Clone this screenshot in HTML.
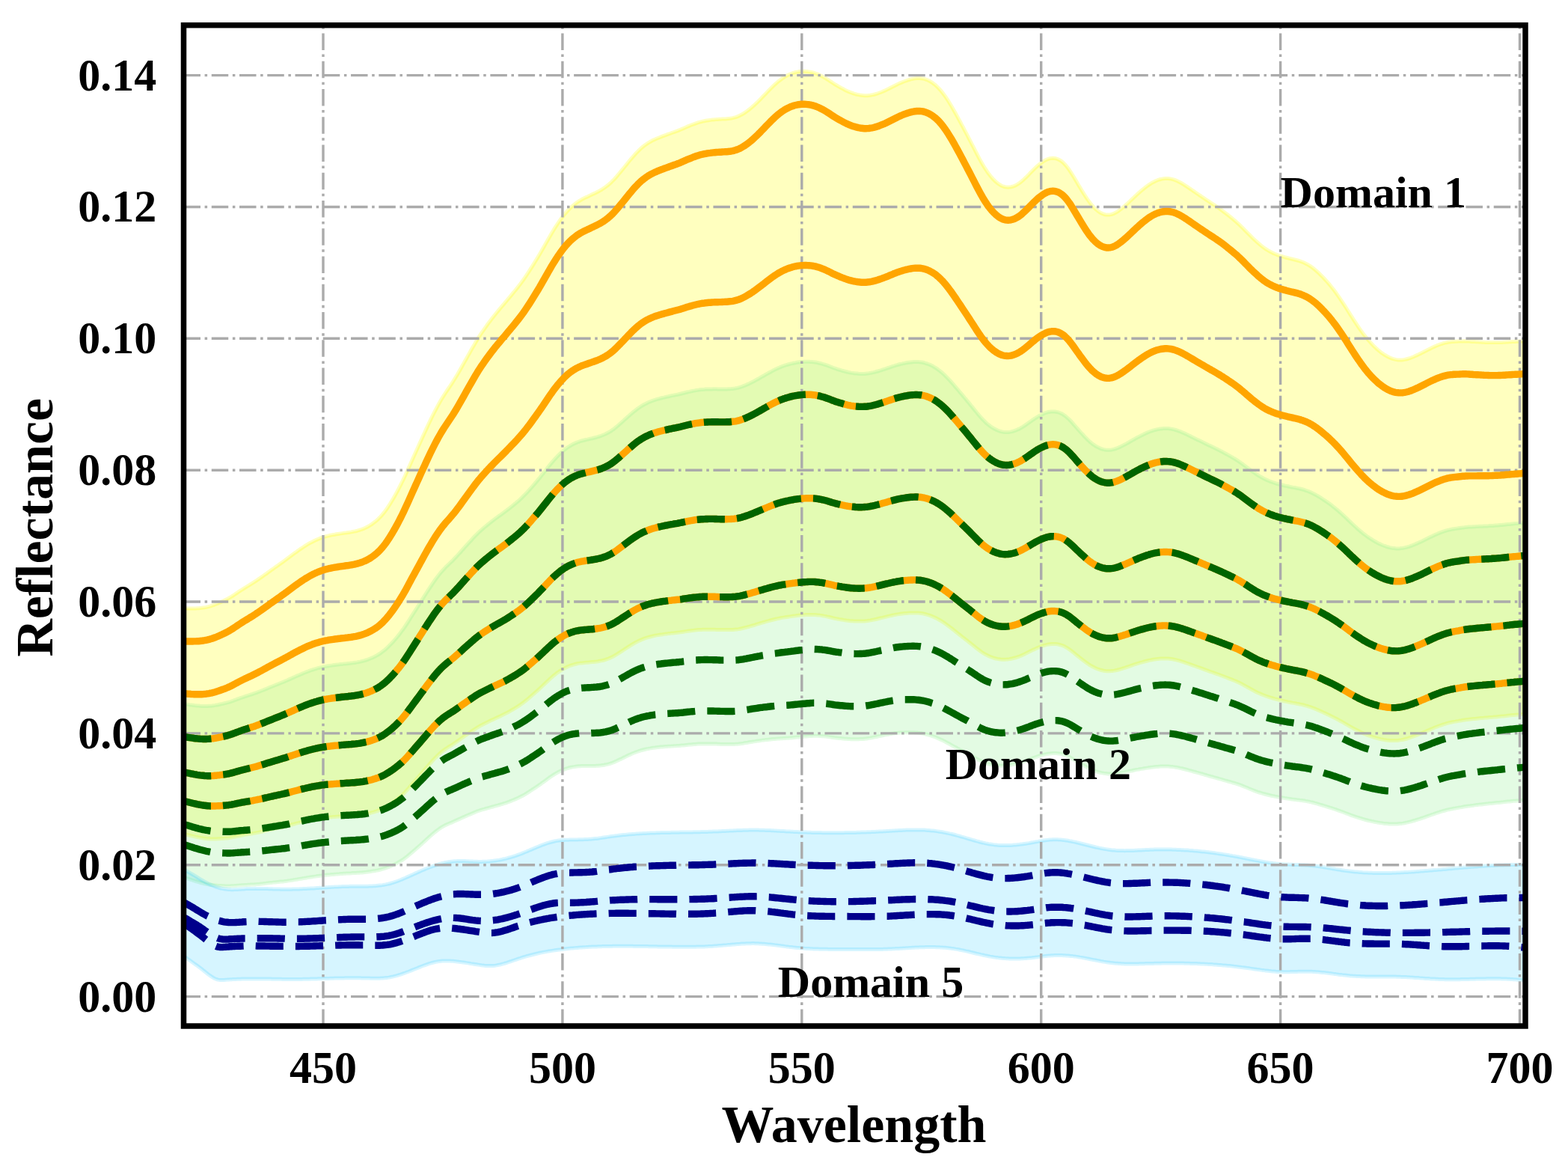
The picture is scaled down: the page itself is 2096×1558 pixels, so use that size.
<!DOCTYPE html>
<html><head><meta charset="utf-8"><title>Reflectance vs Wavelength</title>
<style>
html,body{margin:0;padding:0;background:#fff;}
body{width:2096px;height:1558px;overflow:hidden;}
svg{display:block;}
text{font-family:"Liberation Serif","Times New Roman",serif;font-weight:bold;fill:#000;}
.t{font-size:60px;}
.l{font-size:70px;}
</style></head><body>
<svg width="2096" height="1558" viewBox="0 0 2096 1558">
<rect width="2096" height="1558" fill="#fff"/>
<defs><clipPath id="ax"><rect x="245.5" y="33.7" width="1793.5" height="1337.3"/></clipPath></defs>
<g clip-path="url(#ax)">
<path d="M245.5,813.1 L247.5,813.0 L249.5,813.0 L251.5,813.0 L253.5,813.0 L255.5,813.0 L257.5,813.0 L259.5,813.0 L261.5,812.9 L263.5,812.8 L265.5,812.7 L267.5,812.5 L269.5,812.3 L271.5,812.0 L273.5,811.7 L275.5,811.4 L277.5,810.9 L279.5,810.4 L281.5,809.9 L283.5,809.2 L285.5,808.6 L287.5,807.8 L289.5,807.0 L291.5,806.2 L293.5,805.3 L295.5,804.4 L297.5,803.5 L299.5,802.5 L301.5,801.5 L303.5,800.5 L305.5,799.4 L307.5,798.3 L309.5,797.1 L311.5,795.8 L313.5,794.5 L315.5,793.1 L317.5,791.8 L319.5,790.4 L321.5,789.1 L323.5,787.9 L325.5,786.6 L327.5,785.3 L329.5,784.1 L331.5,782.9 L333.5,781.7 L335.5,780.4 L337.5,779.2 L339.5,777.9 L341.5,776.6 L343.5,775.3 L345.5,773.9 L347.5,772.5 L349.5,771.1 L351.5,769.7 L353.5,768.3 L355.5,766.9 L357.5,765.4 L359.5,764.0 L361.5,762.6 L363.5,761.1 L365.5,759.7 L367.5,758.3 L369.5,756.9 L371.5,755.5 L373.5,754.0 L375.5,752.6 L377.5,751.2 L379.5,749.7 L381.5,748.3 L383.5,746.8 L385.5,745.3 L387.5,743.8 L389.5,742.3 L391.5,740.8 L393.5,739.3 L395.5,737.9 L397.5,736.4 L399.5,735.0 L401.5,733.6 L403.5,732.3 L405.5,731.0 L407.5,729.7 L409.5,728.4 L411.5,727.2 L413.5,726.0 L415.5,724.9 L417.5,723.9 L419.5,722.9 L421.5,722.0 L423.5,721.1 L425.5,720.2 L427.5,719.4 L429.5,718.7 L431.5,718.0 L433.5,717.3 L435.5,716.8 L437.5,716.2 L439.5,715.8 L441.5,715.3 L443.5,714.9 L445.5,714.5 L447.5,714.2 L449.5,713.8 L451.5,713.5 L453.5,713.2 L455.5,712.9 L457.5,712.6 L459.5,712.3 L461.5,712.1 L463.5,711.8 L465.5,711.5 L467.5,711.2 L469.5,710.9 L471.5,710.5 L473.5,710.1 L475.5,709.7 L477.5,709.2 L479.5,708.6 L481.5,708.0 L483.5,707.3 L485.5,706.6 L487.5,705.7 L489.5,704.8 L491.5,703.7 L493.5,702.6 L495.5,701.4 L497.5,700.1 L499.5,698.6 L501.5,697.1 L503.5,695.4 L505.5,693.6 L507.5,691.6 L509.5,689.5 L511.5,687.1 L513.5,684.7 L515.5,682.0 L517.5,679.2 L519.5,676.2 L521.5,673.1 L523.5,669.8 L525.5,666.5 L527.5,663.0 L529.5,659.4 L531.5,655.7 L533.5,651.9 L535.5,648.0 L537.5,644.0 L539.5,639.9 L541.5,635.7 L543.5,631.3 L545.5,626.9 L547.5,622.4 L549.5,617.9 L551.5,613.4 L553.5,609.0 L555.5,604.6 L557.5,600.2 L559.5,595.8 L561.5,591.4 L563.5,587.0 L565.5,582.6 L567.5,578.2 L569.5,573.9 L571.5,569.6 L573.5,565.3 L575.5,561.1 L577.5,557.0 L579.5,553.0 L581.5,549.1 L583.5,545.3 L585.5,541.6 L587.5,538.0 L589.5,534.6 L591.5,531.3 L593.5,528.1 L595.5,525.0 L597.5,522.0 L599.5,519.0 L601.5,516.1 L603.5,513.1 L605.5,510.0 L607.5,506.8 L609.5,503.5 L611.5,500.2 L613.5,496.7 L615.5,493.2 L617.5,489.7 L619.5,486.1 L621.5,482.5 L623.5,479.0 L625.5,475.4 L627.5,471.9 L629.5,468.3 L631.5,464.8 L633.5,461.4 L635.5,457.9 L637.5,454.6 L639.5,451.3 L641.5,448.2 L643.5,445.2 L645.5,442.3 L647.5,439.4 L649.5,436.6 L651.5,433.8 L653.5,431.1 L655.5,428.4 L657.5,425.8 L659.5,423.2 L661.5,420.7 L663.5,418.2 L665.5,415.8 L667.5,413.4 L669.5,411.0 L671.5,408.7 L673.5,406.3 L675.5,403.9 L677.5,401.6 L679.5,399.2 L681.5,396.8 L683.5,394.4 L685.5,391.9 L687.5,389.5 L689.5,387.1 L691.5,384.6 L693.5,382.0 L695.5,379.4 L697.5,376.7 L699.5,374.0 L701.5,371.1 L703.5,368.2 L705.5,365.2 L707.5,362.1 L709.5,358.9 L711.5,355.8 L713.5,352.6 L715.5,349.3 L717.5,346.1 L719.5,342.8 L721.5,339.4 L723.5,336.0 L725.5,332.5 L727.5,329.0 L729.5,325.4 L731.5,321.9 L733.5,318.4 L735.5,314.9 L737.5,311.5 L739.5,308.2 L741.5,304.9 L743.5,301.8 L745.5,298.8 L747.5,295.9 L749.5,293.0 L751.5,290.3 L753.5,287.7 L755.5,285.3 L757.5,283.0 L759.5,280.8 L761.5,278.8 L763.5,276.9 L765.5,275.1 L767.5,273.4 L769.5,271.8 L771.5,270.3 L773.5,269.0 L775.5,267.8 L777.5,266.6 L779.5,265.6 L781.5,264.6 L783.5,263.6 L785.5,262.7 L787.5,261.7 L789.5,260.8 L791.5,259.8 L793.5,258.9 L795.5,258.0 L797.5,257.0 L799.5,256.0 L801.5,254.9 L803.5,253.8 L805.5,252.5 L807.5,251.2 L809.5,249.8 L811.5,248.3 L813.5,246.7 L815.5,245.0 L817.5,243.1 L819.5,241.1 L821.5,239.0 L823.5,236.8 L825.5,234.4 L827.5,232.0 L829.5,229.6 L831.5,227.2 L833.5,224.7 L835.5,222.2 L837.5,219.8 L839.5,217.3 L841.5,214.8 L843.5,212.4 L845.5,210.1 L847.5,207.8 L849.5,205.5 L851.5,203.4 L853.5,201.4 L855.5,199.5 L857.5,197.7 L859.5,196.0 L861.5,194.4 L863.5,193.0 L865.5,191.6 L867.5,190.4 L869.5,189.2 L871.5,188.1 L873.5,187.1 L875.5,186.2 L877.5,185.3 L879.5,184.5 L881.5,183.7 L883.5,182.9 L885.5,182.1 L887.5,181.4 L889.5,180.7 L891.5,179.9 L893.5,179.2 L895.5,178.5 L897.5,177.7 L899.5,177.0 L901.5,176.3 L903.5,175.6 L905.5,174.9 L907.5,174.1 L909.5,173.3 L911.5,172.4 L913.5,171.6 L915.5,170.7 L917.5,169.8 L919.5,168.9 L921.5,168.1 L923.5,167.3 L925.5,166.5 L927.5,165.8 L929.5,165.1 L931.5,164.4 L933.5,163.7 L935.5,163.1 L937.5,162.6 L939.5,162.1 L941.5,161.7 L943.5,161.3 L945.5,161.0 L947.5,160.7 L949.5,160.4 L951.5,160.1 L953.5,159.9 L955.5,159.7 L957.5,159.6 L959.5,159.4 L961.5,159.3 L963.5,159.2 L965.5,159.1 L967.5,159.0 L969.5,158.9 L971.5,158.7 L973.5,158.5 L975.5,158.3 L977.5,158.0 L979.5,157.6 L981.5,157.1 L983.5,156.6 L985.5,155.9 L987.5,155.0 L989.5,154.1 L991.5,153.1 L993.5,151.9 L995.5,150.6 L997.5,149.2 L999.5,147.8 L1001.5,146.2 L1003.5,144.6 L1005.5,142.9 L1007.5,141.1 L1009.5,139.3 L1011.5,137.4 L1013.5,135.4 L1015.5,133.4 L1017.5,131.4 L1019.5,129.3 L1021.5,127.2 L1023.5,125.2 L1025.5,123.1 L1027.5,121.0 L1029.5,119.0 L1031.5,117.0 L1033.5,115.0 L1035.5,113.1 L1037.5,111.3 L1039.5,109.6 L1041.5,107.9 L1043.5,106.4 L1045.5,104.9 L1047.5,103.6 L1049.5,102.4 L1051.5,101.3 L1053.5,100.2 L1055.5,99.3 L1057.5,98.5 L1059.5,97.7 L1061.5,97.1 L1063.5,96.5 L1065.5,96.1 L1067.5,95.8 L1069.5,95.5 L1071.5,95.4 L1073.5,95.3 L1075.5,95.3 L1077.5,95.4 L1079.5,95.6 L1081.5,95.9 L1083.5,96.2 L1085.5,96.6 L1087.5,97.2 L1089.5,97.8 L1091.5,98.5 L1093.5,99.4 L1095.5,100.3 L1097.5,101.2 L1099.5,102.3 L1101.5,103.4 L1103.5,104.5 L1105.5,105.8 L1107.5,107.0 L1109.5,108.4 L1111.5,109.7 L1113.5,111.0 L1115.5,112.3 L1117.5,113.5 L1119.5,114.7 L1121.5,115.9 L1123.5,117.0 L1125.5,118.1 L1127.5,119.1 L1129.5,120.2 L1131.5,121.2 L1133.5,122.1 L1135.5,122.9 L1137.5,123.7 L1139.5,124.4 L1141.5,125.1 L1143.5,125.7 L1145.5,126.2 L1147.5,126.6 L1149.5,127.0 L1151.5,127.3 L1153.5,127.6 L1155.5,127.7 L1157.5,127.7 L1159.5,127.7 L1161.5,127.5 L1163.5,127.3 L1165.5,126.9 L1167.5,126.5 L1169.5,126.0 L1171.5,125.4 L1173.5,124.8 L1175.5,124.0 L1177.5,123.3 L1179.5,122.5 L1181.5,121.6 L1183.5,120.7 L1185.5,119.7 L1187.5,118.8 L1189.5,117.8 L1191.5,116.7 L1193.5,115.7 L1195.5,114.7 L1197.5,113.7 L1199.5,112.7 L1201.5,111.8 L1203.5,110.9 L1205.5,110.1 L1207.5,109.3 L1209.5,108.5 L1211.5,107.8 L1213.5,107.1 L1215.5,106.5 L1217.5,105.9 L1219.5,105.5 L1221.5,105.1 L1223.5,104.8 L1225.5,104.6 L1227.5,104.5 L1229.5,104.5 L1231.5,104.7 L1233.5,105.0 L1235.5,105.4 L1237.5,106.1 L1239.5,106.8 L1241.5,107.7 L1243.5,108.8 L1245.5,110.0 L1247.5,111.4 L1249.5,112.9 L1251.5,114.7 L1253.5,116.6 L1255.5,118.7 L1257.5,120.9 L1259.5,123.4 L1261.5,126.0 L1263.5,128.7 L1265.5,131.7 L1267.5,134.7 L1269.5,138.0 L1271.5,141.3 L1273.5,144.7 L1275.5,148.2 L1277.5,151.8 L1279.5,155.4 L1281.5,159.1 L1283.5,162.8 L1285.5,166.6 L1287.5,170.3 L1289.5,174.1 L1291.5,177.9 L1293.5,181.7 L1295.5,185.6 L1297.5,189.4 L1299.5,193.3 L1301.5,197.2 L1303.5,201.1 L1305.5,205.0 L1307.5,208.8 L1309.5,212.6 L1311.5,216.2 L1313.5,219.7 L1315.5,223.1 L1317.5,226.2 L1319.5,229.2 L1321.5,232.0 L1323.5,234.6 L1325.5,237.0 L1327.5,239.2 L1329.5,241.3 L1331.5,243.1 L1333.5,244.8 L1335.5,246.2 L1337.5,247.5 L1339.5,248.5 L1341.5,249.3 L1343.5,249.8 L1345.5,250.1 L1347.5,250.2 L1349.5,250.1 L1351.5,249.8 L1353.5,249.3 L1355.5,248.6 L1357.5,247.7 L1359.5,246.6 L1361.5,245.4 L1363.5,244.0 L1365.5,242.4 L1367.5,240.7 L1369.5,238.8 L1371.5,236.9 L1373.5,234.9 L1375.5,232.9 L1377.5,230.8 L1379.5,228.8 L1381.5,226.8 L1383.5,224.8 L1385.5,222.9 L1387.5,221.1 L1389.5,219.5 L1391.5,217.9 L1393.5,216.5 L1395.5,215.2 L1397.5,214.0 L1399.5,213.0 L1401.5,212.3 L1403.5,211.7 L1405.5,211.4 L1407.5,211.3 L1409.5,211.5 L1411.5,211.8 L1413.5,212.5 L1415.5,213.4 L1417.5,214.5 L1419.5,215.9 L1421.5,217.6 L1423.5,219.7 L1425.5,221.9 L1427.5,224.5 L1429.5,227.3 L1431.5,230.3 L1433.5,233.5 L1435.5,236.8 L1437.5,240.1 L1439.5,243.5 L1441.5,246.9 L1443.5,250.2 L1445.5,253.6 L1447.5,256.8 L1449.5,260.0 L1451.5,263.1 L1453.5,266.1 L1455.5,268.9 L1457.5,271.6 L1459.5,274.1 L1461.5,276.3 L1463.5,278.4 L1465.5,280.2 L1467.5,281.9 L1469.5,283.3 L1471.5,284.5 L1473.5,285.4 L1475.5,286.2 L1477.5,286.7 L1479.5,287.0 L1481.5,287.1 L1483.5,286.9 L1485.5,286.5 L1487.5,285.9 L1489.5,285.1 L1491.5,284.1 L1493.5,282.9 L1495.5,281.6 L1497.5,280.1 L1499.5,278.6 L1501.5,276.9 L1503.5,275.2 L1505.5,273.4 L1507.5,271.6 L1509.5,269.7 L1511.5,267.8 L1513.5,265.9 L1515.5,264.0 L1517.5,262.1 L1519.5,260.2 L1521.5,258.4 L1523.5,256.6 L1525.5,254.9 L1527.5,253.2 L1529.5,251.6 L1531.5,250.0 L1533.5,248.5 L1535.5,247.1 L1537.5,245.8 L1539.5,244.5 L1541.5,243.4 L1543.5,242.4 L1545.5,241.5 L1547.5,240.7 L1549.5,240.0 L1551.5,239.5 L1553.5,239.1 L1555.5,238.7 L1557.5,238.6 L1559.5,238.5 L1561.5,238.6 L1563.5,238.8 L1565.5,239.1 L1567.5,239.6 L1569.5,240.2 L1571.5,240.9 L1573.5,241.7 L1575.5,242.7 L1577.5,243.7 L1579.5,244.8 L1581.5,246.0 L1583.5,247.3 L1585.5,248.6 L1587.5,249.9 L1589.5,251.3 L1591.5,252.6 L1593.5,254.0 L1595.5,255.4 L1597.5,256.8 L1599.5,258.2 L1601.5,259.5 L1603.5,260.9 L1605.5,262.2 L1607.5,263.6 L1609.5,264.9 L1611.5,266.3 L1613.5,267.6 L1615.5,268.9 L1617.5,270.2 L1619.5,271.6 L1621.5,272.9 L1623.5,274.2 L1625.5,275.5 L1627.5,276.8 L1629.5,278.2 L1631.5,279.7 L1633.5,281.2 L1635.5,282.7 L1637.5,284.2 L1639.5,285.7 L1641.5,287.3 L1643.5,288.9 L1645.5,290.5 L1647.5,292.1 L1649.5,293.8 L1651.5,295.5 L1653.5,297.3 L1655.5,299.1 L1657.5,301.0 L1659.5,303.0 L1661.5,304.9 L1663.5,307.0 L1665.5,309.0 L1667.5,311.1 L1669.5,313.1 L1671.5,315.1 L1673.5,317.1 L1675.5,319.0 L1677.5,320.8 L1679.5,322.7 L1681.5,324.4 L1683.5,326.2 L1685.5,327.9 L1687.5,329.5 L1689.5,331.0 L1691.5,332.4 L1693.5,333.7 L1695.5,334.9 L1697.5,336.0 L1699.5,337.1 L1701.5,338.1 L1703.5,339.0 L1705.5,339.8 L1707.5,340.6 L1709.5,341.3 L1711.5,341.9 L1713.5,342.5 L1715.5,343.1 L1717.5,343.7 L1719.5,344.2 L1721.5,344.7 L1723.5,345.3 L1725.5,345.7 L1727.5,346.2 L1729.5,346.7 L1731.5,347.2 L1733.5,347.7 L1735.5,348.2 L1737.5,348.9 L1739.5,349.6 L1741.5,350.3 L1743.5,351.2 L1745.5,352.2 L1747.5,353.2 L1749.5,354.4 L1751.5,355.6 L1753.5,357.0 L1755.5,358.5 L1757.5,360.1 L1759.5,361.8 L1761.5,363.6 L1763.5,365.4 L1765.5,367.4 L1767.5,369.4 L1769.5,371.5 L1771.5,373.7 L1773.5,375.9 L1775.5,378.2 L1777.5,380.5 L1779.5,383.0 L1781.5,385.5 L1783.5,388.1 L1785.5,390.8 L1787.5,393.6 L1789.5,396.4 L1791.5,399.3 L1793.5,402.3 L1795.5,405.3 L1797.5,408.4 L1799.5,411.5 L1801.5,414.7 L1803.5,417.9 L1805.5,421.1 L1807.5,424.2 L1809.5,427.3 L1811.5,430.4 L1813.5,433.4 L1815.5,436.4 L1817.5,439.3 L1819.5,442.1 L1821.5,444.9 L1823.5,447.5 L1825.5,450.1 L1827.5,452.5 L1829.5,454.9 L1831.5,457.1 L1833.5,459.3 L1835.5,461.4 L1837.5,463.4 L1839.5,465.3 L1841.5,467.1 L1843.5,468.8 L1845.5,470.4 L1847.5,471.9 L1849.5,473.3 L1851.5,474.5 L1853.5,475.7 L1855.5,476.8 L1857.5,477.8 L1859.5,478.6 L1861.5,479.3 L1863.5,479.9 L1865.5,480.4 L1867.5,480.7 L1869.5,480.9 L1871.5,480.9 L1873.5,480.9 L1875.5,480.7 L1877.5,480.4 L1879.5,480.0 L1881.5,479.5 L1883.5,478.9 L1885.5,478.3 L1887.5,477.5 L1889.5,476.7 L1891.5,475.8 L1893.5,474.9 L1895.5,474.0 L1897.5,473.0 L1899.5,472.1 L1901.5,471.1 L1903.5,470.0 L1905.5,469.0 L1907.5,468.0 L1909.5,466.9 L1911.5,465.9 L1913.5,464.9 L1915.5,464.0 L1917.5,463.1 L1919.5,462.2 L1921.5,461.4 L1923.5,460.7 L1925.5,459.9 L1927.5,459.3 L1929.5,458.7 L1931.5,458.1 L1933.5,457.7 L1935.5,457.3 L1937.5,456.9 L1939.5,456.7 L1941.5,456.5 L1943.5,456.4 L1945.5,456.3 L1947.5,456.2 L1949.5,456.1 L1951.5,456.0 L1953.5,455.9 L1955.5,455.9 L1957.5,455.8 L1959.5,455.9 L1961.5,455.9 L1963.5,456.1 L1965.5,456.2 L1967.5,456.4 L1969.5,456.5 L1971.5,456.6 L1973.5,456.7 L1975.5,456.8 L1977.5,456.9 L1979.5,457.0 L1981.5,457.2 L1983.5,457.3 L1985.5,457.4 L1987.5,457.5 L1989.5,457.5 L1991.5,457.6 L1993.5,457.6 L1995.5,457.6 L1997.5,457.6 L1999.5,457.6 L2001.5,457.6 L2003.5,457.6 L2005.5,457.5 L2007.5,457.4 L2009.5,457.3 L2011.5,457.2 L2013.5,457.1 L2015.5,457.0 L2017.5,456.8 L2019.5,456.7 L2021.5,456.6 L2023.5,456.5 L2025.5,456.4 L2027.5,456.3 L2029.5,456.2 L2031.5,456.0 L2033.5,455.9 L2035.5,455.8 L2037.5,455.6 L2037.5,954.1 L2035.5,954.3 L2033.5,954.5 L2031.5,954.7 L2029.5,954.9 L2027.5,955.1 L2025.5,955.2 L2023.5,955.4 L2021.5,955.6 L2019.5,955.8 L2017.5,956.0 L2015.5,956.2 L2013.5,956.5 L2011.5,956.7 L2009.5,956.9 L2007.5,957.1 L2005.5,957.3 L2003.5,957.5 L2001.5,957.7 L1999.5,957.9 L1997.5,958.1 L1995.5,958.3 L1993.5,958.4 L1991.5,958.6 L1989.5,958.8 L1987.5,959.0 L1985.5,959.1 L1983.5,959.3 L1981.5,959.4 L1979.5,959.6 L1977.5,959.8 L1975.5,960.0 L1973.5,960.2 L1971.5,960.4 L1969.5,960.6 L1967.5,960.8 L1965.5,961.0 L1963.5,961.2 L1961.5,961.4 L1959.5,961.7 L1957.5,962.0 L1955.5,962.3 L1953.5,962.7 L1951.5,963.0 L1949.5,963.4 L1947.5,963.7 L1945.5,964.1 L1943.5,964.4 L1941.5,964.8 L1939.5,965.2 L1937.5,965.6 L1935.5,966.1 L1933.5,966.7 L1931.5,967.3 L1929.5,967.9 L1927.5,968.6 L1925.5,969.3 L1923.5,970.0 L1921.5,970.8 L1919.5,971.5 L1917.5,972.3 L1915.5,973.2 L1913.5,974.0 L1911.5,974.9 L1909.5,975.7 L1907.5,976.6 L1905.5,977.5 L1903.5,978.3 L1901.5,979.2 L1899.5,980.0 L1897.5,980.8 L1895.5,981.6 L1893.5,982.4 L1891.5,983.2 L1889.5,983.9 L1887.5,984.7 L1885.5,985.4 L1883.5,986.0 L1881.5,986.7 L1879.5,987.2 L1877.5,987.7 L1875.5,988.2 L1873.5,988.6 L1871.5,988.9 L1869.5,989.2 L1867.5,989.4 L1865.5,989.5 L1863.5,989.6 L1861.5,989.6 L1859.5,989.5 L1857.5,989.4 L1855.5,989.2 L1853.5,989.0 L1851.5,988.7 L1849.5,988.4 L1847.5,988.0 L1845.5,987.6 L1843.5,987.1 L1841.5,986.6 L1839.5,986.1 L1837.5,985.5 L1835.5,984.9 L1833.5,984.2 L1831.5,983.5 L1829.5,982.8 L1827.5,982.1 L1825.5,981.3 L1823.5,980.4 L1821.5,979.5 L1819.5,978.6 L1817.5,977.6 L1815.5,976.6 L1813.5,975.6 L1811.5,974.6 L1809.5,973.5 L1807.5,972.4 L1805.5,971.3 L1803.5,970.1 L1801.5,968.9 L1799.5,967.8 L1797.5,966.6 L1795.5,965.4 L1793.5,964.3 L1791.5,963.2 L1789.5,962.1 L1787.5,961.0 L1785.5,959.9 L1783.5,958.9 L1781.5,957.9 L1779.5,956.9 L1777.5,955.9 L1775.5,955.0 L1773.5,954.1 L1771.5,953.1 L1769.5,952.2 L1767.5,951.3 L1765.5,950.4 L1763.5,949.5 L1761.5,948.6 L1759.5,947.8 L1757.5,946.9 L1755.5,946.2 L1753.5,945.4 L1751.5,944.7 L1749.5,944.1 L1747.5,943.4 L1745.5,942.9 L1743.5,942.3 L1741.5,941.8 L1739.5,941.4 L1737.5,941.0 L1735.5,940.5 L1733.5,940.2 L1731.5,939.8 L1729.5,939.4 L1727.5,939.1 L1725.5,938.7 L1723.5,938.3 L1721.5,937.9 L1719.5,937.4 L1717.5,937.0 L1715.5,936.5 L1713.5,936.1 L1711.5,935.6 L1709.5,935.1 L1707.5,934.6 L1705.5,934.1 L1703.5,933.6 L1701.5,933.0 L1699.5,932.4 L1697.5,931.8 L1695.5,931.2 L1693.5,930.5 L1691.5,929.8 L1689.5,929.0 L1687.5,928.2 L1685.5,927.4 L1683.5,926.5 L1681.5,925.7 L1679.5,924.7 L1677.5,923.7 L1675.5,922.6 L1673.5,921.5 L1671.5,920.4 L1669.5,919.3 L1667.5,918.2 L1665.5,917.1 L1663.5,916.0 L1661.5,914.9 L1659.5,913.8 L1657.5,912.8 L1655.5,911.8 L1653.5,910.9 L1651.5,910.0 L1649.5,909.2 L1647.5,908.4 L1645.5,907.6 L1643.5,906.9 L1641.5,906.1 L1639.5,905.3 L1637.5,904.5 L1635.5,903.8 L1633.5,903.0 L1631.5,902.3 L1629.5,901.5 L1627.5,900.8 L1625.5,900.1 L1623.5,899.4 L1621.5,898.7 L1619.5,898.0 L1617.5,897.3 L1615.5,896.6 L1613.5,895.8 L1611.5,895.1 L1609.5,894.4 L1607.5,893.6 L1605.5,892.9 L1603.5,892.2 L1601.5,891.5 L1599.5,890.8 L1597.5,890.0 L1595.5,889.3 L1593.5,888.6 L1591.5,887.9 L1589.5,887.2 L1587.5,886.5 L1585.5,885.8 L1583.5,885.1 L1581.5,884.4 L1579.5,883.8 L1577.5,883.2 L1575.5,882.6 L1573.5,882.1 L1571.5,881.6 L1569.5,881.2 L1567.5,880.8 L1565.5,880.5 L1563.5,880.2 L1561.5,880.1 L1559.5,880.0 L1557.5,879.9 L1555.5,879.9 L1553.5,880.0 L1551.5,880.1 L1549.5,880.2 L1547.5,880.4 L1545.5,880.7 L1543.5,881.0 L1541.5,881.3 L1539.5,881.7 L1537.5,882.1 L1535.5,882.5 L1533.5,883.0 L1531.5,883.5 L1529.5,884.0 L1527.5,884.6 L1525.5,885.1 L1523.5,885.7 L1521.5,886.3 L1519.5,886.9 L1517.5,887.5 L1515.5,888.2 L1513.5,888.9 L1511.5,889.6 L1509.5,890.3 L1507.5,891.0 L1505.5,891.6 L1503.5,892.3 L1501.5,892.9 L1499.5,893.6 L1497.5,894.2 L1495.5,894.8 L1493.5,895.3 L1491.5,895.7 L1489.5,896.1 L1487.5,896.4 L1485.5,896.6 L1483.5,896.7 L1481.5,896.8 L1479.5,896.7 L1477.5,896.5 L1475.5,896.2 L1473.5,895.8 L1471.5,895.3 L1469.5,894.7 L1467.5,894.0 L1465.5,893.2 L1463.5,892.3 L1461.5,891.3 L1459.5,890.2 L1457.5,889.1 L1455.5,887.8 L1453.5,886.4 L1451.5,885.0 L1449.5,883.5 L1447.5,882.0 L1445.5,880.5 L1443.5,878.9 L1441.5,877.3 L1439.5,875.7 L1437.5,874.1 L1435.5,872.4 L1433.5,870.8 L1431.5,869.3 L1429.5,867.8 L1427.5,866.4 L1425.5,865.2 L1423.5,864.1 L1421.5,863.1 L1419.5,862.3 L1417.5,861.7 L1415.5,861.2 L1413.5,860.8 L1411.5,860.6 L1409.5,860.4 L1407.5,860.4 L1405.5,860.5 L1403.5,860.7 L1401.5,861.0 L1399.5,861.4 L1397.5,861.9 L1395.5,862.5 L1393.5,863.1 L1391.5,863.8 L1389.5,864.6 L1387.5,865.4 L1385.5,866.3 L1383.5,867.2 L1381.5,868.1 L1379.5,869.1 L1377.5,870.1 L1375.5,871.1 L1373.5,872.1 L1371.5,873.1 L1369.5,874.1 L1367.5,875.0 L1365.5,875.9 L1363.5,876.7 L1361.5,877.5 L1359.5,878.1 L1357.5,878.8 L1355.5,879.3 L1353.5,879.8 L1351.5,880.2 L1349.5,880.6 L1347.5,880.9 L1345.5,881.1 L1343.5,881.2 L1341.5,881.2 L1339.5,881.2 L1337.5,881.0 L1335.5,880.7 L1333.5,880.4 L1331.5,880.0 L1329.5,879.5 L1327.5,878.9 L1325.5,878.2 L1323.5,877.4 L1321.5,876.6 L1319.5,875.6 L1317.5,874.6 L1315.5,873.4 L1313.5,872.2 L1311.5,870.8 L1309.5,869.3 L1307.5,867.8 L1305.5,866.3 L1303.5,864.6 L1301.5,863.0 L1299.5,861.4 L1297.5,859.8 L1295.5,858.2 L1293.5,856.6 L1291.5,855.1 L1289.5,853.5 L1287.5,851.9 L1285.5,850.4 L1283.5,848.8 L1281.5,847.2 L1279.5,845.6 L1277.5,844.0 L1275.5,842.4 L1273.5,840.8 L1271.5,839.2 L1269.5,837.7 L1267.5,836.2 L1265.5,834.7 L1263.5,833.3 L1261.5,831.9 L1259.5,830.6 L1257.5,829.3 L1255.5,828.2 L1253.5,827.1 L1251.5,826.0 L1249.5,825.1 L1247.5,824.2 L1245.5,823.4 L1243.5,822.6 L1241.5,821.9 L1239.5,821.3 L1237.5,820.7 L1235.5,820.2 L1233.5,819.8 L1231.5,819.5 L1229.5,819.2 L1227.5,819.1 L1225.5,819.0 L1223.5,818.9 L1221.5,818.9 L1219.5,818.9 L1217.5,819.0 L1215.5,819.1 L1213.5,819.2 L1211.5,819.4 L1209.5,819.6 L1207.5,819.8 L1205.5,820.0 L1203.5,820.3 L1201.5,820.6 L1199.5,820.9 L1197.5,821.2 L1195.5,821.6 L1193.5,822.0 L1191.5,822.5 L1189.5,822.9 L1187.5,823.4 L1185.5,823.9 L1183.5,824.4 L1181.5,824.9 L1179.5,825.4 L1177.5,825.8 L1175.5,826.3 L1173.5,826.8 L1171.5,827.3 L1169.5,827.7 L1167.5,828.1 L1165.5,828.5 L1163.5,828.9 L1161.5,829.2 L1159.5,829.5 L1157.5,829.7 L1155.5,829.9 L1153.5,830.0 L1151.5,830.1 L1149.5,830.1 L1147.5,830.1 L1145.5,830.1 L1143.5,830.0 L1141.5,829.9 L1139.5,829.8 L1137.5,829.7 L1135.5,829.5 L1133.5,829.2 L1131.5,829.0 L1129.5,828.7 L1127.5,828.4 L1125.5,828.0 L1123.5,827.7 L1121.5,827.4 L1119.5,827.0 L1117.5,826.6 L1115.5,826.2 L1113.5,825.8 L1111.5,825.3 L1109.5,824.8 L1107.5,824.3 L1105.5,823.9 L1103.5,823.4 L1101.5,823.1 L1099.5,822.7 L1097.5,822.4 L1095.5,822.1 L1093.5,821.9 L1091.5,821.7 L1089.5,821.5 L1087.5,821.4 L1085.5,821.4 L1083.5,821.4 L1081.5,821.4 L1079.5,821.5 L1077.5,821.6 L1075.5,821.7 L1073.5,821.8 L1071.5,822.0 L1069.5,822.1 L1067.5,822.3 L1065.5,822.5 L1063.5,822.8 L1061.5,823.0 L1059.5,823.3 L1057.5,823.6 L1055.5,823.9 L1053.5,824.2 L1051.5,824.5 L1049.5,824.8 L1047.5,825.1 L1045.5,825.4 L1043.5,825.8 L1041.5,826.2 L1039.5,826.6 L1037.5,827.0 L1035.5,827.5 L1033.5,828.0 L1031.5,828.5 L1029.5,829.0 L1027.5,829.6 L1025.5,830.1 L1023.5,830.7 L1021.5,831.3 L1019.5,831.8 L1017.5,832.4 L1015.5,833.0 L1013.5,833.6 L1011.5,834.2 L1009.5,834.9 L1007.5,835.5 L1005.5,836.0 L1003.5,836.6 L1001.5,837.2 L999.5,837.7 L997.5,838.3 L995.5,838.8 L993.5,839.3 L991.5,839.8 L989.5,840.2 L987.5,840.6 L985.5,840.9 L983.5,841.1 L981.5,841.3 L979.5,841.5 L977.5,841.6 L975.5,841.6 L973.5,841.6 L971.5,841.6 L969.5,841.6 L967.5,841.6 L965.5,841.6 L963.5,841.6 L961.5,841.5 L959.5,841.4 L957.5,841.4 L955.5,841.3 L953.5,841.3 L951.5,841.2 L949.5,841.2 L947.5,841.2 L945.5,841.2 L943.5,841.2 L941.5,841.3 L939.5,841.3 L937.5,841.4 L935.5,841.5 L933.5,841.6 L931.5,841.8 L929.5,842.0 L927.5,842.3 L925.5,842.5 L923.5,842.7 L921.5,843.0 L919.5,843.3 L917.5,843.6 L915.5,843.9 L913.5,844.2 L911.5,844.5 L909.5,844.8 L907.5,845.1 L905.5,845.3 L903.5,845.5 L901.5,845.7 L899.5,845.9 L897.5,846.1 L895.5,846.4 L893.5,846.6 L891.5,846.9 L889.5,847.1 L887.5,847.4 L885.5,847.7 L883.5,847.9 L881.5,848.3 L879.5,848.6 L877.5,848.9 L875.5,849.3 L873.5,849.7 L871.5,850.2 L869.5,850.7 L867.5,851.2 L865.5,851.8 L863.5,852.4 L861.5,853.1 L859.5,853.9 L857.5,854.7 L855.5,855.6 L853.5,856.5 L851.5,857.5 L849.5,858.5 L847.5,859.7 L845.5,860.8 L843.5,862.0 L841.5,863.3 L839.5,864.6 L837.5,865.9 L835.5,867.2 L833.5,868.5 L831.5,869.8 L829.5,871.1 L827.5,872.4 L825.5,873.7 L823.5,874.9 L821.5,876.1 L819.5,877.2 L817.5,878.2 L815.5,879.1 L813.5,880.0 L811.5,880.7 L809.5,881.4 L807.5,882.0 L805.5,882.5 L803.5,882.9 L801.5,883.3 L799.5,883.7 L797.5,884.0 L795.5,884.2 L793.5,884.4 L791.5,884.6 L789.5,884.8 L787.5,885.0 L785.5,885.2 L783.5,885.3 L781.5,885.5 L779.5,885.7 L777.5,885.9 L775.5,886.1 L773.5,886.4 L771.5,886.8 L769.5,887.3 L767.5,887.8 L765.5,888.4 L763.5,889.0 L761.5,889.7 L759.5,890.5 L757.5,891.4 L755.5,892.4 L753.5,893.5 L751.5,894.6 L749.5,895.9 L747.5,897.2 L745.5,898.6 L743.5,900.1 L741.5,901.7 L739.5,903.3 L737.5,905.1 L735.5,906.8 L733.5,908.7 L731.5,910.6 L729.5,912.5 L727.5,914.4 L725.5,916.3 L723.5,918.2 L721.5,920.0 L719.5,921.9 L717.5,923.7 L715.5,925.4 L713.5,927.2 L711.5,928.9 L709.5,930.6 L707.5,932.4 L705.5,934.1 L703.5,935.7 L701.5,937.3 L699.5,938.9 L697.5,940.3 L695.5,941.7 L693.5,943.1 L691.5,944.4 L689.5,945.6 L687.5,946.9 L685.5,948.0 L683.5,949.2 L681.5,950.4 L679.5,951.5 L677.5,952.6 L675.5,953.6 L673.5,954.6 L671.5,955.6 L669.5,956.6 L667.5,957.5 L665.5,958.4 L663.5,959.3 L661.5,960.3 L659.5,961.2 L657.5,962.1 L655.5,963.1 L653.5,964.1 L651.5,965.1 L649.5,966.0 L647.5,967.0 L645.5,968.0 L643.5,969.1 L641.5,970.1 L639.5,971.3 L637.5,972.5 L635.5,973.8 L633.5,975.1 L631.5,976.4 L629.5,977.8 L627.5,979.1 L625.5,980.5 L623.5,981.9 L621.5,983.3 L619.5,984.7 L617.5,986.1 L615.5,987.5 L613.5,989.0 L611.5,990.4 L609.5,991.7 L607.5,993.1 L605.5,994.5 L603.5,995.8 L601.5,997.0 L599.5,998.2 L597.5,999.5 L595.5,1000.8 L593.5,1002.3 L591.5,1003.8 L589.5,1005.4 L587.5,1007.2 L585.5,1009.0 L583.5,1011.0 L581.5,1013.0 L579.5,1015.1 L577.5,1017.3 L575.5,1019.5 L573.5,1021.8 L571.5,1024.1 L569.5,1026.4 L567.5,1028.7 L565.5,1031.1 L563.5,1033.4 L561.5,1035.7 L559.5,1038.1 L557.5,1040.4 L555.5,1042.7 L553.5,1044.9 L551.5,1047.2 L549.5,1049.5 L547.5,1051.8 L545.5,1054.1 L543.5,1056.3 L541.5,1058.4 L539.5,1060.4 L537.5,1062.4 L535.5,1064.2 L533.5,1065.9 L531.5,1067.5 L529.5,1069.1 L527.5,1070.6 L525.5,1072.1 L523.5,1073.5 L521.5,1074.8 L519.5,1076.1 L517.5,1077.3 L515.5,1078.5 L513.5,1079.5 L511.5,1080.5 L509.5,1081.5 L507.5,1082.3 L505.5,1083.1 L503.5,1083.8 L501.5,1084.5 L499.5,1085.1 L497.5,1085.6 L495.5,1086.2 L493.5,1086.6 L491.5,1087.1 L489.5,1087.5 L487.5,1087.9 L485.5,1088.2 L483.5,1088.5 L481.5,1088.8 L479.5,1089.0 L477.5,1089.3 L475.5,1089.4 L473.5,1089.6 L471.5,1089.8 L469.5,1089.9 L467.5,1090.0 L465.5,1090.2 L463.5,1090.3 L461.5,1090.4 L459.5,1090.5 L457.5,1090.7 L455.5,1090.8 L453.5,1090.9 L451.5,1091.1 L449.5,1091.2 L447.5,1091.4 L445.5,1091.5 L443.5,1091.7 L441.5,1091.9 L439.5,1092.0 L437.5,1092.2 L435.5,1092.4 L433.5,1092.6 L431.5,1092.9 L429.5,1093.2 L427.5,1093.4 L425.5,1093.8 L423.5,1094.1 L421.5,1094.4 L419.5,1094.8 L417.5,1095.2 L415.5,1095.6 L413.5,1096.0 L411.5,1096.5 L409.5,1096.9 L407.5,1097.4 L405.5,1097.9 L403.5,1098.4 L401.5,1098.9 L399.5,1099.4 L397.5,1099.9 L395.5,1100.4 L393.5,1101.0 L391.5,1101.5 L389.5,1102.0 L387.5,1102.6 L385.5,1103.1 L383.5,1103.6 L381.5,1104.1 L379.5,1104.5 L377.5,1105.0 L375.5,1105.4 L373.5,1105.9 L371.5,1106.3 L369.5,1106.7 L367.5,1107.1 L365.5,1107.6 L363.5,1108.0 L361.5,1108.5 L359.5,1108.9 L357.5,1109.4 L355.5,1109.9 L353.5,1110.4 L351.5,1110.8 L349.5,1111.3 L347.5,1111.7 L345.5,1112.2 L343.5,1112.6 L341.5,1113.0 L339.5,1113.4 L337.5,1113.7 L335.5,1114.1 L333.5,1114.4 L331.5,1114.8 L329.5,1115.1 L327.5,1115.4 L325.5,1115.8 L323.5,1116.2 L321.5,1116.5 L319.5,1117.0 L317.5,1117.4 L315.5,1117.8 L313.5,1118.2 L311.5,1118.6 L309.5,1119.0 L307.5,1119.4 L305.5,1119.7 L303.5,1119.9 L301.5,1120.1 L299.5,1120.3 L297.5,1120.4 L295.5,1120.6 L293.5,1120.7 L291.5,1120.8 L289.5,1120.9 L287.5,1120.9 L285.5,1121.0 L283.5,1121.0 L281.5,1120.9 L279.5,1120.8 L277.5,1120.7 L275.5,1120.5 L273.5,1120.2 L271.5,1120.0 L269.5,1119.6 L267.5,1119.3 L265.5,1118.9 L263.5,1118.5 L261.5,1118.1 L259.5,1117.6 L257.5,1117.1 L255.5,1116.7 L253.5,1116.2 L251.5,1115.7 L249.5,1115.2 L247.5,1114.6 L245.5,1114.1Z" fill="#ffff00" fill-opacity="0.25" stroke="#ffff00" stroke-opacity="0.25" stroke-width="5" stroke-linejoin="round"/>
<path d="M245.5,940.4 L247.5,940.8 L249.5,941.1 L251.5,941.4 L253.5,941.7 L255.5,941.9 L257.5,942.2 L259.5,942.5 L261.5,942.7 L263.5,943.0 L265.5,943.1 L267.5,943.3 L269.5,943.4 L271.5,943.5 L273.5,943.5 L275.5,943.5 L277.5,943.5 L279.5,943.3 L281.5,943.2 L283.5,943.0 L285.5,942.7 L287.5,942.4 L289.5,942.0 L291.5,941.7 L293.5,941.2 L295.5,940.8 L297.5,940.4 L299.5,939.9 L301.5,939.4 L303.5,938.9 L305.5,938.4 L307.5,937.8 L309.5,937.1 L311.5,936.4 L313.5,935.6 L315.5,934.9 L317.5,934.1 L319.5,933.4 L321.5,932.7 L323.5,932.0 L325.5,931.3 L327.5,930.6 L329.5,930.0 L331.5,929.3 L333.5,928.7 L335.5,928.0 L337.5,927.4 L339.5,926.7 L341.5,926.0 L343.5,925.3 L345.5,924.5 L347.5,923.8 L349.5,923.0 L351.5,922.2 L353.5,921.4 L355.5,920.6 L357.5,919.7 L359.5,918.9 L361.5,918.1 L363.5,917.3 L365.5,916.5 L367.5,915.7 L369.5,914.9 L371.5,914.1 L373.5,913.3 L375.5,912.5 L377.5,911.7 L379.5,910.9 L381.5,910.0 L383.5,909.2 L385.5,908.3 L387.5,907.4 L389.5,906.5 L391.5,905.6 L393.5,904.7 L395.5,903.8 L397.5,902.9 L399.5,902.1 L401.5,901.2 L403.5,900.4 L405.5,899.5 L407.5,898.7 L409.5,897.9 L411.5,897.2 L413.5,896.4 L415.5,895.7 L417.5,895.0 L419.5,894.4 L421.5,893.8 L423.5,893.2 L425.5,892.6 L427.5,892.1 L429.5,891.6 L431.5,891.2 L433.5,890.7 L435.5,890.4 L437.5,890.0 L439.5,889.7 L441.5,889.4 L443.5,889.1 L445.5,888.8 L447.5,888.5 L449.5,888.3 L451.5,888.1 L453.5,887.8 L455.5,887.6 L457.5,887.4 L459.5,887.1 L461.5,886.9 L463.5,886.7 L465.5,886.5 L467.5,886.3 L469.5,886.0 L471.5,885.8 L473.5,885.5 L475.5,885.2 L477.5,884.9 L479.5,884.5 L481.5,884.1 L483.5,883.6 L485.5,883.1 L487.5,882.6 L489.5,882.0 L491.5,881.3 L493.5,880.5 L495.5,879.7 L497.5,878.9 L499.5,878.0 L501.5,877.0 L503.5,875.9 L505.5,874.7 L507.5,873.5 L509.5,872.1 L511.5,870.6 L513.5,869.1 L515.5,867.4 L517.5,865.5 L519.5,863.6 L521.5,861.6 L523.5,859.5 L525.5,857.4 L527.5,855.1 L529.5,852.8 L531.5,850.4 L533.5,847.9 L535.5,845.3 L537.5,842.6 L539.5,839.9 L541.5,837.0 L543.5,834.0 L545.5,830.9 L547.5,827.7 L549.5,824.5 L551.5,821.4 L553.5,818.2 L555.5,815.1 L557.5,812.0 L559.5,808.8 L561.5,805.7 L563.5,802.5 L565.5,799.3 L567.5,796.2 L569.5,793.0 L571.5,789.9 L573.5,786.8 L575.5,783.8 L577.5,780.8 L579.5,777.9 L581.5,775.0 L583.5,772.3 L585.5,769.7 L587.5,767.1 L589.5,764.7 L591.5,762.4 L593.5,760.2 L595.5,758.1 L597.5,756.1 L599.5,754.2 L601.5,752.3 L603.5,750.4 L605.5,748.4 L607.5,746.3 L609.5,744.2 L611.5,742.1 L613.5,739.9 L615.5,737.7 L617.5,735.4 L619.5,733.2 L621.5,730.9 L623.5,728.7 L625.5,726.5 L627.5,724.3 L629.5,722.2 L631.5,720.0 L633.5,717.8 L635.5,715.7 L637.5,713.7 L639.5,711.7 L641.5,709.8 L643.5,708.1 L645.5,706.3 L647.5,704.6 L649.5,703.0 L651.5,701.3 L653.5,699.7 L655.5,698.1 L657.5,696.5 L659.5,695.0 L661.5,693.5 L663.5,692.0 L665.5,690.6 L667.5,689.1 L669.5,687.7 L671.5,686.2 L673.5,684.8 L675.5,683.3 L677.5,681.8 L679.5,680.2 L681.5,678.7 L683.5,677.1 L685.5,675.5 L687.5,673.8 L689.5,672.2 L691.5,670.5 L693.5,668.8 L695.5,667.0 L697.5,665.1 L699.5,663.1 L701.5,661.1 L703.5,659.0 L705.5,656.9 L707.5,654.6 L709.5,652.4 L711.5,650.1 L713.5,647.8 L715.5,645.5 L717.5,643.1 L719.5,640.7 L721.5,638.3 L723.5,635.8 L725.5,633.3 L727.5,630.8 L729.5,628.2 L731.5,625.7 L733.5,623.1 L735.5,620.6 L737.5,618.2 L739.5,615.9 L741.5,613.6 L743.5,611.4 L745.5,609.3 L747.5,607.3 L749.5,605.4 L751.5,603.6 L753.5,601.8 L755.5,600.2 L757.5,598.7 L759.5,597.3 L761.5,596.1 L763.5,594.9 L765.5,593.8 L767.5,592.8 L769.5,591.9 L771.5,591.0 L773.5,590.3 L775.5,589.6 L777.5,589.0 L779.5,588.5 L781.5,588.0 L783.5,587.5 L785.5,587.1 L787.5,586.6 L789.5,586.1 L791.5,585.7 L793.5,585.2 L795.5,584.7 L797.5,584.2 L799.5,583.6 L801.5,583.0 L803.5,582.3 L805.5,581.5 L807.5,580.7 L809.5,579.8 L811.5,578.8 L813.5,577.7 L815.5,576.6 L817.5,575.3 L819.5,573.9 L821.5,572.4 L823.5,570.7 L825.5,569.1 L827.5,567.3 L829.5,565.6 L831.5,563.8 L833.5,562.0 L835.5,560.2 L837.5,558.4 L839.5,556.6 L841.5,554.9 L843.5,553.1 L845.5,551.4 L847.5,549.7 L849.5,548.2 L851.5,546.6 L853.5,545.2 L855.5,543.8 L857.5,542.5 L859.5,541.3 L861.5,540.2 L863.5,539.2 L865.5,538.2 L867.5,537.3 L869.5,536.5 L871.5,535.7 L873.5,535.0 L875.5,534.3 L877.5,533.7 L879.5,533.1 L881.5,532.6 L883.5,532.0 L885.5,531.5 L887.5,531.1 L889.5,530.6 L891.5,530.1 L893.5,529.7 L895.5,529.2 L897.5,528.8 L899.5,528.4 L901.5,528.0 L903.5,527.6 L905.5,527.2 L907.5,526.8 L909.5,526.3 L911.5,525.8 L913.5,525.3 L915.5,524.8 L917.5,524.3 L919.5,523.8 L921.5,523.4 L923.5,522.9 L925.5,522.5 L927.5,522.1 L929.5,521.8 L931.5,521.4 L933.5,521.1 L935.5,520.8 L937.5,520.6 L939.5,520.4 L941.5,520.3 L943.5,520.1 L945.5,520.0 L947.5,520.0 L949.5,519.9 L951.5,519.9 L953.5,519.8 L955.5,519.8 L957.5,519.8 L959.5,519.9 L961.5,519.9 L963.5,520.0 L965.5,519.9 L967.5,519.9 L969.5,519.9 L971.5,519.9 L973.5,519.8 L975.5,519.7 L977.5,519.6 L979.5,519.4 L981.5,519.1 L983.5,518.8 L985.5,518.4 L987.5,517.9 L989.5,517.3 L991.5,516.7 L993.5,515.9 L995.5,515.2 L997.5,514.3 L999.5,513.4 L1001.5,512.5 L1003.5,511.5 L1005.5,510.5 L1007.5,509.5 L1009.5,508.4 L1011.5,507.3 L1013.5,506.2 L1015.5,505.1 L1017.5,503.9 L1019.5,502.8 L1021.5,501.7 L1023.5,500.5 L1025.5,499.4 L1027.5,498.3 L1029.5,497.2 L1031.5,496.1 L1033.5,495.0 L1035.5,494.0 L1037.5,493.0 L1039.5,492.1 L1041.5,491.2 L1043.5,490.4 L1045.5,489.6 L1047.5,488.9 L1049.5,488.2 L1051.5,487.6 L1053.5,487.0 L1055.5,486.4 L1057.5,485.9 L1059.5,485.5 L1061.5,485.0 L1063.5,484.7 L1065.5,484.3 L1067.5,484.0 L1069.5,483.8 L1071.5,483.6 L1073.5,483.4 L1075.5,483.3 L1077.5,483.3 L1079.5,483.3 L1081.5,483.3 L1083.5,483.4 L1085.5,483.5 L1087.5,483.7 L1089.5,484.0 L1091.5,484.3 L1093.5,484.7 L1095.5,485.2 L1097.5,485.7 L1099.5,486.3 L1101.5,486.9 L1103.5,487.5 L1105.5,488.2 L1107.5,488.9 L1109.5,489.7 L1111.5,490.5 L1113.5,491.3 L1115.5,492.0 L1117.5,492.7 L1119.5,493.4 L1121.5,494.0 L1123.5,494.6 L1125.5,495.2 L1127.5,495.7 L1129.5,496.3 L1131.5,496.8 L1133.5,497.3 L1135.5,497.7 L1137.5,498.1 L1139.5,498.4 L1141.5,498.7 L1143.5,499.0 L1145.5,499.1 L1147.5,499.3 L1149.5,499.4 L1151.5,499.5 L1153.5,499.4 L1155.5,499.4 L1157.5,499.2 L1159.5,499.0 L1161.5,498.8 L1163.5,498.4 L1165.5,498.0 L1167.5,497.6 L1169.5,497.1 L1171.5,496.5 L1173.5,496.0 L1175.5,495.4 L1177.5,494.8 L1179.5,494.1 L1181.5,493.5 L1183.5,492.8 L1185.5,492.1 L1187.5,491.5 L1189.5,490.8 L1191.5,490.1 L1193.5,489.4 L1195.5,488.8 L1197.5,488.1 L1199.5,487.6 L1201.5,487.0 L1203.5,486.5 L1205.5,486.1 L1207.5,485.6 L1209.5,485.2 L1211.5,484.8 L1213.5,484.5 L1215.5,484.2 L1217.5,484.0 L1219.5,483.8 L1221.5,483.6 L1223.5,483.5 L1225.5,483.5 L1227.5,483.6 L1229.5,483.7 L1231.5,484.0 L1233.5,484.3 L1235.5,484.8 L1237.5,485.4 L1239.5,486.0 L1241.5,486.8 L1243.5,487.6 L1245.5,488.6 L1247.5,489.6 L1249.5,490.8 L1251.5,492.0 L1253.5,493.4 L1255.5,494.9 L1257.5,496.5 L1259.5,498.2 L1261.5,500.0 L1263.5,501.9 L1265.5,503.9 L1267.5,506.0 L1269.5,508.1 L1271.5,510.3 L1273.5,512.6 L1275.5,514.9 L1277.5,517.3 L1279.5,519.6 L1281.5,522.0 L1283.5,524.4 L1285.5,526.7 L1287.5,529.1 L1289.5,531.5 L1291.5,533.9 L1293.5,536.3 L1295.5,538.7 L1297.5,541.2 L1299.5,543.6 L1301.5,546.1 L1303.5,548.6 L1305.5,551.0 L1307.5,553.5 L1309.5,555.8 L1311.5,558.1 L1313.5,560.3 L1315.5,562.3 L1317.5,564.3 L1319.5,566.1 L1321.5,567.7 L1323.5,569.3 L1325.5,570.7 L1327.5,571.9 L1329.5,573.1 L1331.5,574.1 L1333.5,575.0 L1335.5,575.8 L1337.5,576.4 L1339.5,576.9 L1341.5,577.3 L1343.5,577.5 L1345.5,577.5 L1347.5,577.4 L1349.5,577.2 L1351.5,576.9 L1353.5,576.4 L1355.5,575.8 L1357.5,575.2 L1359.5,574.3 L1361.5,573.4 L1363.5,572.4 L1365.5,571.3 L1367.5,570.1 L1369.5,568.8 L1371.5,567.4 L1373.5,566.0 L1375.5,564.6 L1377.5,563.2 L1379.5,561.8 L1381.5,560.4 L1383.5,559.1 L1385.5,557.8 L1387.5,556.6 L1389.5,555.4 L1391.5,554.4 L1393.5,553.4 L1395.5,552.5 L1397.5,551.7 L1399.5,551.1 L1401.5,550.5 L1403.5,550.2 L1405.5,549.9 L1407.5,549.9 L1409.5,550.0 L1411.5,550.2 L1413.5,550.6 L1415.5,551.2 L1417.5,552.0 L1419.5,552.9 L1421.5,554.1 L1423.5,555.5 L1425.5,557.1 L1427.5,558.8 L1429.5,560.7 L1431.5,562.8 L1433.5,565.0 L1435.5,567.3 L1437.5,569.6 L1439.5,571.9 L1441.5,574.2 L1443.5,576.4 L1445.5,578.6 L1447.5,580.8 L1449.5,583.0 L1451.5,585.1 L1453.5,587.1 L1455.5,589.0 L1457.5,590.8 L1459.5,592.4 L1461.5,593.9 L1463.5,595.3 L1465.5,596.5 L1467.5,597.6 L1469.5,598.6 L1471.5,599.4 L1473.5,600.1 L1475.5,600.6 L1477.5,601.0 L1479.5,601.2 L1481.5,601.3 L1483.5,601.2 L1485.5,601.0 L1487.5,600.6 L1489.5,600.1 L1491.5,599.5 L1493.5,598.7 L1495.5,597.9 L1497.5,597.0 L1499.5,596.0 L1501.5,595.0 L1503.5,593.9 L1505.5,592.9 L1507.5,591.8 L1509.5,590.6 L1511.5,589.5 L1513.5,588.4 L1515.5,587.2 L1517.5,586.1 L1519.5,585.0 L1521.5,583.9 L1523.5,582.9 L1525.5,581.9 L1527.5,580.9 L1529.5,579.9 L1531.5,579.0 L1533.5,578.1 L1535.5,577.3 L1537.5,576.5 L1539.5,575.8 L1541.5,575.2 L1543.5,574.6 L1545.5,574.1 L1547.5,573.6 L1549.5,573.3 L1551.5,572.9 L1553.5,572.7 L1555.5,572.6 L1557.5,572.5 L1559.5,572.5 L1561.5,572.6 L1563.5,572.8 L1565.5,573.1 L1567.5,573.5 L1569.5,573.9 L1571.5,574.5 L1573.5,575.1 L1575.5,575.8 L1577.5,576.5 L1579.5,577.4 L1581.5,578.2 L1583.5,579.1 L1585.5,580.0 L1587.5,581.0 L1589.5,582.0 L1591.5,582.9 L1593.5,583.9 L1595.5,584.9 L1597.5,585.9 L1599.5,586.9 L1601.5,587.9 L1603.5,588.8 L1605.5,589.8 L1607.5,590.8 L1609.5,591.7 L1611.5,592.7 L1613.5,593.7 L1615.5,594.7 L1617.5,595.6 L1619.5,596.6 L1621.5,597.5 L1623.5,598.5 L1625.5,599.5 L1627.5,600.4 L1629.5,601.4 L1631.5,602.5 L1633.5,603.5 L1635.5,604.6 L1637.5,605.7 L1639.5,606.8 L1641.5,607.9 L1643.5,609.0 L1645.5,610.1 L1647.5,611.3 L1649.5,612.4 L1651.5,613.6 L1653.5,614.9 L1655.5,616.2 L1657.5,617.6 L1659.5,619.0 L1661.5,620.4 L1663.5,621.9 L1665.5,623.4 L1667.5,624.9 L1669.5,626.4 L1671.5,627.9 L1673.5,629.4 L1675.5,630.8 L1677.5,632.2 L1679.5,633.6 L1681.5,634.9 L1683.5,636.1 L1685.5,637.3 L1687.5,638.4 L1689.5,639.5 L1691.5,640.5 L1693.5,641.4 L1695.5,642.3 L1697.5,643.1 L1699.5,643.8 L1701.5,644.5 L1703.5,645.2 L1705.5,645.9 L1707.5,646.5 L1709.5,647.0 L1711.5,647.5 L1713.5,648.0 L1715.5,648.5 L1717.5,649.0 L1719.5,649.4 L1721.5,649.8 L1723.5,650.3 L1725.5,650.7 L1727.5,651.1 L1729.5,651.4 L1731.5,651.8 L1733.5,652.2 L1735.5,652.6 L1737.5,653.0 L1739.5,653.5 L1741.5,654.0 L1743.5,654.6 L1745.5,655.3 L1747.5,656.0 L1749.5,656.7 L1751.5,657.6 L1753.5,658.5 L1755.5,659.5 L1757.5,660.5 L1759.5,661.6 L1761.5,662.7 L1763.5,663.9 L1765.5,665.2 L1767.5,666.5 L1769.5,667.8 L1771.5,669.1 L1773.5,670.5 L1775.5,671.9 L1777.5,673.3 L1779.5,674.8 L1781.5,676.4 L1783.5,677.9 L1785.5,679.6 L1787.5,681.2 L1789.5,683.0 L1791.5,684.7 L1793.5,686.5 L1795.5,688.4 L1797.5,690.2 L1799.5,692.1 L1801.5,694.1 L1803.5,696.0 L1805.5,697.9 L1807.5,699.8 L1809.5,701.7 L1811.5,703.5 L1813.5,705.3 L1815.5,707.1 L1817.5,708.8 L1819.5,710.5 L1821.5,712.2 L1823.5,713.8 L1825.5,715.3 L1827.5,716.7 L1829.5,718.1 L1831.5,719.5 L1833.5,720.7 L1835.5,722.0 L1837.5,723.2 L1839.5,724.3 L1841.5,725.4 L1843.5,726.4 L1845.5,727.3 L1847.5,728.2 L1849.5,729.0 L1851.5,729.7 L1853.5,730.4 L1855.5,731.0 L1857.5,731.6 L1859.5,732.0 L1861.5,732.4 L1863.5,732.6 L1865.5,732.8 L1867.5,732.9 L1869.5,732.9 L1871.5,732.8 L1873.5,732.6 L1875.5,732.3 L1877.5,731.9 L1879.5,731.4 L1881.5,730.9 L1883.5,730.3 L1885.5,729.6 L1887.5,728.9 L1889.5,728.1 L1891.5,727.3 L1893.5,726.4 L1895.5,725.5 L1897.5,724.6 L1899.5,723.7 L1901.5,722.8 L1903.5,721.8 L1905.5,720.8 L1907.5,719.8 L1909.5,718.8 L1911.5,717.8 L1913.5,716.9 L1915.5,715.9 L1917.5,715.0 L1919.5,714.1 L1921.5,713.3 L1923.5,712.4 L1925.5,711.6 L1927.5,710.9 L1929.5,710.2 L1931.5,709.5 L1933.5,708.9 L1935.5,708.3 L1937.5,707.9 L1939.5,707.4 L1941.5,707.0 L1943.5,706.7 L1945.5,706.4 L1947.5,706.1 L1949.5,705.8 L1951.5,705.5 L1953.5,705.2 L1955.5,704.9 L1957.5,704.7 L1959.5,704.4 L1961.5,704.3 L1963.5,704.1 L1965.5,704.0 L1967.5,703.9 L1969.5,703.8 L1971.5,703.7 L1973.5,703.6 L1975.5,703.5 L1977.5,703.3 L1979.5,703.2 L1981.5,703.2 L1983.5,703.1 L1985.5,703.0 L1987.5,702.9 L1989.5,702.8 L1991.5,702.6 L1993.5,702.5 L1995.5,702.4 L1997.5,702.2 L1999.5,702.1 L2001.5,702.0 L2003.5,701.8 L2005.5,701.6 L2007.5,701.4 L2009.5,701.2 L2011.5,701.0 L2013.5,700.8 L2015.5,700.6 L2017.5,700.4 L2019.5,700.2 L2021.5,700.0 L2023.5,699.8 L2025.5,699.6 L2027.5,699.4 L2029.5,699.3 L2031.5,699.1 L2033.5,698.9 L2035.5,698.7 L2037.5,698.5 L2037.5,1069.2 L2035.5,1069.4 L2033.5,1069.6 L2031.5,1069.7 L2029.5,1069.9 L2027.5,1070.0 L2025.5,1070.2 L2023.5,1070.3 L2021.5,1070.5 L2019.5,1070.7 L2017.5,1070.9 L2015.5,1071.1 L2013.5,1071.3 L2011.5,1071.5 L2009.5,1071.8 L2007.5,1072.0 L2005.5,1072.2 L2003.5,1072.4 L2001.5,1072.6 L1999.5,1072.8 L1997.5,1073.0 L1995.5,1073.2 L1993.5,1073.4 L1991.5,1073.6 L1989.5,1073.8 L1987.5,1074.1 L1985.5,1074.3 L1983.5,1074.5 L1981.5,1074.7 L1979.5,1074.9 L1977.5,1075.1 L1975.5,1075.4 L1973.5,1075.6 L1971.5,1075.9 L1969.5,1076.2 L1967.5,1076.4 L1965.5,1076.7 L1963.5,1076.9 L1961.5,1077.2 L1959.5,1077.5 L1957.5,1077.8 L1955.5,1078.2 L1953.5,1078.6 L1951.5,1078.9 L1949.5,1079.3 L1947.5,1079.6 L1945.5,1080.0 L1943.5,1080.3 L1941.5,1080.7 L1939.5,1081.1 L1937.5,1081.5 L1935.5,1081.9 L1933.5,1082.4 L1931.5,1083.0 L1929.5,1083.5 L1927.5,1084.1 L1925.5,1084.7 L1923.5,1085.4 L1921.5,1086.0 L1919.5,1086.7 L1917.5,1087.4 L1915.5,1088.1 L1913.5,1088.7 L1911.5,1089.5 L1909.5,1090.2 L1907.5,1090.9 L1905.5,1091.6 L1903.5,1092.3 L1901.5,1093.0 L1899.5,1093.6 L1897.5,1094.3 L1895.5,1094.9 L1893.5,1095.5 L1891.5,1096.2 L1889.5,1096.7 L1887.5,1097.3 L1885.5,1097.9 L1883.5,1098.4 L1881.5,1098.9 L1879.5,1099.3 L1877.5,1099.7 L1875.5,1100.1 L1873.5,1100.4 L1871.5,1100.6 L1869.5,1100.8 L1867.5,1101.0 L1865.5,1101.1 L1863.5,1101.1 L1861.5,1101.1 L1859.5,1101.1 L1857.5,1101.0 L1855.5,1100.8 L1853.5,1100.6 L1851.5,1100.4 L1849.5,1100.2 L1847.5,1099.9 L1845.5,1099.6 L1843.5,1099.3 L1841.5,1099.0 L1839.5,1098.6 L1837.5,1098.2 L1835.5,1097.8 L1833.5,1097.4 L1831.5,1096.9 L1829.5,1096.5 L1827.5,1096.0 L1825.5,1095.5 L1823.5,1094.9 L1821.5,1094.3 L1819.5,1093.7 L1817.5,1093.1 L1815.5,1092.5 L1813.5,1091.8 L1811.5,1091.2 L1809.5,1090.5 L1807.5,1089.8 L1805.5,1089.1 L1803.5,1088.3 L1801.5,1087.5 L1799.5,1086.8 L1797.5,1086.0 L1795.5,1085.2 L1793.5,1084.5 L1791.5,1083.8 L1789.5,1083.1 L1787.5,1082.4 L1785.5,1081.7 L1783.5,1081.0 L1781.5,1080.3 L1779.5,1079.7 L1777.5,1079.1 L1775.5,1078.5 L1773.5,1077.8 L1771.5,1077.2 L1769.5,1076.6 L1767.5,1076.0 L1765.5,1075.4 L1763.5,1074.8 L1761.5,1074.2 L1759.5,1073.6 L1757.5,1073.1 L1755.5,1072.5 L1753.5,1072.0 L1751.5,1071.6 L1749.5,1071.1 L1747.5,1070.7 L1745.5,1070.4 L1743.5,1070.0 L1741.5,1069.7 L1739.5,1069.4 L1737.5,1069.2 L1735.5,1068.9 L1733.5,1068.7 L1731.5,1068.4 L1729.5,1068.2 L1727.5,1068.0 L1725.5,1067.7 L1723.5,1067.4 L1721.5,1067.1 L1719.5,1066.8 L1717.5,1066.5 L1715.5,1066.1 L1713.5,1065.8 L1711.5,1065.5 L1709.5,1065.1 L1707.5,1064.8 L1705.5,1064.4 L1703.5,1064.0 L1701.5,1063.6 L1699.5,1063.2 L1697.5,1062.8 L1695.5,1062.3 L1693.5,1061.8 L1691.5,1061.3 L1689.5,1060.8 L1687.5,1060.2 L1685.5,1059.6 L1683.5,1059.0 L1681.5,1058.4 L1679.5,1057.7 L1677.5,1056.9 L1675.5,1056.1 L1673.5,1055.3 L1671.5,1054.5 L1669.5,1053.7 L1667.5,1052.8 L1665.5,1052.0 L1663.5,1051.2 L1661.5,1050.4 L1659.5,1049.6 L1657.5,1048.8 L1655.5,1048.1 L1653.5,1047.5 L1651.5,1046.8 L1649.5,1046.2 L1647.5,1045.7 L1645.5,1045.1 L1643.5,1044.5 L1641.5,1044.0 L1639.5,1043.4 L1637.5,1042.9 L1635.5,1042.3 L1633.5,1041.7 L1631.5,1041.1 L1629.5,1040.6 L1627.5,1040.0 L1625.5,1039.4 L1623.5,1038.9 L1621.5,1038.3 L1619.5,1037.8 L1617.5,1037.2 L1615.5,1036.7 L1613.5,1036.1 L1611.5,1035.5 L1609.5,1034.9 L1607.5,1034.3 L1605.5,1033.8 L1603.5,1033.2 L1601.5,1032.6 L1599.5,1032.1 L1597.5,1031.5 L1595.5,1031.0 L1593.5,1030.4 L1591.5,1029.9 L1589.5,1029.4 L1587.5,1028.8 L1585.5,1028.3 L1583.5,1027.8 L1581.5,1027.3 L1579.5,1026.8 L1577.5,1026.4 L1575.5,1025.9 L1573.5,1025.5 L1571.5,1025.2 L1569.5,1024.9 L1567.5,1024.6 L1565.5,1024.4 L1563.5,1024.2 L1561.5,1024.1 L1559.5,1024.0 L1557.5,1024.0 L1555.5,1024.0 L1553.5,1024.0 L1551.5,1024.1 L1549.5,1024.2 L1547.5,1024.4 L1545.5,1024.5 L1543.5,1024.7 L1541.5,1025.0 L1539.5,1025.2 L1537.5,1025.5 L1535.5,1025.8 L1533.5,1026.1 L1531.5,1026.4 L1529.5,1026.7 L1527.5,1027.1 L1525.5,1027.4 L1523.5,1027.7 L1521.5,1028.1 L1519.5,1028.4 L1517.5,1028.8 L1515.5,1029.2 L1513.5,1029.7 L1511.5,1030.1 L1509.5,1030.5 L1507.5,1030.9 L1505.5,1031.3 L1503.5,1031.7 L1501.5,1032.1 L1499.5,1032.5 L1497.5,1032.8 L1495.5,1033.1 L1493.5,1033.4 L1491.5,1033.7 L1489.5,1033.9 L1487.5,1034.0 L1485.5,1034.1 L1483.5,1034.1 L1481.5,1034.0 L1479.5,1033.8 L1477.5,1033.6 L1475.5,1033.3 L1473.5,1032.9 L1471.5,1032.5 L1469.5,1032.0 L1467.5,1031.4 L1465.5,1030.8 L1463.5,1030.1 L1461.5,1029.3 L1459.5,1028.4 L1457.5,1027.5 L1455.5,1026.6 L1453.5,1025.5 L1451.5,1024.4 L1449.5,1023.3 L1447.5,1022.2 L1445.5,1021.0 L1443.5,1019.9 L1441.5,1018.7 L1439.5,1017.5 L1437.5,1016.3 L1435.5,1015.1 L1433.5,1013.9 L1431.5,1012.7 L1429.5,1011.6 L1427.5,1010.6 L1425.5,1009.7 L1423.5,1008.9 L1421.5,1008.2 L1419.5,1007.7 L1417.5,1007.3 L1415.5,1006.9 L1413.5,1006.7 L1411.5,1006.6 L1409.5,1006.5 L1407.5,1006.6 L1405.5,1006.7 L1403.5,1006.9 L1401.5,1007.2 L1399.5,1007.5 L1397.5,1007.9 L1395.5,1008.4 L1393.5,1008.9 L1391.5,1009.4 L1389.5,1010.0 L1387.5,1010.6 L1385.5,1011.3 L1383.5,1012.0 L1381.5,1012.7 L1379.5,1013.4 L1377.5,1014.2 L1375.5,1015.0 L1373.5,1015.7 L1371.5,1016.5 L1369.5,1017.2 L1367.5,1017.9 L1365.5,1018.5 L1363.5,1019.2 L1361.5,1019.7 L1359.5,1020.3 L1357.5,1020.8 L1355.5,1021.2 L1353.5,1021.6 L1351.5,1022.0 L1349.5,1022.3 L1347.5,1022.6 L1345.5,1022.8 L1343.5,1023.0 L1341.5,1023.1 L1339.5,1023.2 L1337.5,1023.1 L1335.5,1023.1 L1333.5,1022.9 L1331.5,1022.7 L1329.5,1022.5 L1327.5,1022.1 L1325.5,1021.8 L1323.5,1021.3 L1321.5,1020.8 L1319.5,1020.2 L1317.5,1019.6 L1315.5,1018.8 L1313.5,1018.0 L1311.5,1017.1 L1309.5,1016.1 L1307.5,1015.0 L1305.5,1013.9 L1303.5,1012.8 L1301.5,1011.7 L1299.5,1010.6 L1297.5,1009.5 L1295.5,1008.4 L1293.5,1007.3 L1291.5,1006.2 L1289.5,1005.2 L1287.5,1004.2 L1285.5,1003.1 L1283.5,1002.1 L1281.5,1001.0 L1279.5,999.9 L1277.5,998.8 L1275.5,997.7 L1273.5,996.6 L1271.5,995.5 L1269.5,994.3 L1267.5,993.2 L1265.5,992.2 L1263.5,991.1 L1261.5,990.1 L1259.5,989.1 L1257.5,988.2 L1255.5,987.2 L1253.5,986.4 L1251.5,985.5 L1249.5,984.7 L1247.5,984.0 L1245.5,983.3 L1243.5,982.7 L1241.5,982.1 L1239.5,981.5 L1237.5,981.0 L1235.5,980.5 L1233.5,980.1 L1231.5,979.7 L1229.5,979.5 L1227.5,979.2 L1225.5,979.0 L1223.5,978.9 L1221.5,978.8 L1219.5,978.7 L1217.5,978.7 L1215.5,978.7 L1213.5,978.7 L1211.5,978.7 L1209.5,978.8 L1207.5,978.9 L1205.5,979.0 L1203.5,979.1 L1201.5,979.2 L1199.5,979.4 L1197.5,979.6 L1195.5,979.8 L1193.5,980.1 L1191.5,980.5 L1189.5,980.8 L1187.5,981.2 L1185.5,981.6 L1183.5,981.9 L1181.5,982.3 L1179.5,982.8 L1177.5,983.2 L1175.5,983.6 L1173.5,984.0 L1171.5,984.5 L1169.5,984.9 L1167.5,985.3 L1165.5,985.7 L1163.5,986.1 L1161.5,986.4 L1159.5,986.7 L1157.5,987.0 L1155.5,987.2 L1153.5,987.4 L1151.5,987.5 L1149.5,987.6 L1147.5,987.7 L1145.5,987.8 L1143.5,987.8 L1141.5,987.8 L1139.5,987.7 L1137.5,987.7 L1135.5,987.6 L1133.5,987.5 L1131.5,987.3 L1129.5,987.2 L1127.5,987.0 L1125.5,986.8 L1123.5,986.6 L1121.5,986.4 L1119.5,986.2 L1117.5,986.0 L1115.5,985.8 L1113.5,985.5 L1111.5,985.2 L1109.5,984.9 L1107.5,984.6 L1105.5,984.3 L1103.5,984.1 L1101.5,983.8 L1099.5,983.7 L1097.5,983.5 L1095.5,983.4 L1093.5,983.3 L1091.5,983.3 L1089.5,983.2 L1087.5,983.3 L1085.5,983.4 L1083.5,983.5 L1081.5,983.6 L1079.5,983.8 L1077.5,983.9 L1075.5,984.1 L1073.5,984.3 L1071.5,984.5 L1069.5,984.7 L1067.5,984.9 L1065.5,985.1 L1063.5,985.3 L1061.5,985.5 L1059.5,985.7 L1057.5,985.9 L1055.5,986.0 L1053.5,986.2 L1051.5,986.3 L1049.5,986.5 L1047.5,986.6 L1045.5,986.7 L1043.5,986.8 L1041.5,986.9 L1039.5,987.1 L1037.5,987.2 L1035.5,987.4 L1033.5,987.6 L1031.5,987.8 L1029.5,988.0 L1027.5,988.2 L1025.5,988.4 L1023.5,988.6 L1021.5,988.9 L1019.5,989.1 L1017.5,989.4 L1015.5,989.7 L1013.5,989.9 L1011.5,990.2 L1009.5,990.6 L1007.5,990.9 L1005.5,991.2 L1003.5,991.5 L1001.5,991.8 L999.5,992.2 L997.5,992.5 L995.5,992.8 L993.5,993.2 L991.5,993.5 L989.5,993.7 L987.5,994.0 L985.5,994.2 L983.5,994.3 L981.5,994.4 L979.5,994.5 L977.5,994.5 L975.5,994.5 L973.5,994.5 L971.5,994.5 L969.5,994.4 L967.5,994.4 L965.5,994.4 L963.5,994.4 L961.5,994.3 L959.5,994.2 L957.5,994.1 L955.5,994.0 L953.5,994.0 L951.5,994.0 L949.5,993.9 L947.5,993.9 L945.5,993.9 L943.5,993.9 L941.5,993.9 L939.5,993.9 L937.5,994.0 L935.5,994.0 L933.5,994.1 L931.5,994.2 L929.5,994.4 L927.5,994.5 L925.5,994.7 L923.5,994.9 L921.5,995.1 L919.5,995.3 L917.5,995.5 L915.5,995.7 L913.5,995.9 L911.5,996.1 L909.5,996.3 L907.5,996.5 L905.5,996.6 L903.5,996.7 L901.5,996.8 L899.5,996.9 L897.5,997.1 L895.5,997.2 L893.5,997.3 L891.5,997.5 L889.5,997.6 L887.5,997.8 L885.5,998.0 L883.5,998.1 L881.5,998.3 L879.5,998.5 L877.5,998.7 L875.5,999.0 L873.5,999.2 L871.5,999.5 L869.5,999.9 L867.5,1000.2 L865.5,1000.6 L863.5,1001.0 L861.5,1001.5 L859.5,1002.0 L857.5,1002.5 L855.5,1003.1 L853.5,1003.8 L851.5,1004.5 L849.5,1005.2 L847.5,1006.0 L845.5,1006.8 L843.5,1007.7 L841.5,1008.6 L839.5,1009.5 L837.5,1010.5 L835.5,1011.5 L833.5,1012.4 L831.5,1013.4 L829.5,1014.4 L827.5,1015.3 L825.5,1016.3 L823.5,1017.2 L821.5,1018.1 L819.5,1018.9 L817.5,1019.7 L815.5,1020.3 L813.5,1020.9 L811.5,1021.4 L809.5,1021.8 L807.5,1022.2 L805.5,1022.5 L803.5,1022.8 L801.5,1023.0 L799.5,1023.2 L797.5,1023.3 L795.5,1023.4 L793.5,1023.4 L791.5,1023.5 L789.5,1023.5 L787.5,1023.6 L785.5,1023.6 L783.5,1023.6 L781.5,1023.6 L779.5,1023.6 L777.5,1023.6 L775.5,1023.7 L773.5,1023.8 L771.5,1024.0 L769.5,1024.3 L767.5,1024.6 L765.5,1024.9 L763.5,1025.3 L761.5,1025.8 L759.5,1026.3 L757.5,1026.9 L755.5,1027.6 L753.5,1028.3 L751.5,1029.2 L749.5,1030.1 L747.5,1031.1 L745.5,1032.1 L743.5,1033.3 L741.5,1034.4 L739.5,1035.7 L737.5,1037.0 L735.5,1038.3 L733.5,1039.8 L731.5,1041.2 L729.5,1042.7 L727.5,1044.2 L725.5,1045.6 L723.5,1047.1 L721.5,1048.5 L719.5,1049.9 L717.5,1051.2 L715.5,1052.6 L713.5,1053.9 L711.5,1055.2 L709.5,1056.5 L707.5,1057.8 L705.5,1059.1 L703.5,1060.4 L701.5,1061.6 L699.5,1062.7 L697.5,1063.8 L695.5,1064.8 L693.5,1065.8 L691.5,1066.7 L689.5,1067.6 L687.5,1068.5 L685.5,1069.3 L683.5,1070.1 L681.5,1070.9 L679.5,1071.7 L677.5,1072.4 L675.5,1073.1 L673.5,1073.7 L671.5,1074.3 L669.5,1074.9 L667.5,1075.5 L665.5,1076.1 L663.5,1076.6 L661.5,1077.1 L659.5,1077.7 L657.5,1078.2 L655.5,1078.8 L653.5,1079.4 L651.5,1079.9 L649.5,1080.5 L647.5,1081.1 L645.5,1081.6 L643.5,1082.2 L641.5,1082.8 L639.5,1083.5 L637.5,1084.2 L635.5,1085.0 L633.5,1085.9 L631.5,1086.7 L629.5,1087.6 L627.5,1088.4 L625.5,1089.3 L623.5,1090.1 L621.5,1091.0 L619.5,1091.9 L617.5,1092.8 L615.5,1093.7 L613.5,1094.6 L611.5,1095.5 L609.5,1096.4 L607.5,1097.3 L605.5,1098.2 L603.5,1099.1 L601.5,1099.9 L599.5,1100.7 L597.5,1101.6 L595.5,1102.5 L593.5,1103.6 L591.5,1104.7 L589.5,1105.9 L587.5,1107.3 L585.5,1108.7 L583.5,1110.2 L581.5,1111.8 L579.5,1113.4 L577.5,1115.1 L575.5,1116.9 L573.5,1118.7 L571.5,1120.5 L569.5,1122.3 L567.5,1124.1 L565.5,1126.0 L563.5,1127.8 L561.5,1129.6 L559.5,1131.3 L557.5,1133.1 L555.5,1134.9 L553.5,1136.6 L551.5,1138.3 L549.5,1140.0 L547.5,1141.7 L545.5,1143.4 L543.5,1145.1 L541.5,1146.6 L539.5,1148.1 L537.5,1149.4 L535.5,1150.7 L533.5,1151.8 L531.5,1152.9 L529.5,1154.0 L527.5,1154.9 L525.5,1155.9 L523.5,1156.7 L521.5,1157.6 L519.5,1158.4 L517.5,1159.1 L515.5,1159.9 L513.5,1160.5 L511.5,1161.1 L509.5,1161.7 L507.5,1162.2 L505.5,1162.7 L503.5,1163.1 L501.5,1163.5 L499.5,1163.8 L497.5,1164.1 L495.5,1164.5 L493.5,1164.7 L491.5,1165.0 L489.5,1165.3 L487.5,1165.5 L485.5,1165.7 L483.5,1165.9 L481.5,1166.0 L479.5,1166.2 L477.5,1166.3 L475.5,1166.4 L473.5,1166.5 L471.5,1166.6 L469.5,1166.8 L467.5,1166.9 L465.5,1167.0 L463.5,1167.1 L461.5,1167.2 L459.5,1167.3 L457.5,1167.5 L455.5,1167.6 L453.5,1167.8 L451.5,1167.9 L449.5,1168.1 L447.5,1168.2 L445.5,1168.4 L443.5,1168.6 L441.5,1168.8 L439.5,1168.9 L437.5,1169.1 L435.5,1169.3 L433.5,1169.5 L431.5,1169.7 L429.5,1170.0 L427.5,1170.2 L425.5,1170.5 L423.5,1170.8 L421.5,1171.1 L419.5,1171.4 L417.5,1171.7 L415.5,1172.0 L413.5,1172.3 L411.5,1172.6 L409.5,1173.0 L407.5,1173.3 L405.5,1173.6 L403.5,1174.0 L401.5,1174.3 L399.5,1174.6 L397.5,1175.0 L395.5,1175.3 L393.5,1175.6 L391.5,1176.0 L389.5,1176.3 L387.5,1176.6 L385.5,1176.9 L383.5,1177.2 L381.5,1177.4 L379.5,1177.7 L377.5,1177.9 L375.5,1178.1 L373.5,1178.3 L371.5,1178.5 L369.5,1178.7 L367.5,1178.9 L365.5,1179.1 L363.5,1179.4 L361.5,1179.6 L359.5,1179.8 L357.5,1180.0 L355.5,1180.3 L353.5,1180.5 L351.5,1180.8 L349.5,1181.0 L347.5,1181.2 L345.5,1181.4 L343.5,1181.6 L341.5,1181.7 L339.5,1181.9 L337.5,1182.0 L335.5,1182.1 L333.5,1182.3 L331.5,1182.3 L329.5,1182.4 L327.5,1182.5 L325.5,1182.7 L323.5,1182.8 L321.5,1182.9 L319.5,1183.1 L317.5,1183.2 L315.5,1183.4 L313.5,1183.6 L311.5,1183.7 L309.5,1183.8 L307.5,1183.9 L305.5,1184.0 L303.5,1183.9 L301.5,1183.9 L299.5,1183.8 L297.5,1183.7 L295.5,1183.6 L293.5,1183.5 L291.5,1183.4 L289.5,1183.2 L287.5,1183.0 L285.5,1182.8 L283.5,1182.6 L281.5,1182.3 L279.5,1182.0 L277.5,1181.6 L275.5,1181.2 L273.5,1180.8 L271.5,1180.3 L269.5,1179.8 L267.5,1179.3 L265.5,1178.7 L263.5,1178.1 L261.5,1177.5 L259.5,1176.8 L257.5,1176.2 L255.5,1175.5 L253.5,1174.9 L251.5,1174.2 L249.5,1173.5 L247.5,1172.8 L245.5,1172.1Z" fill="#90ee90" fill-opacity="0.25" stroke="#90ee90" stroke-opacity="0.25" stroke-width="5" stroke-linejoin="round"/>
<path d="M245.5,1161.8 L247.5,1162.8 L249.5,1163.9 L251.5,1165.0 L253.5,1166.1 L255.5,1167.3 L257.5,1168.5 L259.5,1169.7 L261.5,1170.9 L263.5,1172.1 L265.5,1173.4 L267.5,1174.6 L269.5,1175.8 L271.5,1176.9 L273.5,1178.1 L275.5,1179.2 L277.5,1180.2 L279.5,1181.2 L281.5,1182.1 L283.5,1183.0 L285.5,1183.8 L287.5,1184.6 L289.5,1185.3 L291.5,1185.9 L293.5,1186.5 L295.5,1187.0 L297.5,1187.4 L299.5,1187.8 L301.5,1188.1 L303.5,1188.3 L305.5,1188.5 L307.5,1188.6 L309.5,1188.7 L311.5,1188.7 L313.5,1188.6 L315.5,1188.5 L317.5,1188.4 L319.5,1188.3 L321.5,1188.2 L323.5,1188.0 L325.5,1187.9 L327.5,1187.7 L329.5,1187.6 L331.5,1187.5 L333.5,1187.5 L335.5,1187.4 L337.5,1187.4 L339.5,1187.4 L341.5,1187.3 L343.5,1187.4 L345.5,1187.4 L347.5,1187.4 L349.5,1187.4 L351.5,1187.5 L353.5,1187.5 L355.5,1187.6 L357.5,1187.6 L359.5,1187.7 L361.5,1187.8 L363.5,1187.8 L365.5,1187.9 L367.5,1188.0 L369.5,1188.0 L371.5,1188.1 L373.5,1188.1 L375.5,1188.2 L377.5,1188.2 L379.5,1188.2 L381.5,1188.2 L383.5,1188.2 L385.5,1188.2 L387.5,1188.2 L389.5,1188.2 L391.5,1188.1 L393.5,1188.1 L395.5,1188.0 L397.5,1188.0 L399.5,1187.9 L401.5,1187.8 L403.5,1187.7 L405.5,1187.6 L407.5,1187.5 L409.5,1187.4 L411.5,1187.3 L413.5,1187.2 L415.5,1187.1 L417.5,1187.0 L419.5,1186.9 L421.5,1186.7 L423.5,1186.6 L425.5,1186.5 L427.5,1186.3 L429.5,1186.2 L431.5,1186.1 L433.5,1186.0 L435.5,1185.8 L437.5,1185.7 L439.5,1185.6 L441.5,1185.5 L443.5,1185.3 L445.5,1185.2 L447.5,1185.1 L449.5,1185.0 L451.5,1184.9 L453.5,1184.8 L455.5,1184.7 L457.5,1184.6 L459.5,1184.6 L461.5,1184.5 L463.5,1184.4 L465.5,1184.4 L467.5,1184.3 L469.5,1184.3 L471.5,1184.3 L473.5,1184.3 L475.5,1184.3 L477.5,1184.3 L479.5,1184.3 L481.5,1184.3 L483.5,1184.2 L485.5,1184.2 L487.5,1184.2 L489.5,1184.2 L491.5,1184.2 L493.5,1184.1 L495.5,1184.0 L497.5,1183.9 L499.5,1183.8 L501.5,1183.7 L503.5,1183.5 L505.5,1183.3 L507.5,1183.1 L509.5,1182.9 L511.5,1182.6 L513.5,1182.2 L515.5,1181.9 L517.5,1181.4 L519.5,1181.0 L521.5,1180.5 L523.5,1179.9 L525.5,1179.3 L527.5,1178.7 L529.5,1178.0 L531.5,1177.3 L533.5,1176.5 L535.5,1175.7 L537.5,1174.9 L539.5,1174.0 L541.5,1173.2 L543.5,1172.3 L545.5,1171.4 L547.5,1170.5 L549.5,1169.6 L551.5,1168.7 L553.5,1167.8 L555.5,1166.9 L557.5,1166.0 L559.5,1165.1 L561.5,1164.2 L563.5,1163.3 L565.5,1162.5 L567.5,1161.6 L569.5,1160.8 L571.5,1160.0 L573.5,1159.2 L575.5,1158.5 L577.5,1157.8 L579.5,1157.0 L581.5,1156.4 L583.5,1155.7 L585.5,1155.1 L587.5,1154.5 L589.5,1154.0 L591.5,1153.4 L593.5,1153.0 L595.5,1152.5 L597.5,1152.1 L599.5,1151.8 L601.5,1151.5 L603.5,1151.2 L605.5,1151.0 L607.5,1150.8 L609.5,1150.7 L611.5,1150.6 L613.5,1150.5 L615.5,1150.5 L617.5,1150.5 L619.5,1150.6 L621.5,1150.6 L623.5,1150.7 L625.5,1150.8 L627.5,1150.9 L629.5,1151.0 L631.5,1151.1 L633.5,1151.2 L635.5,1151.3 L637.5,1151.3 L639.5,1151.4 L641.5,1151.4 L643.5,1151.4 L645.5,1151.3 L647.5,1151.3 L649.5,1151.2 L651.5,1151.1 L653.5,1150.9 L655.5,1150.7 L657.5,1150.5 L659.5,1150.3 L661.5,1150.0 L663.5,1149.7 L665.5,1149.4 L667.5,1149.1 L669.5,1148.7 L671.5,1148.3 L673.5,1147.8 L675.5,1147.4 L677.5,1146.9 L679.5,1146.3 L681.5,1145.8 L683.5,1145.2 L685.5,1144.6 L687.5,1144.0 L689.5,1143.3 L691.5,1142.6 L693.5,1141.9 L695.5,1141.2 L697.5,1140.4 L699.5,1139.6 L701.5,1138.8 L703.5,1138.0 L705.5,1137.1 L707.5,1136.3 L709.5,1135.4 L711.5,1134.6 L713.5,1133.7 L715.5,1132.9 L717.5,1132.0 L719.5,1131.2 L721.5,1130.4 L723.5,1129.6 L725.5,1128.8 L727.5,1128.1 L729.5,1127.4 L731.5,1126.7 L733.5,1126.1 L735.5,1125.5 L737.5,1125.0 L739.5,1124.5 L741.5,1124.0 L743.5,1123.6 L745.5,1123.3 L747.5,1123.0 L749.5,1122.8 L751.5,1122.6 L753.5,1122.5 L755.5,1122.3 L757.5,1122.3 L759.5,1122.2 L761.5,1122.1 L763.5,1122.1 L765.5,1122.0 L767.5,1122.0 L769.5,1121.9 L771.5,1121.9 L773.5,1121.8 L775.5,1121.8 L777.5,1121.7 L779.5,1121.7 L781.5,1121.6 L783.5,1121.5 L785.5,1121.4 L787.5,1121.3 L789.5,1121.2 L791.5,1121.0 L793.5,1120.8 L795.5,1120.6 L797.5,1120.4 L799.5,1120.2 L801.5,1119.9 L803.5,1119.6 L805.5,1119.3 L807.5,1119.0 L809.5,1118.7 L811.5,1118.4 L813.5,1118.1 L815.5,1117.8 L817.5,1117.5 L819.5,1117.2 L821.5,1117.0 L823.5,1116.7 L825.5,1116.5 L827.5,1116.2 L829.5,1116.0 L831.5,1115.8 L833.5,1115.6 L835.5,1115.4 L837.5,1115.2 L839.5,1115.0 L841.5,1114.8 L843.5,1114.7 L845.5,1114.5 L847.5,1114.4 L849.5,1114.2 L851.5,1114.1 L853.5,1114.0 L855.5,1113.8 L857.5,1113.7 L859.5,1113.6 L861.5,1113.5 L863.5,1113.4 L865.5,1113.3 L867.5,1113.2 L869.5,1113.1 L871.5,1113.0 L873.5,1113.0 L875.5,1112.9 L877.5,1112.8 L879.5,1112.8 L881.5,1112.7 L883.5,1112.6 L885.5,1112.6 L887.5,1112.5 L889.5,1112.5 L891.5,1112.5 L893.5,1112.4 L895.5,1112.4 L897.5,1112.3 L899.5,1112.3 L901.5,1112.3 L903.5,1112.2 L905.5,1112.2 L907.5,1112.2 L909.5,1112.1 L911.5,1112.1 L913.5,1112.1 L915.5,1112.0 L917.5,1112.0 L919.5,1112.0 L921.5,1111.9 L923.5,1111.9 L925.5,1111.9 L927.5,1111.8 L929.5,1111.8 L931.5,1111.7 L933.5,1111.7 L935.5,1111.7 L937.5,1111.6 L939.5,1111.6 L941.5,1111.5 L943.5,1111.5 L945.5,1111.4 L947.5,1111.3 L949.5,1111.3 L951.5,1111.2 L953.5,1111.1 L955.5,1111.1 L957.5,1111.0 L959.5,1110.9 L961.5,1110.8 L963.5,1110.7 L965.5,1110.6 L967.5,1110.5 L969.5,1110.4 L971.5,1110.3 L973.5,1110.2 L975.5,1110.1 L977.5,1110.0 L979.5,1109.9 L981.5,1109.8 L983.5,1109.7 L985.5,1109.6 L987.5,1109.5 L989.5,1109.5 L991.5,1109.4 L993.5,1109.3 L995.5,1109.3 L997.5,1109.2 L999.5,1109.2 L1001.5,1109.1 L1003.5,1109.1 L1005.5,1109.1 L1007.5,1109.1 L1009.5,1109.1 L1011.5,1109.1 L1013.5,1109.1 L1015.5,1109.2 L1017.5,1109.2 L1019.5,1109.2 L1021.5,1109.3 L1023.5,1109.4 L1025.5,1109.5 L1027.5,1109.5 L1029.5,1109.6 L1031.5,1109.7 L1033.5,1109.8 L1035.5,1109.9 L1037.5,1110.0 L1039.5,1110.2 L1041.5,1110.3 L1043.5,1110.4 L1045.5,1110.5 L1047.5,1110.6 L1049.5,1110.7 L1051.5,1110.9 L1053.5,1111.0 L1055.5,1111.1 L1057.5,1111.2 L1059.5,1111.3 L1061.5,1111.4 L1063.5,1111.5 L1065.5,1111.6 L1067.5,1111.7 L1069.5,1111.8 L1071.5,1111.9 L1073.5,1112.0 L1075.5,1112.1 L1077.5,1112.1 L1079.5,1112.2 L1081.5,1112.3 L1083.5,1112.3 L1085.5,1112.4 L1087.5,1112.4 L1089.5,1112.5 L1091.5,1112.5 L1093.5,1112.6 L1095.5,1112.6 L1097.5,1112.6 L1099.5,1112.7 L1101.5,1112.7 L1103.5,1112.7 L1105.5,1112.7 L1107.5,1112.7 L1109.5,1112.8 L1111.5,1112.8 L1113.5,1112.8 L1115.5,1112.8 L1117.5,1112.8 L1119.5,1112.7 L1121.5,1112.7 L1123.5,1112.7 L1125.5,1112.7 L1127.5,1112.7 L1129.5,1112.6 L1131.5,1112.6 L1133.5,1112.6 L1135.5,1112.5 L1137.5,1112.5 L1139.5,1112.5 L1141.5,1112.4 L1143.5,1112.4 L1145.5,1112.3 L1147.5,1112.2 L1149.5,1112.2 L1151.5,1112.1 L1153.5,1112.1 L1155.5,1112.0 L1157.5,1111.9 L1159.5,1111.8 L1161.5,1111.8 L1163.5,1111.7 L1165.5,1111.6 L1167.5,1111.5 L1169.5,1111.4 L1171.5,1111.3 L1173.5,1111.2 L1175.5,1111.1 L1177.5,1111.0 L1179.5,1110.9 L1181.5,1110.8 L1183.5,1110.7 L1185.5,1110.6 L1187.5,1110.5 L1189.5,1110.3 L1191.5,1110.2 L1193.5,1110.1 L1195.5,1110.0 L1197.5,1109.8 L1199.5,1109.7 L1201.5,1109.6 L1203.5,1109.5 L1205.5,1109.4 L1207.5,1109.3 L1209.5,1109.2 L1211.5,1109.1 L1213.5,1109.1 L1215.5,1109.0 L1217.5,1108.9 L1219.5,1108.9 L1221.5,1108.9 L1223.5,1108.9 L1225.5,1108.9 L1227.5,1108.9 L1229.5,1108.9 L1231.5,1109.0 L1233.5,1109.0 L1235.5,1109.1 L1237.5,1109.2 L1239.5,1109.4 L1241.5,1109.5 L1243.5,1109.7 L1245.5,1109.9 L1247.5,1110.1 L1249.5,1110.3 L1251.5,1110.6 L1253.5,1110.9 L1255.5,1111.2 L1257.5,1111.5 L1259.5,1111.8 L1261.5,1112.2 L1263.5,1112.6 L1265.5,1113.0 L1267.5,1113.4 L1269.5,1113.9 L1271.5,1114.3 L1273.5,1114.8 L1275.5,1115.3 L1277.5,1115.8 L1279.5,1116.4 L1281.5,1116.9 L1283.5,1117.5 L1285.5,1118.1 L1287.5,1118.6 L1289.5,1119.2 L1291.5,1119.8 L1293.5,1120.4 L1295.5,1121.0 L1297.5,1121.6 L1299.5,1122.2 L1301.5,1122.8 L1303.5,1123.3 L1305.5,1123.9 L1307.5,1124.4 L1309.5,1125.0 L1311.5,1125.5 L1313.5,1126.0 L1315.5,1126.4 L1317.5,1126.9 L1319.5,1127.3 L1321.5,1127.7 L1323.5,1128.0 L1325.5,1128.3 L1327.5,1128.6 L1329.5,1128.9 L1331.5,1129.1 L1333.5,1129.3 L1335.5,1129.4 L1337.5,1129.5 L1339.5,1129.6 L1341.5,1129.6 L1343.5,1129.6 L1345.5,1129.6 L1347.5,1129.6 L1349.5,1129.5 L1351.5,1129.4 L1353.5,1129.3 L1355.5,1129.1 L1357.5,1129.0 L1359.5,1128.8 L1361.5,1128.6 L1363.5,1128.3 L1365.5,1128.1 L1367.5,1127.8 L1369.5,1127.5 L1371.5,1127.2 L1373.5,1126.9 L1375.5,1126.6 L1377.5,1126.2 L1379.5,1125.8 L1381.5,1125.5 L1383.5,1125.1 L1385.5,1124.7 L1387.5,1124.4 L1389.5,1124.0 L1391.5,1123.6 L1393.5,1123.3 L1395.5,1123.0 L1397.5,1122.7 L1399.5,1122.5 L1401.5,1122.3 L1403.5,1122.1 L1405.5,1121.9 L1407.5,1121.8 L1409.5,1121.8 L1411.5,1121.8 L1413.5,1121.8 L1415.5,1121.9 L1417.5,1122.0 L1419.5,1122.2 L1421.5,1122.4 L1423.5,1122.7 L1425.5,1123.0 L1427.5,1123.3 L1429.5,1123.7 L1431.5,1124.0 L1433.5,1124.5 L1435.5,1124.9 L1437.5,1125.3 L1439.5,1125.8 L1441.5,1126.2 L1443.5,1126.7 L1445.5,1127.2 L1447.5,1127.7 L1449.5,1128.2 L1451.5,1128.7 L1453.5,1129.2 L1455.5,1129.7 L1457.5,1130.2 L1459.5,1130.7 L1461.5,1131.2 L1463.5,1131.7 L1465.5,1132.2 L1467.5,1132.6 L1469.5,1133.1 L1471.5,1133.5 L1473.5,1133.9 L1475.5,1134.3 L1477.5,1134.6 L1479.5,1134.9 L1481.5,1135.2 L1483.5,1135.5 L1485.5,1135.8 L1487.5,1136.0 L1489.5,1136.1 L1491.5,1136.3 L1493.5,1136.4 L1495.5,1136.5 L1497.5,1136.6 L1499.5,1136.6 L1501.5,1136.6 L1503.5,1136.7 L1505.5,1136.6 L1507.5,1136.6 L1509.5,1136.6 L1511.5,1136.5 L1513.5,1136.5 L1515.5,1136.4 L1517.5,1136.3 L1519.5,1136.2 L1521.5,1136.1 L1523.5,1136.0 L1525.5,1135.9 L1527.5,1135.8 L1529.5,1135.7 L1531.5,1135.6 L1533.5,1135.5 L1535.5,1135.4 L1537.5,1135.3 L1539.5,1135.3 L1541.5,1135.2 L1543.5,1135.1 L1545.5,1135.1 L1547.5,1135.1 L1549.5,1135.0 L1551.5,1135.0 L1553.5,1135.0 L1555.5,1135.0 L1557.5,1135.0 L1559.5,1135.0 L1561.5,1135.1 L1563.5,1135.1 L1565.5,1135.1 L1567.5,1135.2 L1569.5,1135.2 L1571.5,1135.3 L1573.5,1135.4 L1575.5,1135.5 L1577.5,1135.6 L1579.5,1135.7 L1581.5,1135.8 L1583.5,1135.9 L1585.5,1136.0 L1587.5,1136.1 L1589.5,1136.3 L1591.5,1136.4 L1593.5,1136.6 L1595.5,1136.8 L1597.5,1136.9 L1599.5,1137.1 L1601.5,1137.3 L1603.5,1137.5 L1605.5,1137.7 L1607.5,1137.9 L1609.5,1138.1 L1611.5,1138.3 L1613.5,1138.6 L1615.5,1138.8 L1617.5,1139.1 L1619.5,1139.3 L1621.5,1139.6 L1623.5,1139.8 L1625.5,1140.1 L1627.5,1140.4 L1629.5,1140.7 L1631.5,1141.0 L1633.5,1141.3 L1635.5,1141.6 L1637.5,1141.9 L1639.5,1142.2 L1641.5,1142.5 L1643.5,1142.9 L1645.5,1143.2 L1647.5,1143.6 L1649.5,1143.9 L1651.5,1144.3 L1653.5,1144.6 L1655.5,1145.0 L1657.5,1145.4 L1659.5,1145.8 L1661.5,1146.2 L1663.5,1146.6 L1665.5,1147.0 L1667.5,1147.4 L1669.5,1147.8 L1671.5,1148.2 L1673.5,1148.6 L1675.5,1149.0 L1677.5,1149.4 L1679.5,1149.8 L1681.5,1150.1 L1683.5,1150.5 L1685.5,1150.9 L1687.5,1151.3 L1689.5,1151.6 L1691.5,1152.0 L1693.5,1152.3 L1695.5,1152.6 L1697.5,1152.9 L1699.5,1153.2 L1701.5,1153.5 L1703.5,1153.7 L1705.5,1154.0 L1707.5,1154.2 L1709.5,1154.4 L1711.5,1154.6 L1713.5,1154.7 L1715.5,1154.8 L1717.5,1155.0 L1719.5,1155.1 L1721.5,1155.1 L1723.5,1155.2 L1725.5,1155.3 L1727.5,1155.3 L1729.5,1155.4 L1731.5,1155.4 L1733.5,1155.5 L1735.5,1155.5 L1737.5,1155.6 L1739.5,1155.7 L1741.5,1155.7 L1743.5,1155.8 L1745.5,1156.0 L1747.5,1156.1 L1749.5,1156.2 L1751.5,1156.4 L1753.5,1156.6 L1755.5,1156.8 L1757.5,1157.0 L1759.5,1157.3 L1761.5,1157.6 L1763.5,1157.8 L1765.5,1158.1 L1767.5,1158.4 L1769.5,1158.7 L1771.5,1159.0 L1773.5,1159.4 L1775.5,1159.7 L1777.5,1160.0 L1779.5,1160.4 L1781.5,1160.7 L1783.5,1161.0 L1785.5,1161.4 L1787.5,1161.7 L1789.5,1162.0 L1791.5,1162.3 L1793.5,1162.7 L1795.5,1163.0 L1797.5,1163.3 L1799.5,1163.5 L1801.5,1163.8 L1803.5,1164.1 L1805.5,1164.3 L1807.5,1164.5 L1809.5,1164.7 L1811.5,1164.9 L1813.5,1165.1 L1815.5,1165.3 L1817.5,1165.5 L1819.5,1165.6 L1821.5,1165.8 L1823.5,1165.9 L1825.5,1166.0 L1827.5,1166.1 L1829.5,1166.2 L1831.5,1166.3 L1833.5,1166.3 L1835.5,1166.4 L1837.5,1166.5 L1839.5,1166.5 L1841.5,1166.5 L1843.5,1166.5 L1845.5,1166.6 L1847.5,1166.6 L1849.5,1166.5 L1851.5,1166.5 L1853.5,1166.5 L1855.5,1166.5 L1857.5,1166.4 L1859.5,1166.4 L1861.5,1166.3 L1863.5,1166.3 L1865.5,1166.2 L1867.5,1166.1 L1869.5,1166.0 L1871.5,1165.9 L1873.5,1165.8 L1875.5,1165.7 L1877.5,1165.6 L1879.5,1165.5 L1881.5,1165.4 L1883.5,1165.3 L1885.5,1165.2 L1887.5,1165.0 L1889.5,1164.9 L1891.5,1164.7 L1893.5,1164.6 L1895.5,1164.4 L1897.5,1164.3 L1899.5,1164.1 L1901.5,1164.0 L1903.5,1163.8 L1905.5,1163.6 L1907.5,1163.5 L1909.5,1163.3 L1911.5,1163.1 L1913.5,1163.0 L1915.5,1162.8 L1917.5,1162.6 L1919.5,1162.4 L1921.5,1162.3 L1923.5,1162.1 L1925.5,1161.9 L1927.5,1161.7 L1929.5,1161.5 L1931.5,1161.4 L1933.5,1161.2 L1935.5,1161.0 L1937.5,1160.8 L1939.5,1160.7 L1941.5,1160.5 L1943.5,1160.3 L1945.5,1160.1 L1947.5,1160.0 L1949.5,1159.8 L1951.5,1159.6 L1953.5,1159.5 L1955.5,1159.3 L1957.5,1159.1 L1959.5,1159.0 L1961.5,1158.8 L1963.5,1158.6 L1965.5,1158.5 L1967.5,1158.3 L1969.5,1158.2 L1971.5,1158.0 L1973.5,1157.9 L1975.5,1157.7 L1977.5,1157.6 L1979.5,1157.5 L1981.5,1157.3 L1983.5,1157.2 L1985.5,1157.1 L1987.5,1157.0 L1989.5,1156.8 L1991.5,1156.7 L1993.5,1156.6 L1995.5,1156.5 L1997.5,1156.4 L1999.5,1156.3 L2001.5,1156.2 L2003.5,1156.1 L2005.5,1156.0 L2007.5,1156.0 L2009.5,1155.9 L2011.5,1155.8 L2013.5,1155.8 L2015.5,1155.7 L2017.5,1155.7 L2019.5,1155.6 L2021.5,1155.6 L2023.5,1155.6 L2025.5,1155.5 L2027.5,1155.5 L2029.5,1155.5 L2031.5,1155.5 L2033.5,1155.5 L2035.5,1155.5 L2037.5,1155.5 L2037.5,1310.2 L2035.5,1309.9 L2033.5,1309.6 L2031.5,1309.4 L2029.5,1309.2 L2027.5,1309.0 L2025.5,1308.8 L2023.5,1308.7 L2021.5,1308.5 L2019.5,1308.4 L2017.5,1308.3 L2015.5,1308.2 L2013.5,1308.1 L2011.5,1308.0 L2009.5,1307.9 L2007.5,1307.9 L2005.5,1307.8 L2003.5,1307.8 L2001.5,1307.8 L1999.5,1307.8 L1997.5,1307.8 L1995.5,1307.8 L1993.5,1307.8 L1991.5,1307.8 L1989.5,1307.8 L1987.5,1307.8 L1985.5,1307.9 L1983.5,1307.9 L1981.5,1307.9 L1979.5,1308.0 L1977.5,1308.0 L1975.5,1308.1 L1973.5,1308.1 L1971.5,1308.2 L1969.5,1308.2 L1967.5,1308.3 L1965.5,1308.3 L1963.5,1308.4 L1961.5,1308.5 L1959.5,1308.5 L1957.5,1308.6 L1955.5,1308.6 L1953.5,1308.6 L1951.5,1308.7 L1949.5,1308.7 L1947.5,1308.7 L1945.5,1308.8 L1943.5,1308.8 L1941.5,1308.8 L1939.5,1308.8 L1937.5,1308.8 L1935.5,1308.7 L1933.5,1308.7 L1931.5,1308.7 L1929.5,1308.6 L1927.5,1308.6 L1925.5,1308.5 L1923.5,1308.4 L1921.5,1308.3 L1919.5,1308.2 L1917.5,1308.1 L1915.5,1308.0 L1913.5,1307.9 L1911.5,1307.8 L1909.5,1307.6 L1907.5,1307.5 L1905.5,1307.4 L1903.5,1307.2 L1901.5,1307.1 L1899.5,1306.9 L1897.5,1306.8 L1895.5,1306.6 L1893.5,1306.5 L1891.5,1306.4 L1889.5,1306.2 L1887.5,1306.1 L1885.5,1306.0 L1883.5,1305.8 L1881.5,1305.7 L1879.5,1305.6 L1877.5,1305.5 L1875.5,1305.4 L1873.5,1305.4 L1871.5,1305.3 L1869.5,1305.2 L1867.5,1305.2 L1865.5,1305.1 L1863.5,1305.1 L1861.5,1305.1 L1859.5,1305.1 L1857.5,1305.1 L1855.5,1305.0 L1853.5,1305.0 L1851.5,1305.0 L1849.5,1305.0 L1847.5,1305.0 L1845.5,1305.0 L1843.5,1305.0 L1841.5,1305.0 L1839.5,1305.0 L1837.5,1305.0 L1835.5,1305.0 L1833.5,1305.0 L1831.5,1305.0 L1829.5,1304.9 L1827.5,1304.9 L1825.5,1304.9 L1823.5,1304.8 L1821.5,1304.8 L1819.5,1304.7 L1817.5,1304.6 L1815.5,1304.5 L1813.5,1304.4 L1811.5,1304.3 L1809.5,1304.2 L1807.5,1304.1 L1805.5,1303.9 L1803.5,1303.7 L1801.5,1303.5 L1799.5,1303.3 L1797.5,1303.1 L1795.5,1302.9 L1793.5,1302.6 L1791.5,1302.4 L1789.5,1302.2 L1787.5,1301.9 L1785.5,1301.6 L1783.5,1301.4 L1781.5,1301.1 L1779.5,1300.8 L1777.5,1300.6 L1775.5,1300.3 L1773.5,1300.1 L1771.5,1299.8 L1769.5,1299.6 L1767.5,1299.4 L1765.5,1299.2 L1763.5,1299.0 L1761.5,1298.8 L1759.5,1298.7 L1757.5,1298.5 L1755.5,1298.4 L1753.5,1298.3 L1751.5,1298.2 L1749.5,1298.2 L1747.5,1298.2 L1745.5,1298.2 L1743.5,1298.2 L1741.5,1298.2 L1739.5,1298.2 L1737.5,1298.3 L1735.5,1298.3 L1733.5,1298.4 L1731.5,1298.5 L1729.5,1298.5 L1727.5,1298.6 L1725.5,1298.6 L1723.5,1298.7 L1721.5,1298.7 L1719.5,1298.7 L1717.5,1298.7 L1715.5,1298.7 L1713.5,1298.6 L1711.5,1298.6 L1709.5,1298.5 L1707.5,1298.4 L1705.5,1298.3 L1703.5,1298.1 L1701.5,1297.9 L1699.5,1297.8 L1697.5,1297.6 L1695.5,1297.3 L1693.5,1297.1 L1691.5,1296.9 L1689.5,1296.6 L1687.5,1296.4 L1685.5,1296.1 L1683.5,1295.8 L1681.5,1295.6 L1679.5,1295.3 L1677.5,1295.0 L1675.5,1294.7 L1673.5,1294.4 L1671.5,1294.1 L1669.5,1293.8 L1667.5,1293.6 L1665.5,1293.3 L1663.5,1293.0 L1661.5,1292.7 L1659.5,1292.5 L1657.5,1292.2 L1655.5,1292.0 L1653.5,1291.7 L1651.5,1291.5 L1649.5,1291.3 L1647.5,1291.0 L1645.5,1290.8 L1643.5,1290.6 L1641.5,1290.4 L1639.5,1290.2 L1637.5,1290.0 L1635.5,1289.9 L1633.5,1289.7 L1631.5,1289.5 L1629.5,1289.4 L1627.5,1289.2 L1625.5,1289.0 L1623.5,1288.9 L1621.5,1288.8 L1619.5,1288.6 L1617.5,1288.5 L1615.5,1288.4 L1613.5,1288.3 L1611.5,1288.2 L1609.5,1288.1 L1607.5,1288.0 L1605.5,1287.9 L1603.5,1287.8 L1601.5,1287.7 L1599.5,1287.6 L1597.5,1287.5 L1595.5,1287.5 L1593.5,1287.4 L1591.5,1287.4 L1589.5,1287.3 L1587.5,1287.3 L1585.5,1287.2 L1583.5,1287.2 L1581.5,1287.1 L1579.5,1287.1 L1577.5,1287.1 L1575.5,1287.1 L1573.5,1287.1 L1571.5,1287.0 L1569.5,1287.0 L1567.5,1287.0 L1565.5,1287.0 L1563.5,1287.0 L1561.5,1287.1 L1559.5,1287.1 L1557.5,1287.1 L1555.5,1287.1 L1553.5,1287.1 L1551.5,1287.2 L1549.5,1287.2 L1547.5,1287.2 L1545.5,1287.3 L1543.5,1287.3 L1541.5,1287.4 L1539.5,1287.4 L1537.5,1287.5 L1535.5,1287.5 L1533.5,1287.6 L1531.5,1287.6 L1529.5,1287.7 L1527.5,1287.7 L1525.5,1287.8 L1523.5,1287.8 L1521.5,1287.9 L1519.5,1287.9 L1517.5,1287.9 L1515.5,1288.0 L1513.5,1288.0 L1511.5,1288.0 L1509.5,1288.0 L1507.5,1287.9 L1505.5,1287.9 L1503.5,1287.9 L1501.5,1287.8 L1499.5,1287.7 L1497.5,1287.6 L1495.5,1287.5 L1493.5,1287.3 L1491.5,1287.2 L1489.5,1287.0 L1487.5,1286.8 L1485.5,1286.6 L1483.5,1286.3 L1481.5,1286.0 L1479.5,1285.7 L1477.5,1285.4 L1475.5,1285.1 L1473.5,1284.7 L1471.5,1284.4 L1469.5,1284.0 L1467.5,1283.6 L1465.5,1283.2 L1463.5,1282.8 L1461.5,1282.5 L1459.5,1282.1 L1457.5,1281.7 L1455.5,1281.3 L1453.5,1280.9 L1451.5,1280.5 L1449.5,1280.1 L1447.5,1279.7 L1445.5,1279.4 L1443.5,1279.1 L1441.5,1278.7 L1439.5,1278.4 L1437.5,1278.1 L1435.5,1277.9 L1433.5,1277.6 L1431.5,1277.4 L1429.5,1277.2 L1427.5,1277.0 L1425.5,1276.9 L1423.5,1276.8 L1421.5,1276.7 L1419.5,1276.6 L1417.5,1276.6 L1415.5,1276.6 L1413.5,1276.6 L1411.5,1276.6 L1409.5,1276.6 L1407.5,1276.7 L1405.5,1276.8 L1403.5,1276.9 L1401.5,1277.1 L1399.5,1277.2 L1397.5,1277.4 L1395.5,1277.7 L1393.5,1277.9 L1391.5,1278.1 L1389.5,1278.4 L1387.5,1278.7 L1385.5,1278.9 L1383.5,1279.2 L1381.5,1279.4 L1379.5,1279.7 L1377.5,1279.9 L1375.5,1280.1 L1373.5,1280.2 L1371.5,1280.4 L1369.5,1280.6 L1367.5,1280.7 L1365.5,1280.8 L1363.5,1280.9 L1361.5,1280.9 L1359.5,1281.0 L1357.5,1281.0 L1355.5,1281.0 L1353.5,1281.0 L1351.5,1281.0 L1349.5,1280.9 L1347.5,1280.8 L1345.5,1280.7 L1343.5,1280.6 L1341.5,1280.4 L1339.5,1280.3 L1337.5,1280.1 L1335.5,1279.9 L1333.5,1279.6 L1331.5,1279.4 L1329.5,1279.1 L1327.5,1278.8 L1325.5,1278.4 L1323.5,1278.1 L1321.5,1277.7 L1319.5,1277.3 L1317.5,1276.9 L1315.5,1276.5 L1313.5,1276.0 L1311.5,1275.6 L1309.5,1275.1 L1307.5,1274.6 L1305.5,1274.2 L1303.5,1273.7 L1301.5,1273.2 L1299.5,1272.7 L1297.5,1272.3 L1295.5,1271.8 L1293.5,1271.3 L1291.5,1270.9 L1289.5,1270.4 L1287.5,1270.0 L1285.5,1269.6 L1283.5,1269.2 L1281.5,1268.8 L1279.5,1268.4 L1277.5,1268.1 L1275.5,1267.7 L1273.5,1267.4 L1271.5,1267.2 L1269.5,1266.9 L1267.5,1266.7 L1265.5,1266.5 L1263.5,1266.3 L1261.5,1266.2 L1259.5,1266.0 L1257.5,1265.9 L1255.5,1265.8 L1253.5,1265.7 L1251.5,1265.7 L1249.5,1265.6 L1247.5,1265.6 L1245.5,1265.6 L1243.5,1265.5 L1241.5,1265.6 L1239.5,1265.6 L1237.5,1265.6 L1235.5,1265.7 L1233.5,1265.7 L1231.5,1265.8 L1229.5,1265.8 L1227.5,1265.9 L1225.5,1266.0 L1223.5,1266.1 L1221.5,1266.2 L1219.5,1266.3 L1217.5,1266.4 L1215.5,1266.5 L1213.5,1266.7 L1211.5,1266.8 L1209.5,1266.9 L1207.5,1267.0 L1205.5,1267.2 L1203.5,1267.3 L1201.5,1267.4 L1199.5,1267.5 L1197.5,1267.6 L1195.5,1267.7 L1193.5,1267.8 L1191.5,1267.9 L1189.5,1268.0 L1187.5,1268.1 L1185.5,1268.2 L1183.5,1268.3 L1181.5,1268.3 L1179.5,1268.4 L1177.5,1268.4 L1175.5,1268.5 L1173.5,1268.5 L1171.5,1268.5 L1169.5,1268.6 L1167.5,1268.6 L1165.5,1268.6 L1163.5,1268.6 L1161.5,1268.6 L1159.5,1268.6 L1157.5,1268.6 L1155.5,1268.6 L1153.5,1268.6 L1151.5,1268.6 L1149.5,1268.6 L1147.5,1268.6 L1145.5,1268.6 L1143.5,1268.6 L1141.5,1268.6 L1139.5,1268.5 L1137.5,1268.5 L1135.5,1268.5 L1133.5,1268.5 L1131.5,1268.5 L1129.5,1268.5 L1127.5,1268.5 L1125.5,1268.5 L1123.5,1268.5 L1121.5,1268.5 L1119.5,1268.5 L1117.5,1268.4 L1115.5,1268.4 L1113.5,1268.4 L1111.5,1268.4 L1109.5,1268.4 L1107.5,1268.4 L1105.5,1268.3 L1103.5,1268.3 L1101.5,1268.3 L1099.5,1268.3 L1097.5,1268.2 L1095.5,1268.2 L1093.5,1268.1 L1091.5,1268.0 L1089.5,1268.0 L1087.5,1267.9 L1085.5,1267.8 L1083.5,1267.7 L1081.5,1267.6 L1079.5,1267.5 L1077.5,1267.4 L1075.5,1267.3 L1073.5,1267.1 L1071.5,1267.0 L1069.5,1266.8 L1067.5,1266.6 L1065.5,1266.5 L1063.5,1266.3 L1061.5,1266.1 L1059.5,1265.8 L1057.5,1265.6 L1055.5,1265.4 L1053.5,1265.1 L1051.5,1264.9 L1049.5,1264.6 L1047.5,1264.3 L1045.5,1264.1 L1043.5,1263.8 L1041.5,1263.6 L1039.5,1263.3 L1037.5,1263.0 L1035.5,1262.8 L1033.5,1262.5 L1031.5,1262.3 L1029.5,1262.1 L1027.5,1261.9 L1025.5,1261.7 L1023.5,1261.5 L1021.5,1261.3 L1019.5,1261.2 L1017.5,1261.0 L1015.5,1260.9 L1013.5,1260.8 L1011.5,1260.7 L1009.5,1260.7 L1007.5,1260.6 L1005.5,1260.6 L1003.5,1260.7 L1001.5,1260.7 L999.5,1260.7 L997.5,1260.8 L995.5,1260.9 L993.5,1261.0 L991.5,1261.1 L989.5,1261.3 L987.5,1261.4 L985.5,1261.5 L983.5,1261.7 L981.5,1261.9 L979.5,1262.0 L977.5,1262.2 L975.5,1262.4 L973.5,1262.6 L971.5,1262.8 L969.5,1262.9 L967.5,1263.1 L965.5,1263.3 L963.5,1263.5 L961.5,1263.6 L959.5,1263.8 L957.5,1264.0 L955.5,1264.1 L953.5,1264.2 L951.5,1264.4 L949.5,1264.5 L947.5,1264.6 L945.5,1264.7 L943.5,1264.8 L941.5,1264.9 L939.5,1264.9 L937.5,1265.0 L935.5,1265.0 L933.5,1265.1 L931.5,1265.1 L929.5,1265.2 L927.5,1265.2 L925.5,1265.2 L923.5,1265.3 L921.5,1265.3 L919.5,1265.3 L917.5,1265.3 L915.5,1265.3 L913.5,1265.3 L911.5,1265.3 L909.5,1265.3 L907.5,1265.2 L905.5,1265.2 L903.5,1265.2 L901.5,1265.2 L899.5,1265.2 L897.5,1265.1 L895.5,1265.1 L893.5,1265.1 L891.5,1265.1 L889.5,1265.0 L887.5,1265.0 L885.5,1265.0 L883.5,1264.9 L881.5,1264.9 L879.5,1264.9 L877.5,1264.8 L875.5,1264.8 L873.5,1264.8 L871.5,1264.7 L869.5,1264.7 L867.5,1264.7 L865.5,1264.6 L863.5,1264.6 L861.5,1264.6 L859.5,1264.5 L857.5,1264.5 L855.5,1264.5 L853.5,1264.4 L851.5,1264.4 L849.5,1264.4 L847.5,1264.4 L845.5,1264.3 L843.5,1264.3 L841.5,1264.3 L839.5,1264.3 L837.5,1264.3 L835.5,1264.3 L833.5,1264.3 L831.5,1264.3 L829.5,1264.3 L827.5,1264.3 L825.5,1264.3 L823.5,1264.3 L821.5,1264.3 L819.5,1264.3 L817.5,1264.4 L815.5,1264.4 L813.5,1264.4 L811.5,1264.5 L809.5,1264.5 L807.5,1264.6 L805.5,1264.6 L803.5,1264.7 L801.5,1264.7 L799.5,1264.8 L797.5,1264.9 L795.5,1265.0 L793.5,1265.0 L791.5,1265.1 L789.5,1265.2 L787.5,1265.3 L785.5,1265.4 L783.5,1265.6 L781.5,1265.7 L779.5,1265.8 L777.5,1266.0 L775.5,1266.1 L773.5,1266.2 L771.5,1266.4 L769.5,1266.6 L767.5,1266.7 L765.5,1266.9 L763.5,1267.1 L761.5,1267.3 L759.5,1267.5 L757.5,1267.7 L755.5,1267.9 L753.5,1268.2 L751.5,1268.4 L749.5,1268.7 L747.5,1268.9 L745.5,1269.2 L743.5,1269.5 L741.5,1269.8 L739.5,1270.1 L737.5,1270.4 L735.5,1270.7 L733.5,1271.0 L731.5,1271.4 L729.5,1271.8 L727.5,1272.1 L725.5,1272.5 L723.5,1272.9 L721.5,1273.3 L719.5,1273.8 L717.5,1274.2 L715.5,1274.7 L713.5,1275.2 L711.5,1275.7 L709.5,1276.2 L707.5,1276.7 L705.5,1277.3 L703.5,1277.8 L701.5,1278.4 L699.5,1279.0 L697.5,1279.6 L695.5,1280.3 L693.5,1280.9 L691.5,1281.6 L689.5,1282.3 L687.5,1283.0 L685.5,1283.7 L683.5,1284.4 L681.5,1285.0 L679.5,1285.7 L677.5,1286.4 L675.5,1287.0 L673.5,1287.6 L671.5,1288.1 L669.5,1288.7 L667.5,1289.1 L665.5,1289.5 L663.5,1289.9 L661.5,1290.2 L659.5,1290.4 L657.5,1290.5 L655.5,1290.6 L653.5,1290.6 L651.5,1290.5 L649.5,1290.4 L647.5,1290.2 L645.5,1289.9 L643.5,1289.7 L641.5,1289.4 L639.5,1289.1 L637.5,1288.8 L635.5,1288.5 L633.5,1288.2 L631.5,1287.9 L629.5,1287.6 L627.5,1287.2 L625.5,1286.9 L623.5,1286.6 L621.5,1286.3 L619.5,1286.0 L617.5,1285.7 L615.5,1285.4 L613.5,1285.2 L611.5,1284.9 L609.5,1284.7 L607.5,1284.5 L605.5,1284.3 L603.5,1284.2 L601.5,1284.0 L599.5,1284.0 L597.5,1283.9 L595.5,1283.9 L593.5,1283.9 L591.5,1284.0 L589.5,1284.2 L587.5,1284.4 L585.5,1284.7 L583.5,1285.1 L581.5,1285.5 L579.5,1286.0 L577.5,1286.5 L575.5,1287.1 L573.5,1287.7 L571.5,1288.4 L569.5,1289.1 L567.5,1289.8 L565.5,1290.5 L563.5,1291.3 L561.5,1292.1 L559.5,1292.9 L557.5,1293.7 L555.5,1294.5 L553.5,1295.3 L551.5,1296.1 L549.5,1296.9 L547.5,1297.7 L545.5,1298.5 L543.5,1299.2 L541.5,1300.0 L539.5,1300.7 L537.5,1301.4 L535.5,1302.1 L533.5,1302.7 L531.5,1303.3 L529.5,1303.9 L527.5,1304.4 L525.5,1304.9 L523.5,1305.3 L521.5,1305.7 L519.5,1306.1 L517.5,1306.4 L515.5,1306.6 L513.5,1306.8 L511.5,1307.0 L509.5,1307.1 L507.5,1307.2 L505.5,1307.2 L503.5,1307.3 L501.5,1307.3 L499.5,1307.3 L497.5,1307.2 L495.5,1307.2 L493.5,1307.1 L491.5,1307.1 L489.5,1307.0 L487.5,1307.0 L485.5,1306.9 L483.5,1306.9 L481.5,1306.8 L479.5,1306.8 L477.5,1306.8 L475.5,1306.8 L473.5,1306.8 L471.5,1306.7 L469.5,1306.8 L467.5,1306.8 L465.5,1306.8 L463.5,1306.8 L461.5,1306.8 L459.5,1306.9 L457.5,1306.9 L455.5,1306.9 L453.5,1307.0 L451.5,1307.0 L449.5,1307.1 L447.5,1307.1 L445.5,1307.2 L443.5,1307.3 L441.5,1307.3 L439.5,1307.4 L437.5,1307.4 L435.5,1307.5 L433.5,1307.6 L431.5,1307.6 L429.5,1307.7 L427.5,1307.8 L425.5,1307.8 L423.5,1307.9 L421.5,1307.9 L419.5,1308.0 L417.5,1308.1 L415.5,1308.1 L413.5,1308.2 L411.5,1308.2 L409.5,1308.3 L407.5,1308.3 L405.5,1308.3 L403.5,1308.4 L401.5,1308.4 L399.5,1308.4 L397.5,1308.4 L395.5,1308.5 L393.5,1308.5 L391.5,1308.5 L389.5,1308.5 L387.5,1308.5 L385.5,1308.5 L383.5,1308.4 L381.5,1308.4 L379.5,1308.4 L377.5,1308.4 L375.5,1308.3 L373.5,1308.3 L371.5,1308.3 L369.5,1308.3 L367.5,1308.2 L365.5,1308.2 L363.5,1308.2 L361.5,1308.1 L359.5,1308.1 L357.5,1308.1 L355.5,1308.0 L353.5,1308.0 L351.5,1308.0 L349.5,1308.0 L347.5,1307.9 L345.5,1307.9 L343.5,1307.9 L341.5,1307.9 L339.5,1307.9 L337.5,1307.9 L335.5,1307.9 L333.5,1307.9 L331.5,1307.9 L329.5,1308.0 L327.5,1308.0 L325.5,1308.0 L323.5,1308.1 L321.5,1308.2 L319.5,1308.2 L317.5,1308.3 L315.5,1308.4 L313.5,1308.5 L311.5,1308.6 L309.5,1308.7 L307.5,1308.8 L305.5,1308.9 L303.5,1309.1 L301.5,1309.2 L299.5,1309.4 L297.5,1309.5 L295.5,1309.5 L293.5,1309.4 L291.5,1309.1 L289.5,1308.5 L287.5,1307.7 L285.5,1306.7 L283.5,1305.5 L281.5,1304.1 L279.5,1302.7 L277.5,1301.2 L275.5,1299.6 L273.5,1298.0 L271.5,1296.4 L269.5,1294.8 L267.5,1293.3 L265.5,1291.8 L263.5,1290.3 L261.5,1288.9 L259.5,1287.5 L257.5,1286.0 L255.5,1284.6 L253.5,1283.1 L251.5,1281.7 L249.5,1280.2 L247.5,1278.7 L245.5,1277.2Z" fill="#00bfff" fill-opacity="0.16" stroke="#00bfff" stroke-opacity="0.16" stroke-width="5" stroke-linejoin="round"/>
<g stroke="#ababab" stroke-width="3.4" stroke-dasharray="22.49 5.63 3.51 5.63" fill="none">
<line x1="432.0" y1="1371.0" x2="432.0" y2="33.7"/>
<line x1="751.9" y1="1371.0" x2="751.9" y2="33.7"/>
<line x1="1071.8" y1="1371.0" x2="1071.8" y2="33.7"/>
<line x1="1391.7" y1="1371.0" x2="1391.7" y2="33.7"/>
<line x1="1711.6" y1="1371.0" x2="1711.6" y2="33.7"/>
<line x1="2031.5" y1="1371.0" x2="2031.5" y2="33.7"/>
<line x1="245.5" y1="1331.6" x2="2039.0" y2="1331.6"/>
<line x1="245.5" y1="1155.8" x2="2039.0" y2="1155.8"/>
<line x1="245.5" y1="979.9" x2="2039.0" y2="979.9"/>
<line x1="245.5" y1="804.0" x2="2039.0" y2="804.0"/>
<line x1="245.5" y1="628.2" x2="2039.0" y2="628.2"/>
<line x1="245.5" y1="452.3" x2="2039.0" y2="452.3"/>
<line x1="245.5" y1="276.5" x2="2039.0" y2="276.5"/>
<line x1="245.5" y1="100.6" x2="2039.0" y2="100.6"/>
</g>
<g fill="none" stroke-width="9.4" stroke-linejoin="round">
<path d="M245.5,857.0 L247.5,857.0 L249.5,857.0 L251.5,857.0 L253.5,857.0 L255.5,857.0 L257.5,857.0 L259.5,856.9 L261.5,856.9 L263.5,856.8 L265.5,856.7 L267.5,856.5 L269.5,856.3 L271.5,856.0 L273.5,855.7 L275.5,855.3 L277.5,854.9 L279.5,854.4 L281.5,853.8 L283.5,853.2 L285.5,852.5 L287.5,851.8 L289.5,851.0 L291.5,850.2 L293.5,849.3 L295.5,848.4 L297.5,847.4 L299.5,846.5 L301.5,845.5 L303.5,844.5 L305.5,843.4 L307.5,842.2 L309.5,841.0 L311.5,839.7 L313.5,838.4 L315.5,837.1 L317.5,835.7 L319.5,834.4 L321.5,833.1 L323.5,831.8 L325.5,830.5 L327.5,829.3 L329.5,828.1 L331.5,826.9 L333.5,825.6 L335.5,824.4 L337.5,823.2 L339.5,821.9 L341.5,820.6 L343.5,819.2 L345.5,817.9 L347.5,816.5 L349.5,815.1 L351.5,813.7 L353.5,812.3 L355.5,810.8 L357.5,809.4 L359.5,807.9 L361.5,806.5 L363.5,805.1 L365.5,803.7 L367.5,802.3 L369.5,800.8 L371.5,799.4 L373.5,798.0 L375.5,796.6 L377.5,795.1 L379.5,793.7 L381.5,792.2 L383.5,790.8 L385.5,789.3 L387.5,787.8 L389.5,786.3 L391.5,784.8 L393.5,783.3 L395.5,781.8 L397.5,780.4 L399.5,779.0 L401.5,777.6 L403.5,776.2 L405.5,774.9 L407.5,773.6 L409.5,772.4 L411.5,771.2 L413.5,770.0 L415.5,768.9 L417.5,767.8 L419.5,766.9 L421.5,765.9 L423.5,765.0 L425.5,764.2 L427.5,763.4 L429.5,762.6 L431.5,761.9 L433.5,761.3 L435.5,760.7 L437.5,760.2 L439.5,759.7 L441.5,759.3 L443.5,758.9 L445.5,758.5 L447.5,758.1 L449.5,757.8 L451.5,757.5 L453.5,757.2 L455.5,756.9 L457.5,756.6 L459.5,756.3 L461.5,756.0 L463.5,755.7 L465.5,755.5 L467.5,755.2 L469.5,754.8 L471.5,754.5 L473.5,754.1 L475.5,753.6 L477.5,753.2 L479.5,752.6 L481.5,752.0 L483.5,751.3 L485.5,750.5 L487.5,749.7 L489.5,748.7 L491.5,747.7 L493.5,746.6 L495.5,745.4 L497.5,744.0 L499.5,742.6 L501.5,741.0 L503.5,739.4 L505.5,737.5 L507.5,735.6 L509.5,733.4 L511.5,731.1 L513.5,728.6 L515.5,726.0 L517.5,723.1 L519.5,720.2 L521.5,717.0 L523.5,713.8 L525.5,710.4 L527.5,707.0 L529.5,703.4 L531.5,699.7 L533.5,695.9 L535.5,692.0 L537.5,688.0 L539.5,683.9 L541.5,679.6 L543.5,675.3 L545.5,670.8 L547.5,666.4 L549.5,661.9 L551.5,657.4 L553.5,653.0 L555.5,648.5 L557.5,644.1 L559.5,639.7 L561.5,635.3 L563.5,630.9 L565.5,626.5 L567.5,622.2 L569.5,617.8 L571.5,613.5 L573.5,609.3 L575.5,605.1 L577.5,601.0 L579.5,597.0 L581.5,593.0 L583.5,589.2 L585.5,585.5 L587.5,582.0 L589.5,578.5 L591.5,575.2 L593.5,572.0 L595.5,569.0 L597.5,566.0 L599.5,563.0 L601.5,560.0 L603.5,557.0 L605.5,554.0 L607.5,550.8 L609.5,547.5 L611.5,544.1 L613.5,540.7 L615.5,537.2 L617.5,533.7 L619.5,530.1 L621.5,526.5 L623.5,522.9 L625.5,519.4 L627.5,515.8 L629.5,512.3 L631.5,508.8 L633.5,505.3 L635.5,501.9 L637.5,498.6 L639.5,495.3 L641.5,492.2 L643.5,489.2 L645.5,486.3 L647.5,483.4 L649.5,480.6 L651.5,477.8 L653.5,475.1 L655.5,472.4 L657.5,469.7 L659.5,467.2 L661.5,464.6 L663.5,462.2 L665.5,459.8 L667.5,457.4 L669.5,455.0 L671.5,452.6 L673.5,450.3 L675.5,447.9 L677.5,445.5 L679.5,443.1 L681.5,440.7 L683.5,438.3 L685.5,435.9 L687.5,433.5 L689.5,431.0 L691.5,428.5 L693.5,426.0 L695.5,423.4 L697.5,420.7 L699.5,418.0 L701.5,415.1 L703.5,412.2 L705.5,409.2 L707.5,406.1 L709.5,402.9 L711.5,399.7 L713.5,396.5 L715.5,393.3 L717.5,390.0 L719.5,386.7 L721.5,383.4 L723.5,379.9 L725.5,376.4 L727.5,372.9 L729.5,369.4 L731.5,365.9 L733.5,362.3 L735.5,358.9 L737.5,355.4 L739.5,352.1 L741.5,348.9 L743.5,345.8 L745.5,342.7 L747.5,339.8 L749.5,337.0 L751.5,334.3 L753.5,331.7 L755.5,329.2 L757.5,326.9 L759.5,324.8 L761.5,322.7 L763.5,320.8 L765.5,319.0 L767.5,317.4 L769.5,315.8 L771.5,314.3 L773.5,313.0 L775.5,311.7 L777.5,310.6 L779.5,309.5 L781.5,308.5 L783.5,307.6 L785.5,306.6 L787.5,305.7 L789.5,304.7 L791.5,303.8 L793.5,302.9 L795.5,301.9 L797.5,301.0 L799.5,299.9 L801.5,298.9 L803.5,297.7 L805.5,296.5 L807.5,295.2 L809.5,293.8 L811.5,292.3 L813.5,290.6 L815.5,288.9 L817.5,287.1 L819.5,285.1 L821.5,283.0 L823.5,280.7 L825.5,278.4 L827.5,276.0 L829.5,273.6 L831.5,271.1 L833.5,268.7 L835.5,266.2 L837.5,263.7 L839.5,261.3 L841.5,258.8 L843.5,256.4 L845.5,254.0 L847.5,251.7 L849.5,249.5 L851.5,247.4 L853.5,245.3 L855.5,243.4 L857.5,241.6 L859.5,240.0 L861.5,238.4 L863.5,236.9 L865.5,235.6 L867.5,234.3 L869.5,233.2 L871.5,232.1 L873.5,231.1 L875.5,230.1 L877.5,229.3 L879.5,228.4 L881.5,227.6 L883.5,226.8 L885.5,226.1 L887.5,225.3 L889.5,224.6 L891.5,223.9 L893.5,223.2 L895.5,222.4 L897.5,221.7 L899.5,221.0 L901.5,220.3 L903.5,219.6 L905.5,218.8 L907.5,218.1 L909.5,217.3 L911.5,216.4 L913.5,215.5 L915.5,214.6 L917.5,213.7 L919.5,212.9 L921.5,212.1 L923.5,211.3 L925.5,210.5 L927.5,209.7 L929.5,209.0 L931.5,208.3 L933.5,207.7 L935.5,207.1 L937.5,206.5 L939.5,206.1 L941.5,205.7 L943.5,205.3 L945.5,204.9 L947.5,204.6 L949.5,204.4 L951.5,204.1 L953.5,203.9 L955.5,203.7 L957.5,203.5 L959.5,203.4 L961.5,203.3 L963.5,203.2 L965.5,203.0 L967.5,202.9 L969.5,202.8 L971.5,202.7 L973.5,202.5 L975.5,202.3 L977.5,202.0 L979.5,201.6 L981.5,201.1 L983.5,200.5 L985.5,199.8 L987.5,199.0 L989.5,198.1 L991.5,197.0 L993.5,195.8 L995.5,194.6 L997.5,193.2 L999.5,191.7 L1001.5,190.2 L1003.5,188.6 L1005.5,186.9 L1007.5,185.1 L1009.5,183.2 L1011.5,181.3 L1013.5,179.4 L1015.5,177.4 L1017.5,175.3 L1019.5,173.3 L1021.5,171.2 L1023.5,169.1 L1025.5,167.0 L1027.5,165.0 L1029.5,162.9 L1031.5,160.9 L1033.5,159.0 L1035.5,157.1 L1037.5,155.3 L1039.5,153.5 L1041.5,151.9 L1043.5,150.3 L1045.5,148.9 L1047.5,147.6 L1049.5,146.3 L1051.5,145.2 L1053.5,144.2 L1055.5,143.3 L1057.5,142.4 L1059.5,141.7 L1061.5,141.0 L1063.5,140.5 L1065.5,140.1 L1067.5,139.7 L1069.5,139.5 L1071.5,139.3 L1073.5,139.2 L1075.5,139.3 L1077.5,139.4 L1079.5,139.6 L1081.5,139.8 L1083.5,140.2 L1085.5,140.6 L1087.5,141.1 L1089.5,141.8 L1091.5,142.5 L1093.5,143.3 L1095.5,144.2 L1097.5,145.2 L1099.5,146.2 L1101.5,147.3 L1103.5,148.5 L1105.5,149.7 L1107.5,151.0 L1109.5,152.3 L1111.5,153.7 L1113.5,155.0 L1115.5,156.3 L1117.5,157.5 L1119.5,158.7 L1121.5,159.8 L1123.5,160.9 L1125.5,162.0 L1127.5,163.1 L1129.5,164.1 L1131.5,165.1 L1133.5,166.0 L1135.5,166.9 L1137.5,167.7 L1139.5,168.4 L1141.5,169.0 L1143.5,169.6 L1145.5,170.1 L1147.5,170.6 L1149.5,171.0 L1151.5,171.3 L1153.5,171.5 L1155.5,171.7 L1157.5,171.7 L1159.5,171.6 L1161.5,171.5 L1163.5,171.2 L1165.5,170.9 L1167.5,170.5 L1169.5,169.9 L1171.5,169.4 L1173.5,168.7 L1175.5,168.0 L1177.5,167.2 L1179.5,166.4 L1181.5,165.6 L1183.5,164.7 L1185.5,163.7 L1187.5,162.7 L1189.5,161.7 L1191.5,160.7 L1193.5,159.7 L1195.5,158.7 L1197.5,157.7 L1199.5,156.7 L1201.5,155.8 L1203.5,154.9 L1205.5,154.0 L1207.5,153.2 L1209.5,152.4 L1211.5,151.7 L1213.5,151.0 L1215.5,150.4 L1217.5,149.9 L1219.5,149.4 L1221.5,149.0 L1223.5,148.7 L1225.5,148.5 L1227.5,148.4 L1229.5,148.5 L1231.5,148.6 L1233.5,148.9 L1235.5,149.4 L1237.5,150.0 L1239.5,150.8 L1241.5,151.7 L1243.5,152.8 L1245.5,154.0 L1247.5,155.4 L1249.5,156.9 L1251.5,158.6 L1253.5,160.5 L1255.5,162.6 L1257.5,164.9 L1259.5,167.3 L1261.5,169.9 L1263.5,172.7 L1265.5,175.6 L1267.5,178.7 L1269.5,181.9 L1271.5,185.2 L1273.5,188.7 L1275.5,192.2 L1277.5,195.8 L1279.5,199.4 L1281.5,203.1 L1283.5,206.8 L1285.5,210.5 L1287.5,214.3 L1289.5,218.1 L1291.5,221.9 L1293.5,225.7 L1295.5,229.5 L1297.5,233.4 L1299.5,237.3 L1301.5,241.2 L1303.5,245.1 L1305.5,249.0 L1307.5,252.8 L1309.5,256.5 L1311.5,260.2 L1313.5,263.7 L1315.5,267.0 L1317.5,270.2 L1319.5,273.2 L1321.5,276.0 L1323.5,278.6 L1325.5,281.0 L1327.5,283.2 L1329.5,285.2 L1331.5,287.1 L1333.5,288.7 L1335.5,290.2 L1337.5,291.4 L1339.5,292.5 L1341.5,293.2 L1343.5,293.8 L1345.5,294.1 L1347.5,294.2 L1349.5,294.1 L1351.5,293.8 L1353.5,293.3 L1355.5,292.6 L1357.5,291.7 L1359.5,290.6 L1361.5,289.4 L1363.5,287.9 L1365.5,286.4 L1367.5,284.6 L1369.5,282.8 L1371.5,280.9 L1373.5,278.9 L1375.5,276.9 L1377.5,274.8 L1379.5,272.8 L1381.5,270.7 L1383.5,268.8 L1385.5,266.9 L1387.5,265.1 L1389.5,263.4 L1391.5,261.9 L1393.5,260.4 L1395.5,259.1 L1397.5,258.0 L1399.5,257.0 L1401.5,256.2 L1403.5,255.7 L1405.5,255.4 L1407.5,255.3 L1409.5,255.4 L1411.5,255.8 L1413.5,256.4 L1415.5,257.3 L1417.5,258.5 L1419.5,259.9 L1421.5,261.6 L1423.5,263.6 L1425.5,265.9 L1427.5,268.5 L1429.5,271.2 L1431.5,274.2 L1433.5,277.4 L1435.5,280.7 L1437.5,284.1 L1439.5,287.5 L1441.5,290.8 L1443.5,294.2 L1445.5,297.5 L1447.5,300.8 L1449.5,304.0 L1451.5,307.1 L1453.5,310.1 L1455.5,312.9 L1457.5,315.6 L1459.5,318.0 L1461.5,320.3 L1463.5,322.3 L1465.5,324.2 L1467.5,325.8 L1469.5,327.2 L1471.5,328.4 L1473.5,329.4 L1475.5,330.1 L1477.5,330.7 L1479.5,331.0 L1481.5,331.0 L1483.5,330.9 L1485.5,330.5 L1487.5,329.9 L1489.5,329.1 L1491.5,328.1 L1493.5,326.9 L1495.5,325.6 L1497.5,324.1 L1499.5,322.5 L1501.5,320.9 L1503.5,319.1 L1505.5,317.4 L1507.5,315.6 L1509.5,313.7 L1511.5,311.8 L1513.5,309.9 L1515.5,308.0 L1517.5,306.1 L1519.5,304.2 L1521.5,302.4 L1523.5,300.6 L1525.5,298.9 L1527.5,297.2 L1529.5,295.6 L1531.5,294.0 L1533.5,292.5 L1535.5,291.0 L1537.5,289.7 L1539.5,288.5 L1541.5,287.4 L1543.5,286.4 L1545.5,285.5 L1547.5,284.7 L1549.5,284.0 L1551.5,283.5 L1553.5,283.0 L1555.5,282.7 L1557.5,282.5 L1559.5,282.5 L1561.5,282.5 L1563.5,282.7 L1565.5,283.1 L1567.5,283.5 L1569.5,284.1 L1571.5,284.8 L1573.5,285.7 L1575.5,286.6 L1577.5,287.7 L1579.5,288.8 L1581.5,290.0 L1583.5,291.2 L1585.5,292.5 L1587.5,293.9 L1589.5,295.2 L1591.5,296.6 L1593.5,298.0 L1595.5,299.4 L1597.5,300.8 L1599.5,302.1 L1601.5,303.5 L1603.5,304.9 L1605.5,306.2 L1607.5,307.5 L1609.5,308.9 L1611.5,310.2 L1613.5,311.6 L1615.5,312.9 L1617.5,314.2 L1619.5,315.5 L1621.5,316.8 L1623.5,318.1 L1625.5,319.4 L1627.5,320.8 L1629.5,322.2 L1631.5,323.6 L1633.5,325.1 L1635.5,326.6 L1637.5,328.1 L1639.5,329.7 L1641.5,331.3 L1643.5,332.9 L1645.5,334.5 L1647.5,336.1 L1649.5,337.8 L1651.5,339.5 L1653.5,341.2 L1655.5,343.1 L1657.5,345.0 L1659.5,346.9 L1661.5,348.9 L1663.5,350.9 L1665.5,353.0 L1667.5,355.0 L1669.5,357.1 L1671.5,359.1 L1673.5,361.0 L1675.5,363.0 L1677.5,364.8 L1679.5,366.6 L1681.5,368.4 L1683.5,370.2 L1685.5,371.8 L1687.5,373.4 L1689.5,375.0 L1691.5,376.4 L1693.5,377.7 L1695.5,378.9 L1697.5,380.0 L1699.5,381.0 L1701.5,382.0 L1703.5,382.9 L1705.5,383.8 L1707.5,384.5 L1709.5,385.3 L1711.5,385.9 L1713.5,386.5 L1715.5,387.1 L1717.5,387.6 L1719.5,388.2 L1721.5,388.7 L1723.5,389.2 L1725.5,389.7 L1727.5,390.2 L1729.5,390.6 L1731.5,391.1 L1733.5,391.6 L1735.5,392.2 L1737.5,392.8 L1739.5,393.5 L1741.5,394.3 L1743.5,395.2 L1745.5,396.1 L1747.5,397.2 L1749.5,398.3 L1751.5,399.6 L1753.5,401.0 L1755.5,402.5 L1757.5,404.0 L1759.5,405.7 L1761.5,407.5 L1763.5,409.4 L1765.5,411.4 L1767.5,413.4 L1769.5,415.5 L1771.5,417.7 L1773.5,419.9 L1775.5,422.1 L1777.5,424.5 L1779.5,426.9 L1781.5,429.5 L1783.5,432.1 L1785.5,434.7 L1787.5,437.5 L1789.5,440.4 L1791.5,443.3 L1793.5,446.2 L1795.5,449.3 L1797.5,452.4 L1799.5,455.5 L1801.5,458.7 L1803.5,461.9 L1805.5,465.1 L1807.5,468.2 L1809.5,471.3 L1811.5,474.4 L1813.5,477.4 L1815.5,480.3 L1817.5,483.2 L1819.5,486.1 L1821.5,488.8 L1823.5,491.5 L1825.5,494.1 L1827.5,496.5 L1829.5,498.9 L1831.5,501.1 L1833.5,503.3 L1835.5,505.4 L1837.5,507.3 L1839.5,509.2 L1841.5,511.1 L1843.5,512.8 L1845.5,514.3 L1847.5,515.8 L1849.5,517.2 L1851.5,518.5 L1853.5,519.7 L1855.5,520.8 L1857.5,521.7 L1859.5,522.6 L1861.5,523.3 L1863.5,523.9 L1865.5,524.3 L1867.5,524.6 L1869.5,524.8 L1871.5,524.9 L1873.5,524.9 L1875.5,524.7 L1877.5,524.4 L1879.5,524.0 L1881.5,523.5 L1883.5,522.9 L1885.5,522.2 L1887.5,521.5 L1889.5,520.7 L1891.5,519.8 L1893.5,518.9 L1895.5,518.0 L1897.5,517.0 L1899.5,516.0 L1901.5,515.0 L1903.5,514.0 L1905.5,513.0 L1907.5,511.9 L1909.5,510.9 L1911.5,509.9 L1913.5,508.9 L1915.5,508.0 L1917.5,507.1 L1919.5,506.2 L1921.5,505.4 L1923.5,504.6 L1925.5,503.9 L1927.5,503.2 L1929.5,502.6 L1931.5,502.1 L1933.5,501.6 L1935.5,501.2 L1937.5,500.9 L1939.5,500.6 L1941.5,500.5 L1943.5,500.3 L1945.5,500.2 L1947.5,500.1 L1949.5,500.1 L1951.5,500.0 L1953.5,499.9 L1955.5,499.8 L1957.5,499.8 L1959.5,499.8 L1961.5,499.9 L1963.5,500.0 L1965.5,500.2 L1967.5,500.3 L1969.5,500.5 L1971.5,500.6 L1973.5,500.7 L1975.5,500.8 L1977.5,500.9 L1979.5,501.0 L1981.5,501.1 L1983.5,501.3 L1985.5,501.4 L1987.5,501.4 L1989.5,501.5 L1991.5,501.6 L1993.5,501.6 L1995.5,501.6 L1997.5,501.6 L1999.5,501.6 L2001.5,501.6 L2003.5,501.5 L2005.5,501.5 L2007.5,501.4 L2009.5,501.3 L2011.5,501.2 L2013.5,501.0 L2015.5,500.9 L2017.5,500.8 L2019.5,500.7 L2021.5,500.5 L2023.5,500.4 L2025.5,500.3 L2027.5,500.2 L2029.5,500.1 L2031.5,500.0 L2033.5,499.9 L2035.5,499.7 L2037.5,499.5" stroke="#ffa500"/>
<path d="M245.5,926.7 L247.5,926.9 L249.5,927.0 L251.5,927.2 L253.5,927.3 L255.5,927.5 L257.5,927.6 L259.5,927.7 L261.5,927.8 L263.5,927.8 L265.5,927.8 L267.5,927.8 L269.5,927.7 L271.5,927.6 L273.5,927.4 L275.5,927.2 L277.5,926.9 L279.5,926.6 L281.5,926.2 L283.5,925.8 L285.5,925.2 L287.5,924.7 L289.5,924.1 L291.5,923.4 L293.5,922.7 L295.5,922.0 L297.5,921.3 L299.5,920.6 L301.5,919.8 L303.5,919.0 L305.5,918.1 L307.5,917.2 L309.5,916.2 L311.5,915.2 L313.5,914.1 L315.5,913.0 L317.5,912.0 L319.5,910.9 L321.5,909.9 L323.5,908.9 L325.5,907.9 L327.5,906.9 L329.5,906.0 L331.5,905.0 L333.5,904.1 L335.5,903.2 L337.5,902.2 L339.5,901.2 L341.5,900.2 L343.5,899.2 L345.5,898.2 L347.5,897.1 L349.5,896.1 L351.5,895.0 L353.5,893.9 L355.5,892.8 L357.5,891.7 L359.5,890.6 L361.5,889.5 L363.5,888.5 L365.5,887.4 L367.5,886.3 L369.5,885.3 L371.5,884.3 L373.5,883.2 L375.5,882.2 L377.5,881.1 L379.5,880.0 L381.5,879.0 L383.5,877.9 L385.5,876.8 L387.5,875.7 L389.5,874.6 L391.5,873.4 L393.5,872.3 L395.5,871.3 L397.5,870.2 L399.5,869.2 L401.5,868.1 L403.5,867.2 L405.5,866.2 L407.5,865.2 L409.5,864.3 L411.5,863.4 L413.5,862.6 L415.5,861.8 L417.5,861.0 L419.5,860.3 L421.5,859.6 L423.5,859.0 L425.5,858.4 L427.5,857.8 L429.5,857.3 L431.5,856.8 L433.5,856.3 L435.5,855.9 L437.5,855.6 L439.5,855.2 L441.5,854.9 L443.5,854.6 L445.5,854.3 L447.5,854.0 L449.5,853.8 L451.5,853.5 L453.5,853.3 L455.5,853.0 L457.5,852.8 L459.5,852.6 L461.5,852.3 L463.5,852.1 L465.5,851.8 L467.5,851.6 L469.5,851.3 L471.5,851.0 L473.5,850.6 L475.5,850.3 L477.5,849.9 L479.5,849.4 L481.5,848.9 L483.5,848.3 L485.5,847.6 L487.5,846.9 L489.5,846.1 L491.5,845.3 L493.5,844.3 L495.5,843.3 L497.5,842.2 L499.5,841.0 L501.5,839.8 L503.5,838.4 L505.5,836.9 L507.5,835.3 L509.5,833.5 L511.5,831.7 L513.5,829.6 L515.5,827.5 L517.5,825.2 L519.5,822.8 L521.5,820.2 L523.5,817.6 L525.5,814.9 L527.5,812.0 L529.5,809.1 L531.5,806.1 L533.5,803.0 L535.5,799.8 L537.5,796.6 L539.5,793.2 L541.5,789.7 L543.5,786.0 L545.5,782.3 L547.5,778.6 L549.5,774.8 L551.5,771.1 L553.5,767.4 L555.5,763.7 L557.5,760.1 L559.5,756.4 L561.5,752.7 L563.5,749.1 L565.5,745.4 L567.5,741.8 L569.5,738.2 L571.5,734.7 L573.5,731.2 L575.5,727.8 L577.5,724.4 L579.5,721.1 L581.5,717.9 L583.5,714.9 L585.5,711.9 L587.5,709.1 L589.5,706.3 L591.5,703.7 L593.5,701.2 L595.5,698.8 L597.5,696.5 L599.5,694.3 L601.5,692.0 L603.5,689.7 L605.5,687.3 L607.5,684.9 L609.5,682.3 L611.5,679.7 L613.5,677.1 L615.5,674.4 L617.5,671.6 L619.5,668.8 L621.5,666.0 L623.5,663.3 L625.5,660.5 L627.5,657.8 L629.5,655.0 L631.5,652.3 L633.5,649.6 L635.5,646.9 L637.5,644.3 L639.5,641.8 L641.5,639.4 L643.5,637.0 L645.5,634.8 L647.5,632.6 L649.5,630.4 L651.5,628.2 L653.5,626.1 L655.5,623.9 L657.5,621.9 L659.5,619.8 L661.5,617.8 L663.5,615.8 L665.5,613.8 L667.5,611.8 L669.5,609.9 L671.5,607.9 L673.5,605.9 L675.5,603.9 L677.5,601.8 L679.5,599.8 L681.5,597.7 L683.5,595.6 L685.5,593.5 L687.5,591.4 L689.5,589.3 L691.5,587.1 L693.5,584.9 L695.5,582.7 L697.5,580.4 L699.5,578.0 L701.5,575.6 L703.5,573.0 L705.5,570.4 L707.5,567.8 L709.5,565.1 L711.5,562.4 L713.5,559.6 L715.5,556.9 L717.5,554.1 L719.5,551.3 L721.5,548.4 L723.5,545.5 L725.5,542.6 L727.5,539.6 L729.5,536.6 L731.5,533.6 L733.5,530.6 L735.5,527.7 L737.5,524.9 L739.5,522.1 L741.5,519.4 L743.5,516.8 L745.5,514.3 L747.5,511.9 L749.5,509.6 L751.5,507.4 L753.5,505.3 L755.5,503.3 L757.5,501.4 L759.5,499.7 L761.5,498.1 L763.5,496.6 L765.5,495.2 L767.5,493.9 L769.5,492.7 L771.5,491.6 L773.5,490.6 L775.5,489.7 L777.5,488.8 L779.5,488.1 L781.5,487.4 L783.5,486.7 L785.5,486.0 L787.5,485.3 L789.5,484.6 L791.5,483.9 L793.5,483.2 L795.5,482.5 L797.5,481.8 L799.5,481.0 L801.5,480.2 L803.5,479.3 L805.5,478.3 L807.5,477.2 L809.5,476.1 L811.5,474.9 L813.5,473.5 L815.5,472.1 L817.5,470.5 L819.5,468.9 L821.5,467.1 L823.5,465.1 L825.5,463.2 L827.5,461.1 L829.5,459.1 L831.5,457.0 L833.5,454.9 L835.5,452.8 L837.5,450.7 L839.5,448.6 L841.5,446.5 L843.5,444.4 L845.5,442.4 L847.5,440.5 L849.5,438.6 L851.5,436.9 L853.5,435.2 L855.5,433.6 L857.5,432.1 L859.5,430.7 L861.5,429.4 L863.5,428.2 L865.5,427.1 L867.5,426.1 L869.5,425.2 L871.5,424.3 L873.5,423.5 L875.5,422.7 L877.5,422.0 L879.5,421.4 L881.5,420.8 L883.5,420.2 L885.5,419.6 L887.5,419.1 L889.5,418.5 L891.5,418.0 L893.5,417.4 L895.5,416.9 L897.5,416.4 L899.5,415.8 L901.5,415.3 L903.5,414.8 L905.5,414.3 L907.5,413.8 L909.5,413.2 L911.5,412.6 L913.5,411.9 L915.5,411.3 L917.5,410.6 L919.5,410.0 L921.5,409.4 L923.5,408.9 L925.5,408.3 L927.5,407.8 L929.5,407.3 L931.5,406.8 L933.5,406.3 L935.5,405.9 L937.5,405.5 L939.5,405.2 L941.5,405.0 L943.5,404.7 L945.5,404.5 L947.5,404.3 L949.5,404.2 L951.5,404.0 L953.5,403.9 L955.5,403.8 L957.5,403.7 L959.5,403.7 L961.5,403.6 L963.5,403.6 L965.5,403.5 L967.5,403.4 L969.5,403.3 L971.5,403.2 L973.5,403.0 L975.5,402.8 L977.5,402.6 L979.5,402.3 L981.5,401.9 L983.5,401.4 L985.5,400.9 L987.5,400.2 L989.5,399.5 L991.5,398.6 L993.5,397.6 L995.5,396.6 L997.5,395.5 L999.5,394.3 L1001.5,393.1 L1003.5,391.9 L1005.5,390.6 L1007.5,389.2 L1009.5,387.8 L1011.5,386.3 L1013.5,384.8 L1015.5,383.3 L1017.5,381.8 L1019.5,380.2 L1021.5,378.7 L1023.5,377.1 L1025.5,375.6 L1027.5,374.1 L1029.5,372.6 L1031.5,371.1 L1033.5,369.6 L1035.5,368.2 L1037.5,366.9 L1039.5,365.6 L1041.5,364.4 L1043.5,363.3 L1045.5,362.2 L1047.5,361.3 L1049.5,360.4 L1051.5,359.5 L1053.5,358.7 L1055.5,358.0 L1057.5,357.4 L1059.5,356.8 L1061.5,356.3 L1063.5,355.8 L1065.5,355.4 L1067.5,355.1 L1069.5,354.9 L1071.5,354.7 L1073.5,354.6 L1075.5,354.5 L1077.5,354.5 L1079.5,354.6 L1081.5,354.7 L1083.5,354.9 L1085.5,355.2 L1087.5,355.5 L1089.5,355.9 L1091.5,356.4 L1093.5,357.0 L1095.5,357.6 L1097.5,358.3 L1099.5,359.1 L1101.5,359.9 L1103.5,360.8 L1105.5,361.7 L1107.5,362.6 L1109.5,363.6 L1111.5,364.7 L1113.5,365.7 L1115.5,366.6 L1117.5,367.5 L1119.5,368.4 L1121.5,369.2 L1123.5,370.1 L1125.5,370.9 L1127.5,371.6 L1129.5,372.4 L1131.5,373.1 L1133.5,373.8 L1135.5,374.4 L1137.5,374.9 L1139.5,375.4 L1141.5,375.8 L1143.5,376.2 L1145.5,376.5 L1147.5,376.8 L1149.5,377.0 L1151.5,377.2 L1153.5,377.2 L1155.5,377.3 L1157.5,377.2 L1159.5,377.0 L1161.5,376.8 L1163.5,376.5 L1165.5,376.1 L1167.5,375.6 L1169.5,375.1 L1171.5,374.6 L1173.5,374.0 L1175.5,373.3 L1177.5,372.6 L1179.5,371.9 L1181.5,371.1 L1183.5,370.4 L1185.5,369.6 L1187.5,368.8 L1189.5,367.9 L1191.5,367.1 L1193.5,366.3 L1195.5,365.4 L1197.5,364.7 L1199.5,363.9 L1201.5,363.2 L1203.5,362.6 L1205.5,361.9 L1207.5,361.3 L1209.5,360.8 L1211.5,360.2 L1213.5,359.8 L1215.5,359.3 L1217.5,359.0 L1219.5,358.7 L1221.5,358.4 L1223.5,358.2 L1225.5,358.2 L1227.5,358.2 L1229.5,358.3 L1231.5,358.5 L1233.5,358.9 L1235.5,359.3 L1237.5,359.9 L1239.5,360.7 L1241.5,361.5 L1243.5,362.5 L1245.5,363.6 L1247.5,364.8 L1249.5,366.1 L1251.5,367.6 L1253.5,369.3 L1255.5,371.1 L1257.5,373.0 L1259.5,375.0 L1261.5,377.2 L1263.5,379.6 L1265.5,382.0 L1267.5,384.5 L1269.5,387.2 L1271.5,389.9 L1273.5,392.7 L1275.5,395.6 L1277.5,398.5 L1279.5,401.5 L1281.5,404.5 L1283.5,407.4 L1285.5,410.5 L1287.5,413.5 L1289.5,416.5 L1291.5,419.5 L1293.5,422.5 L1295.5,425.6 L1297.5,428.7 L1299.5,431.8 L1301.5,434.9 L1303.5,438.0 L1305.5,441.1 L1307.5,444.1 L1309.5,447.1 L1311.5,449.9 L1313.5,452.7 L1315.5,455.3 L1317.5,457.7 L1319.5,460.0 L1321.5,462.2 L1323.5,464.2 L1325.5,466.0 L1327.5,467.7 L1329.5,469.2 L1331.5,470.6 L1333.5,471.8 L1335.5,472.9 L1337.5,473.8 L1339.5,474.5 L1341.5,475.0 L1343.5,475.4 L1345.5,475.5 L1347.5,475.6 L1349.5,475.4 L1351.5,475.1 L1353.5,474.6 L1355.5,474.0 L1357.5,473.2 L1359.5,472.3 L1361.5,471.2 L1363.5,470.0 L1365.5,468.7 L1367.5,467.3 L1369.5,465.8 L1371.5,464.2 L1373.5,462.5 L1375.5,460.9 L1377.5,459.1 L1379.5,457.4 L1381.5,455.8 L1383.5,454.1 L1385.5,452.6 L1387.5,451.1 L1389.5,449.7 L1391.5,448.4 L1393.5,447.2 L1395.5,446.1 L1397.5,445.1 L1399.5,444.2 L1401.5,443.6 L1403.5,443.1 L1405.5,442.8 L1407.5,442.7 L1409.5,442.8 L1411.5,443.0 L1413.5,443.5 L1415.5,444.2 L1417.5,445.2 L1419.5,446.3 L1421.5,447.7 L1423.5,449.4 L1425.5,451.3 L1427.5,453.4 L1429.5,455.7 L1431.5,458.2 L1433.5,460.9 L1435.5,463.6 L1437.5,466.4 L1439.5,469.3 L1441.5,472.1 L1443.5,474.9 L1445.5,477.6 L1447.5,480.3 L1449.5,483.0 L1451.5,485.6 L1453.5,488.1 L1455.5,490.4 L1457.5,492.6 L1459.5,494.7 L1461.5,496.5 L1463.5,498.2 L1465.5,499.8 L1467.5,501.1 L1469.5,502.3 L1471.5,503.3 L1473.5,504.1 L1475.5,504.7 L1477.5,505.1 L1479.5,505.3 L1481.5,505.4 L1483.5,505.2 L1485.5,504.9 L1487.5,504.4 L1489.5,503.7 L1491.5,502.9 L1493.5,501.9 L1495.5,500.7 L1497.5,499.5 L1499.5,498.2 L1501.5,496.8 L1503.5,495.4 L1505.5,494.0 L1507.5,492.5 L1509.5,490.9 L1511.5,489.4 L1513.5,487.8 L1515.5,486.3 L1517.5,484.7 L1519.5,483.2 L1521.5,481.7 L1523.5,480.3 L1525.5,478.9 L1527.5,477.5 L1529.5,476.2 L1531.5,474.9 L1533.5,473.7 L1535.5,472.6 L1537.5,471.5 L1539.5,470.5 L1541.5,469.6 L1543.5,468.8 L1545.5,468.1 L1547.5,467.5 L1549.5,467.0 L1551.5,466.5 L1553.5,466.2 L1555.5,466.0 L1557.5,465.8 L1559.5,465.8 L1561.5,465.9 L1563.5,466.1 L1565.5,466.4 L1567.5,466.9 L1569.5,467.4 L1571.5,468.1 L1573.5,468.8 L1575.5,469.6 L1577.5,470.5 L1579.5,471.5 L1581.5,472.5 L1583.5,473.6 L1585.5,474.7 L1587.5,475.9 L1589.5,477.0 L1591.5,478.2 L1593.5,479.4 L1595.5,480.6 L1597.5,481.8 L1599.5,483.0 L1601.5,484.2 L1603.5,485.3 L1605.5,486.5 L1607.5,487.6 L1609.5,488.8 L1611.5,490.0 L1613.5,491.1 L1615.5,492.3 L1617.5,493.4 L1619.5,494.6 L1621.5,495.7 L1623.5,496.8 L1625.5,498.0 L1627.5,499.2 L1629.5,500.4 L1631.5,501.6 L1633.5,502.9 L1635.5,504.1 L1637.5,505.4 L1639.5,506.7 L1641.5,508.1 L1643.5,509.4 L1645.5,510.8 L1647.5,512.1 L1649.5,513.5 L1651.5,515.0 L1653.5,516.5 L1655.5,518.0 L1657.5,519.6 L1659.5,521.3 L1661.5,522.9 L1663.5,524.7 L1665.5,526.4 L1667.5,528.2 L1669.5,529.9 L1671.5,531.6 L1673.5,533.3 L1675.5,534.9 L1677.5,536.5 L1679.5,538.1 L1681.5,539.6 L1683.5,541.0 L1685.5,542.4 L1687.5,543.7 L1689.5,545.0 L1691.5,546.2 L1693.5,547.2 L1695.5,548.2 L1697.5,549.2 L1699.5,550.0 L1701.5,550.9 L1703.5,551.6 L1705.5,552.4 L1707.5,553.0 L1709.5,553.6 L1711.5,554.2 L1713.5,554.8 L1715.5,555.3 L1717.5,555.8 L1719.5,556.3 L1721.5,556.8 L1723.5,557.2 L1725.5,557.7 L1727.5,558.1 L1729.5,558.6 L1731.5,559.0 L1733.5,559.5 L1735.5,560.0 L1737.5,560.5 L1739.5,561.2 L1741.5,561.8 L1743.5,562.6 L1745.5,563.4 L1747.5,564.3 L1749.5,565.2 L1751.5,566.3 L1753.5,567.4 L1755.5,568.7 L1757.5,570.0 L1759.5,571.4 L1761.5,572.8 L1763.5,574.4 L1765.5,576.0 L1767.5,577.6 L1769.5,579.3 L1771.5,581.0 L1773.5,582.7 L1775.5,584.5 L1777.5,586.4 L1779.5,588.3 L1781.5,590.2 L1783.5,592.2 L1785.5,594.3 L1787.5,596.5 L1789.5,598.7 L1791.5,600.9 L1793.5,603.2 L1795.5,605.5 L1797.5,607.9 L1799.5,610.4 L1801.5,612.8 L1803.5,615.3 L1805.5,617.7 L1807.5,620.2 L1809.5,622.6 L1811.5,624.9 L1813.5,627.2 L1815.5,629.5 L1817.5,631.7 L1819.5,633.9 L1821.5,636.0 L1823.5,638.1 L1825.5,640.1 L1827.5,641.9 L1829.5,643.8 L1831.5,645.5 L1833.5,647.2 L1835.5,648.8 L1837.5,650.3 L1839.5,651.8 L1841.5,653.2 L1843.5,654.5 L1845.5,655.7 L1847.5,656.8 L1849.5,657.9 L1851.5,658.9 L1853.5,659.8 L1855.5,660.6 L1857.5,661.3 L1859.5,661.9 L1861.5,662.5 L1863.5,662.9 L1865.5,663.1 L1867.5,663.3 L1869.5,663.4 L1871.5,663.4 L1873.5,663.2 L1875.5,663.0 L1877.5,662.6 L1879.5,662.2 L1881.5,661.6 L1883.5,661.0 L1885.5,660.3 L1887.5,659.6 L1889.5,658.8 L1891.5,657.9 L1893.5,657.0 L1895.5,656.1 L1897.5,655.2 L1899.5,654.2 L1901.5,653.2 L1903.5,652.2 L1905.5,651.2 L1907.5,650.2 L1909.5,649.2 L1911.5,648.2 L1913.5,647.2 L1915.5,646.2 L1917.5,645.3 L1919.5,644.4 L1921.5,643.6 L1923.5,642.8 L1925.5,642.0 L1927.5,641.3 L1929.5,640.6 L1931.5,640.0 L1933.5,639.4 L1935.5,638.9 L1937.5,638.5 L1939.5,638.2 L1941.5,637.9 L1943.5,637.6 L1945.5,637.4 L1947.5,637.2 L1949.5,637.0 L1951.5,636.8 L1953.5,636.5 L1955.5,636.3 L1957.5,636.2 L1959.5,636.0 L1961.5,636.0 L1963.5,635.9 L1965.5,635.9 L1967.5,635.9 L1969.5,635.9 L1971.5,635.9 L1973.5,635.9 L1975.5,635.8 L1977.5,635.8 L1979.5,635.8 L1981.5,635.8 L1983.5,635.8 L1985.5,635.8 L1987.5,635.7 L1989.5,635.7 L1991.5,635.6 L1993.5,635.6 L1995.5,635.5 L1997.5,635.4 L1999.5,635.3 L2001.5,635.2 L2003.5,635.1 L2005.5,635.0 L2007.5,634.8 L2009.5,634.7 L2011.5,634.5 L2013.5,634.3 L2015.5,634.1 L2017.5,634.0 L2019.5,633.8 L2021.5,633.6 L2023.5,633.5 L2025.5,633.3 L2027.5,633.2 L2029.5,633.0 L2031.5,632.9 L2033.5,632.7 L2035.5,632.5 L2037.5,632.3" stroke="#ffa500"/>
<path d="M245.5,984.4 L247.5,984.7 L249.5,985.0 L251.5,985.3 L253.5,985.6 L255.5,985.9 L257.5,986.2 L259.5,986.5 L261.5,986.7 L263.5,986.9 L265.5,987.1 L267.5,987.3 L269.5,987.4 L271.5,987.5 L273.5,987.5 L275.5,987.5 L277.5,987.4 L279.5,987.3 L281.5,987.1 L283.5,986.9 L285.5,986.7 L287.5,986.3 L289.5,986.0 L291.5,985.6 L293.5,985.2 L295.5,984.8 L297.5,984.3 L299.5,983.9 L301.5,983.4 L303.5,982.9 L305.5,982.3 L307.5,981.7 L309.5,981.1 L311.5,980.3 L313.5,979.6 L315.5,978.8 L317.5,978.1 L319.5,977.4 L321.5,976.6 L323.5,975.9 L325.5,975.2 L327.5,974.6 L329.5,973.9 L331.5,973.3 L333.5,972.6 L335.5,972.0 L337.5,971.3 L339.5,970.7 L341.5,970.0 L343.5,969.2 L345.5,968.5 L347.5,967.7 L349.5,966.9 L351.5,966.1 L353.5,965.3 L355.5,964.5 L357.5,963.7 L359.5,962.9 L361.5,962.1 L363.5,961.3 L365.5,960.5 L367.5,959.7 L369.5,958.9 L371.5,958.1 L373.5,957.3 L375.5,956.5 L377.5,955.7 L379.5,954.9 L381.5,954.0 L383.5,953.1 L385.5,952.3 L387.5,951.4 L389.5,950.5 L391.5,949.6 L393.5,948.7 L395.5,947.8 L397.5,946.9 L399.5,946.0 L401.5,945.2 L403.5,944.3 L405.5,943.5 L407.5,942.7 L409.5,941.9 L411.5,941.1 L413.5,940.4 L415.5,939.7 L417.5,939.0 L419.5,938.4 L421.5,937.7 L423.5,937.2 L425.5,936.6 L427.5,936.1 L429.5,935.6 L431.5,935.1 L433.5,934.7 L435.5,934.3 L437.5,934.0 L439.5,933.6 L441.5,933.3 L443.5,933.0 L445.5,932.8 L447.5,932.5 L449.5,932.3 L451.5,932.0 L453.5,931.8 L455.5,931.5 L457.5,931.3 L459.5,931.1 L461.5,930.9 L463.5,930.7 L465.5,930.5 L467.5,930.2 L469.5,930.0 L471.5,929.7 L473.5,929.5 L475.5,929.2 L477.5,928.8 L479.5,928.5 L481.5,928.1 L483.5,927.6 L485.5,927.1 L487.5,926.5 L489.5,925.9 L491.5,925.2 L493.5,924.5 L495.5,923.7 L497.5,922.9 L499.5,921.9 L501.5,920.9 L503.5,919.9 L505.5,918.7 L507.5,917.4 L509.5,916.1 L511.5,914.6 L513.5,913.0 L515.5,911.3 L517.5,909.5 L519.5,907.6 L521.5,905.6 L523.5,903.5 L525.5,901.3 L527.5,899.1 L529.5,896.8 L531.5,894.3 L533.5,891.9 L535.5,889.3 L537.5,886.6 L539.5,883.8 L541.5,880.9 L543.5,877.9 L545.5,874.8 L547.5,871.7 L549.5,868.5 L551.5,865.4 L553.5,862.2 L555.5,859.1 L557.5,855.9 L559.5,852.8 L561.5,849.6 L563.5,846.5 L565.5,843.3 L567.5,840.1 L569.5,837.0 L571.5,833.9 L573.5,830.8 L575.5,827.8 L577.5,824.8 L579.5,821.8 L581.5,819.0 L583.5,816.3 L585.5,813.6 L587.5,811.1 L589.5,808.7 L591.5,806.4 L593.5,804.2 L595.5,802.1 L597.5,800.1 L599.5,798.2 L601.5,796.3 L603.5,794.3 L605.5,792.4 L607.5,790.3 L609.5,788.2 L611.5,786.0 L613.5,783.9 L615.5,781.6 L617.5,779.4 L619.5,777.1 L621.5,774.9 L623.5,772.7 L625.5,770.5 L627.5,768.3 L629.5,766.1 L631.5,764.0 L633.5,761.8 L635.5,759.7 L637.5,757.6 L639.5,755.7 L641.5,753.8 L643.5,752.0 L645.5,750.3 L647.5,748.6 L649.5,746.9 L651.5,745.3 L653.5,743.7 L655.5,742.1 L657.5,740.5 L659.5,739.0 L661.5,737.5 L663.5,736.0 L665.5,734.5 L667.5,733.1 L669.5,731.7 L671.5,730.2 L673.5,728.7 L675.5,727.3 L677.5,725.7 L679.5,724.2 L681.5,722.6 L683.5,721.0 L685.5,719.4 L687.5,717.8 L689.5,716.2 L691.5,714.5 L693.5,712.7 L695.5,710.9 L697.5,709.0 L699.5,707.1 L701.5,705.1 L703.5,703.0 L705.5,700.8 L707.5,698.6 L709.5,696.3 L711.5,694.0 L713.5,691.7 L715.5,689.4 L717.5,687.1 L719.5,684.7 L721.5,682.3 L723.5,679.8 L725.5,677.3 L727.5,674.7 L729.5,672.2 L731.5,669.6 L733.5,667.1 L735.5,664.6 L737.5,662.2 L739.5,659.8 L741.5,657.6 L743.5,655.4 L745.5,653.3 L747.5,651.3 L749.5,649.4 L751.5,647.5 L753.5,645.8 L755.5,644.2 L757.5,642.7 L759.5,641.3 L761.5,640.0 L763.5,638.8 L765.5,637.8 L767.5,636.7 L769.5,635.8 L771.5,635.0 L773.5,634.2 L775.5,633.6 L777.5,633.0 L779.5,632.4 L781.5,632.0 L783.5,631.5 L785.5,631.0 L787.5,630.6 L789.5,630.1 L791.5,629.6 L793.5,629.1 L795.5,628.7 L797.5,628.1 L799.5,627.6 L801.5,627.0 L803.5,626.3 L805.5,625.5 L807.5,624.7 L809.5,623.8 L811.5,622.8 L813.5,621.7 L815.5,620.5 L817.5,619.2 L819.5,617.8 L821.5,616.3 L823.5,614.7 L825.5,613.0 L827.5,611.3 L829.5,609.5 L831.5,607.8 L833.5,606.0 L835.5,604.2 L837.5,602.4 L839.5,600.6 L841.5,598.8 L843.5,597.1 L845.5,595.4 L847.5,593.7 L849.5,592.1 L851.5,590.6 L853.5,589.1 L855.5,587.8 L857.5,586.5 L859.5,585.3 L861.5,584.2 L863.5,583.1 L865.5,582.2 L867.5,581.3 L869.5,580.4 L871.5,579.7 L873.5,578.9 L875.5,578.3 L877.5,577.7 L879.5,577.1 L881.5,576.5 L883.5,576.0 L885.5,575.5 L887.5,575.0 L889.5,574.6 L891.5,574.1 L893.5,573.6 L895.5,573.2 L897.5,572.8 L899.5,572.3 L901.5,572.0 L903.5,571.6 L905.5,571.2 L907.5,570.7 L909.5,570.3 L911.5,569.8 L913.5,569.3 L915.5,568.8 L917.5,568.3 L919.5,567.8 L921.5,567.3 L923.5,566.9 L925.5,566.5 L927.5,566.1 L929.5,565.7 L931.5,565.4 L933.5,565.1 L935.5,564.8 L937.5,564.5 L939.5,564.4 L941.5,564.2 L943.5,564.1 L945.5,564.0 L947.5,563.9 L949.5,563.9 L951.5,563.8 L953.5,563.8 L955.5,563.8 L957.5,563.8 L959.5,563.8 L961.5,563.9 L963.5,563.9 L965.5,563.9 L967.5,563.9 L969.5,563.9 L971.5,563.8 L973.5,563.8 L975.5,563.7 L977.5,563.5 L979.5,563.3 L981.5,563.1 L983.5,562.8 L985.5,562.4 L987.5,561.9 L989.5,561.3 L991.5,560.6 L993.5,559.9 L995.5,559.1 L997.5,558.3 L999.5,557.4 L1001.5,556.5 L1003.5,555.5 L1005.5,554.5 L1007.5,553.5 L1009.5,552.4 L1011.5,551.3 L1013.5,550.2 L1015.5,549.1 L1017.5,547.9 L1019.5,546.8 L1021.5,545.6 L1023.5,544.5 L1025.5,543.4 L1027.5,542.2 L1029.5,541.1 L1031.5,540.0 L1033.5,539.0 L1035.5,538.0 L1037.5,537.0 L1039.5,536.1 L1041.5,535.2 L1043.5,534.3 L1045.5,533.6 L1047.5,532.8 L1049.5,532.2 L1051.5,531.5 L1053.5,531.0 L1055.5,530.4 L1057.5,529.9 L1059.5,529.4 L1061.5,529.0 L1063.5,528.6 L1065.5,528.3 L1067.5,528.0 L1069.5,527.8 L1071.5,527.6 L1073.5,527.4 L1075.5,527.3 L1077.5,527.2 L1079.5,527.2 L1081.5,527.3 L1083.5,527.3 L1085.5,527.5 L1087.5,527.7 L1089.5,527.9 L1091.5,528.3 L1093.5,528.7 L1095.5,529.1 L1097.5,529.7 L1099.5,530.2 L1101.5,530.8 L1103.5,531.5 L1105.5,532.2 L1107.5,532.9 L1109.5,533.7 L1111.5,534.5 L1113.5,535.2 L1115.5,536.0 L1117.5,536.7 L1119.5,537.3 L1121.5,537.9 L1123.5,538.5 L1125.5,539.1 L1127.5,539.7 L1129.5,540.3 L1131.5,540.8 L1133.5,541.3 L1135.5,541.7 L1137.5,542.1 L1139.5,542.4 L1141.5,542.7 L1143.5,542.9 L1145.5,543.1 L1147.5,543.3 L1149.5,543.4 L1151.5,543.4 L1153.5,543.4 L1155.5,543.3 L1157.5,543.2 L1159.5,543.0 L1161.5,542.7 L1163.5,542.4 L1165.5,542.0 L1167.5,541.5 L1169.5,541.0 L1171.5,540.5 L1173.5,539.9 L1175.5,539.3 L1177.5,538.7 L1179.5,538.1 L1181.5,537.4 L1183.5,536.8 L1185.5,536.1 L1187.5,535.4 L1189.5,534.7 L1191.5,534.0 L1193.5,533.4 L1195.5,532.7 L1197.5,532.1 L1199.5,531.5 L1201.5,531.0 L1203.5,530.5 L1205.5,530.0 L1207.5,529.6 L1209.5,529.2 L1211.5,528.8 L1213.5,528.5 L1215.5,528.2 L1217.5,527.9 L1219.5,527.7 L1221.5,527.6 L1223.5,527.5 L1225.5,527.5 L1227.5,527.6 L1229.5,527.7 L1231.5,527.9 L1233.5,528.3 L1235.5,528.8 L1237.5,529.3 L1239.5,530.0 L1241.5,530.7 L1243.5,531.6 L1245.5,532.5 L1247.5,533.6 L1249.5,534.7 L1251.5,536.0 L1253.5,537.4 L1255.5,538.9 L1257.5,540.5 L1259.5,542.2 L1261.5,544.0 L1263.5,545.9 L1265.5,547.9 L1267.5,549.9 L1269.5,552.1 L1271.5,554.3 L1273.5,556.6 L1275.5,558.9 L1277.5,561.2 L1279.5,563.6 L1281.5,565.9 L1283.5,568.3 L1285.5,570.7 L1287.5,573.1 L1289.5,575.4 L1291.5,577.8 L1293.5,580.2 L1295.5,582.7 L1297.5,585.1 L1299.5,587.6 L1301.5,590.1 L1303.5,592.5 L1305.5,595.0 L1307.5,597.4 L1309.5,599.8 L1311.5,602.1 L1313.5,604.2 L1315.5,606.3 L1317.5,608.2 L1319.5,610.0 L1321.5,611.7 L1323.5,613.2 L1325.5,614.6 L1327.5,615.9 L1329.5,617.0 L1331.5,618.1 L1333.5,619.0 L1335.5,619.8 L1337.5,620.4 L1339.5,620.9 L1341.5,621.3 L1343.5,621.4 L1345.5,621.5 L1347.5,621.4 L1349.5,621.2 L1351.5,620.8 L1353.5,620.4 L1355.5,619.8 L1357.5,619.1 L1359.5,618.3 L1361.5,617.4 L1363.5,616.4 L1365.5,615.2 L1367.5,614.0 L1369.5,612.7 L1371.5,611.4 L1373.5,610.0 L1375.5,608.6 L1377.5,607.2 L1379.5,605.8 L1381.5,604.4 L1383.5,603.0 L1385.5,601.8 L1387.5,600.5 L1389.5,599.4 L1391.5,598.4 L1393.5,597.4 L1395.5,596.5 L1397.5,595.7 L1399.5,595.0 L1401.5,594.5 L1403.5,594.1 L1405.5,593.9 L1407.5,593.8 L1409.5,593.9 L1411.5,594.2 L1413.5,594.6 L1415.5,595.2 L1417.5,595.9 L1419.5,596.9 L1421.5,598.1 L1423.5,599.5 L1425.5,601.0 L1427.5,602.8 L1429.5,604.7 L1431.5,606.8 L1433.5,609.0 L1435.5,611.2 L1437.5,613.5 L1439.5,615.8 L1441.5,618.1 L1443.5,620.4 L1445.5,622.6 L1447.5,624.8 L1449.5,626.9 L1451.5,629.0 L1453.5,631.0 L1455.5,632.9 L1457.5,634.7 L1459.5,636.4 L1461.5,637.9 L1463.5,639.3 L1465.5,640.5 L1467.5,641.6 L1469.5,642.6 L1471.5,643.4 L1473.5,644.0 L1475.5,644.5 L1477.5,644.9 L1479.5,645.2 L1481.5,645.2 L1483.5,645.2 L1485.5,644.9 L1487.5,644.6 L1489.5,644.1 L1491.5,643.4 L1493.5,642.7 L1495.5,641.9 L1497.5,641.0 L1499.5,640.0 L1501.5,639.0 L1503.5,637.9 L1505.5,636.8 L1507.5,635.7 L1509.5,634.6 L1511.5,633.5 L1513.5,632.3 L1515.5,631.2 L1517.5,630.0 L1519.5,628.9 L1521.5,627.9 L1523.5,626.8 L1525.5,625.8 L1527.5,624.9 L1529.5,623.9 L1531.5,623.0 L1533.5,622.1 L1535.5,621.3 L1537.5,620.5 L1539.5,619.8 L1541.5,619.1 L1543.5,618.6 L1545.5,618.0 L1547.5,617.6 L1549.5,617.2 L1551.5,616.9 L1553.5,616.7 L1555.5,616.5 L1557.5,616.5 L1559.5,616.5 L1561.5,616.6 L1563.5,616.8 L1565.5,617.0 L1567.5,617.4 L1569.5,617.9 L1571.5,618.4 L1573.5,619.0 L1575.5,619.7 L1577.5,620.5 L1579.5,621.3 L1581.5,622.2 L1583.5,623.1 L1585.5,624.0 L1587.5,625.0 L1589.5,625.9 L1591.5,626.9 L1593.5,627.9 L1595.5,628.9 L1597.5,629.9 L1599.5,630.8 L1601.5,631.8 L1603.5,632.8 L1605.5,633.8 L1607.5,634.7 L1609.5,635.7 L1611.5,636.7 L1613.5,637.7 L1615.5,638.6 L1617.5,639.6 L1619.5,640.6 L1621.5,641.5 L1623.5,642.5 L1625.5,643.4 L1627.5,644.4 L1629.5,645.4 L1631.5,646.4 L1633.5,647.5 L1635.5,648.6 L1637.5,649.7 L1639.5,650.7 L1641.5,651.9 L1643.5,653.0 L1645.5,654.1 L1647.5,655.2 L1649.5,656.4 L1651.5,657.6 L1653.5,658.9 L1655.5,660.2 L1657.5,661.5 L1659.5,662.9 L1661.5,664.4 L1663.5,665.9 L1665.5,667.4 L1667.5,668.9 L1669.5,670.4 L1671.5,671.9 L1673.5,673.4 L1675.5,674.8 L1677.5,676.2 L1679.5,677.6 L1681.5,678.9 L1683.5,680.1 L1685.5,681.2 L1687.5,682.4 L1689.5,683.4 L1691.5,684.4 L1693.5,685.4 L1695.5,686.2 L1697.5,687.0 L1699.5,687.8 L1701.5,688.5 L1703.5,689.2 L1705.5,689.8 L1707.5,690.4 L1709.5,691.0 L1711.5,691.5 L1713.5,692.0 L1715.5,692.5 L1717.5,692.9 L1719.5,693.4 L1721.5,693.8 L1723.5,694.2 L1725.5,694.6 L1727.5,695.0 L1729.5,695.4 L1731.5,695.8 L1733.5,696.1 L1735.5,696.5 L1737.5,697.0 L1739.5,697.5 L1741.5,698.0 L1743.5,698.6 L1745.5,699.2 L1747.5,699.9 L1749.5,700.7 L1751.5,701.5 L1753.5,702.4 L1755.5,703.4 L1757.5,704.5 L1759.5,705.6 L1761.5,706.7 L1763.5,707.9 L1765.5,709.2 L1767.5,710.4 L1769.5,711.8 L1771.5,713.1 L1773.5,714.5 L1775.5,715.9 L1777.5,717.3 L1779.5,718.8 L1781.5,720.3 L1783.5,721.9 L1785.5,723.5 L1787.5,725.2 L1789.5,726.9 L1791.5,728.7 L1793.5,730.5 L1795.5,732.3 L1797.5,734.2 L1799.5,736.1 L1801.5,738.0 L1803.5,740.0 L1805.5,741.9 L1807.5,743.8 L1809.5,745.6 L1811.5,747.5 L1813.5,749.3 L1815.5,751.0 L1817.5,752.8 L1819.5,754.5 L1821.5,756.1 L1823.5,757.7 L1825.5,759.2 L1827.5,760.7 L1829.5,762.1 L1831.5,763.4 L1833.5,764.7 L1835.5,765.9 L1837.5,767.1 L1839.5,768.3 L1841.5,769.3 L1843.5,770.3 L1845.5,771.3 L1847.5,772.2 L1849.5,773.0 L1851.5,773.7 L1853.5,774.4 L1855.5,775.0 L1857.5,775.5 L1859.5,776.0 L1861.5,776.3 L1863.5,776.6 L1865.5,776.8 L1867.5,776.8 L1869.5,776.8 L1871.5,776.7 L1873.5,776.5 L1875.5,776.2 L1877.5,775.9 L1879.5,775.4 L1881.5,774.8 L1883.5,774.2 L1885.5,773.6 L1887.5,772.8 L1889.5,772.0 L1891.5,771.2 L1893.5,770.4 L1895.5,769.5 L1897.5,768.6 L1899.5,767.7 L1901.5,766.7 L1903.5,765.8 L1905.5,764.8 L1907.5,763.8 L1909.5,762.8 L1911.5,761.8 L1913.5,760.8 L1915.5,759.9 L1917.5,759.0 L1919.5,758.1 L1921.5,757.2 L1923.5,756.4 L1925.5,755.6 L1927.5,754.8 L1929.5,754.1 L1931.5,753.5 L1933.5,752.8 L1935.5,752.3 L1937.5,751.8 L1939.5,751.4 L1941.5,751.0 L1943.5,750.7 L1945.5,750.4 L1947.5,750.1 L1949.5,749.8 L1951.5,749.5 L1953.5,749.2 L1955.5,748.9 L1957.5,748.6 L1959.5,748.4 L1961.5,748.2 L1963.5,748.1 L1965.5,748.0 L1967.5,747.9 L1969.5,747.8 L1971.5,747.7 L1973.5,747.5 L1975.5,747.4 L1977.5,747.3 L1979.5,747.2 L1981.5,747.1 L1983.5,747.0 L1985.5,746.9 L1987.5,746.8 L1989.5,746.7 L1991.5,746.6 L1993.5,746.5 L1995.5,746.3 L1997.5,746.2 L1999.5,746.1 L2001.5,745.9 L2003.5,745.7 L2005.5,745.6 L2007.5,745.4 L2009.5,745.2 L2011.5,745.0 L2013.5,744.8 L2015.5,744.5 L2017.5,744.3 L2019.5,744.1 L2021.5,743.9 L2023.5,743.7 L2025.5,743.6 L2027.5,743.4 L2029.5,743.2 L2031.5,743.0 L2033.5,742.8 L2035.5,742.6 L2037.5,742.4" stroke="#ffa500"/>
<path d="M245.5,1031.7 L247.5,1032.2 L249.5,1032.6 L251.5,1033.0 L253.5,1033.4 L255.5,1033.8 L257.5,1034.2 L259.5,1034.6 L261.5,1034.9 L263.5,1035.3 L265.5,1035.6 L267.5,1035.9 L269.5,1036.1 L271.5,1036.3 L273.5,1036.5 L275.5,1036.6 L277.5,1036.7 L279.5,1036.7 L281.5,1036.7 L283.5,1036.6 L285.5,1036.5 L287.5,1036.3 L289.5,1036.2 L291.5,1035.9 L293.5,1035.7 L295.5,1035.4 L297.5,1035.1 L299.5,1034.9 L301.5,1034.5 L303.5,1034.2 L305.5,1033.8 L307.5,1033.4 L309.5,1032.9 L311.5,1032.4 L313.5,1031.8 L315.5,1031.2 L317.5,1030.6 L319.5,1030.1 L321.5,1029.5 L323.5,1029.0 L325.5,1028.5 L327.5,1028.0 L329.5,1027.5 L331.5,1027.0 L333.5,1026.5 L335.5,1026.0 L337.5,1025.5 L339.5,1025.0 L341.5,1024.5 L343.5,1023.9 L345.5,1023.3 L347.5,1022.7 L349.5,1022.1 L351.5,1021.5 L353.5,1020.9 L355.5,1020.2 L357.5,1019.6 L359.5,1019.0 L361.5,1018.4 L363.5,1017.8 L365.5,1017.2 L367.5,1016.6 L369.5,1016.0 L371.5,1015.4 L373.5,1014.8 L375.5,1014.2 L377.5,1013.6 L379.5,1013.0 L381.5,1012.4 L383.5,1011.8 L385.5,1011.1 L387.5,1010.5 L389.5,1009.8 L391.5,1009.1 L393.5,1008.4 L395.5,1007.8 L397.5,1007.1 L399.5,1006.5 L401.5,1005.8 L403.5,1005.2 L405.5,1004.6 L407.5,1004.0 L409.5,1003.4 L411.5,1002.8 L413.5,1002.2 L415.5,1001.7 L417.5,1001.2 L419.5,1000.7 L421.5,1000.3 L423.5,999.8 L425.5,999.4 L427.5,999.0 L429.5,998.6 L431.5,998.3 L433.5,998.0 L435.5,997.7 L437.5,997.4 L439.5,997.2 L441.5,997.0 L443.5,996.7 L445.5,996.5 L447.5,996.3 L449.5,996.1 L451.5,996.0 L453.5,995.8 L455.5,995.6 L457.5,995.4 L459.5,995.3 L461.5,995.1 L463.5,994.9 L465.5,994.8 L467.5,994.6 L469.5,994.5 L471.5,994.3 L473.5,994.1 L475.5,993.9 L477.5,993.6 L479.5,993.4 L481.5,993.1 L483.5,992.7 L485.5,992.3 L487.5,991.9 L489.5,991.5 L491.5,990.9 L493.5,990.4 L495.5,989.8 L497.5,989.1 L499.5,988.4 L501.5,987.6 L503.5,986.8 L505.5,985.9 L507.5,984.9 L509.5,983.9 L511.5,982.7 L513.5,981.4 L515.5,980.1 L517.5,978.6 L519.5,977.1 L521.5,975.5 L523.5,973.8 L525.5,972.1 L527.5,970.3 L529.5,968.4 L531.5,966.4 L533.5,964.4 L535.5,962.3 L537.5,960.0 L539.5,957.7 L541.5,955.3 L543.5,952.7 L545.5,950.1 L547.5,947.4 L549.5,944.7 L551.5,942.0 L553.5,939.3 L555.5,936.6 L557.5,933.9 L559.5,931.2 L561.5,928.5 L563.5,925.8 L565.5,923.1 L567.5,920.3 L569.5,917.6 L571.5,914.9 L573.5,912.2 L575.5,909.6 L577.5,907.0 L579.5,904.5 L581.5,902.0 L583.5,899.7 L585.5,897.4 L587.5,895.2 L589.5,893.1 L591.5,891.2 L593.5,889.3 L595.5,887.6 L597.5,885.9 L599.5,884.3 L601.5,882.8 L603.5,881.2 L605.5,879.6 L607.5,877.9 L609.5,876.1 L611.5,874.4 L613.5,872.6 L615.5,870.8 L617.5,868.9 L619.5,867.1 L621.5,865.3 L623.5,863.5 L625.5,861.7 L627.5,860.0 L629.5,858.2 L631.5,856.5 L633.5,854.7 L635.5,853.0 L637.5,851.4 L639.5,849.8 L641.5,848.4 L643.5,847.0 L645.5,845.6 L647.5,844.3 L649.5,843.0 L651.5,841.7 L653.5,840.5 L655.5,839.2 L657.5,838.0 L659.5,836.8 L661.5,835.7 L663.5,834.5 L665.5,833.4 L667.5,832.3 L669.5,831.2 L671.5,830.0 L673.5,828.9 L675.5,827.7 L677.5,826.5 L679.5,825.2 L681.5,823.9 L683.5,822.6 L685.5,821.3 L687.5,820.0 L689.5,818.6 L691.5,817.2 L693.5,815.8 L695.5,814.3 L697.5,812.7 L699.5,811.1 L701.5,809.4 L703.5,807.6 L705.5,805.8 L707.5,803.9 L709.5,802.0 L711.5,800.0 L713.5,798.1 L715.5,796.1 L717.5,794.2 L719.5,792.2 L721.5,790.1 L723.5,788.0 L725.5,785.9 L727.5,783.8 L729.5,781.7 L731.5,779.5 L733.5,777.4 L735.5,775.3 L737.5,773.3 L739.5,771.3 L741.5,769.5 L743.5,767.7 L745.5,766.0 L747.5,764.3 L749.5,762.7 L751.5,761.3 L753.5,759.9 L755.5,758.6 L757.5,757.4 L759.5,756.3 L761.5,755.4 L763.5,754.5 L765.5,753.6 L767.5,752.9 L769.5,752.2 L771.5,751.6 L773.5,751.0 L775.5,750.6 L777.5,750.2 L779.5,749.8 L781.5,749.5 L783.5,749.2 L785.5,748.9 L787.5,748.6 L789.5,748.3 L791.5,748.0 L793.5,747.7 L795.5,747.3 L797.5,747.0 L799.5,746.5 L801.5,746.1 L803.5,745.6 L805.5,745.0 L807.5,744.3 L809.5,743.6 L811.5,742.8 L813.5,741.9 L815.5,740.9 L817.5,739.8 L819.5,738.6 L821.5,737.4 L823.5,736.0 L825.5,734.6 L827.5,733.1 L829.5,731.6 L831.5,730.1 L833.5,728.6 L835.5,727.1 L837.5,725.6 L839.5,724.1 L841.5,722.6 L843.5,721.1 L845.5,719.7 L847.5,718.3 L849.5,717.0 L851.5,715.7 L853.5,714.5 L855.5,713.4 L857.5,712.3 L859.5,711.3 L861.5,710.4 L863.5,709.6 L865.5,708.7 L867.5,708.0 L869.5,707.3 L871.5,706.6 L873.5,706.0 L875.5,705.5 L877.5,704.9 L879.5,704.4 L881.5,703.9 L883.5,703.5 L885.5,703.0 L887.5,702.6 L889.5,702.2 L891.5,701.8 L893.5,701.4 L895.5,701.0 L897.5,700.6 L899.5,700.3 L901.5,699.9 L903.5,699.6 L905.5,699.3 L907.5,698.9 L909.5,698.5 L911.5,698.1 L913.5,697.7 L915.5,697.2 L917.5,696.8 L919.5,696.4 L921.5,696.0 L923.5,695.7 L925.5,695.3 L927.5,695.0 L929.5,694.7 L931.5,694.4 L933.5,694.2 L935.5,694.0 L937.5,693.8 L939.5,693.7 L941.5,693.6 L943.5,693.5 L945.5,693.5 L947.5,693.4 L949.5,693.4 L951.5,693.4 L953.5,693.4 L955.5,693.5 L957.5,693.5 L959.5,693.6 L961.5,693.6 L963.5,693.7 L965.5,693.7 L967.5,693.7 L969.5,693.7 L971.5,693.7 L973.5,693.6 L975.5,693.6 L977.5,693.5 L979.5,693.4 L981.5,693.2 L983.5,692.9 L985.5,692.6 L987.5,692.2 L989.5,691.7 L991.5,691.2 L993.5,690.6 L995.5,690.0 L997.5,689.3 L999.5,688.6 L1001.5,687.9 L1003.5,687.1 L1005.5,686.3 L1007.5,685.5 L1009.5,684.7 L1011.5,683.9 L1013.5,683.0 L1015.5,682.2 L1017.5,681.3 L1019.5,680.5 L1021.5,679.6 L1023.5,678.8 L1025.5,678.0 L1027.5,677.2 L1029.5,676.3 L1031.5,675.5 L1033.5,674.8 L1035.5,674.0 L1037.5,673.3 L1039.5,672.6 L1041.5,672.0 L1043.5,671.4 L1045.5,670.9 L1047.5,670.3 L1049.5,669.9 L1051.5,669.4 L1053.5,669.0 L1055.5,668.5 L1057.5,668.2 L1059.5,667.8 L1061.5,667.4 L1063.5,667.1 L1065.5,666.8 L1067.5,666.6 L1069.5,666.4 L1071.5,666.2 L1073.5,666.0 L1075.5,665.9 L1077.5,665.8 L1079.5,665.8 L1081.5,665.8 L1083.5,665.8 L1085.5,665.8 L1087.5,665.9 L1089.5,666.1 L1091.5,666.4 L1093.5,666.7 L1095.5,667.0 L1097.5,667.4 L1099.5,667.8 L1101.5,668.3 L1103.5,668.8 L1105.5,669.3 L1107.5,669.9 L1109.5,670.5 L1111.5,671.2 L1113.5,671.8 L1115.5,672.3 L1117.5,672.9 L1119.5,673.4 L1121.5,673.8 L1123.5,674.3 L1125.5,674.7 L1127.5,675.2 L1129.5,675.6 L1131.5,676.0 L1133.5,676.3 L1135.5,676.6 L1137.5,676.9 L1139.5,677.1 L1141.5,677.3 L1143.5,677.5 L1145.5,677.6 L1147.5,677.7 L1149.5,677.7 L1151.5,677.7 L1153.5,677.6 L1155.5,677.5 L1157.5,677.4 L1159.5,677.2 L1161.5,676.9 L1163.5,676.5 L1165.5,676.2 L1167.5,675.7 L1169.5,675.3 L1171.5,674.8 L1173.5,674.3 L1175.5,673.7 L1177.5,673.2 L1179.5,672.6 L1181.5,672.0 L1183.5,671.5 L1185.5,670.9 L1187.5,670.3 L1189.5,669.7 L1191.5,669.2 L1193.5,668.6 L1195.5,668.1 L1197.5,667.6 L1199.5,667.1 L1201.5,666.7 L1203.5,666.3 L1205.5,665.9 L1207.5,665.6 L1209.5,665.3 L1211.5,665.0 L1213.5,664.7 L1215.5,664.5 L1217.5,664.3 L1219.5,664.2 L1221.5,664.1 L1223.5,664.0 L1225.5,664.0 L1227.5,664.1 L1229.5,664.3 L1231.5,664.5 L1233.5,664.8 L1235.5,665.2 L1237.5,665.7 L1239.5,666.3 L1241.5,666.9 L1243.5,667.7 L1245.5,668.5 L1247.5,669.4 L1249.5,670.3 L1251.5,671.4 L1253.5,672.6 L1255.5,673.8 L1257.5,675.2 L1259.5,676.6 L1261.5,678.1 L1263.5,679.7 L1265.5,681.3 L1267.5,683.0 L1269.5,684.8 L1271.5,686.6 L1273.5,688.5 L1275.5,690.4 L1277.5,692.3 L1279.5,694.3 L1281.5,696.2 L1283.5,698.2 L1285.5,700.1 L1287.5,702.1 L1289.5,704.0 L1291.5,706.0 L1293.5,707.9 L1295.5,709.9 L1297.5,711.9 L1299.5,714.0 L1301.5,716.0 L1303.5,718.0 L1305.5,720.1 L1307.5,722.1 L1309.5,724.0 L1311.5,725.9 L1313.5,727.6 L1315.5,729.3 L1317.5,730.8 L1319.5,732.2 L1321.5,733.5 L1323.5,734.7 L1325.5,735.8 L1327.5,736.8 L1329.5,737.6 L1331.5,738.4 L1333.5,739.0 L1335.5,739.6 L1337.5,740.1 L1339.5,740.4 L1341.5,740.6 L1343.5,740.7 L1345.5,740.6 L1347.5,740.5 L1349.5,740.3 L1351.5,739.9 L1353.5,739.5 L1355.5,739.0 L1357.5,738.4 L1359.5,737.7 L1361.5,736.9 L1363.5,736.0 L1365.5,735.0 L1367.5,734.0 L1369.5,732.9 L1371.5,731.8 L1373.5,730.6 L1375.5,729.4 L1377.5,728.2 L1379.5,727.0 L1381.5,725.9 L1383.5,724.7 L1385.5,723.6 L1387.5,722.6 L1389.5,721.6 L1391.5,720.7 L1393.5,719.9 L1395.5,719.1 L1397.5,718.4 L1399.5,717.8 L1401.5,717.3 L1403.5,717.0 L1405.5,716.7 L1407.5,716.6 L1409.5,716.7 L1411.5,716.8 L1413.5,717.1 L1415.5,717.6 L1417.5,718.2 L1419.5,719.0 L1421.5,719.9 L1423.5,721.1 L1425.5,722.4 L1427.5,723.8 L1429.5,725.4 L1431.5,727.2 L1433.5,729.0 L1435.5,730.9 L1437.5,732.9 L1439.5,734.8 L1441.5,736.7 L1443.5,738.6 L1445.5,740.5 L1447.5,742.3 L1449.5,744.1 L1451.5,745.9 L1453.5,747.6 L1455.5,749.2 L1457.5,750.7 L1459.5,752.1 L1461.5,753.4 L1463.5,754.6 L1465.5,755.7 L1467.5,756.6 L1469.5,757.4 L1471.5,758.1 L1473.5,758.7 L1475.5,759.2 L1477.5,759.5 L1479.5,759.7 L1481.5,759.8 L1483.5,759.8 L1485.5,759.6 L1487.5,759.4 L1489.5,759.0 L1491.5,758.5 L1493.5,757.9 L1495.5,757.3 L1497.5,756.5 L1499.5,755.8 L1501.5,754.9 L1503.5,754.1 L1505.5,753.3 L1507.5,752.4 L1509.5,751.5 L1511.5,750.6 L1513.5,749.7 L1515.5,748.8 L1517.5,747.9 L1519.5,747.1 L1521.5,746.2 L1523.5,745.4 L1525.5,744.7 L1527.5,743.9 L1529.5,743.2 L1531.5,742.5 L1533.5,741.8 L1535.5,741.2 L1537.5,740.5 L1539.5,740.0 L1541.5,739.5 L1543.5,739.0 L1545.5,738.6 L1547.5,738.3 L1549.5,738.0 L1551.5,737.8 L1553.5,737.6 L1555.5,737.5 L1557.5,737.4 L1559.5,737.5 L1561.5,737.6 L1563.5,737.7 L1565.5,738.0 L1567.5,738.3 L1569.5,738.7 L1571.5,739.2 L1573.5,739.7 L1575.5,740.3 L1577.5,740.9 L1579.5,741.6 L1581.5,742.4 L1583.5,743.1 L1585.5,743.9 L1587.5,744.7 L1589.5,745.5 L1591.5,746.3 L1593.5,747.2 L1595.5,748.0 L1597.5,748.9 L1599.5,749.7 L1601.5,750.5 L1603.5,751.4 L1605.5,752.2 L1607.5,753.1 L1609.5,753.9 L1611.5,754.8 L1613.5,755.6 L1615.5,756.5 L1617.5,757.4 L1619.5,758.2 L1621.5,759.0 L1623.5,759.9 L1625.5,760.7 L1627.5,761.6 L1629.5,762.5 L1631.5,763.4 L1633.5,764.3 L1635.5,765.2 L1637.5,766.1 L1639.5,767.1 L1641.5,768.0 L1643.5,769.0 L1645.5,770.0 L1647.5,770.9 L1649.5,771.9 L1651.5,772.9 L1653.5,774.0 L1655.5,775.1 L1657.5,776.3 L1659.5,777.5 L1661.5,778.8 L1663.5,780.0 L1665.5,781.3 L1667.5,782.6 L1669.5,784.0 L1671.5,785.2 L1673.5,786.5 L1675.5,787.7 L1677.5,789.0 L1679.5,790.2 L1681.5,791.3 L1683.5,792.3 L1685.5,793.2 L1687.5,794.2 L1689.5,795.1 L1691.5,795.9 L1693.5,796.7 L1695.5,797.4 L1697.5,798.1 L1699.5,798.8 L1701.5,799.4 L1703.5,800.0 L1705.5,800.5 L1707.5,801.0 L1709.5,801.5 L1711.5,802.0 L1713.5,802.4 L1715.5,802.9 L1717.5,803.3 L1719.5,803.7 L1721.5,804.1 L1723.5,804.5 L1725.5,804.9 L1727.5,805.3 L1729.5,805.6 L1731.5,806.0 L1733.5,806.4 L1735.5,806.7 L1737.5,807.2 L1739.5,807.6 L1741.5,808.1 L1743.5,808.7 L1745.5,809.3 L1747.5,809.9 L1749.5,810.6 L1751.5,811.3 L1753.5,812.2 L1755.5,813.0 L1757.5,813.9 L1759.5,814.9 L1761.5,815.9 L1763.5,816.9 L1765.5,818.0 L1767.5,819.1 L1769.5,820.2 L1771.5,821.3 L1773.5,822.4 L1775.5,823.6 L1777.5,824.8 L1779.5,826.0 L1781.5,827.2 L1783.5,828.4 L1785.5,829.7 L1787.5,831.1 L1789.5,832.4 L1791.5,833.8 L1793.5,835.2 L1795.5,836.6 L1797.5,838.1 L1799.5,839.6 L1801.5,841.1 L1803.5,842.6 L1805.5,844.0 L1807.5,845.5 L1809.5,846.9 L1811.5,848.3 L1813.5,849.7 L1815.5,851.0 L1817.5,852.3 L1819.5,853.6 L1821.5,854.9 L1823.5,856.1 L1825.5,857.2 L1827.5,858.3 L1829.5,859.4 L1831.5,860.4 L1833.5,861.3 L1835.5,862.2 L1837.5,863.1 L1839.5,864.0 L1841.5,864.8 L1843.5,865.5 L1845.5,866.2 L1847.5,866.8 L1849.5,867.4 L1851.5,867.9 L1853.5,868.4 L1855.5,868.8 L1857.5,869.2 L1859.5,869.5 L1861.5,869.7 L1863.5,869.8 L1865.5,869.9 L1867.5,869.9 L1869.5,869.8 L1871.5,869.6 L1873.5,869.3 L1875.5,869.0 L1877.5,868.6 L1879.5,868.1 L1881.5,867.5 L1883.5,866.9 L1885.5,866.3 L1887.5,865.6 L1889.5,864.8 L1891.5,864.0 L1893.5,863.2 L1895.5,862.4 L1897.5,861.5 L1899.5,860.7 L1901.5,859.8 L1903.5,858.9 L1905.5,857.9 L1907.5,857.0 L1909.5,856.1 L1911.5,855.1 L1913.5,854.2 L1915.5,853.3 L1917.5,852.4 L1919.5,851.5 L1921.5,850.7 L1923.5,849.9 L1925.5,849.1 L1927.5,848.3 L1929.5,847.6 L1931.5,846.9 L1933.5,846.3 L1935.5,845.7 L1937.5,845.2 L1939.5,844.7 L1941.5,844.3 L1943.5,843.9 L1945.5,843.5 L1947.5,843.1 L1949.5,842.8 L1951.5,842.4 L1953.5,842.0 L1955.5,841.6 L1957.5,841.3 L1959.5,841.0 L1961.5,840.7 L1963.5,840.5 L1965.5,840.3 L1967.5,840.1 L1969.5,839.9 L1971.5,839.7 L1973.5,839.5 L1975.5,839.3 L1977.5,839.1 L1979.5,838.9 L1981.5,838.7 L1983.5,838.6 L1985.5,838.4 L1987.5,838.2 L1989.5,838.0 L1991.5,837.9 L1993.5,837.7 L1995.5,837.5 L1997.5,837.3 L1999.5,837.1 L2001.5,836.9 L2003.5,836.7 L2005.5,836.5 L2007.5,836.3 L2009.5,836.1 L2011.5,835.9 L2013.5,835.6 L2015.5,835.4 L2017.5,835.2 L2019.5,834.9 L2021.5,834.7 L2023.5,834.5 L2025.5,834.3 L2027.5,834.2 L2029.5,834.0 L2031.5,833.8 L2033.5,833.6 L2035.5,833.4 L2037.5,833.2" stroke="#ffa500"/>
<path d="M245.5,1070.1 L247.5,1070.7 L249.5,1071.2 L251.5,1071.7 L253.5,1072.2 L255.5,1072.7 L257.5,1073.2 L259.5,1073.7 L261.5,1074.1 L263.5,1074.6 L265.5,1075.0 L267.5,1075.3 L269.5,1075.7 L271.5,1076.0 L273.5,1076.3 L275.5,1076.5 L277.5,1076.7 L279.5,1076.9 L281.5,1077.0 L283.5,1077.0 L285.5,1077.0 L287.5,1077.0 L289.5,1076.9 L291.5,1076.8 L293.5,1076.7 L295.5,1076.6 L297.5,1076.5 L299.5,1076.3 L301.5,1076.1 L303.5,1075.9 L305.5,1075.7 L307.5,1075.4 L309.5,1075.1 L311.5,1074.7 L313.5,1074.3 L315.5,1073.8 L317.5,1073.4 L319.5,1073.0 L321.5,1072.6 L323.5,1072.2 L325.5,1071.8 L327.5,1071.5 L329.5,1071.1 L331.5,1070.8 L333.5,1070.5 L335.5,1070.1 L337.5,1069.8 L339.5,1069.4 L341.5,1069.0 L343.5,1068.6 L345.5,1068.2 L347.5,1067.8 L349.5,1067.3 L351.5,1066.9 L353.5,1066.4 L355.5,1065.9 L357.5,1065.5 L359.5,1065.0 L361.5,1064.5 L363.5,1064.1 L365.5,1063.6 L367.5,1063.2 L369.5,1062.8 L371.5,1062.3 L373.5,1061.9 L375.5,1061.5 L377.5,1061.0 L379.5,1060.6 L381.5,1060.1 L383.5,1059.6 L385.5,1059.1 L387.5,1058.6 L389.5,1058.1 L391.5,1057.5 L393.5,1057.0 L395.5,1056.5 L397.5,1056.0 L399.5,1055.4 L401.5,1054.9 L403.5,1054.4 L405.5,1053.9 L407.5,1053.5 L409.5,1053.0 L411.5,1052.5 L413.5,1052.1 L415.5,1051.6 L417.5,1051.2 L419.5,1050.8 L421.5,1050.5 L423.5,1050.1 L425.5,1049.8 L427.5,1049.5 L429.5,1049.2 L431.5,1048.9 L433.5,1048.7 L435.5,1048.4 L437.5,1048.2 L439.5,1048.1 L441.5,1047.9 L443.5,1047.7 L445.5,1047.6 L447.5,1047.4 L449.5,1047.3 L451.5,1047.1 L453.5,1047.0 L455.5,1046.8 L457.5,1046.7 L459.5,1046.6 L461.5,1046.4 L463.5,1046.3 L465.5,1046.2 L467.5,1046.1 L469.5,1045.9 L471.5,1045.8 L473.5,1045.7 L475.5,1045.5 L477.5,1045.3 L479.5,1045.1 L481.5,1044.8 L483.5,1044.6 L485.5,1044.3 L487.5,1043.9 L489.5,1043.6 L491.5,1043.1 L493.5,1042.7 L495.5,1042.2 L497.5,1041.7 L499.5,1041.1 L501.5,1040.5 L503.5,1039.8 L505.5,1039.1 L507.5,1038.3 L509.5,1037.5 L511.5,1036.6 L513.5,1035.6 L515.5,1034.5 L517.5,1033.3 L519.5,1032.1 L521.5,1030.8 L523.5,1029.5 L525.5,1028.1 L527.5,1026.7 L529.5,1025.1 L531.5,1023.6 L533.5,1021.9 L535.5,1020.2 L537.5,1018.4 L539.5,1016.5 L541.5,1014.5 L543.5,1012.3 L545.5,1010.1 L547.5,1007.8 L549.5,1005.5 L551.5,1003.3 L553.5,1001.0 L555.5,998.7 L557.5,996.4 L559.5,994.1 L561.5,991.8 L563.5,989.4 L565.5,987.1 L567.5,984.8 L569.5,982.4 L571.5,980.1 L573.5,977.8 L575.5,975.5 L577.5,973.3 L579.5,971.1 L581.5,969.0 L583.5,967.0 L585.5,965.1 L587.5,963.2 L589.5,961.5 L591.5,959.8 L593.5,958.3 L595.5,956.9 L597.5,955.5 L599.5,954.3 L601.5,953.0 L603.5,951.8 L605.5,950.5 L607.5,949.2 L609.5,947.8 L611.5,946.4 L613.5,945.0 L615.5,943.6 L617.5,942.1 L619.5,940.7 L621.5,939.3 L623.5,937.9 L625.5,936.5 L627.5,935.2 L629.5,933.8 L631.5,932.5 L633.5,931.1 L635.5,929.8 L637.5,928.5 L639.5,927.3 L641.5,926.2 L643.5,925.1 L645.5,924.1 L647.5,923.1 L649.5,922.1 L651.5,921.1 L653.5,920.1 L655.5,919.1 L657.5,918.2 L659.5,917.2 L661.5,916.3 L663.5,915.4 L665.5,914.5 L667.5,913.5 L669.5,912.6 L671.5,911.6 L673.5,910.7 L675.5,909.7 L677.5,908.6 L679.5,907.5 L681.5,906.4 L683.5,905.2 L685.5,904.1 L687.5,902.9 L689.5,901.7 L691.5,900.4 L693.5,899.1 L695.5,897.8 L697.5,896.4 L699.5,894.9 L701.5,893.4 L703.5,891.8 L705.5,890.1 L707.5,888.4 L709.5,886.7 L711.5,884.9 L713.5,883.2 L715.5,881.5 L717.5,879.7 L719.5,877.9 L721.5,876.1 L723.5,874.2 L725.5,872.3 L727.5,870.4 L729.5,868.5 L731.5,866.6 L733.5,864.7 L735.5,862.9 L737.5,861.1 L739.5,859.4 L741.5,857.7 L743.5,856.2 L745.5,854.7 L747.5,853.3 L749.5,851.9 L751.5,850.7 L753.5,849.5 L755.5,848.4 L757.5,847.4 L759.5,846.5 L761.5,845.8 L763.5,845.0 L765.5,844.4 L767.5,843.8 L769.5,843.3 L771.5,842.8 L773.5,842.5 L775.5,842.2 L777.5,841.9 L779.5,841.7 L781.5,841.5 L783.5,841.4 L785.5,841.2 L787.5,841.0 L789.5,840.9 L791.5,840.7 L793.5,840.5 L795.5,840.2 L797.5,840.0 L799.5,839.7 L801.5,839.4 L803.5,839.0 L805.5,838.5 L807.5,838.0 L809.5,837.4 L811.5,836.7 L813.5,836.0 L815.5,835.2 L817.5,834.3 L819.5,833.3 L821.5,832.1 L823.5,831.0 L825.5,829.7 L827.5,828.4 L829.5,827.1 L831.5,825.8 L833.5,824.5 L835.5,823.2 L837.5,821.9 L839.5,820.6 L841.5,819.3 L843.5,818.1 L845.5,816.9 L847.5,815.7 L849.5,814.6 L851.5,813.5 L853.5,812.5 L855.5,811.6 L857.5,810.7 L859.5,809.9 L861.5,809.2 L863.5,808.5 L865.5,807.8 L867.5,807.3 L869.5,806.7 L871.5,806.2 L873.5,805.8 L875.5,805.4 L877.5,805.0 L879.5,804.6 L881.5,804.3 L883.5,804.0 L885.5,803.7 L887.5,803.4 L889.5,803.2 L891.5,802.9 L893.5,802.6 L895.5,802.4 L897.5,802.2 L899.5,801.9 L901.5,801.7 L903.5,801.5 L905.5,801.3 L907.5,801.1 L909.5,800.9 L911.5,800.6 L913.5,800.2 L915.5,799.9 L917.5,799.6 L919.5,799.3 L921.5,799.0 L923.5,798.8 L925.5,798.5 L927.5,798.3 L929.5,798.1 L931.5,797.9 L933.5,797.7 L935.5,797.5 L937.5,797.4 L939.5,797.3 L941.5,797.3 L943.5,797.3 L945.5,797.2 L947.5,797.2 L949.5,797.2 L951.5,797.3 L953.5,797.3 L955.5,797.3 L957.5,797.4 L959.5,797.5 L961.5,797.6 L963.5,797.6 L965.5,797.6 L967.5,797.7 L969.5,797.7 L971.5,797.7 L973.5,797.7 L975.5,797.6 L977.5,797.6 L979.5,797.5 L981.5,797.4 L983.5,797.2 L985.5,796.9 L987.5,796.6 L989.5,796.3 L991.5,795.8 L993.5,795.4 L995.5,794.9 L997.5,794.3 L999.5,793.8 L1001.5,793.2 L1003.5,792.7 L1005.5,792.1 L1007.5,791.5 L1009.5,790.9 L1011.5,790.3 L1013.5,789.7 L1015.5,789.1 L1017.5,788.5 L1019.5,787.9 L1021.5,787.3 L1023.5,786.7 L1025.5,786.2 L1027.5,785.6 L1029.5,785.1 L1031.5,784.5 L1033.5,784.0 L1035.5,783.5 L1037.5,783.1 L1039.5,782.6 L1041.5,782.2 L1043.5,781.8 L1045.5,781.4 L1047.5,781.1 L1049.5,780.8 L1051.5,780.5 L1053.5,780.2 L1055.5,779.9 L1057.5,779.6 L1059.5,779.3 L1061.5,779.1 L1063.5,778.8 L1065.5,778.6 L1067.5,778.4 L1069.5,778.2 L1071.5,778.0 L1073.5,777.8 L1075.5,777.7 L1077.5,777.6 L1079.5,777.5 L1081.5,777.4 L1083.5,777.4 L1085.5,777.4 L1087.5,777.4 L1089.5,777.5 L1091.5,777.7 L1093.5,777.9 L1095.5,778.2 L1097.5,778.4 L1099.5,778.7 L1101.5,779.1 L1103.5,779.5 L1105.5,779.9 L1107.5,780.4 L1109.5,780.8 L1111.5,781.3 L1113.5,781.8 L1115.5,782.3 L1117.5,782.7 L1119.5,783.0 L1121.5,783.4 L1123.5,783.7 L1125.5,784.1 L1127.5,784.4 L1129.5,784.7 L1131.5,785.0 L1133.5,785.3 L1135.5,785.5 L1137.5,785.7 L1139.5,785.9 L1141.5,786.0 L1143.5,786.1 L1145.5,786.1 L1147.5,786.2 L1149.5,786.2 L1151.5,786.1 L1153.5,786.1 L1155.5,785.9 L1157.5,785.8 L1159.5,785.5 L1161.5,785.3 L1163.5,784.9 L1165.5,784.6 L1167.5,784.2 L1169.5,783.7 L1171.5,783.3 L1173.5,782.8 L1175.5,782.4 L1177.5,781.9 L1179.5,781.4 L1181.5,780.9 L1183.5,780.4 L1185.5,779.9 L1187.5,779.5 L1189.5,779.0 L1191.5,778.5 L1193.5,778.1 L1195.5,777.6 L1197.5,777.3 L1199.5,776.9 L1201.5,776.6 L1203.5,776.3 L1205.5,776.0 L1207.5,775.8 L1209.5,775.6 L1211.5,775.4 L1213.5,775.3 L1215.5,775.1 L1217.5,775.0 L1219.5,775.0 L1221.5,774.9 L1223.5,774.9 L1225.5,775.0 L1227.5,775.1 L1229.5,775.3 L1231.5,775.5 L1233.5,775.9 L1235.5,776.3 L1237.5,776.8 L1239.5,777.3 L1241.5,778.0 L1243.5,778.6 L1245.5,779.4 L1247.5,780.2 L1249.5,781.1 L1251.5,782.1 L1253.5,783.1 L1255.5,784.2 L1257.5,785.4 L1259.5,786.6 L1261.5,787.9 L1263.5,789.3 L1265.5,790.7 L1267.5,792.2 L1269.5,793.7 L1271.5,795.3 L1273.5,796.8 L1275.5,798.4 L1277.5,800.0 L1279.5,801.6 L1281.5,803.2 L1283.5,804.8 L1285.5,806.4 L1287.5,808.0 L1289.5,809.5 L1291.5,811.1 L1293.5,812.7 L1295.5,814.2 L1297.5,815.8 L1299.5,817.5 L1301.5,819.1 L1303.5,820.7 L1305.5,822.3 L1307.5,823.9 L1309.5,825.4 L1311.5,826.8 L1313.5,828.2 L1315.5,829.5 L1317.5,830.6 L1319.5,831.7 L1321.5,832.6 L1323.5,833.5 L1325.5,834.2 L1327.5,834.9 L1329.5,835.5 L1331.5,836.0 L1333.5,836.4 L1335.5,836.8 L1337.5,837.0 L1339.5,837.2 L1341.5,837.3 L1343.5,837.2 L1345.5,837.1 L1347.5,836.9 L1349.5,836.6 L1351.5,836.3 L1353.5,835.9 L1355.5,835.4 L1357.5,834.8 L1359.5,834.2 L1361.5,833.5 L1363.5,832.7 L1365.5,831.9 L1367.5,831.0 L1369.5,830.1 L1371.5,829.1 L1373.5,828.2 L1375.5,827.2 L1377.5,826.1 L1379.5,825.1 L1381.5,824.2 L1383.5,823.2 L1385.5,822.3 L1387.5,821.4 L1389.5,820.6 L1391.5,819.9 L1393.5,819.2 L1395.5,818.5 L1397.5,818.0 L1399.5,817.4 L1401.5,817.0 L1403.5,816.7 L1405.5,816.5 L1407.5,816.4 L1409.5,816.5 L1411.5,816.6 L1413.5,816.9 L1415.5,817.2 L1417.5,817.7 L1419.5,818.4 L1421.5,819.2 L1423.5,820.1 L1425.5,821.2 L1427.5,822.5 L1429.5,823.8 L1431.5,825.3 L1433.5,826.9 L1435.5,828.5 L1437.5,830.1 L1439.5,831.8 L1441.5,833.4 L1443.5,835.0 L1445.5,836.5 L1447.5,838.1 L1449.5,839.6 L1451.5,841.1 L1453.5,842.5 L1455.5,843.8 L1457.5,845.1 L1459.5,846.3 L1461.5,847.4 L1463.5,848.3 L1465.5,849.2 L1467.5,850.0 L1469.5,850.7 L1471.5,851.3 L1473.5,851.8 L1475.5,852.2 L1477.5,852.5 L1479.5,852.7 L1481.5,852.8 L1483.5,852.8 L1485.5,852.7 L1487.5,852.5 L1489.5,852.2 L1491.5,851.8 L1493.5,851.3 L1495.5,850.8 L1497.5,850.2 L1499.5,849.6 L1501.5,849.0 L1503.5,848.3 L1505.5,847.7 L1507.5,847.0 L1509.5,846.3 L1511.5,845.6 L1513.5,844.9 L1515.5,844.3 L1517.5,843.6 L1519.5,842.9 L1521.5,842.3 L1523.5,841.7 L1525.5,841.1 L1527.5,840.6 L1529.5,840.1 L1531.5,839.5 L1533.5,839.0 L1535.5,838.5 L1537.5,838.1 L1539.5,837.7 L1541.5,837.3 L1543.5,837.0 L1545.5,836.7 L1547.5,836.5 L1549.5,836.3 L1551.5,836.1 L1553.5,836.0 L1555.5,835.9 L1557.5,835.9 L1559.5,836.0 L1561.5,836.1 L1563.5,836.3 L1565.5,836.5 L1567.5,836.8 L1569.5,837.2 L1571.5,837.6 L1573.5,838.1 L1575.5,838.6 L1577.5,839.2 L1579.5,839.8 L1581.5,840.5 L1583.5,841.1 L1585.5,841.8 L1587.5,842.5 L1589.5,843.2 L1591.5,843.9 L1593.5,844.6 L1595.5,845.4 L1597.5,846.1 L1599.5,846.8 L1601.5,847.5 L1603.5,848.2 L1605.5,848.9 L1607.5,849.7 L1609.5,850.4 L1611.5,851.1 L1613.5,851.9 L1615.5,852.6 L1617.5,853.3 L1619.5,854.0 L1621.5,854.7 L1623.5,855.4 L1625.5,856.1 L1627.5,856.8 L1629.5,857.6 L1631.5,858.3 L1633.5,859.1 L1635.5,859.8 L1637.5,860.6 L1639.5,861.4 L1641.5,862.1 L1643.5,862.9 L1645.5,863.7 L1647.5,864.5 L1649.5,865.3 L1651.5,866.1 L1653.5,866.9 L1655.5,867.9 L1657.5,868.8 L1659.5,869.9 L1661.5,870.9 L1663.5,872.0 L1665.5,873.1 L1667.5,874.2 L1669.5,875.3 L1671.5,876.5 L1673.5,877.5 L1675.5,878.6 L1677.5,879.7 L1679.5,880.8 L1681.5,881.7 L1683.5,882.6 L1685.5,883.4 L1687.5,884.3 L1689.5,885.1 L1691.5,885.8 L1693.5,886.5 L1695.5,887.2 L1697.5,887.8 L1699.5,888.5 L1701.5,889.0 L1703.5,889.6 L1705.5,890.2 L1707.5,890.7 L1709.5,891.2 L1711.5,891.7 L1713.5,892.1 L1715.5,892.6 L1717.5,893.0 L1719.5,893.5 L1721.5,893.9 L1723.5,894.3 L1725.5,894.7 L1727.5,895.1 L1729.5,895.5 L1731.5,895.8 L1733.5,896.2 L1735.5,896.6 L1737.5,897.0 L1739.5,897.4 L1741.5,897.9 L1743.5,898.4 L1745.5,898.9 L1747.5,899.5 L1749.5,900.1 L1751.5,900.7 L1753.5,901.4 L1755.5,902.2 L1757.5,903.0 L1759.5,903.8 L1761.5,904.6 L1763.5,905.5 L1765.5,906.4 L1767.5,907.3 L1769.5,908.2 L1771.5,909.2 L1773.5,910.1 L1775.5,911.0 L1777.5,912.0 L1779.5,912.9 L1781.5,913.9 L1783.5,914.9 L1785.5,916.0 L1787.5,917.0 L1789.5,918.1 L1791.5,919.2 L1793.5,920.3 L1795.5,921.5 L1797.5,922.6 L1799.5,923.8 L1801.5,925.0 L1803.5,926.2 L1805.5,927.3 L1807.5,928.4 L1809.5,929.5 L1811.5,930.6 L1813.5,931.6 L1815.5,932.7 L1817.5,933.7 L1819.5,934.6 L1821.5,935.6 L1823.5,936.5 L1825.5,937.3 L1827.5,938.1 L1829.5,938.9 L1831.5,939.6 L1833.5,940.2 L1835.5,940.9 L1837.5,941.5 L1839.5,942.1 L1841.5,942.7 L1843.5,943.2 L1845.5,943.6 L1847.5,944.0 L1849.5,944.4 L1851.5,944.7 L1853.5,945.0 L1855.5,945.2 L1857.5,945.4 L1859.5,945.6 L1861.5,945.6 L1863.5,945.6 L1865.5,945.6 L1867.5,945.4 L1869.5,945.2 L1871.5,945.0 L1873.5,944.6 L1875.5,944.2 L1877.5,943.8 L1879.5,943.3 L1881.5,942.7 L1883.5,942.1 L1885.5,941.4 L1887.5,940.7 L1889.5,940.0 L1891.5,939.2 L1893.5,938.5 L1895.5,937.7 L1897.5,936.9 L1899.5,936.0 L1901.5,935.2 L1903.5,934.4 L1905.5,933.5 L1907.5,932.6 L1909.5,931.8 L1911.5,930.9 L1913.5,930.0 L1915.5,929.2 L1917.5,928.4 L1919.5,927.6 L1921.5,926.8 L1923.5,926.1 L1925.5,925.3 L1927.5,924.6 L1929.5,923.9 L1931.5,923.3 L1933.5,922.7 L1935.5,922.2 L1937.5,921.7 L1939.5,921.2 L1941.5,920.8 L1943.5,920.4 L1945.5,920.1 L1947.5,919.8 L1949.5,919.4 L1951.5,919.1 L1953.5,918.7 L1955.5,918.3 L1957.5,918.0 L1959.5,917.7 L1961.5,917.5 L1963.5,917.2 L1965.5,917.0 L1967.5,916.8 L1969.5,916.6 L1971.5,916.4 L1973.5,916.2 L1975.5,916.0 L1977.5,915.8 L1979.5,915.6 L1981.5,915.5 L1983.5,915.3 L1985.5,915.2 L1987.5,915.0 L1989.5,914.8 L1991.5,914.6 L1993.5,914.5 L1995.5,914.3 L1997.5,914.1 L1999.5,913.9 L2001.5,913.8 L2003.5,913.6 L2005.5,913.4 L2007.5,913.2 L2009.5,912.9 L2011.5,912.7 L2013.5,912.5 L2015.5,912.3 L2017.5,912.1 L2019.5,911.8 L2021.5,911.6 L2023.5,911.5 L2025.5,911.3 L2027.5,911.1 L2029.5,910.9 L2031.5,910.8 L2033.5,910.6 L2035.5,910.4 L2037.5,910.2" stroke="#ffa500"/>
<path d="M245.5,984.4 L247.5,984.7 L249.5,985.0 L251.5,985.3 L253.5,985.6 L255.5,985.9 L257.5,986.2 L259.5,986.5 L261.5,986.7 L263.5,986.9 L265.5,987.1 L267.5,987.3 L269.5,987.4 L271.5,987.5 L273.5,987.5 L275.5,987.5 L277.5,987.4 L279.5,987.3 L281.5,987.1 L283.5,986.9 L285.5,986.7 L287.5,986.3 L289.5,986.0 L291.5,985.6 L293.5,985.2 L295.5,984.8 L297.5,984.3 L299.5,983.9 L301.5,983.4 L303.5,982.9 L305.5,982.3 L307.5,981.7 L309.5,981.1 L311.5,980.3 L313.5,979.6 L315.5,978.8 L317.5,978.1 L319.5,977.4 L321.5,976.6 L323.5,975.9 L325.5,975.2 L327.5,974.6 L329.5,973.9 L331.5,973.3 L333.5,972.6 L335.5,972.0 L337.5,971.3 L339.5,970.7 L341.5,970.0 L343.5,969.2 L345.5,968.5 L347.5,967.7 L349.5,966.9 L351.5,966.1 L353.5,965.3 L355.5,964.5 L357.5,963.7 L359.5,962.9 L361.5,962.1 L363.5,961.3 L365.5,960.5 L367.5,959.7 L369.5,958.9 L371.5,958.1 L373.5,957.3 L375.5,956.5 L377.5,955.7 L379.5,954.9 L381.5,954.0 L383.5,953.1 L385.5,952.3 L387.5,951.4 L389.5,950.5 L391.5,949.6 L393.5,948.7 L395.5,947.8 L397.5,946.9 L399.5,946.0 L401.5,945.2 L403.5,944.3 L405.5,943.5 L407.5,942.7 L409.5,941.9 L411.5,941.1 L413.5,940.4 L415.5,939.7 L417.5,939.0 L419.5,938.4 L421.5,937.7 L423.5,937.2 L425.5,936.6 L427.5,936.1 L429.5,935.6 L431.5,935.1 L433.5,934.7 L435.5,934.3 L437.5,934.0 L439.5,933.6 L441.5,933.3 L443.5,933.0 L445.5,932.8 L447.5,932.5 L449.5,932.3 L451.5,932.0 L453.5,931.8 L455.5,931.5 L457.5,931.3 L459.5,931.1 L461.5,930.9 L463.5,930.7 L465.5,930.5 L467.5,930.2 L469.5,930.0 L471.5,929.7 L473.5,929.5 L475.5,929.2 L477.5,928.8 L479.5,928.5 L481.5,928.1 L483.5,927.6 L485.5,927.1 L487.5,926.5 L489.5,925.9 L491.5,925.2 L493.5,924.5 L495.5,923.7 L497.5,922.9 L499.5,921.9 L501.5,920.9 L503.5,919.9 L505.5,918.7 L507.5,917.4 L509.5,916.1 L511.5,914.6 L513.5,913.0 L515.5,911.3 L517.5,909.5 L519.5,907.6 L521.5,905.6 L523.5,903.5 L525.5,901.3 L527.5,899.1 L529.5,896.8 L531.5,894.3 L533.5,891.9 L535.5,889.3 L537.5,886.6 L539.5,883.8 L541.5,880.9 L543.5,877.9 L545.5,874.8 L547.5,871.7 L549.5,868.5 L551.5,865.4 L553.5,862.2 L555.5,859.1 L557.5,855.9 L559.5,852.8 L561.5,849.6 L563.5,846.5 L565.5,843.3 L567.5,840.1 L569.5,837.0 L571.5,833.9 L573.5,830.8 L575.5,827.8 L577.5,824.8 L579.5,821.8 L581.5,819.0 L583.5,816.3 L585.5,813.6 L587.5,811.1 L589.5,808.7 L591.5,806.4 L593.5,804.2 L595.5,802.1 L597.5,800.1 L599.5,798.2 L601.5,796.3 L603.5,794.3 L605.5,792.4 L607.5,790.3 L609.5,788.2 L611.5,786.0 L613.5,783.9 L615.5,781.6 L617.5,779.4 L619.5,777.1 L621.5,774.9 L623.5,772.7 L625.5,770.5 L627.5,768.3 L629.5,766.1 L631.5,764.0 L633.5,761.8 L635.5,759.7 L637.5,757.6 L639.5,755.7 L641.5,753.8 L643.5,752.0 L645.5,750.3 L647.5,748.6 L649.5,746.9 L651.5,745.3 L653.5,743.7 L655.5,742.1 L657.5,740.5 L659.5,739.0 L661.5,737.5 L663.5,736.0 L665.5,734.5 L667.5,733.1 L669.5,731.7 L671.5,730.2 L673.5,728.7 L675.5,727.3 L677.5,725.7 L679.5,724.2 L681.5,722.6 L683.5,721.0 L685.5,719.4 L687.5,717.8 L689.5,716.2 L691.5,714.5 L693.5,712.7 L695.5,710.9 L697.5,709.0 L699.5,707.1 L701.5,705.1 L703.5,703.0 L705.5,700.8 L707.5,698.6 L709.5,696.3 L711.5,694.0 L713.5,691.7 L715.5,689.4 L717.5,687.1 L719.5,684.7 L721.5,682.3 L723.5,679.8 L725.5,677.3 L727.5,674.7 L729.5,672.2 L731.5,669.6 L733.5,667.1 L735.5,664.6 L737.5,662.2 L739.5,659.8 L741.5,657.6 L743.5,655.4 L745.5,653.3 L747.5,651.3 L749.5,649.4 L751.5,647.5 L753.5,645.8 L755.5,644.2 L757.5,642.7 L759.5,641.3 L761.5,640.0 L763.5,638.8 L765.5,637.8 L767.5,636.7 L769.5,635.8 L771.5,635.0 L773.5,634.2 L775.5,633.6 L777.5,633.0 L779.5,632.4 L781.5,632.0 L783.5,631.5 L785.5,631.0 L787.5,630.6 L789.5,630.1 L791.5,629.6 L793.5,629.1 L795.5,628.7 L797.5,628.1 L799.5,627.6 L801.5,627.0 L803.5,626.3 L805.5,625.5 L807.5,624.7 L809.5,623.8 L811.5,622.8 L813.5,621.7 L815.5,620.5 L817.5,619.2 L819.5,617.8 L821.5,616.3 L823.5,614.7 L825.5,613.0 L827.5,611.3 L829.5,609.5 L831.5,607.8 L833.5,606.0 L835.5,604.2 L837.5,602.4 L839.5,600.6 L841.5,598.8 L843.5,597.1 L845.5,595.4 L847.5,593.7 L849.5,592.1 L851.5,590.6 L853.5,589.1 L855.5,587.8 L857.5,586.5 L859.5,585.3 L861.5,584.2 L863.5,583.1 L865.5,582.2 L867.5,581.3 L869.5,580.4 L871.5,579.7 L873.5,578.9 L875.5,578.3 L877.5,577.7 L879.5,577.1 L881.5,576.5 L883.5,576.0 L885.5,575.5 L887.5,575.0 L889.5,574.6 L891.5,574.1 L893.5,573.6 L895.5,573.2 L897.5,572.8 L899.5,572.3 L901.5,572.0 L903.5,571.6 L905.5,571.2 L907.5,570.7 L909.5,570.3 L911.5,569.8 L913.5,569.3 L915.5,568.8 L917.5,568.3 L919.5,567.8 L921.5,567.3 L923.5,566.9 L925.5,566.5 L927.5,566.1 L929.5,565.7 L931.5,565.4 L933.5,565.1 L935.5,564.8 L937.5,564.5 L939.5,564.4 L941.5,564.2 L943.5,564.1 L945.5,564.0 L947.5,563.9 L949.5,563.9 L951.5,563.8 L953.5,563.8 L955.5,563.8 L957.5,563.8 L959.5,563.8 L961.5,563.9 L963.5,563.9 L965.5,563.9 L967.5,563.9 L969.5,563.9 L971.5,563.8 L973.5,563.8 L975.5,563.7 L977.5,563.5 L979.5,563.3 L981.5,563.1 L983.5,562.8 L985.5,562.4 L987.5,561.9 L989.5,561.3 L991.5,560.6 L993.5,559.9 L995.5,559.1 L997.5,558.3 L999.5,557.4 L1001.5,556.5 L1003.5,555.5 L1005.5,554.5 L1007.5,553.5 L1009.5,552.4 L1011.5,551.3 L1013.5,550.2 L1015.5,549.1 L1017.5,547.9 L1019.5,546.8 L1021.5,545.6 L1023.5,544.5 L1025.5,543.4 L1027.5,542.2 L1029.5,541.1 L1031.5,540.0 L1033.5,539.0 L1035.5,538.0 L1037.5,537.0 L1039.5,536.1 L1041.5,535.2 L1043.5,534.3 L1045.5,533.6 L1047.5,532.8 L1049.5,532.2 L1051.5,531.5 L1053.5,531.0 L1055.5,530.4 L1057.5,529.9 L1059.5,529.4 L1061.5,529.0 L1063.5,528.6 L1065.5,528.3 L1067.5,528.0 L1069.5,527.8 L1071.5,527.6 L1073.5,527.4 L1075.5,527.3 L1077.5,527.2 L1079.5,527.2 L1081.5,527.3 L1083.5,527.3 L1085.5,527.5 L1087.5,527.7 L1089.5,527.9 L1091.5,528.3 L1093.5,528.7 L1095.5,529.1 L1097.5,529.7 L1099.5,530.2 L1101.5,530.8 L1103.5,531.5 L1105.5,532.2 L1107.5,532.9 L1109.5,533.7 L1111.5,534.5 L1113.5,535.2 L1115.5,536.0 L1117.5,536.7 L1119.5,537.3 L1121.5,537.9 L1123.5,538.5 L1125.5,539.1 L1127.5,539.7 L1129.5,540.3 L1131.5,540.8 L1133.5,541.3 L1135.5,541.7 L1137.5,542.1 L1139.5,542.4 L1141.5,542.7 L1143.5,542.9 L1145.5,543.1 L1147.5,543.3 L1149.5,543.4 L1151.5,543.4 L1153.5,543.4 L1155.5,543.3 L1157.5,543.2 L1159.5,543.0 L1161.5,542.7 L1163.5,542.4 L1165.5,542.0 L1167.5,541.5 L1169.5,541.0 L1171.5,540.5 L1173.5,539.9 L1175.5,539.3 L1177.5,538.7 L1179.5,538.1 L1181.5,537.4 L1183.5,536.8 L1185.5,536.1 L1187.5,535.4 L1189.5,534.7 L1191.5,534.0 L1193.5,533.4 L1195.5,532.7 L1197.5,532.1 L1199.5,531.5 L1201.5,531.0 L1203.5,530.5 L1205.5,530.0 L1207.5,529.6 L1209.5,529.2 L1211.5,528.8 L1213.5,528.5 L1215.5,528.2 L1217.5,527.9 L1219.5,527.7 L1221.5,527.6 L1223.5,527.5 L1225.5,527.5 L1227.5,527.6 L1229.5,527.7 L1231.5,527.9 L1233.5,528.3 L1235.5,528.8 L1237.5,529.3 L1239.5,530.0 L1241.5,530.7 L1243.5,531.6 L1245.5,532.5 L1247.5,533.6 L1249.5,534.7 L1251.5,536.0 L1253.5,537.4 L1255.5,538.9 L1257.5,540.5 L1259.5,542.2 L1261.5,544.0 L1263.5,545.9 L1265.5,547.9 L1267.5,549.9 L1269.5,552.1 L1271.5,554.3 L1273.5,556.6 L1275.5,558.9 L1277.5,561.2 L1279.5,563.6 L1281.5,565.9 L1283.5,568.3 L1285.5,570.7 L1287.5,573.1 L1289.5,575.4 L1291.5,577.8 L1293.5,580.2 L1295.5,582.7 L1297.5,585.1 L1299.5,587.6 L1301.5,590.1 L1303.5,592.5 L1305.5,595.0 L1307.5,597.4 L1309.5,599.8 L1311.5,602.1 L1313.5,604.2 L1315.5,606.3 L1317.5,608.2 L1319.5,610.0 L1321.5,611.7 L1323.5,613.2 L1325.5,614.6 L1327.5,615.9 L1329.5,617.0 L1331.5,618.1 L1333.5,619.0 L1335.5,619.8 L1337.5,620.4 L1339.5,620.9 L1341.5,621.3 L1343.5,621.4 L1345.5,621.5 L1347.5,621.4 L1349.5,621.2 L1351.5,620.8 L1353.5,620.4 L1355.5,619.8 L1357.5,619.1 L1359.5,618.3 L1361.5,617.4 L1363.5,616.4 L1365.5,615.2 L1367.5,614.0 L1369.5,612.7 L1371.5,611.4 L1373.5,610.0 L1375.5,608.6 L1377.5,607.2 L1379.5,605.8 L1381.5,604.4 L1383.5,603.0 L1385.5,601.8 L1387.5,600.5 L1389.5,599.4 L1391.5,598.4 L1393.5,597.4 L1395.5,596.5 L1397.5,595.7 L1399.5,595.0 L1401.5,594.5 L1403.5,594.1 L1405.5,593.9 L1407.5,593.8 L1409.5,593.9 L1411.5,594.2 L1413.5,594.6 L1415.5,595.2 L1417.5,595.9 L1419.5,596.9 L1421.5,598.1 L1423.5,599.5 L1425.5,601.0 L1427.5,602.8 L1429.5,604.7 L1431.5,606.8 L1433.5,609.0 L1435.5,611.2 L1437.5,613.5 L1439.5,615.8 L1441.5,618.1 L1443.5,620.4 L1445.5,622.6 L1447.5,624.8 L1449.5,626.9 L1451.5,629.0 L1453.5,631.0 L1455.5,632.9 L1457.5,634.7 L1459.5,636.4 L1461.5,637.9 L1463.5,639.3 L1465.5,640.5 L1467.5,641.6 L1469.5,642.6 L1471.5,643.4 L1473.5,644.0 L1475.5,644.5 L1477.5,644.9 L1479.5,645.2 L1481.5,645.2 L1483.5,645.2 L1485.5,644.9 L1487.5,644.6 L1489.5,644.1 L1491.5,643.4 L1493.5,642.7 L1495.5,641.9 L1497.5,641.0 L1499.5,640.0 L1501.5,639.0 L1503.5,637.9 L1505.5,636.8 L1507.5,635.7 L1509.5,634.6 L1511.5,633.5 L1513.5,632.3 L1515.5,631.2 L1517.5,630.0 L1519.5,628.9 L1521.5,627.9 L1523.5,626.8 L1525.5,625.8 L1527.5,624.9 L1529.5,623.9 L1531.5,623.0 L1533.5,622.1 L1535.5,621.3 L1537.5,620.5 L1539.5,619.8 L1541.5,619.1 L1543.5,618.6 L1545.5,618.0 L1547.5,617.6 L1549.5,617.2 L1551.5,616.9 L1553.5,616.7 L1555.5,616.5 L1557.5,616.5 L1559.5,616.5 L1561.5,616.6 L1563.5,616.8 L1565.5,617.0 L1567.5,617.4 L1569.5,617.9 L1571.5,618.4 L1573.5,619.0 L1575.5,619.7 L1577.5,620.5 L1579.5,621.3 L1581.5,622.2 L1583.5,623.1 L1585.5,624.0 L1587.5,625.0 L1589.5,625.9 L1591.5,626.9 L1593.5,627.9 L1595.5,628.9 L1597.5,629.9 L1599.5,630.8 L1601.5,631.8 L1603.5,632.8 L1605.5,633.8 L1607.5,634.7 L1609.5,635.7 L1611.5,636.7 L1613.5,637.7 L1615.5,638.6 L1617.5,639.6 L1619.5,640.6 L1621.5,641.5 L1623.5,642.5 L1625.5,643.4 L1627.5,644.4 L1629.5,645.4 L1631.5,646.4 L1633.5,647.5 L1635.5,648.6 L1637.5,649.7 L1639.5,650.7 L1641.5,651.9 L1643.5,653.0 L1645.5,654.1 L1647.5,655.2 L1649.5,656.4 L1651.5,657.6 L1653.5,658.9 L1655.5,660.2 L1657.5,661.5 L1659.5,662.9 L1661.5,664.4 L1663.5,665.9 L1665.5,667.4 L1667.5,668.9 L1669.5,670.4 L1671.5,671.9 L1673.5,673.4 L1675.5,674.8 L1677.5,676.2 L1679.5,677.6 L1681.5,678.9 L1683.5,680.1 L1685.5,681.2 L1687.5,682.4 L1689.5,683.4 L1691.5,684.4 L1693.5,685.4 L1695.5,686.2 L1697.5,687.0 L1699.5,687.8 L1701.5,688.5 L1703.5,689.2 L1705.5,689.8 L1707.5,690.4 L1709.5,691.0 L1711.5,691.5 L1713.5,692.0 L1715.5,692.5 L1717.5,692.9 L1719.5,693.4 L1721.5,693.8 L1723.5,694.2 L1725.5,694.6 L1727.5,695.0 L1729.5,695.4 L1731.5,695.8 L1733.5,696.1 L1735.5,696.5 L1737.5,697.0 L1739.5,697.5 L1741.5,698.0 L1743.5,698.6 L1745.5,699.2 L1747.5,699.9 L1749.5,700.7 L1751.5,701.5 L1753.5,702.4 L1755.5,703.4 L1757.5,704.5 L1759.5,705.6 L1761.5,706.7 L1763.5,707.9 L1765.5,709.2 L1767.5,710.4 L1769.5,711.8 L1771.5,713.1 L1773.5,714.5 L1775.5,715.9 L1777.5,717.3 L1779.5,718.8 L1781.5,720.3 L1783.5,721.9 L1785.5,723.5 L1787.5,725.2 L1789.5,726.9 L1791.5,728.7 L1793.5,730.5 L1795.5,732.3 L1797.5,734.2 L1799.5,736.1 L1801.5,738.0 L1803.5,740.0 L1805.5,741.9 L1807.5,743.8 L1809.5,745.6 L1811.5,747.5 L1813.5,749.3 L1815.5,751.0 L1817.5,752.8 L1819.5,754.5 L1821.5,756.1 L1823.5,757.7 L1825.5,759.2 L1827.5,760.7 L1829.5,762.1 L1831.5,763.4 L1833.5,764.7 L1835.5,765.9 L1837.5,767.1 L1839.5,768.3 L1841.5,769.3 L1843.5,770.3 L1845.5,771.3 L1847.5,772.2 L1849.5,773.0 L1851.5,773.7 L1853.5,774.4 L1855.5,775.0 L1857.5,775.5 L1859.5,776.0 L1861.5,776.3 L1863.5,776.6 L1865.5,776.8 L1867.5,776.8 L1869.5,776.8 L1871.5,776.7 L1873.5,776.5 L1875.5,776.2 L1877.5,775.9 L1879.5,775.4 L1881.5,774.8 L1883.5,774.2 L1885.5,773.6 L1887.5,772.8 L1889.5,772.0 L1891.5,771.2 L1893.5,770.4 L1895.5,769.5 L1897.5,768.6 L1899.5,767.7 L1901.5,766.7 L1903.5,765.8 L1905.5,764.8 L1907.5,763.8 L1909.5,762.8 L1911.5,761.8 L1913.5,760.8 L1915.5,759.9 L1917.5,759.0 L1919.5,758.1 L1921.5,757.2 L1923.5,756.4 L1925.5,755.6 L1927.5,754.8 L1929.5,754.1 L1931.5,753.5 L1933.5,752.8 L1935.5,752.3 L1937.5,751.8 L1939.5,751.4 L1941.5,751.0 L1943.5,750.7 L1945.5,750.4 L1947.5,750.1 L1949.5,749.8 L1951.5,749.5 L1953.5,749.2 L1955.5,748.9 L1957.5,748.6 L1959.5,748.4 L1961.5,748.2 L1963.5,748.1 L1965.5,748.0 L1967.5,747.9 L1969.5,747.8 L1971.5,747.7 L1973.5,747.5 L1975.5,747.4 L1977.5,747.3 L1979.5,747.2 L1981.5,747.1 L1983.5,747.0 L1985.5,746.9 L1987.5,746.8 L1989.5,746.7 L1991.5,746.6 L1993.5,746.5 L1995.5,746.3 L1997.5,746.2 L1999.5,746.1 L2001.5,745.9 L2003.5,745.7 L2005.5,745.6 L2007.5,745.4 L2009.5,745.2 L2011.5,745.0 L2013.5,744.8 L2015.5,744.5 L2017.5,744.3 L2019.5,744.1 L2021.5,743.9 L2023.5,743.7 L2025.5,743.6 L2027.5,743.4 L2029.5,743.2 L2031.5,743.0 L2033.5,742.8 L2035.5,742.6 L2037.5,742.4" stroke="#006400" stroke-dasharray="37.16 16.07"/>
<path d="M245.5,1031.7 L247.5,1032.2 L249.5,1032.6 L251.5,1033.0 L253.5,1033.4 L255.5,1033.8 L257.5,1034.2 L259.5,1034.6 L261.5,1034.9 L263.5,1035.3 L265.5,1035.6 L267.5,1035.9 L269.5,1036.1 L271.5,1036.3 L273.5,1036.5 L275.5,1036.6 L277.5,1036.7 L279.5,1036.7 L281.5,1036.7 L283.5,1036.6 L285.5,1036.5 L287.5,1036.3 L289.5,1036.2 L291.5,1035.9 L293.5,1035.7 L295.5,1035.4 L297.5,1035.1 L299.5,1034.9 L301.5,1034.5 L303.5,1034.2 L305.5,1033.8 L307.5,1033.4 L309.5,1032.9 L311.5,1032.4 L313.5,1031.8 L315.5,1031.2 L317.5,1030.6 L319.5,1030.1 L321.5,1029.5 L323.5,1029.0 L325.5,1028.5 L327.5,1028.0 L329.5,1027.5 L331.5,1027.0 L333.5,1026.5 L335.5,1026.0 L337.5,1025.5 L339.5,1025.0 L341.5,1024.5 L343.5,1023.9 L345.5,1023.3 L347.5,1022.7 L349.5,1022.1 L351.5,1021.5 L353.5,1020.9 L355.5,1020.2 L357.5,1019.6 L359.5,1019.0 L361.5,1018.4 L363.5,1017.8 L365.5,1017.2 L367.5,1016.6 L369.5,1016.0 L371.5,1015.4 L373.5,1014.8 L375.5,1014.2 L377.5,1013.6 L379.5,1013.0 L381.5,1012.4 L383.5,1011.8 L385.5,1011.1 L387.5,1010.5 L389.5,1009.8 L391.5,1009.1 L393.5,1008.4 L395.5,1007.8 L397.5,1007.1 L399.5,1006.5 L401.5,1005.8 L403.5,1005.2 L405.5,1004.6 L407.5,1004.0 L409.5,1003.4 L411.5,1002.8 L413.5,1002.2 L415.5,1001.7 L417.5,1001.2 L419.5,1000.7 L421.5,1000.3 L423.5,999.8 L425.5,999.4 L427.5,999.0 L429.5,998.6 L431.5,998.3 L433.5,998.0 L435.5,997.7 L437.5,997.4 L439.5,997.2 L441.5,997.0 L443.5,996.7 L445.5,996.5 L447.5,996.3 L449.5,996.1 L451.5,996.0 L453.5,995.8 L455.5,995.6 L457.5,995.4 L459.5,995.3 L461.5,995.1 L463.5,994.9 L465.5,994.8 L467.5,994.6 L469.5,994.5 L471.5,994.3 L473.5,994.1 L475.5,993.9 L477.5,993.6 L479.5,993.4 L481.5,993.1 L483.5,992.7 L485.5,992.3 L487.5,991.9 L489.5,991.5 L491.5,990.9 L493.5,990.4 L495.5,989.8 L497.5,989.1 L499.5,988.4 L501.5,987.6 L503.5,986.8 L505.5,985.9 L507.5,984.9 L509.5,983.9 L511.5,982.7 L513.5,981.4 L515.5,980.1 L517.5,978.6 L519.5,977.1 L521.5,975.5 L523.5,973.8 L525.5,972.1 L527.5,970.3 L529.5,968.4 L531.5,966.4 L533.5,964.4 L535.5,962.3 L537.5,960.0 L539.5,957.7 L541.5,955.3 L543.5,952.7 L545.5,950.1 L547.5,947.4 L549.5,944.7 L551.5,942.0 L553.5,939.3 L555.5,936.6 L557.5,933.9 L559.5,931.2 L561.5,928.5 L563.5,925.8 L565.5,923.1 L567.5,920.3 L569.5,917.6 L571.5,914.9 L573.5,912.2 L575.5,909.6 L577.5,907.0 L579.5,904.5 L581.5,902.0 L583.5,899.7 L585.5,897.4 L587.5,895.2 L589.5,893.1 L591.5,891.2 L593.5,889.3 L595.5,887.6 L597.5,885.9 L599.5,884.3 L601.5,882.8 L603.5,881.2 L605.5,879.6 L607.5,877.9 L609.5,876.1 L611.5,874.4 L613.5,872.6 L615.5,870.8 L617.5,868.9 L619.5,867.1 L621.5,865.3 L623.5,863.5 L625.5,861.7 L627.5,860.0 L629.5,858.2 L631.5,856.5 L633.5,854.7 L635.5,853.0 L637.5,851.4 L639.5,849.8 L641.5,848.4 L643.5,847.0 L645.5,845.6 L647.5,844.3 L649.5,843.0 L651.5,841.7 L653.5,840.5 L655.5,839.2 L657.5,838.0 L659.5,836.8 L661.5,835.7 L663.5,834.5 L665.5,833.4 L667.5,832.3 L669.5,831.2 L671.5,830.0 L673.5,828.9 L675.5,827.7 L677.5,826.5 L679.5,825.2 L681.5,823.9 L683.5,822.6 L685.5,821.3 L687.5,820.0 L689.5,818.6 L691.5,817.2 L693.5,815.8 L695.5,814.3 L697.5,812.7 L699.5,811.1 L701.5,809.4 L703.5,807.6 L705.5,805.8 L707.5,803.9 L709.5,802.0 L711.5,800.0 L713.5,798.1 L715.5,796.1 L717.5,794.2 L719.5,792.2 L721.5,790.1 L723.5,788.0 L725.5,785.9 L727.5,783.8 L729.5,781.7 L731.5,779.5 L733.5,777.4 L735.5,775.3 L737.5,773.3 L739.5,771.3 L741.5,769.5 L743.5,767.7 L745.5,766.0 L747.5,764.3 L749.5,762.7 L751.5,761.3 L753.5,759.9 L755.5,758.6 L757.5,757.4 L759.5,756.3 L761.5,755.4 L763.5,754.5 L765.5,753.6 L767.5,752.9 L769.5,752.2 L771.5,751.6 L773.5,751.0 L775.5,750.6 L777.5,750.2 L779.5,749.8 L781.5,749.5 L783.5,749.2 L785.5,748.9 L787.5,748.6 L789.5,748.3 L791.5,748.0 L793.5,747.7 L795.5,747.3 L797.5,747.0 L799.5,746.5 L801.5,746.1 L803.5,745.6 L805.5,745.0 L807.5,744.3 L809.5,743.6 L811.5,742.8 L813.5,741.9 L815.5,740.9 L817.5,739.8 L819.5,738.6 L821.5,737.4 L823.5,736.0 L825.5,734.6 L827.5,733.1 L829.5,731.6 L831.5,730.1 L833.5,728.6 L835.5,727.1 L837.5,725.6 L839.5,724.1 L841.5,722.6 L843.5,721.1 L845.5,719.7 L847.5,718.3 L849.5,717.0 L851.5,715.7 L853.5,714.5 L855.5,713.4 L857.5,712.3 L859.5,711.3 L861.5,710.4 L863.5,709.6 L865.5,708.7 L867.5,708.0 L869.5,707.3 L871.5,706.6 L873.5,706.0 L875.5,705.5 L877.5,704.9 L879.5,704.4 L881.5,703.9 L883.5,703.5 L885.5,703.0 L887.5,702.6 L889.5,702.2 L891.5,701.8 L893.5,701.4 L895.5,701.0 L897.5,700.6 L899.5,700.3 L901.5,699.9 L903.5,699.6 L905.5,699.3 L907.5,698.9 L909.5,698.5 L911.5,698.1 L913.5,697.7 L915.5,697.2 L917.5,696.8 L919.5,696.4 L921.5,696.0 L923.5,695.7 L925.5,695.3 L927.5,695.0 L929.5,694.7 L931.5,694.4 L933.5,694.2 L935.5,694.0 L937.5,693.8 L939.5,693.7 L941.5,693.6 L943.5,693.5 L945.5,693.5 L947.5,693.4 L949.5,693.4 L951.5,693.4 L953.5,693.4 L955.5,693.5 L957.5,693.5 L959.5,693.6 L961.5,693.6 L963.5,693.7 L965.5,693.7 L967.5,693.7 L969.5,693.7 L971.5,693.7 L973.5,693.6 L975.5,693.6 L977.5,693.5 L979.5,693.4 L981.5,693.2 L983.5,692.9 L985.5,692.6 L987.5,692.2 L989.5,691.7 L991.5,691.2 L993.5,690.6 L995.5,690.0 L997.5,689.3 L999.5,688.6 L1001.5,687.9 L1003.5,687.1 L1005.5,686.3 L1007.5,685.5 L1009.5,684.7 L1011.5,683.9 L1013.5,683.0 L1015.5,682.2 L1017.5,681.3 L1019.5,680.5 L1021.5,679.6 L1023.5,678.8 L1025.5,678.0 L1027.5,677.2 L1029.5,676.3 L1031.5,675.5 L1033.5,674.8 L1035.5,674.0 L1037.5,673.3 L1039.5,672.6 L1041.5,672.0 L1043.5,671.4 L1045.5,670.9 L1047.5,670.3 L1049.5,669.9 L1051.5,669.4 L1053.5,669.0 L1055.5,668.5 L1057.5,668.2 L1059.5,667.8 L1061.5,667.4 L1063.5,667.1 L1065.5,666.8 L1067.5,666.6 L1069.5,666.4 L1071.5,666.2 L1073.5,666.0 L1075.5,665.9 L1077.5,665.8 L1079.5,665.8 L1081.5,665.8 L1083.5,665.8 L1085.5,665.8 L1087.5,665.9 L1089.5,666.1 L1091.5,666.4 L1093.5,666.7 L1095.5,667.0 L1097.5,667.4 L1099.5,667.8 L1101.5,668.3 L1103.5,668.8 L1105.5,669.3 L1107.5,669.9 L1109.5,670.5 L1111.5,671.2 L1113.5,671.8 L1115.5,672.3 L1117.5,672.9 L1119.5,673.4 L1121.5,673.8 L1123.5,674.3 L1125.5,674.7 L1127.5,675.2 L1129.5,675.6 L1131.5,676.0 L1133.5,676.3 L1135.5,676.6 L1137.5,676.9 L1139.5,677.1 L1141.5,677.3 L1143.5,677.5 L1145.5,677.6 L1147.5,677.7 L1149.5,677.7 L1151.5,677.7 L1153.5,677.6 L1155.5,677.5 L1157.5,677.4 L1159.5,677.2 L1161.5,676.9 L1163.5,676.5 L1165.5,676.2 L1167.5,675.7 L1169.5,675.3 L1171.5,674.8 L1173.5,674.3 L1175.5,673.7 L1177.5,673.2 L1179.5,672.6 L1181.5,672.0 L1183.5,671.5 L1185.5,670.9 L1187.5,670.3 L1189.5,669.7 L1191.5,669.2 L1193.5,668.6 L1195.5,668.1 L1197.5,667.6 L1199.5,667.1 L1201.5,666.7 L1203.5,666.3 L1205.5,665.9 L1207.5,665.6 L1209.5,665.3 L1211.5,665.0 L1213.5,664.7 L1215.5,664.5 L1217.5,664.3 L1219.5,664.2 L1221.5,664.1 L1223.5,664.0 L1225.5,664.0 L1227.5,664.1 L1229.5,664.3 L1231.5,664.5 L1233.5,664.8 L1235.5,665.2 L1237.5,665.7 L1239.5,666.3 L1241.5,666.9 L1243.5,667.7 L1245.5,668.5 L1247.5,669.4 L1249.5,670.3 L1251.5,671.4 L1253.5,672.6 L1255.5,673.8 L1257.5,675.2 L1259.5,676.6 L1261.5,678.1 L1263.5,679.7 L1265.5,681.3 L1267.5,683.0 L1269.5,684.8 L1271.5,686.6 L1273.5,688.5 L1275.5,690.4 L1277.5,692.3 L1279.5,694.3 L1281.5,696.2 L1283.5,698.2 L1285.5,700.1 L1287.5,702.1 L1289.5,704.0 L1291.5,706.0 L1293.5,707.9 L1295.5,709.9 L1297.5,711.9 L1299.5,714.0 L1301.5,716.0 L1303.5,718.0 L1305.5,720.1 L1307.5,722.1 L1309.5,724.0 L1311.5,725.9 L1313.5,727.6 L1315.5,729.3 L1317.5,730.8 L1319.5,732.2 L1321.5,733.5 L1323.5,734.7 L1325.5,735.8 L1327.5,736.8 L1329.5,737.6 L1331.5,738.4 L1333.5,739.0 L1335.5,739.6 L1337.5,740.1 L1339.5,740.4 L1341.5,740.6 L1343.5,740.7 L1345.5,740.6 L1347.5,740.5 L1349.5,740.3 L1351.5,739.9 L1353.5,739.5 L1355.5,739.0 L1357.5,738.4 L1359.5,737.7 L1361.5,736.9 L1363.5,736.0 L1365.5,735.0 L1367.5,734.0 L1369.5,732.9 L1371.5,731.8 L1373.5,730.6 L1375.5,729.4 L1377.5,728.2 L1379.5,727.0 L1381.5,725.9 L1383.5,724.7 L1385.5,723.6 L1387.5,722.6 L1389.5,721.6 L1391.5,720.7 L1393.5,719.9 L1395.5,719.1 L1397.5,718.4 L1399.5,717.8 L1401.5,717.3 L1403.5,717.0 L1405.5,716.7 L1407.5,716.6 L1409.5,716.7 L1411.5,716.8 L1413.5,717.1 L1415.5,717.6 L1417.5,718.2 L1419.5,719.0 L1421.5,719.9 L1423.5,721.1 L1425.5,722.4 L1427.5,723.8 L1429.5,725.4 L1431.5,727.2 L1433.5,729.0 L1435.5,730.9 L1437.5,732.9 L1439.5,734.8 L1441.5,736.7 L1443.5,738.6 L1445.5,740.5 L1447.5,742.3 L1449.5,744.1 L1451.5,745.9 L1453.5,747.6 L1455.5,749.2 L1457.5,750.7 L1459.5,752.1 L1461.5,753.4 L1463.5,754.6 L1465.5,755.7 L1467.5,756.6 L1469.5,757.4 L1471.5,758.1 L1473.5,758.7 L1475.5,759.2 L1477.5,759.5 L1479.5,759.7 L1481.5,759.8 L1483.5,759.8 L1485.5,759.6 L1487.5,759.4 L1489.5,759.0 L1491.5,758.5 L1493.5,757.9 L1495.5,757.3 L1497.5,756.5 L1499.5,755.8 L1501.5,754.9 L1503.5,754.1 L1505.5,753.3 L1507.5,752.4 L1509.5,751.5 L1511.5,750.6 L1513.5,749.7 L1515.5,748.8 L1517.5,747.9 L1519.5,747.1 L1521.5,746.2 L1523.5,745.4 L1525.5,744.7 L1527.5,743.9 L1529.5,743.2 L1531.5,742.5 L1533.5,741.8 L1535.5,741.2 L1537.5,740.5 L1539.5,740.0 L1541.5,739.5 L1543.5,739.0 L1545.5,738.6 L1547.5,738.3 L1549.5,738.0 L1551.5,737.8 L1553.5,737.6 L1555.5,737.5 L1557.5,737.4 L1559.5,737.5 L1561.5,737.6 L1563.5,737.7 L1565.5,738.0 L1567.5,738.3 L1569.5,738.7 L1571.5,739.2 L1573.5,739.7 L1575.5,740.3 L1577.5,740.9 L1579.5,741.6 L1581.5,742.4 L1583.5,743.1 L1585.5,743.9 L1587.5,744.7 L1589.5,745.5 L1591.5,746.3 L1593.5,747.2 L1595.5,748.0 L1597.5,748.9 L1599.5,749.7 L1601.5,750.5 L1603.5,751.4 L1605.5,752.2 L1607.5,753.1 L1609.5,753.9 L1611.5,754.8 L1613.5,755.6 L1615.5,756.5 L1617.5,757.4 L1619.5,758.2 L1621.5,759.0 L1623.5,759.9 L1625.5,760.7 L1627.5,761.6 L1629.5,762.5 L1631.5,763.4 L1633.5,764.3 L1635.5,765.2 L1637.5,766.1 L1639.5,767.1 L1641.5,768.0 L1643.5,769.0 L1645.5,770.0 L1647.5,770.9 L1649.5,771.9 L1651.5,772.9 L1653.5,774.0 L1655.5,775.1 L1657.5,776.3 L1659.5,777.5 L1661.5,778.8 L1663.5,780.0 L1665.5,781.3 L1667.5,782.6 L1669.5,784.0 L1671.5,785.2 L1673.5,786.5 L1675.5,787.7 L1677.5,789.0 L1679.5,790.2 L1681.5,791.3 L1683.5,792.3 L1685.5,793.2 L1687.5,794.2 L1689.5,795.1 L1691.5,795.9 L1693.5,796.7 L1695.5,797.4 L1697.5,798.1 L1699.5,798.8 L1701.5,799.4 L1703.5,800.0 L1705.5,800.5 L1707.5,801.0 L1709.5,801.5 L1711.5,802.0 L1713.5,802.4 L1715.5,802.9 L1717.5,803.3 L1719.5,803.7 L1721.5,804.1 L1723.5,804.5 L1725.5,804.9 L1727.5,805.3 L1729.5,805.6 L1731.5,806.0 L1733.5,806.4 L1735.5,806.7 L1737.5,807.2 L1739.5,807.6 L1741.5,808.1 L1743.5,808.7 L1745.5,809.3 L1747.5,809.9 L1749.5,810.6 L1751.5,811.3 L1753.5,812.2 L1755.5,813.0 L1757.5,813.9 L1759.5,814.9 L1761.5,815.9 L1763.5,816.9 L1765.5,818.0 L1767.5,819.1 L1769.5,820.2 L1771.5,821.3 L1773.5,822.4 L1775.5,823.6 L1777.5,824.8 L1779.5,826.0 L1781.5,827.2 L1783.5,828.4 L1785.5,829.7 L1787.5,831.1 L1789.5,832.4 L1791.5,833.8 L1793.5,835.2 L1795.5,836.6 L1797.5,838.1 L1799.5,839.6 L1801.5,841.1 L1803.5,842.6 L1805.5,844.0 L1807.5,845.5 L1809.5,846.9 L1811.5,848.3 L1813.5,849.7 L1815.5,851.0 L1817.5,852.3 L1819.5,853.6 L1821.5,854.9 L1823.5,856.1 L1825.5,857.2 L1827.5,858.3 L1829.5,859.4 L1831.5,860.4 L1833.5,861.3 L1835.5,862.2 L1837.5,863.1 L1839.5,864.0 L1841.5,864.8 L1843.5,865.5 L1845.5,866.2 L1847.5,866.8 L1849.5,867.4 L1851.5,867.9 L1853.5,868.4 L1855.5,868.8 L1857.5,869.2 L1859.5,869.5 L1861.5,869.7 L1863.5,869.8 L1865.5,869.9 L1867.5,869.9 L1869.5,869.8 L1871.5,869.6 L1873.5,869.3 L1875.5,869.0 L1877.5,868.6 L1879.5,868.1 L1881.5,867.5 L1883.5,866.9 L1885.5,866.3 L1887.5,865.6 L1889.5,864.8 L1891.5,864.0 L1893.5,863.2 L1895.5,862.4 L1897.5,861.5 L1899.5,860.7 L1901.5,859.8 L1903.5,858.9 L1905.5,857.9 L1907.5,857.0 L1909.5,856.1 L1911.5,855.1 L1913.5,854.2 L1915.5,853.3 L1917.5,852.4 L1919.5,851.5 L1921.5,850.7 L1923.5,849.9 L1925.5,849.1 L1927.5,848.3 L1929.5,847.6 L1931.5,846.9 L1933.5,846.3 L1935.5,845.7 L1937.5,845.2 L1939.5,844.7 L1941.5,844.3 L1943.5,843.9 L1945.5,843.5 L1947.5,843.1 L1949.5,842.8 L1951.5,842.4 L1953.5,842.0 L1955.5,841.6 L1957.5,841.3 L1959.5,841.0 L1961.5,840.7 L1963.5,840.5 L1965.5,840.3 L1967.5,840.1 L1969.5,839.9 L1971.5,839.7 L1973.5,839.5 L1975.5,839.3 L1977.5,839.1 L1979.5,838.9 L1981.5,838.7 L1983.5,838.6 L1985.5,838.4 L1987.5,838.2 L1989.5,838.0 L1991.5,837.9 L1993.5,837.7 L1995.5,837.5 L1997.5,837.3 L1999.5,837.1 L2001.5,836.9 L2003.5,836.7 L2005.5,836.5 L2007.5,836.3 L2009.5,836.1 L2011.5,835.9 L2013.5,835.6 L2015.5,835.4 L2017.5,835.2 L2019.5,834.9 L2021.5,834.7 L2023.5,834.5 L2025.5,834.3 L2027.5,834.2 L2029.5,834.0 L2031.5,833.8 L2033.5,833.6 L2035.5,833.4 L2037.5,833.2" stroke="#006400" stroke-dasharray="37.16 16.07"/>
<path d="M245.5,1070.1 L247.5,1070.7 L249.5,1071.2 L251.5,1071.7 L253.5,1072.2 L255.5,1072.7 L257.5,1073.2 L259.5,1073.7 L261.5,1074.1 L263.5,1074.6 L265.5,1075.0 L267.5,1075.3 L269.5,1075.7 L271.5,1076.0 L273.5,1076.3 L275.5,1076.5 L277.5,1076.7 L279.5,1076.9 L281.5,1077.0 L283.5,1077.0 L285.5,1077.0 L287.5,1077.0 L289.5,1076.9 L291.5,1076.8 L293.5,1076.7 L295.5,1076.6 L297.5,1076.5 L299.5,1076.3 L301.5,1076.1 L303.5,1075.9 L305.5,1075.7 L307.5,1075.4 L309.5,1075.1 L311.5,1074.7 L313.5,1074.3 L315.5,1073.8 L317.5,1073.4 L319.5,1073.0 L321.5,1072.6 L323.5,1072.2 L325.5,1071.8 L327.5,1071.5 L329.5,1071.1 L331.5,1070.8 L333.5,1070.5 L335.5,1070.1 L337.5,1069.8 L339.5,1069.4 L341.5,1069.0 L343.5,1068.6 L345.5,1068.2 L347.5,1067.8 L349.5,1067.3 L351.5,1066.9 L353.5,1066.4 L355.5,1065.9 L357.5,1065.5 L359.5,1065.0 L361.5,1064.5 L363.5,1064.1 L365.5,1063.6 L367.5,1063.2 L369.5,1062.8 L371.5,1062.3 L373.5,1061.9 L375.5,1061.5 L377.5,1061.0 L379.5,1060.6 L381.5,1060.1 L383.5,1059.6 L385.5,1059.1 L387.5,1058.6 L389.5,1058.1 L391.5,1057.5 L393.5,1057.0 L395.5,1056.5 L397.5,1056.0 L399.5,1055.4 L401.5,1054.9 L403.5,1054.4 L405.5,1053.9 L407.5,1053.5 L409.5,1053.0 L411.5,1052.5 L413.5,1052.1 L415.5,1051.6 L417.5,1051.2 L419.5,1050.8 L421.5,1050.5 L423.5,1050.1 L425.5,1049.8 L427.5,1049.5 L429.5,1049.2 L431.5,1048.9 L433.5,1048.7 L435.5,1048.4 L437.5,1048.2 L439.5,1048.1 L441.5,1047.9 L443.5,1047.7 L445.5,1047.6 L447.5,1047.4 L449.5,1047.3 L451.5,1047.1 L453.5,1047.0 L455.5,1046.8 L457.5,1046.7 L459.5,1046.6 L461.5,1046.4 L463.5,1046.3 L465.5,1046.2 L467.5,1046.1 L469.5,1045.9 L471.5,1045.8 L473.5,1045.7 L475.5,1045.5 L477.5,1045.3 L479.5,1045.1 L481.5,1044.8 L483.5,1044.6 L485.5,1044.3 L487.5,1043.9 L489.5,1043.6 L491.5,1043.1 L493.5,1042.7 L495.5,1042.2 L497.5,1041.7 L499.5,1041.1 L501.5,1040.5 L503.5,1039.8 L505.5,1039.1 L507.5,1038.3 L509.5,1037.5 L511.5,1036.6 L513.5,1035.6 L515.5,1034.5 L517.5,1033.3 L519.5,1032.1 L521.5,1030.8 L523.5,1029.5 L525.5,1028.1 L527.5,1026.7 L529.5,1025.1 L531.5,1023.6 L533.5,1021.9 L535.5,1020.2 L537.5,1018.4 L539.5,1016.5 L541.5,1014.5 L543.5,1012.3 L545.5,1010.1 L547.5,1007.8 L549.5,1005.5 L551.5,1003.3 L553.5,1001.0 L555.5,998.7 L557.5,996.4 L559.5,994.1 L561.5,991.8 L563.5,989.4 L565.5,987.1 L567.5,984.8 L569.5,982.4 L571.5,980.1 L573.5,977.8 L575.5,975.5 L577.5,973.3 L579.5,971.1 L581.5,969.0 L583.5,967.0 L585.5,965.1 L587.5,963.2 L589.5,961.5 L591.5,959.8 L593.5,958.3 L595.5,956.9 L597.5,955.5 L599.5,954.3 L601.5,953.0 L603.5,951.8 L605.5,950.5 L607.5,949.2 L609.5,947.8 L611.5,946.4 L613.5,945.0 L615.5,943.6 L617.5,942.1 L619.5,940.7 L621.5,939.3 L623.5,937.9 L625.5,936.5 L627.5,935.2 L629.5,933.8 L631.5,932.5 L633.5,931.1 L635.5,929.8 L637.5,928.5 L639.5,927.3 L641.5,926.2 L643.5,925.1 L645.5,924.1 L647.5,923.1 L649.5,922.1 L651.5,921.1 L653.5,920.1 L655.5,919.1 L657.5,918.2 L659.5,917.2 L661.5,916.3 L663.5,915.4 L665.5,914.5 L667.5,913.5 L669.5,912.6 L671.5,911.6 L673.5,910.7 L675.5,909.7 L677.5,908.6 L679.5,907.5 L681.5,906.4 L683.5,905.2 L685.5,904.1 L687.5,902.9 L689.5,901.7 L691.5,900.4 L693.5,899.1 L695.5,897.8 L697.5,896.4 L699.5,894.9 L701.5,893.4 L703.5,891.8 L705.5,890.1 L707.5,888.4 L709.5,886.7 L711.5,884.9 L713.5,883.2 L715.5,881.5 L717.5,879.7 L719.5,877.9 L721.5,876.1 L723.5,874.2 L725.5,872.3 L727.5,870.4 L729.5,868.5 L731.5,866.6 L733.5,864.7 L735.5,862.9 L737.5,861.1 L739.5,859.4 L741.5,857.7 L743.5,856.2 L745.5,854.7 L747.5,853.3 L749.5,851.9 L751.5,850.7 L753.5,849.5 L755.5,848.4 L757.5,847.4 L759.5,846.5 L761.5,845.8 L763.5,845.0 L765.5,844.4 L767.5,843.8 L769.5,843.3 L771.5,842.8 L773.5,842.5 L775.5,842.2 L777.5,841.9 L779.5,841.7 L781.5,841.5 L783.5,841.4 L785.5,841.2 L787.5,841.0 L789.5,840.9 L791.5,840.7 L793.5,840.5 L795.5,840.2 L797.5,840.0 L799.5,839.7 L801.5,839.4 L803.5,839.0 L805.5,838.5 L807.5,838.0 L809.5,837.4 L811.5,836.7 L813.5,836.0 L815.5,835.2 L817.5,834.3 L819.5,833.3 L821.5,832.1 L823.5,831.0 L825.5,829.7 L827.5,828.4 L829.5,827.1 L831.5,825.8 L833.5,824.5 L835.5,823.2 L837.5,821.9 L839.5,820.6 L841.5,819.3 L843.5,818.1 L845.5,816.9 L847.5,815.7 L849.5,814.6 L851.5,813.5 L853.5,812.5 L855.5,811.6 L857.5,810.7 L859.5,809.9 L861.5,809.2 L863.5,808.5 L865.5,807.8 L867.5,807.3 L869.5,806.7 L871.5,806.2 L873.5,805.8 L875.5,805.4 L877.5,805.0 L879.5,804.6 L881.5,804.3 L883.5,804.0 L885.5,803.7 L887.5,803.4 L889.5,803.2 L891.5,802.9 L893.5,802.6 L895.5,802.4 L897.5,802.2 L899.5,801.9 L901.5,801.7 L903.5,801.5 L905.5,801.3 L907.5,801.1 L909.5,800.9 L911.5,800.6 L913.5,800.2 L915.5,799.9 L917.5,799.6 L919.5,799.3 L921.5,799.0 L923.5,798.8 L925.5,798.5 L927.5,798.3 L929.5,798.1 L931.5,797.9 L933.5,797.7 L935.5,797.5 L937.5,797.4 L939.5,797.3 L941.5,797.3 L943.5,797.3 L945.5,797.2 L947.5,797.2 L949.5,797.2 L951.5,797.3 L953.5,797.3 L955.5,797.3 L957.5,797.4 L959.5,797.5 L961.5,797.6 L963.5,797.6 L965.5,797.6 L967.5,797.7 L969.5,797.7 L971.5,797.7 L973.5,797.7 L975.5,797.6 L977.5,797.6 L979.5,797.5 L981.5,797.4 L983.5,797.2 L985.5,796.9 L987.5,796.6 L989.5,796.3 L991.5,795.8 L993.5,795.4 L995.5,794.9 L997.5,794.3 L999.5,793.8 L1001.5,793.2 L1003.5,792.7 L1005.5,792.1 L1007.5,791.5 L1009.5,790.9 L1011.5,790.3 L1013.5,789.7 L1015.5,789.1 L1017.5,788.5 L1019.5,787.9 L1021.5,787.3 L1023.5,786.7 L1025.5,786.2 L1027.5,785.6 L1029.5,785.1 L1031.5,784.5 L1033.5,784.0 L1035.5,783.5 L1037.5,783.1 L1039.5,782.6 L1041.5,782.2 L1043.5,781.8 L1045.5,781.4 L1047.5,781.1 L1049.5,780.8 L1051.5,780.5 L1053.5,780.2 L1055.5,779.9 L1057.5,779.6 L1059.5,779.3 L1061.5,779.1 L1063.5,778.8 L1065.5,778.6 L1067.5,778.4 L1069.5,778.2 L1071.5,778.0 L1073.5,777.8 L1075.5,777.7 L1077.5,777.6 L1079.5,777.5 L1081.5,777.4 L1083.5,777.4 L1085.5,777.4 L1087.5,777.4 L1089.5,777.5 L1091.5,777.7 L1093.5,777.9 L1095.5,778.2 L1097.5,778.4 L1099.5,778.7 L1101.5,779.1 L1103.5,779.5 L1105.5,779.9 L1107.5,780.4 L1109.5,780.8 L1111.5,781.3 L1113.5,781.8 L1115.5,782.3 L1117.5,782.7 L1119.5,783.0 L1121.5,783.4 L1123.5,783.7 L1125.5,784.1 L1127.5,784.4 L1129.5,784.7 L1131.5,785.0 L1133.5,785.3 L1135.5,785.5 L1137.5,785.7 L1139.5,785.9 L1141.5,786.0 L1143.5,786.1 L1145.5,786.1 L1147.5,786.2 L1149.5,786.2 L1151.5,786.1 L1153.5,786.1 L1155.5,785.9 L1157.5,785.8 L1159.5,785.5 L1161.5,785.3 L1163.5,784.9 L1165.5,784.6 L1167.5,784.2 L1169.5,783.7 L1171.5,783.3 L1173.5,782.8 L1175.5,782.4 L1177.5,781.9 L1179.5,781.4 L1181.5,780.9 L1183.5,780.4 L1185.5,779.9 L1187.5,779.5 L1189.5,779.0 L1191.5,778.5 L1193.5,778.1 L1195.5,777.6 L1197.5,777.3 L1199.5,776.9 L1201.5,776.6 L1203.5,776.3 L1205.5,776.0 L1207.5,775.8 L1209.5,775.6 L1211.5,775.4 L1213.5,775.3 L1215.5,775.1 L1217.5,775.0 L1219.5,775.0 L1221.5,774.9 L1223.5,774.9 L1225.5,775.0 L1227.5,775.1 L1229.5,775.3 L1231.5,775.5 L1233.5,775.9 L1235.5,776.3 L1237.5,776.8 L1239.5,777.3 L1241.5,778.0 L1243.5,778.6 L1245.5,779.4 L1247.5,780.2 L1249.5,781.1 L1251.5,782.1 L1253.5,783.1 L1255.5,784.2 L1257.5,785.4 L1259.5,786.6 L1261.5,787.9 L1263.5,789.3 L1265.5,790.7 L1267.5,792.2 L1269.5,793.7 L1271.5,795.3 L1273.5,796.8 L1275.5,798.4 L1277.5,800.0 L1279.5,801.6 L1281.5,803.2 L1283.5,804.8 L1285.5,806.4 L1287.5,808.0 L1289.5,809.5 L1291.5,811.1 L1293.5,812.7 L1295.5,814.2 L1297.5,815.8 L1299.5,817.5 L1301.5,819.1 L1303.5,820.7 L1305.5,822.3 L1307.5,823.9 L1309.5,825.4 L1311.5,826.8 L1313.5,828.2 L1315.5,829.5 L1317.5,830.6 L1319.5,831.7 L1321.5,832.6 L1323.5,833.5 L1325.5,834.2 L1327.5,834.9 L1329.5,835.5 L1331.5,836.0 L1333.5,836.4 L1335.5,836.8 L1337.5,837.0 L1339.5,837.2 L1341.5,837.3 L1343.5,837.2 L1345.5,837.1 L1347.5,836.9 L1349.5,836.6 L1351.5,836.3 L1353.5,835.9 L1355.5,835.4 L1357.5,834.8 L1359.5,834.2 L1361.5,833.5 L1363.5,832.7 L1365.5,831.9 L1367.5,831.0 L1369.5,830.1 L1371.5,829.1 L1373.5,828.2 L1375.5,827.2 L1377.5,826.1 L1379.5,825.1 L1381.5,824.2 L1383.5,823.2 L1385.5,822.3 L1387.5,821.4 L1389.5,820.6 L1391.5,819.9 L1393.5,819.2 L1395.5,818.5 L1397.5,818.0 L1399.5,817.4 L1401.5,817.0 L1403.5,816.7 L1405.5,816.5 L1407.5,816.4 L1409.5,816.5 L1411.5,816.6 L1413.5,816.9 L1415.5,817.2 L1417.5,817.7 L1419.5,818.4 L1421.5,819.2 L1423.5,820.1 L1425.5,821.2 L1427.5,822.5 L1429.5,823.8 L1431.5,825.3 L1433.5,826.9 L1435.5,828.5 L1437.5,830.1 L1439.5,831.8 L1441.5,833.4 L1443.5,835.0 L1445.5,836.5 L1447.5,838.1 L1449.5,839.6 L1451.5,841.1 L1453.5,842.5 L1455.5,843.8 L1457.5,845.1 L1459.5,846.3 L1461.5,847.4 L1463.5,848.3 L1465.5,849.2 L1467.5,850.0 L1469.5,850.7 L1471.5,851.3 L1473.5,851.8 L1475.5,852.2 L1477.5,852.5 L1479.5,852.7 L1481.5,852.8 L1483.5,852.8 L1485.5,852.7 L1487.5,852.5 L1489.5,852.2 L1491.5,851.8 L1493.5,851.3 L1495.5,850.8 L1497.5,850.2 L1499.5,849.6 L1501.5,849.0 L1503.5,848.3 L1505.5,847.7 L1507.5,847.0 L1509.5,846.3 L1511.5,845.6 L1513.5,844.9 L1515.5,844.3 L1517.5,843.6 L1519.5,842.9 L1521.5,842.3 L1523.5,841.7 L1525.5,841.1 L1527.5,840.6 L1529.5,840.1 L1531.5,839.5 L1533.5,839.0 L1535.5,838.5 L1537.5,838.1 L1539.5,837.7 L1541.5,837.3 L1543.5,837.0 L1545.5,836.7 L1547.5,836.5 L1549.5,836.3 L1551.5,836.1 L1553.5,836.0 L1555.5,835.9 L1557.5,835.9 L1559.5,836.0 L1561.5,836.1 L1563.5,836.3 L1565.5,836.5 L1567.5,836.8 L1569.5,837.2 L1571.5,837.6 L1573.5,838.1 L1575.5,838.6 L1577.5,839.2 L1579.5,839.8 L1581.5,840.5 L1583.5,841.1 L1585.5,841.8 L1587.5,842.5 L1589.5,843.2 L1591.5,843.9 L1593.5,844.6 L1595.5,845.4 L1597.5,846.1 L1599.5,846.8 L1601.5,847.5 L1603.5,848.2 L1605.5,848.9 L1607.5,849.7 L1609.5,850.4 L1611.5,851.1 L1613.5,851.9 L1615.5,852.6 L1617.5,853.3 L1619.5,854.0 L1621.5,854.7 L1623.5,855.4 L1625.5,856.1 L1627.5,856.8 L1629.5,857.6 L1631.5,858.3 L1633.5,859.1 L1635.5,859.8 L1637.5,860.6 L1639.5,861.4 L1641.5,862.1 L1643.5,862.9 L1645.5,863.7 L1647.5,864.5 L1649.5,865.3 L1651.5,866.1 L1653.5,866.9 L1655.5,867.9 L1657.5,868.8 L1659.5,869.9 L1661.5,870.9 L1663.5,872.0 L1665.5,873.1 L1667.5,874.2 L1669.5,875.3 L1671.5,876.5 L1673.5,877.5 L1675.5,878.6 L1677.5,879.7 L1679.5,880.8 L1681.5,881.7 L1683.5,882.6 L1685.5,883.4 L1687.5,884.3 L1689.5,885.1 L1691.5,885.8 L1693.5,886.5 L1695.5,887.2 L1697.5,887.8 L1699.5,888.5 L1701.5,889.0 L1703.5,889.6 L1705.5,890.2 L1707.5,890.7 L1709.5,891.2 L1711.5,891.7 L1713.5,892.1 L1715.5,892.6 L1717.5,893.0 L1719.5,893.5 L1721.5,893.9 L1723.5,894.3 L1725.5,894.7 L1727.5,895.1 L1729.5,895.5 L1731.5,895.8 L1733.5,896.2 L1735.5,896.6 L1737.5,897.0 L1739.5,897.4 L1741.5,897.9 L1743.5,898.4 L1745.5,898.9 L1747.5,899.5 L1749.5,900.1 L1751.5,900.7 L1753.5,901.4 L1755.5,902.2 L1757.5,903.0 L1759.5,903.8 L1761.5,904.6 L1763.5,905.5 L1765.5,906.4 L1767.5,907.3 L1769.5,908.2 L1771.5,909.2 L1773.5,910.1 L1775.5,911.0 L1777.5,912.0 L1779.5,912.9 L1781.5,913.9 L1783.5,914.9 L1785.5,916.0 L1787.5,917.0 L1789.5,918.1 L1791.5,919.2 L1793.5,920.3 L1795.5,921.5 L1797.5,922.6 L1799.5,923.8 L1801.5,925.0 L1803.5,926.2 L1805.5,927.3 L1807.5,928.4 L1809.5,929.5 L1811.5,930.6 L1813.5,931.6 L1815.5,932.7 L1817.5,933.7 L1819.5,934.6 L1821.5,935.6 L1823.5,936.5 L1825.5,937.3 L1827.5,938.1 L1829.5,938.9 L1831.5,939.6 L1833.5,940.2 L1835.5,940.9 L1837.5,941.5 L1839.5,942.1 L1841.5,942.7 L1843.5,943.2 L1845.5,943.6 L1847.5,944.0 L1849.5,944.4 L1851.5,944.7 L1853.5,945.0 L1855.5,945.2 L1857.5,945.4 L1859.5,945.6 L1861.5,945.6 L1863.5,945.6 L1865.5,945.6 L1867.5,945.4 L1869.5,945.2 L1871.5,945.0 L1873.5,944.6 L1875.5,944.2 L1877.5,943.8 L1879.5,943.3 L1881.5,942.7 L1883.5,942.1 L1885.5,941.4 L1887.5,940.7 L1889.5,940.0 L1891.5,939.2 L1893.5,938.5 L1895.5,937.7 L1897.5,936.9 L1899.5,936.0 L1901.5,935.2 L1903.5,934.4 L1905.5,933.5 L1907.5,932.6 L1909.5,931.8 L1911.5,930.9 L1913.5,930.0 L1915.5,929.2 L1917.5,928.4 L1919.5,927.6 L1921.5,926.8 L1923.5,926.1 L1925.5,925.3 L1927.5,924.6 L1929.5,923.9 L1931.5,923.3 L1933.5,922.7 L1935.5,922.2 L1937.5,921.7 L1939.5,921.2 L1941.5,920.8 L1943.5,920.4 L1945.5,920.1 L1947.5,919.8 L1949.5,919.4 L1951.5,919.1 L1953.5,918.7 L1955.5,918.3 L1957.5,918.0 L1959.5,917.7 L1961.5,917.5 L1963.5,917.2 L1965.5,917.0 L1967.5,916.8 L1969.5,916.6 L1971.5,916.4 L1973.5,916.2 L1975.5,916.0 L1977.5,915.8 L1979.5,915.6 L1981.5,915.5 L1983.5,915.3 L1985.5,915.2 L1987.5,915.0 L1989.5,914.8 L1991.5,914.6 L1993.5,914.5 L1995.5,914.3 L1997.5,914.1 L1999.5,913.9 L2001.5,913.8 L2003.5,913.6 L2005.5,913.4 L2007.5,913.2 L2009.5,912.9 L2011.5,912.7 L2013.5,912.5 L2015.5,912.3 L2017.5,912.1 L2019.5,911.8 L2021.5,911.6 L2023.5,911.5 L2025.5,911.3 L2027.5,911.1 L2029.5,910.9 L2031.5,910.8 L2033.5,910.6 L2035.5,910.4 L2037.5,910.2" stroke="#006400" stroke-dasharray="37.16 16.07"/>
<path d="M245.5,1101.3 L247.5,1101.9 L249.5,1102.5 L251.5,1103.1 L253.5,1103.7 L255.5,1104.3 L257.5,1104.9 L259.5,1105.5 L261.5,1106.1 L263.5,1106.6 L265.5,1107.2 L267.5,1107.7 L269.5,1108.1 L271.5,1108.6 L273.5,1109.0 L275.5,1109.4 L277.5,1109.7 L279.5,1110.0 L281.5,1110.3 L283.5,1110.5 L285.5,1110.7 L287.5,1110.8 L289.5,1110.9 L291.5,1111.0 L293.5,1111.1 L295.5,1111.2 L297.5,1111.2 L299.5,1111.3 L301.5,1111.3 L303.5,1111.3 L305.5,1111.3 L307.5,1111.2 L309.5,1111.1 L311.5,1110.9 L313.5,1110.7 L315.5,1110.5 L317.5,1110.3 L319.5,1110.0 L321.5,1109.8 L323.5,1109.6 L325.5,1109.5 L327.5,1109.3 L329.5,1109.2 L331.5,1109.0 L333.5,1108.9 L335.5,1108.7 L337.5,1108.5 L339.5,1108.3 L341.5,1108.1 L343.5,1107.9 L345.5,1107.6 L347.5,1107.4 L349.5,1107.1 L351.5,1106.8 L353.5,1106.4 L355.5,1106.1 L357.5,1105.8 L359.5,1105.5 L361.5,1105.1 L363.5,1104.8 L365.5,1104.5 L367.5,1104.2 L369.5,1103.9 L371.5,1103.5 L373.5,1103.2 L375.5,1102.9 L377.5,1102.6 L379.5,1102.2 L381.5,1101.8 L383.5,1101.5 L385.5,1101.1 L387.5,1100.6 L389.5,1100.2 L391.5,1099.8 L393.5,1099.3 L395.5,1098.8 L397.5,1098.4 L399.5,1097.9 L401.5,1097.5 L403.5,1097.1 L405.5,1096.6 L407.5,1096.2 L409.5,1095.7 L411.5,1095.3 L413.5,1094.9 L415.5,1094.5 L417.5,1094.1 L419.5,1093.8 L421.5,1093.4 L423.5,1093.1 L425.5,1092.8 L427.5,1092.5 L429.5,1092.2 L431.5,1091.9 L433.5,1091.7 L435.5,1091.4 L437.5,1091.2 L439.5,1091.0 L441.5,1090.9 L443.5,1090.7 L445.5,1090.5 L447.5,1090.4 L449.5,1090.2 L451.5,1090.1 L453.5,1089.9 L455.5,1089.8 L457.5,1089.6 L459.5,1089.5 L461.5,1089.4 L463.5,1089.3 L465.5,1089.2 L467.5,1089.1 L469.5,1089.0 L471.5,1088.9 L473.5,1088.7 L475.5,1088.6 L477.5,1088.5 L479.5,1088.3 L481.5,1088.1 L483.5,1088.0 L485.5,1087.7 L487.5,1087.5 L489.5,1087.2 L491.5,1086.9 L493.5,1086.5 L495.5,1086.2 L497.5,1085.8 L499.5,1085.3 L501.5,1084.9 L503.5,1084.4 L505.5,1083.8 L507.5,1083.2 L509.5,1082.6 L511.5,1081.8 L513.5,1081.0 L515.5,1080.2 L517.5,1079.3 L519.5,1078.3 L521.5,1077.3 L523.5,1076.2 L525.5,1075.1 L527.5,1073.9 L529.5,1072.7 L531.5,1071.4 L533.5,1070.1 L535.5,1068.6 L537.5,1067.1 L539.5,1065.5 L541.5,1063.8 L543.5,1061.9 L545.5,1060.0 L547.5,1058.1 L549.5,1056.1 L551.5,1054.1 L553.5,1052.1 L555.5,1050.1 L557.5,1048.1 L559.5,1046.0 L561.5,1044.0 L563.5,1041.9 L565.5,1039.9 L567.5,1037.8 L569.5,1035.7 L571.5,1033.7 L573.5,1031.7 L575.5,1029.6 L577.5,1027.7 L579.5,1025.8 L581.5,1023.9 L583.5,1022.1 L585.5,1020.4 L587.5,1018.8 L589.5,1017.3 L591.5,1015.9 L593.5,1014.5 L595.5,1013.3 L597.5,1012.2 L599.5,1011.2 L601.5,1010.1 L603.5,1009.1 L605.5,1008.1 L607.5,1007.0 L609.5,1005.8 L611.5,1004.7 L613.5,1003.6 L615.5,1002.4 L617.5,1001.3 L619.5,1000.1 L621.5,999.0 L623.5,997.9 L625.5,996.8 L627.5,995.7 L629.5,994.6 L631.5,993.5 L633.5,992.4 L635.5,991.4 L637.5,990.4 L639.5,989.4 L641.5,988.5 L643.5,987.7 L645.5,986.9 L647.5,986.2 L649.5,985.4 L651.5,984.7 L653.5,984.0 L655.5,983.2 L657.5,982.5 L659.5,981.8 L661.5,981.1 L663.5,980.5 L665.5,979.8 L667.5,979.1 L669.5,978.4 L671.5,977.7 L673.5,976.9 L675.5,976.2 L677.5,975.4 L679.5,974.5 L681.5,973.6 L683.5,972.7 L685.5,971.8 L687.5,970.8 L689.5,969.9 L691.5,968.9 L693.5,967.8 L695.5,966.7 L697.5,965.5 L699.5,964.3 L701.5,963.0 L703.5,961.7 L705.5,960.3 L707.5,958.9 L709.5,957.4 L711.5,955.9 L713.5,954.5 L715.5,953.0 L717.5,951.5 L719.5,950.0 L721.5,948.4 L723.5,946.8 L725.5,945.2 L727.5,943.5 L729.5,941.9 L731.5,940.2 L733.5,938.6 L735.5,937.0 L737.5,935.4 L739.5,933.9 L741.5,932.5 L743.5,931.2 L745.5,929.9 L747.5,928.7 L749.5,927.5 L751.5,926.4 L753.5,925.4 L755.5,924.5 L757.5,923.7 L759.5,922.9 L761.5,922.3 L763.5,921.7 L765.5,921.2 L767.5,920.7 L769.5,920.3 L771.5,919.9 L773.5,919.6 L775.5,919.4 L777.5,919.2 L779.5,919.1 L781.5,919.0 L783.5,918.9 L785.5,918.8 L787.5,918.7 L789.5,918.6 L791.5,918.4 L793.5,918.3 L795.5,918.1 L797.5,918.0 L799.5,917.7 L801.5,917.5 L803.5,917.2 L805.5,916.8 L807.5,916.3 L809.5,915.8 L811.5,915.3 L813.5,914.6 L815.5,913.9 L817.5,913.2 L819.5,912.3 L821.5,911.3 L823.5,910.3 L825.5,909.2 L827.5,908.0 L829.5,906.9 L831.5,905.8 L833.5,904.6 L835.5,903.5 L837.5,902.4 L839.5,901.2 L841.5,900.1 L843.5,899.0 L845.5,898.0 L847.5,897.0 L849.5,896.0 L851.5,895.1 L853.5,894.2 L855.5,893.5 L857.5,892.7 L859.5,892.0 L861.5,891.4 L863.5,890.8 L865.5,890.3 L867.5,889.8 L869.5,889.3 L871.5,888.9 L873.5,888.5 L875.5,888.1 L877.5,887.8 L879.5,887.5 L881.5,887.2 L883.5,887.0 L885.5,886.7 L887.5,886.5 L889.5,886.3 L891.5,886.1 L893.5,885.9 L895.5,885.7 L897.5,885.5 L899.5,885.3 L901.5,885.1 L903.5,885.0 L905.5,884.8 L907.5,884.7 L909.5,884.4 L911.5,884.2 L913.5,883.9 L915.5,883.7 L917.5,883.4 L919.5,883.1 L921.5,882.9 L923.5,882.7 L925.5,882.5 L927.5,882.3 L929.5,882.1 L931.5,882.0 L933.5,881.8 L935.5,881.7 L937.5,881.6 L939.5,881.6 L941.5,881.5 L943.5,881.5 L945.5,881.5 L947.5,881.6 L949.5,881.6 L951.5,881.6 L953.5,881.7 L955.5,881.7 L957.5,881.8 L959.5,881.9 L961.5,882.0 L963.5,882.1 L965.5,882.1 L967.5,882.1 L969.5,882.2 L971.5,882.2 L973.5,882.3 L975.5,882.3 L977.5,882.3 L979.5,882.3 L981.5,882.2 L983.5,882.1 L985.5,881.9 L987.5,881.7 L989.5,881.4 L991.5,881.1 L993.5,880.8 L995.5,880.4 L997.5,880.1 L999.5,879.7 L1001.5,879.3 L1003.5,878.9 L1005.5,878.5 L1007.5,878.1 L1009.5,877.7 L1011.5,877.3 L1013.5,876.9 L1015.5,876.6 L1017.5,876.2 L1019.5,875.8 L1021.5,875.5 L1023.5,875.1 L1025.5,874.8 L1027.5,874.5 L1029.5,874.1 L1031.5,873.8 L1033.5,873.5 L1035.5,873.1 L1037.5,872.9 L1039.5,872.6 L1041.5,872.3 L1043.5,872.0 L1045.5,871.8 L1047.5,871.6 L1049.5,871.3 L1051.5,871.1 L1053.5,870.8 L1055.5,870.6 L1057.5,870.3 L1059.5,870.1 L1061.5,869.8 L1063.5,869.5 L1065.5,869.3 L1067.5,869.0 L1069.5,868.8 L1071.5,868.6 L1073.5,868.4 L1075.5,868.2 L1077.5,868.0 L1079.5,867.8 L1081.5,867.7 L1083.5,867.6 L1085.5,867.5 L1087.5,867.4 L1089.5,867.5 L1091.5,867.5 L1093.5,867.6 L1095.5,867.8 L1097.5,867.9 L1099.5,868.2 L1101.5,868.4 L1103.5,868.7 L1105.5,869.0 L1107.5,869.3 L1109.5,869.7 L1111.5,870.1 L1113.5,870.5 L1115.5,870.8 L1117.5,871.2 L1119.5,871.4 L1121.5,871.7 L1123.5,871.9 L1125.5,872.2 L1127.5,872.4 L1129.5,872.7 L1131.5,872.9 L1133.5,873.1 L1135.5,873.3 L1137.5,873.4 L1139.5,873.5 L1141.5,873.5 L1143.5,873.6 L1145.5,873.6 L1147.5,873.6 L1149.5,873.5 L1151.5,873.5 L1153.5,873.4 L1155.5,873.2 L1157.5,873.0 L1159.5,872.7 L1161.5,872.5 L1163.5,872.1 L1165.5,871.7 L1167.5,871.3 L1169.5,870.9 L1171.5,870.5 L1173.5,870.0 L1175.5,869.6 L1177.5,869.1 L1179.5,868.7 L1181.5,868.2 L1183.5,867.8 L1185.5,867.3 L1187.5,866.9 L1189.5,866.5 L1191.5,866.1 L1193.5,865.7 L1195.5,865.3 L1197.5,865.0 L1199.5,864.7 L1201.5,864.5 L1203.5,864.3 L1205.5,864.1 L1207.5,863.9 L1209.5,863.7 L1211.5,863.6 L1213.5,863.5 L1215.5,863.4 L1217.5,863.4 L1219.5,863.3 L1221.5,863.3 L1223.5,863.4 L1225.5,863.4 L1227.5,863.6 L1229.5,863.7 L1231.5,864.0 L1233.5,864.3 L1235.5,864.7 L1237.5,865.1 L1239.5,865.6 L1241.5,866.2 L1243.5,866.8 L1245.5,867.4 L1247.5,868.1 L1249.5,868.9 L1251.5,869.7 L1253.5,870.6 L1255.5,871.5 L1257.5,872.5 L1259.5,873.5 L1261.5,874.6 L1263.5,875.8 L1265.5,876.9 L1267.5,878.1 L1269.5,879.4 L1271.5,880.6 L1273.5,881.9 L1275.5,883.2 L1277.5,884.5 L1279.5,885.8 L1281.5,887.1 L1283.5,888.3 L1285.5,889.6 L1287.5,890.8 L1289.5,892.1 L1291.5,893.3 L1293.5,894.6 L1295.5,895.9 L1297.5,897.2 L1299.5,898.5 L1301.5,899.9 L1303.5,901.2 L1305.5,902.6 L1307.5,903.9 L1309.5,905.2 L1311.5,906.4 L1313.5,907.6 L1315.5,908.7 L1317.5,909.6 L1319.5,910.5 L1321.5,911.2 L1323.5,912.0 L1325.5,912.6 L1327.5,913.1 L1329.5,913.6 L1331.5,914.0 L1333.5,914.3 L1335.5,914.6 L1337.5,914.8 L1339.5,914.9 L1341.5,914.9 L1343.5,914.8 L1345.5,914.7 L1347.5,914.5 L1349.5,914.2 L1351.5,913.9 L1353.5,913.6 L1355.5,913.1 L1357.5,912.6 L1359.5,912.1 L1361.5,911.5 L1363.5,910.8 L1365.5,910.1 L1367.5,909.4 L1369.5,908.6 L1371.5,907.8 L1373.5,906.9 L1375.5,906.0 L1377.5,905.2 L1379.5,904.3 L1381.5,903.5 L1383.5,902.6 L1385.5,901.8 L1387.5,901.1 L1389.5,900.4 L1391.5,899.7 L1393.5,899.1 L1395.5,898.5 L1397.5,898.0 L1399.5,897.5 L1401.5,897.2 L1403.5,896.9 L1405.5,896.7 L1407.5,896.6 L1409.5,896.6 L1411.5,896.7 L1413.5,896.9 L1415.5,897.2 L1417.5,897.6 L1419.5,898.1 L1421.5,898.8 L1423.5,899.6 L1425.5,900.6 L1427.5,901.7 L1429.5,902.8 L1431.5,904.1 L1433.5,905.5 L1435.5,906.9 L1437.5,908.4 L1439.5,909.8 L1441.5,911.2 L1443.5,912.6 L1445.5,913.9 L1447.5,915.3 L1449.5,916.6 L1451.5,917.9 L1453.5,919.2 L1455.5,920.4 L1457.5,921.5 L1459.5,922.5 L1461.5,923.5 L1463.5,924.4 L1465.5,925.2 L1467.5,925.9 L1469.5,926.5 L1471.5,927.0 L1473.5,927.5 L1475.5,927.9 L1477.5,928.2 L1479.5,928.4 L1481.5,928.5 L1483.5,928.6 L1485.5,928.5 L1487.5,928.4 L1489.5,928.2 L1491.5,927.9 L1493.5,927.5 L1495.5,927.1 L1497.5,926.7 L1499.5,926.2 L1501.5,925.7 L1503.5,925.2 L1505.5,924.7 L1507.5,924.1 L1509.5,923.6 L1511.5,923.1 L1513.5,922.5 L1515.5,921.9 L1517.5,921.4 L1519.5,920.9 L1521.5,920.4 L1523.5,919.9 L1525.5,919.5 L1527.5,919.0 L1529.5,918.6 L1531.5,918.2 L1533.5,917.8 L1535.5,917.4 L1537.5,917.0 L1539.5,916.6 L1541.5,916.3 L1543.5,916.0 L1545.5,915.8 L1547.5,915.6 L1549.5,915.4 L1551.5,915.2 L1553.5,915.1 L1555.5,915.1 L1557.5,915.0 L1559.5,915.1 L1561.5,915.1 L1563.5,915.3 L1565.5,915.5 L1567.5,915.7 L1569.5,916.0 L1571.5,916.4 L1573.5,916.8 L1575.5,917.2 L1577.5,917.7 L1579.5,918.2 L1581.5,918.7 L1583.5,919.3 L1585.5,919.9 L1587.5,920.5 L1589.5,921.1 L1591.5,921.7 L1593.5,922.3 L1595.5,922.9 L1597.5,923.5 L1599.5,924.1 L1601.5,924.8 L1603.5,925.4 L1605.5,926.0 L1607.5,926.6 L1609.5,927.3 L1611.5,927.9 L1613.5,928.6 L1615.5,929.2 L1617.5,929.9 L1619.5,930.5 L1621.5,931.1 L1623.5,931.8 L1625.5,932.4 L1627.5,933.0 L1629.5,933.7 L1631.5,934.3 L1633.5,935.0 L1635.5,935.7 L1637.5,936.4 L1639.5,937.0 L1641.5,937.7 L1643.5,938.4 L1645.5,939.1 L1647.5,939.7 L1649.5,940.4 L1651.5,941.2 L1653.5,941.9 L1655.5,942.7 L1657.5,943.6 L1659.5,944.5 L1661.5,945.4 L1663.5,946.3 L1665.5,947.3 L1667.5,948.3 L1669.5,949.3 L1671.5,950.3 L1673.5,951.2 L1675.5,952.1 L1677.5,953.1 L1679.5,954.0 L1681.5,954.8 L1683.5,955.5 L1685.5,956.3 L1687.5,957.0 L1689.5,957.6 L1691.5,958.3 L1693.5,958.8 L1695.5,959.4 L1697.5,959.9 L1699.5,960.4 L1701.5,960.9 L1703.5,961.3 L1705.5,961.8 L1707.5,962.2 L1709.5,962.6 L1711.5,963.0 L1713.5,963.3 L1715.5,963.7 L1717.5,964.1 L1719.5,964.4 L1721.5,964.8 L1723.5,965.1 L1725.5,965.4 L1727.5,965.7 L1729.5,966.0 L1731.5,966.3 L1733.5,966.5 L1735.5,966.8 L1737.5,967.1 L1739.5,967.4 L1741.5,967.8 L1743.5,968.2 L1745.5,968.6 L1747.5,969.0 L1749.5,969.5 L1751.5,970.0 L1753.5,970.6 L1755.5,971.2 L1757.5,971.9 L1759.5,972.5 L1761.5,973.2 L1763.5,974.0 L1765.5,974.7 L1767.5,975.5 L1769.5,976.2 L1771.5,977.0 L1773.5,977.7 L1775.5,978.5 L1777.5,979.3 L1779.5,980.1 L1781.5,980.9 L1783.5,981.7 L1785.5,982.6 L1787.5,983.5 L1789.5,984.3 L1791.5,985.3 L1793.5,986.2 L1795.5,987.1 L1797.5,988.1 L1799.5,989.0 L1801.5,990.0 L1803.5,991.0 L1805.5,991.9 L1807.5,992.8 L1809.5,993.7 L1811.5,994.6 L1813.5,995.4 L1815.5,996.2 L1817.5,997.0 L1819.5,997.8 L1821.5,998.6 L1823.5,999.3 L1825.5,1000.0 L1827.5,1000.6 L1829.5,1001.2 L1831.5,1001.8 L1833.5,1002.4 L1835.5,1002.9 L1837.5,1003.4 L1839.5,1003.9 L1841.5,1004.3 L1843.5,1004.7 L1845.5,1005.1 L1847.5,1005.5 L1849.5,1005.8 L1851.5,1006.1 L1853.5,1006.3 L1855.5,1006.6 L1857.5,1006.7 L1859.5,1006.9 L1861.5,1006.9 L1863.5,1007.0 L1865.5,1006.9 L1867.5,1006.8 L1869.5,1006.7 L1871.5,1006.5 L1873.5,1006.2 L1875.5,1005.9 L1877.5,1005.5 L1879.5,1005.1 L1881.5,1004.6 L1883.5,1004.1 L1885.5,1003.5 L1887.5,1002.9 L1889.5,1002.3 L1891.5,1001.6 L1893.5,1001.0 L1895.5,1000.3 L1897.5,999.6 L1899.5,998.9 L1901.5,998.1 L1903.5,997.4 L1905.5,996.6 L1907.5,995.8 L1909.5,995.1 L1911.5,994.3 L1913.5,993.5 L1915.5,992.7 L1917.5,992.0 L1919.5,991.2 L1921.5,990.5 L1923.5,989.8 L1925.5,989.1 L1927.5,988.4 L1929.5,987.8 L1931.5,987.1 L1933.5,986.6 L1935.5,986.0 L1937.5,985.5 L1939.5,985.1 L1941.5,984.7 L1943.5,984.3 L1945.5,983.9 L1947.5,983.6 L1949.5,983.2 L1951.5,982.8 L1953.5,982.4 L1955.5,982.0 L1957.5,981.6 L1959.5,981.3 L1961.5,981.0 L1963.5,980.7 L1965.5,980.4 L1967.5,980.2 L1969.5,979.9 L1971.5,979.6 L1973.5,979.4 L1975.5,979.1 L1977.5,978.8 L1979.5,978.6 L1981.5,978.4 L1983.5,978.2 L1985.5,978.0 L1987.5,977.7 L1989.5,977.5 L1991.5,977.3 L1993.5,977.1 L1995.5,976.9 L1997.5,976.7 L1999.5,976.5 L2001.5,976.3 L2003.5,976.0 L2005.5,975.8 L2007.5,975.6 L2009.5,975.4 L2011.5,975.1 L2013.5,974.9 L2015.5,974.7 L2017.5,974.5 L2019.5,974.3 L2021.5,974.1 L2023.5,973.9 L2025.5,973.7 L2027.5,973.5 L2029.5,973.4 L2031.5,973.2 L2033.5,973.0 L2035.5,972.8 L2037.5,972.6" stroke="#006400" stroke-dasharray="37.16 16.07"/>
<path d="M245.5,1128.1 L247.5,1128.9 L249.5,1129.6 L251.5,1130.3 L253.5,1130.9 L255.5,1131.6 L257.5,1132.2 L259.5,1132.9 L261.5,1133.5 L263.5,1134.1 L265.5,1134.7 L267.5,1135.3 L269.5,1135.8 L271.5,1136.3 L273.5,1136.8 L275.5,1137.3 L277.5,1137.7 L279.5,1138.0 L281.5,1138.4 L283.5,1138.6 L285.5,1138.9 L287.5,1139.1 L289.5,1139.3 L291.5,1139.4 L293.5,1139.5 L295.5,1139.7 L297.5,1139.8 L299.5,1139.9 L301.5,1139.9 L303.5,1140.0 L305.5,1140.0 L307.5,1140.0 L309.5,1139.9 L311.5,1139.8 L313.5,1139.6 L315.5,1139.4 L317.5,1139.3 L319.5,1139.1 L321.5,1139.0 L323.5,1138.8 L325.5,1138.7 L327.5,1138.6 L329.5,1138.5 L331.5,1138.4 L333.5,1138.3 L335.5,1138.2 L337.5,1138.1 L339.5,1137.9 L341.5,1137.8 L343.5,1137.6 L345.5,1137.4 L347.5,1137.2 L349.5,1137.0 L351.5,1136.8 L353.5,1136.6 L355.5,1136.3 L357.5,1136.1 L359.5,1135.9 L361.5,1135.6 L363.5,1135.4 L365.5,1135.2 L367.5,1135.0 L369.5,1134.8 L371.5,1134.6 L373.5,1134.4 L375.5,1134.2 L377.5,1133.9 L379.5,1133.7 L381.5,1133.5 L383.5,1133.2 L385.5,1132.9 L387.5,1132.6 L389.5,1132.3 L391.5,1132.0 L393.5,1131.7 L395.5,1131.3 L397.5,1131.0 L399.5,1130.7 L401.5,1130.4 L403.5,1130.0 L405.5,1129.7 L407.5,1129.3 L409.5,1129.0 L411.5,1128.7 L413.5,1128.3 L415.5,1128.0 L417.5,1127.7 L419.5,1127.4 L421.5,1127.1 L423.5,1126.8 L425.5,1126.5 L427.5,1126.3 L429.5,1126.0 L431.5,1125.8 L433.5,1125.6 L435.5,1125.3 L437.5,1125.2 L439.5,1125.0 L441.5,1124.8 L443.5,1124.6 L445.5,1124.4 L447.5,1124.3 L449.5,1124.1 L451.5,1124.0 L453.5,1123.8 L455.5,1123.6 L457.5,1123.5 L459.5,1123.4 L461.5,1123.2 L463.5,1123.1 L465.5,1123.0 L467.5,1122.9 L469.5,1122.8 L471.5,1122.7 L473.5,1122.6 L475.5,1122.5 L477.5,1122.3 L479.5,1122.2 L481.5,1122.1 L483.5,1121.9 L485.5,1121.7 L487.5,1121.5 L489.5,1121.3 L491.5,1121.1 L493.5,1120.8 L495.5,1120.5 L497.5,1120.2 L499.5,1119.9 L501.5,1119.5 L503.5,1119.1 L505.5,1118.7 L507.5,1118.2 L509.5,1117.7 L511.5,1117.2 L513.5,1116.6 L515.5,1115.9 L517.5,1115.2 L519.5,1114.4 L521.5,1113.6 L523.5,1112.8 L525.5,1111.9 L527.5,1111.0 L529.5,1110.0 L531.5,1109.0 L533.5,1107.9 L535.5,1106.7 L537.5,1105.5 L539.5,1104.1 L541.5,1102.7 L543.5,1101.1 L545.5,1099.5 L547.5,1097.8 L549.5,1096.1 L551.5,1094.3 L553.5,1092.6 L555.5,1090.9 L557.5,1089.1 L559.5,1087.4 L561.5,1085.6 L563.5,1083.8 L565.5,1082.0 L567.5,1080.2 L569.5,1078.3 L571.5,1076.5 L573.5,1074.7 L575.5,1072.9 L577.5,1071.2 L579.5,1069.5 L581.5,1067.8 L583.5,1066.2 L585.5,1064.7 L587.5,1063.3 L589.5,1062.0 L591.5,1060.7 L593.5,1059.6 L595.5,1058.6 L597.5,1057.6 L599.5,1056.8 L601.5,1055.9 L603.5,1055.1 L605.5,1054.2 L607.5,1053.4 L609.5,1052.5 L611.5,1051.6 L613.5,1050.6 L615.5,1049.7 L617.5,1048.8 L619.5,1047.9 L621.5,1047.0 L623.5,1046.1 L625.5,1045.3 L627.5,1044.4 L629.5,1043.6 L631.5,1042.8 L633.5,1041.9 L635.5,1041.1 L637.5,1040.3 L639.5,1039.5 L641.5,1038.9 L643.5,1038.2 L645.5,1037.7 L647.5,1037.1 L649.5,1036.5 L651.5,1036.0 L653.5,1035.4 L655.5,1034.8 L657.5,1034.3 L659.5,1033.7 L661.5,1033.2 L663.5,1032.6 L665.5,1032.1 L667.5,1031.5 L669.5,1031.0 L671.5,1030.4 L673.5,1029.8 L675.5,1029.1 L677.5,1028.4 L679.5,1027.7 L681.5,1026.9 L683.5,1026.1 L685.5,1025.3 L687.5,1024.5 L689.5,1023.6 L691.5,1022.8 L693.5,1021.8 L695.5,1020.8 L697.5,1019.8 L699.5,1018.7 L701.5,1017.6 L703.5,1016.4 L705.5,1015.2 L707.5,1013.9 L709.5,1012.6 L711.5,1011.2 L713.5,1009.9 L715.5,1008.6 L717.5,1007.3 L719.5,1005.9 L721.5,1004.5 L723.5,1003.1 L725.5,1001.7 L727.5,1000.2 L729.5,998.7 L731.5,997.3 L733.5,995.8 L735.5,994.4 L737.5,993.0 L739.5,991.7 L741.5,990.5 L743.5,989.3 L745.5,988.2 L747.5,987.1 L749.5,986.1 L751.5,985.2 L753.5,984.4 L755.5,983.6 L757.5,982.9 L759.5,982.3 L761.5,981.8 L763.5,981.3 L765.5,980.9 L767.5,980.6 L769.5,980.3 L771.5,980.1 L773.5,979.9 L775.5,979.7 L777.5,979.7 L779.5,979.7 L781.5,979.6 L783.5,979.6 L785.5,979.6 L787.5,979.6 L789.5,979.6 L791.5,979.5 L793.5,979.5 L795.5,979.4 L797.5,979.3 L799.5,979.2 L801.5,979.1 L803.5,978.8 L805.5,978.6 L807.5,978.2 L809.5,977.9 L811.5,977.4 L813.5,976.9 L815.5,976.3 L817.5,975.7 L819.5,975.0 L821.5,974.1 L823.5,973.3 L825.5,972.3 L827.5,971.4 L829.5,970.4 L831.5,969.4 L833.5,968.5 L835.5,967.5 L837.5,966.5 L839.5,965.6 L841.5,964.6 L843.5,963.7 L845.5,962.9 L847.5,962.0 L849.5,961.2 L851.5,960.5 L853.5,959.8 L855.5,959.2 L857.5,958.6 L859.5,958.0 L861.5,957.5 L863.5,957.1 L865.5,956.6 L867.5,956.3 L869.5,955.9 L871.5,955.6 L873.5,955.3 L875.5,955.0 L877.5,954.8 L879.5,954.6 L881.5,954.4 L883.5,954.2 L885.5,954.0 L887.5,953.8 L889.5,953.7 L891.5,953.5 L893.5,953.4 L895.5,953.2 L897.5,953.1 L899.5,953.0 L901.5,952.9 L903.5,952.8 L905.5,952.7 L907.5,952.5 L909.5,952.4 L911.5,952.2 L913.5,952.0 L915.5,951.7 L917.5,951.5 L919.5,951.3 L921.5,951.1 L923.5,950.9 L925.5,950.7 L927.5,950.6 L929.5,950.4 L931.5,950.3 L933.5,950.2 L935.5,950.1 L937.5,950.0 L939.5,950.0 L941.5,949.9 L943.5,949.9 L945.5,949.9 L947.5,950.0 L949.5,950.0 L951.5,950.0 L953.5,950.0 L955.5,950.1 L957.5,950.1 L959.5,950.2 L961.5,950.3 L963.5,950.4 L965.5,950.4 L967.5,950.4 L969.5,950.5 L971.5,950.5 L973.5,950.5 L975.5,950.5 L977.5,950.5 L979.5,950.5 L981.5,950.4 L983.5,950.3 L985.5,950.2 L987.5,950.0 L989.5,949.8 L991.5,949.5 L993.5,949.2 L995.5,948.9 L997.5,948.5 L999.5,948.2 L1001.5,947.9 L1003.5,947.5 L1005.5,947.2 L1007.5,946.9 L1009.5,946.6 L1011.5,946.3 L1013.5,946.0 L1015.5,945.7 L1017.5,945.4 L1019.5,945.2 L1021.5,944.9 L1023.5,944.7 L1025.5,944.5 L1027.5,944.2 L1029.5,944.0 L1031.5,943.8 L1033.5,943.6 L1035.5,943.4 L1037.5,943.3 L1039.5,943.1 L1041.5,943.0 L1043.5,942.8 L1045.5,942.7 L1047.5,942.6 L1049.5,942.5 L1051.5,942.4 L1053.5,942.2 L1055.5,942.1 L1057.5,941.9 L1059.5,941.7 L1061.5,941.5 L1063.5,941.3 L1065.5,941.1 L1067.5,940.9 L1069.5,940.7 L1071.5,940.5 L1073.5,940.3 L1075.5,940.2 L1077.5,940.0 L1079.5,939.8 L1081.5,939.7 L1083.5,939.5 L1085.5,939.4 L1087.5,939.3 L1089.5,939.3 L1091.5,939.3 L1093.5,939.4 L1095.5,939.4 L1097.5,939.6 L1099.5,939.7 L1101.5,939.9 L1103.5,940.1 L1105.5,940.3 L1107.5,940.6 L1109.5,940.9 L1111.5,941.2 L1113.5,941.5 L1115.5,941.8 L1117.5,942.1 L1119.5,942.3 L1121.5,942.5 L1123.5,942.7 L1125.5,942.8 L1127.5,943.0 L1129.5,943.2 L1131.5,943.4 L1133.5,943.5 L1135.5,943.6 L1137.5,943.7 L1139.5,943.8 L1141.5,943.8 L1143.5,943.8 L1145.5,943.8 L1147.5,943.8 L1149.5,943.7 L1151.5,943.6 L1153.5,943.4 L1155.5,943.3 L1157.5,943.0 L1159.5,942.8 L1161.5,942.5 L1163.5,942.1 L1165.5,941.7 L1167.5,941.3 L1169.5,940.9 L1171.5,940.5 L1173.5,940.1 L1175.5,939.6 L1177.5,939.2 L1179.5,938.8 L1181.5,938.4 L1183.5,938.0 L1185.5,937.6 L1187.5,937.2 L1189.5,936.8 L1191.5,936.5 L1193.5,936.2 L1195.5,935.9 L1197.5,935.6 L1199.5,935.4 L1201.5,935.3 L1203.5,935.1 L1205.5,935.0 L1207.5,934.9 L1209.5,934.8 L1211.5,934.8 L1213.5,934.7 L1215.5,934.7 L1217.5,934.7 L1219.5,934.8 L1221.5,934.8 L1223.5,934.9 L1225.5,935.1 L1227.5,935.3 L1229.5,935.5 L1231.5,935.8 L1233.5,936.1 L1235.5,936.5 L1237.5,937.0 L1239.5,937.5 L1241.5,938.1 L1243.5,938.7 L1245.5,939.4 L1247.5,940.0 L1249.5,940.8 L1251.5,941.6 L1253.5,942.4 L1255.5,943.3 L1257.5,944.2 L1259.5,945.1 L1261.5,946.1 L1263.5,947.2 L1265.5,948.2 L1267.5,949.3 L1269.5,950.4 L1271.5,951.5 L1273.5,952.6 L1275.5,953.7 L1277.5,954.8 L1279.5,955.9 L1281.5,957.0 L1283.5,958.1 L1285.5,959.2 L1287.5,960.2 L1289.5,961.2 L1291.5,962.3 L1293.5,963.3 L1295.5,964.4 L1297.5,965.5 L1299.5,966.6 L1301.5,967.7 L1303.5,968.8 L1305.5,969.9 L1307.5,971.0 L1309.5,972.1 L1311.5,973.1 L1313.5,974.0 L1315.5,974.9 L1317.5,975.6 L1319.5,976.3 L1321.5,976.8 L1323.5,977.4 L1325.5,977.8 L1327.5,978.2 L1329.5,978.5 L1331.5,978.7 L1333.5,978.9 L1335.5,979.1 L1337.5,979.2 L1339.5,979.2 L1341.5,979.1 L1343.5,979.0 L1345.5,978.8 L1347.5,978.6 L1349.5,978.3 L1351.5,978.0 L1353.5,977.7 L1355.5,977.3 L1357.5,976.8 L1359.5,976.3 L1361.5,975.8 L1363.5,975.2 L1365.5,974.6 L1367.5,973.9 L1369.5,973.2 L1371.5,972.5 L1373.5,971.8 L1375.5,971.0 L1377.5,970.2 L1379.5,969.5 L1381.5,968.7 L1383.5,968.0 L1385.5,967.3 L1387.5,966.7 L1389.5,966.1 L1391.5,965.5 L1393.5,964.9 L1395.5,964.4 L1397.5,964.0 L1399.5,963.5 L1401.5,963.2 L1403.5,962.9 L1405.5,962.7 L1407.5,962.6 L1409.5,962.6 L1411.5,962.6 L1413.5,962.8 L1415.5,963.0 L1417.5,963.3 L1419.5,963.7 L1421.5,964.3 L1423.5,965.0 L1425.5,965.7 L1427.5,966.6 L1429.5,967.6 L1431.5,968.7 L1433.5,969.9 L1435.5,971.1 L1437.5,972.3 L1439.5,973.5 L1441.5,974.7 L1443.5,975.9 L1445.5,977.1 L1447.5,978.2 L1449.5,979.4 L1451.5,980.5 L1453.5,981.6 L1455.5,982.6 L1457.5,983.6 L1459.5,984.5 L1461.5,985.3 L1463.5,986.1 L1465.5,986.8 L1467.5,987.5 L1469.5,988.0 L1471.5,988.5 L1473.5,989.0 L1475.5,989.3 L1477.5,989.6 L1479.5,989.9 L1481.5,990.0 L1483.5,990.1 L1485.5,990.1 L1487.5,990.1 L1489.5,989.9 L1491.5,989.7 L1493.5,989.5 L1495.5,989.2 L1497.5,988.9 L1499.5,988.5 L1501.5,988.1 L1503.5,987.7 L1505.5,987.3 L1507.5,986.9 L1509.5,986.5 L1511.5,986.1 L1513.5,985.7 L1515.5,985.3 L1517.5,984.9 L1519.5,984.5 L1521.5,984.1 L1523.5,983.8 L1525.5,983.4 L1527.5,983.1 L1529.5,982.8 L1531.5,982.4 L1533.5,982.1 L1535.5,981.8 L1537.5,981.5 L1539.5,981.2 L1541.5,981.0 L1543.5,980.8 L1545.5,980.6 L1547.5,980.4 L1549.5,980.3 L1551.5,980.2 L1553.5,980.1 L1555.5,980.0 L1557.5,980.0 L1559.5,980.0 L1561.5,980.1 L1563.5,980.2 L1565.5,980.4 L1567.5,980.6 L1569.5,980.9 L1571.5,981.2 L1573.5,981.6 L1575.5,982.0 L1577.5,982.4 L1579.5,982.9 L1581.5,983.3 L1583.5,983.8 L1585.5,984.3 L1587.5,984.9 L1589.5,985.4 L1591.5,985.9 L1593.5,986.5 L1595.5,987.0 L1597.5,987.6 L1599.5,988.1 L1601.5,988.7 L1603.5,989.2 L1605.5,989.8 L1607.5,990.4 L1609.5,990.9 L1611.5,991.5 L1613.5,992.1 L1615.5,992.7 L1617.5,993.3 L1619.5,993.8 L1621.5,994.4 L1623.5,994.9 L1625.5,995.5 L1627.5,996.0 L1629.5,996.6 L1631.5,997.2 L1633.5,997.7 L1635.5,998.3 L1637.5,998.9 L1639.5,999.5 L1641.5,1000.0 L1643.5,1000.6 L1645.5,1001.1 L1647.5,1001.7 L1649.5,1002.3 L1651.5,1002.9 L1653.5,1003.5 L1655.5,1004.2 L1657.5,1004.9 L1659.5,1005.6 L1661.5,1006.4 L1663.5,1007.2 L1665.5,1008.0 L1667.5,1008.9 L1669.5,1009.7 L1671.5,1010.6 L1673.5,1011.4 L1675.5,1012.2 L1677.5,1013.0 L1679.5,1013.7 L1681.5,1014.4 L1683.5,1015.0 L1685.5,1015.7 L1687.5,1016.3 L1689.5,1016.8 L1691.5,1017.4 L1693.5,1017.9 L1695.5,1018.3 L1697.5,1018.8 L1699.5,1019.2 L1701.5,1019.6 L1703.5,1020.1 L1705.5,1020.4 L1707.5,1020.8 L1709.5,1021.2 L1711.5,1021.5 L1713.5,1021.8 L1715.5,1022.2 L1717.5,1022.5 L1719.5,1022.8 L1721.5,1023.1 L1723.5,1023.4 L1725.5,1023.7 L1727.5,1024.0 L1729.5,1024.2 L1731.5,1024.5 L1733.5,1024.7 L1735.5,1024.9 L1737.5,1025.2 L1739.5,1025.5 L1741.5,1025.8 L1743.5,1026.1 L1745.5,1026.4 L1747.5,1026.8 L1749.5,1027.2 L1751.5,1027.6 L1753.5,1028.1 L1755.5,1028.6 L1757.5,1029.1 L1759.5,1029.7 L1761.5,1030.2 L1763.5,1030.8 L1765.5,1031.4 L1767.5,1032.1 L1769.5,1032.7 L1771.5,1033.3 L1773.5,1033.9 L1775.5,1034.5 L1777.5,1035.1 L1779.5,1035.7 L1781.5,1036.4 L1783.5,1037.0 L1785.5,1037.7 L1787.5,1038.4 L1789.5,1039.1 L1791.5,1039.8 L1793.5,1040.5 L1795.5,1041.3 L1797.5,1042.0 L1799.5,1042.8 L1801.5,1043.6 L1803.5,1044.3 L1805.5,1045.1 L1807.5,1045.8 L1809.5,1046.5 L1811.5,1047.2 L1813.5,1047.9 L1815.5,1048.5 L1817.5,1049.1 L1819.5,1049.8 L1821.5,1050.4 L1823.5,1050.9 L1825.5,1051.5 L1827.5,1052.0 L1829.5,1052.5 L1831.5,1052.9 L1833.5,1053.4 L1835.5,1053.8 L1837.5,1054.2 L1839.5,1054.6 L1841.5,1055.0 L1843.5,1055.4 L1845.5,1055.7 L1847.5,1056.0 L1849.5,1056.2 L1851.5,1056.5 L1853.5,1056.7 L1855.5,1056.9 L1857.5,1057.0 L1859.5,1057.1 L1861.5,1057.2 L1863.5,1057.2 L1865.5,1057.1 L1867.5,1057.0 L1869.5,1056.9 L1871.5,1056.7 L1873.5,1056.4 L1875.5,1056.1 L1877.5,1055.8 L1879.5,1055.3 L1881.5,1054.9 L1883.5,1054.4 L1885.5,1053.9 L1887.5,1053.3 L1889.5,1052.8 L1891.5,1052.2 L1893.5,1051.6 L1895.5,1051.0 L1897.5,1050.3 L1899.5,1049.7 L1901.5,1049.0 L1903.5,1048.3 L1905.5,1047.6 L1907.5,1046.9 L1909.5,1046.2 L1911.5,1045.5 L1913.5,1044.8 L1915.5,1044.1 L1917.5,1043.4 L1919.5,1042.7 L1921.5,1042.1 L1923.5,1041.4 L1925.5,1040.8 L1927.5,1040.2 L1929.5,1039.6 L1931.5,1039.0 L1933.5,1038.5 L1935.5,1038.0 L1937.5,1037.5 L1939.5,1037.1 L1941.5,1036.7 L1943.5,1036.4 L1945.5,1036.0 L1947.5,1035.7 L1949.5,1035.3 L1951.5,1035.0 L1953.5,1034.6 L1955.5,1034.2 L1957.5,1033.8 L1959.5,1033.5 L1961.5,1033.2 L1963.5,1032.9 L1965.5,1032.7 L1967.5,1032.5 L1969.5,1032.2 L1971.5,1031.9 L1973.5,1031.7 L1975.5,1031.4 L1977.5,1031.2 L1979.5,1030.9 L1981.5,1030.7 L1983.5,1030.5 L1985.5,1030.3 L1987.5,1030.1 L1989.5,1029.9 L1991.5,1029.7 L1993.5,1029.5 L1995.5,1029.3 L1997.5,1029.1 L1999.5,1028.9 L2001.5,1028.7 L2003.5,1028.4 L2005.5,1028.2 L2007.5,1028.0 L2009.5,1027.8 L2011.5,1027.6 L2013.5,1027.4 L2015.5,1027.1 L2017.5,1026.9 L2019.5,1026.7 L2021.5,1026.6 L2023.5,1026.4 L2025.5,1026.2 L2027.5,1026.1 L2029.5,1025.9 L2031.5,1025.8 L2033.5,1025.6 L2035.5,1025.4 L2037.5,1025.2" stroke="#006400" stroke-dasharray="37.16 16.07"/>
<path d="M245.5,1205.8 L247.5,1206.8 L249.5,1207.8 L251.5,1208.9 L253.5,1210.1 L255.5,1211.2 L257.5,1212.4 L259.5,1213.6 L261.5,1214.9 L263.5,1216.1 L265.5,1217.3 L267.5,1218.5 L269.5,1219.7 L271.5,1220.9 L273.5,1222.0 L275.5,1223.1 L277.5,1224.2 L279.5,1225.1 L281.5,1226.1 L283.5,1227.0 L285.5,1227.8 L287.5,1228.5 L289.5,1229.2 L291.5,1229.9 L293.5,1230.4 L295.5,1230.9 L297.5,1231.4 L299.5,1231.8 L301.5,1232.1 L303.5,1232.3 L305.5,1232.5 L307.5,1232.6 L309.5,1232.6 L311.5,1232.6 L313.5,1232.6 L315.5,1232.5 L317.5,1232.4 L319.5,1232.3 L321.5,1232.1 L323.5,1232.0 L325.5,1231.8 L327.5,1231.7 L329.5,1231.6 L331.5,1231.5 L333.5,1231.4 L335.5,1231.4 L337.5,1231.3 L339.5,1231.3 L341.5,1231.3 L343.5,1231.3 L345.5,1231.3 L347.5,1231.4 L349.5,1231.4 L351.5,1231.4 L353.5,1231.5 L355.5,1231.5 L357.5,1231.6 L359.5,1231.7 L361.5,1231.7 L363.5,1231.8 L365.5,1231.9 L367.5,1231.9 L369.5,1232.0 L371.5,1232.0 L373.5,1232.1 L375.5,1232.1 L377.5,1232.2 L379.5,1232.2 L381.5,1232.2 L383.5,1232.2 L385.5,1232.2 L387.5,1232.2 L389.5,1232.1 L391.5,1232.1 L393.5,1232.1 L395.5,1232.0 L397.5,1231.9 L399.5,1231.9 L401.5,1231.8 L403.5,1231.7 L405.5,1231.6 L407.5,1231.5 L409.5,1231.4 L411.5,1231.3 L413.5,1231.2 L415.5,1231.1 L417.5,1230.9 L419.5,1230.8 L421.5,1230.7 L423.5,1230.6 L425.5,1230.4 L427.5,1230.3 L429.5,1230.2 L431.5,1230.0 L433.5,1229.9 L435.5,1229.8 L437.5,1229.7 L439.5,1229.5 L441.5,1229.4 L443.5,1229.3 L445.5,1229.2 L447.5,1229.1 L449.5,1229.0 L451.5,1228.9 L453.5,1228.8 L455.5,1228.7 L457.5,1228.6 L459.5,1228.5 L461.5,1228.5 L463.5,1228.4 L465.5,1228.3 L467.5,1228.3 L469.5,1228.3 L471.5,1228.2 L473.5,1228.2 L475.5,1228.2 L477.5,1228.2 L479.5,1228.2 L481.5,1228.2 L483.5,1228.2 L485.5,1228.2 L487.5,1228.2 L489.5,1228.2 L491.5,1228.1 L493.5,1228.1 L495.5,1228.0 L497.5,1227.9 L499.5,1227.8 L501.5,1227.6 L503.5,1227.5 L505.5,1227.3 L507.5,1227.1 L509.5,1226.8 L511.5,1226.5 L513.5,1226.2 L515.5,1225.8 L517.5,1225.4 L519.5,1225.0 L521.5,1224.4 L523.5,1223.9 L525.5,1223.3 L527.5,1222.6 L529.5,1221.9 L531.5,1221.2 L533.5,1220.5 L535.5,1219.7 L537.5,1218.8 L539.5,1218.0 L541.5,1217.1 L543.5,1216.3 L545.5,1215.4 L547.5,1214.5 L549.5,1213.6 L551.5,1212.6 L553.5,1211.7 L555.5,1210.8 L557.5,1209.9 L559.5,1209.0 L561.5,1208.2 L563.5,1207.3 L565.5,1206.4 L567.5,1205.6 L569.5,1204.8 L571.5,1204.0 L573.5,1203.2 L575.5,1202.5 L577.5,1201.7 L579.5,1201.0 L581.5,1200.3 L583.5,1199.7 L585.5,1199.1 L587.5,1198.5 L589.5,1197.9 L591.5,1197.4 L593.5,1196.9 L595.5,1196.5 L597.5,1196.1 L599.5,1195.7 L601.5,1195.4 L603.5,1195.1 L605.5,1194.9 L607.5,1194.8 L609.5,1194.6 L611.5,1194.5 L613.5,1194.5 L615.5,1194.5 L617.5,1194.5 L619.5,1194.5 L621.5,1194.6 L623.5,1194.7 L625.5,1194.8 L627.5,1194.9 L629.5,1195.0 L631.5,1195.0 L633.5,1195.1 L635.5,1195.2 L637.5,1195.3 L639.5,1195.3 L641.5,1195.3 L643.5,1195.3 L645.5,1195.3 L647.5,1195.2 L649.5,1195.1 L651.5,1195.0 L653.5,1194.9 L655.5,1194.7 L657.5,1194.5 L659.5,1194.2 L661.5,1194.0 L663.5,1193.7 L665.5,1193.4 L667.5,1193.0 L669.5,1192.6 L671.5,1192.2 L673.5,1191.8 L675.5,1191.3 L677.5,1190.8 L679.5,1190.3 L681.5,1189.8 L683.5,1189.2 L685.5,1188.6 L687.5,1187.9 L689.5,1187.3 L691.5,1186.6 L693.5,1185.9 L695.5,1185.1 L697.5,1184.4 L699.5,1183.6 L701.5,1182.8 L703.5,1181.9 L705.5,1181.1 L707.5,1180.2 L709.5,1179.4 L711.5,1178.5 L713.5,1177.7 L715.5,1176.8 L717.5,1176.0 L719.5,1175.2 L721.5,1174.4 L723.5,1173.6 L725.5,1172.8 L727.5,1172.1 L729.5,1171.4 L731.5,1170.7 L733.5,1170.1 L735.5,1169.5 L737.5,1168.9 L739.5,1168.4 L741.5,1168.0 L743.5,1167.6 L745.5,1167.2 L747.5,1167.0 L749.5,1166.7 L751.5,1166.6 L753.5,1166.4 L755.5,1166.3 L757.5,1166.2 L759.5,1166.1 L761.5,1166.1 L763.5,1166.0 L765.5,1166.0 L767.5,1165.9 L769.5,1165.9 L771.5,1165.9 L773.5,1165.8 L775.5,1165.8 L777.5,1165.7 L779.5,1165.6 L781.5,1165.6 L783.5,1165.5 L785.5,1165.4 L787.5,1165.3 L789.5,1165.1 L791.5,1165.0 L793.5,1164.8 L795.5,1164.6 L797.5,1164.4 L799.5,1164.1 L801.5,1163.9 L803.5,1163.6 L805.5,1163.3 L807.5,1163.0 L809.5,1162.7 L811.5,1162.3 L813.5,1162.0 L815.5,1161.8 L817.5,1161.5 L819.5,1161.2 L821.5,1160.9 L823.5,1160.7 L825.5,1160.4 L827.5,1160.2 L829.5,1160.0 L831.5,1159.8 L833.5,1159.6 L835.5,1159.4 L837.5,1159.2 L839.5,1159.0 L841.5,1158.8 L843.5,1158.6 L845.5,1158.5 L847.5,1158.3 L849.5,1158.2 L851.5,1158.1 L853.5,1157.9 L855.5,1157.8 L857.5,1157.7 L859.5,1157.6 L861.5,1157.5 L863.5,1157.4 L865.5,1157.3 L867.5,1157.2 L869.5,1157.1 L871.5,1157.0 L873.5,1156.9 L875.5,1156.9 L877.5,1156.8 L879.5,1156.7 L881.5,1156.7 L883.5,1156.6 L885.5,1156.6 L887.5,1156.5 L889.5,1156.5 L891.5,1156.4 L893.5,1156.4 L895.5,1156.3 L897.5,1156.3 L899.5,1156.3 L901.5,1156.2 L903.5,1156.2 L905.5,1156.1 L907.5,1156.1 L909.5,1156.1 L911.5,1156.1 L913.5,1156.0 L915.5,1156.0 L917.5,1156.0 L919.5,1155.9 L921.5,1155.9 L923.5,1155.9 L925.5,1155.8 L927.5,1155.8 L929.5,1155.7 L931.5,1155.7 L933.5,1155.7 L935.5,1155.6 L937.5,1155.6 L939.5,1155.5 L941.5,1155.5 L943.5,1155.4 L945.5,1155.4 L947.5,1155.3 L949.5,1155.2 L951.5,1155.2 L953.5,1155.1 L955.5,1155.0 L957.5,1154.9 L959.5,1154.8 L961.5,1154.8 L963.5,1154.7 L965.5,1154.6 L967.5,1154.5 L969.5,1154.4 L971.5,1154.3 L973.5,1154.2 L975.5,1154.1 L977.5,1154.0 L979.5,1153.9 L981.5,1153.8 L983.5,1153.7 L985.5,1153.6 L987.5,1153.5 L989.5,1153.4 L991.5,1153.4 L993.5,1153.3 L995.5,1153.2 L997.5,1153.2 L999.5,1153.1 L1001.5,1153.1 L1003.5,1153.1 L1005.5,1153.0 L1007.5,1153.0 L1009.5,1153.0 L1011.5,1153.1 L1013.5,1153.1 L1015.5,1153.1 L1017.5,1153.2 L1019.5,1153.2 L1021.5,1153.3 L1023.5,1153.3 L1025.5,1153.4 L1027.5,1153.5 L1029.5,1153.6 L1031.5,1153.7 L1033.5,1153.8 L1035.5,1153.9 L1037.5,1154.0 L1039.5,1154.1 L1041.5,1154.2 L1043.5,1154.4 L1045.5,1154.5 L1047.5,1154.6 L1049.5,1154.7 L1051.5,1154.8 L1053.5,1154.9 L1055.5,1155.1 L1057.5,1155.2 L1059.5,1155.3 L1061.5,1155.4 L1063.5,1155.5 L1065.5,1155.6 L1067.5,1155.7 L1069.5,1155.8 L1071.5,1155.9 L1073.5,1155.9 L1075.5,1156.0 L1077.5,1156.1 L1079.5,1156.2 L1081.5,1156.2 L1083.5,1156.3 L1085.5,1156.3 L1087.5,1156.4 L1089.5,1156.4 L1091.5,1156.5 L1093.5,1156.5 L1095.5,1156.6 L1097.5,1156.6 L1099.5,1156.6 L1101.5,1156.7 L1103.5,1156.7 L1105.5,1156.7 L1107.5,1156.7 L1109.5,1156.7 L1111.5,1156.7 L1113.5,1156.7 L1115.5,1156.7 L1117.5,1156.7 L1119.5,1156.7 L1121.5,1156.7 L1123.5,1156.7 L1125.5,1156.7 L1127.5,1156.6 L1129.5,1156.6 L1131.5,1156.6 L1133.5,1156.5 L1135.5,1156.5 L1137.5,1156.5 L1139.5,1156.4 L1141.5,1156.4 L1143.5,1156.3 L1145.5,1156.3 L1147.5,1156.2 L1149.5,1156.2 L1151.5,1156.1 L1153.5,1156.0 L1155.5,1155.9 L1157.5,1155.9 L1159.5,1155.8 L1161.5,1155.7 L1163.5,1155.6 L1165.5,1155.6 L1167.5,1155.5 L1169.5,1155.4 L1171.5,1155.3 L1173.5,1155.2 L1175.5,1155.1 L1177.5,1155.0 L1179.5,1154.9 L1181.5,1154.8 L1183.5,1154.6 L1185.5,1154.5 L1187.5,1154.4 L1189.5,1154.3 L1191.5,1154.2 L1193.5,1154.1 L1195.5,1153.9 L1197.5,1153.8 L1199.5,1153.7 L1201.5,1153.6 L1203.5,1153.5 L1205.5,1153.4 L1207.5,1153.3 L1209.5,1153.2 L1211.5,1153.1 L1213.5,1153.0 L1215.5,1153.0 L1217.5,1152.9 L1219.5,1152.9 L1221.5,1152.8 L1223.5,1152.8 L1225.5,1152.8 L1227.5,1152.8 L1229.5,1152.9 L1231.5,1152.9 L1233.5,1153.0 L1235.5,1153.1 L1237.5,1153.2 L1239.5,1153.3 L1241.5,1153.5 L1243.5,1153.6 L1245.5,1153.8 L1247.5,1154.1 L1249.5,1154.3 L1251.5,1154.6 L1253.5,1154.8 L1255.5,1155.1 L1257.5,1155.5 L1259.5,1155.8 L1261.5,1156.2 L1263.5,1156.5 L1265.5,1156.9 L1267.5,1157.4 L1269.5,1157.8 L1271.5,1158.3 L1273.5,1158.8 L1275.5,1159.3 L1277.5,1159.8 L1279.5,1160.3 L1281.5,1160.9 L1283.5,1161.4 L1285.5,1162.0 L1287.5,1162.6 L1289.5,1163.2 L1291.5,1163.8 L1293.5,1164.4 L1295.5,1165.0 L1297.5,1165.6 L1299.5,1166.2 L1301.5,1166.7 L1303.5,1167.3 L1305.5,1167.9 L1307.5,1168.4 L1309.5,1168.9 L1311.5,1169.4 L1313.5,1169.9 L1315.5,1170.4 L1317.5,1170.8 L1319.5,1171.3 L1321.5,1171.6 L1323.5,1172.0 L1325.5,1172.3 L1327.5,1172.6 L1329.5,1172.8 L1331.5,1173.0 L1333.5,1173.2 L1335.5,1173.4 L1337.5,1173.5 L1339.5,1173.5 L1341.5,1173.6 L1343.5,1173.6 L1345.5,1173.6 L1347.5,1173.5 L1349.5,1173.5 L1351.5,1173.4 L1353.5,1173.2 L1355.5,1173.1 L1357.5,1172.9 L1359.5,1172.7 L1361.5,1172.5 L1363.5,1172.3 L1365.5,1172.0 L1367.5,1171.8 L1369.5,1171.5 L1371.5,1171.2 L1373.5,1170.9 L1375.5,1170.5 L1377.5,1170.2 L1379.5,1169.8 L1381.5,1169.4 L1383.5,1169.1 L1385.5,1168.7 L1387.5,1168.3 L1389.5,1168.0 L1391.5,1167.6 L1393.5,1167.3 L1395.5,1167.0 L1397.5,1166.7 L1399.5,1166.4 L1401.5,1166.2 L1403.5,1166.0 L1405.5,1165.9 L1407.5,1165.8 L1409.5,1165.7 L1411.5,1165.7 L1413.5,1165.8 L1415.5,1165.9 L1417.5,1166.0 L1419.5,1166.2 L1421.5,1166.4 L1423.5,1166.7 L1425.5,1166.9 L1427.5,1167.3 L1429.5,1167.6 L1431.5,1168.0 L1433.5,1168.4 L1435.5,1168.8 L1437.5,1169.3 L1439.5,1169.7 L1441.5,1170.2 L1443.5,1170.7 L1445.5,1171.2 L1447.5,1171.7 L1449.5,1172.2 L1451.5,1172.7 L1453.5,1173.2 L1455.5,1173.7 L1457.5,1174.2 L1459.5,1174.7 L1461.5,1175.2 L1463.5,1175.7 L1465.5,1176.1 L1467.5,1176.6 L1469.5,1177.0 L1471.5,1177.4 L1473.5,1177.8 L1475.5,1178.2 L1477.5,1178.6 L1479.5,1178.9 L1481.5,1179.2 L1483.5,1179.5 L1485.5,1179.7 L1487.5,1179.9 L1489.5,1180.1 L1491.5,1180.3 L1493.5,1180.4 L1495.5,1180.5 L1497.5,1180.5 L1499.5,1180.6 L1501.5,1180.6 L1503.5,1180.6 L1505.5,1180.6 L1507.5,1180.6 L1509.5,1180.5 L1511.5,1180.5 L1513.5,1180.4 L1515.5,1180.3 L1517.5,1180.3 L1519.5,1180.2 L1521.5,1180.1 L1523.5,1180.0 L1525.5,1179.9 L1527.5,1179.8 L1529.5,1179.7 L1531.5,1179.6 L1533.5,1179.5 L1535.5,1179.4 L1537.5,1179.3 L1539.5,1179.2 L1541.5,1179.2 L1543.5,1179.1 L1545.5,1179.1 L1547.5,1179.0 L1549.5,1179.0 L1551.5,1179.0 L1553.5,1179.0 L1555.5,1179.0 L1557.5,1179.0 L1559.5,1179.0 L1561.5,1179.0 L1563.5,1179.1 L1565.5,1179.1 L1567.5,1179.1 L1569.5,1179.2 L1571.5,1179.3 L1573.5,1179.3 L1575.5,1179.4 L1577.5,1179.5 L1579.5,1179.6 L1581.5,1179.7 L1583.5,1179.9 L1585.5,1180.0 L1587.5,1180.1 L1589.5,1180.2 L1591.5,1180.4 L1593.5,1180.6 L1595.5,1180.7 L1597.5,1180.9 L1599.5,1181.1 L1601.5,1181.3 L1603.5,1181.4 L1605.5,1181.7 L1607.5,1181.9 L1609.5,1182.1 L1611.5,1182.3 L1613.5,1182.5 L1615.5,1182.8 L1617.5,1183.0 L1619.5,1183.3 L1621.5,1183.5 L1623.5,1183.8 L1625.5,1184.1 L1627.5,1184.3 L1629.5,1184.6 L1631.5,1184.9 L1633.5,1185.2 L1635.5,1185.5 L1637.5,1185.9 L1639.5,1186.2 L1641.5,1186.5 L1643.5,1186.8 L1645.5,1187.2 L1647.5,1187.5 L1649.5,1187.9 L1651.5,1188.2 L1653.5,1188.6 L1655.5,1189.0 L1657.5,1189.3 L1659.5,1189.7 L1661.5,1190.1 L1663.5,1190.5 L1665.5,1190.9 L1667.5,1191.3 L1669.5,1191.7 L1671.5,1192.1 L1673.5,1192.5 L1675.5,1192.9 L1677.5,1193.3 L1679.5,1193.7 L1681.5,1194.1 L1683.5,1194.5 L1685.5,1194.9 L1687.5,1195.2 L1689.5,1195.6 L1691.5,1195.9 L1693.5,1196.3 L1695.5,1196.6 L1697.5,1196.9 L1699.5,1197.2 L1701.5,1197.5 L1703.5,1197.7 L1705.5,1197.9 L1707.5,1198.2 L1709.5,1198.4 L1711.5,1198.5 L1713.5,1198.7 L1715.5,1198.8 L1717.5,1198.9 L1719.5,1199.0 L1721.5,1199.1 L1723.5,1199.2 L1725.5,1199.2 L1727.5,1199.3 L1729.5,1199.3 L1731.5,1199.4 L1733.5,1199.4 L1735.5,1199.5 L1737.5,1199.6 L1739.5,1199.6 L1741.5,1199.7 L1743.5,1199.8 L1745.5,1199.9 L1747.5,1200.0 L1749.5,1200.2 L1751.5,1200.4 L1753.5,1200.6 L1755.5,1200.8 L1757.5,1201.0 L1759.5,1201.3 L1761.5,1201.5 L1763.5,1201.8 L1765.5,1202.1 L1767.5,1202.4 L1769.5,1202.7 L1771.5,1203.0 L1773.5,1203.3 L1775.5,1203.7 L1777.5,1204.0 L1779.5,1204.3 L1781.5,1204.7 L1783.5,1205.0 L1785.5,1205.3 L1787.5,1205.7 L1789.5,1206.0 L1791.5,1206.3 L1793.5,1206.6 L1795.5,1206.9 L1797.5,1207.2 L1799.5,1207.5 L1801.5,1207.8 L1803.5,1208.0 L1805.5,1208.3 L1807.5,1208.5 L1809.5,1208.7 L1811.5,1208.9 L1813.5,1209.1 L1815.5,1209.3 L1817.5,1209.4 L1819.5,1209.6 L1821.5,1209.7 L1823.5,1209.8 L1825.5,1210.0 L1827.5,1210.1 L1829.5,1210.2 L1831.5,1210.2 L1833.5,1210.3 L1835.5,1210.4 L1837.5,1210.4 L1839.5,1210.5 L1841.5,1210.5 L1843.5,1210.5 L1845.5,1210.5 L1847.5,1210.5 L1849.5,1210.5 L1851.5,1210.5 L1853.5,1210.5 L1855.5,1210.4 L1857.5,1210.4 L1859.5,1210.3 L1861.5,1210.3 L1863.5,1210.2 L1865.5,1210.2 L1867.5,1210.1 L1869.5,1210.0 L1871.5,1209.9 L1873.5,1209.8 L1875.5,1209.7 L1877.5,1209.6 L1879.5,1209.5 L1881.5,1209.4 L1883.5,1209.2 L1885.5,1209.1 L1887.5,1209.0 L1889.5,1208.8 L1891.5,1208.7 L1893.5,1208.6 L1895.5,1208.4 L1897.5,1208.2 L1899.5,1208.1 L1901.5,1207.9 L1903.5,1207.8 L1905.5,1207.6 L1907.5,1207.4 L1909.5,1207.3 L1911.5,1207.1 L1913.5,1206.9 L1915.5,1206.8 L1917.5,1206.6 L1919.5,1206.4 L1921.5,1206.2 L1923.5,1206.0 L1925.5,1205.9 L1927.5,1205.7 L1929.5,1205.5 L1931.5,1205.3 L1933.5,1205.2 L1935.5,1205.0 L1937.5,1204.8 L1939.5,1204.6 L1941.5,1204.4 L1943.5,1204.3 L1945.5,1204.1 L1947.5,1203.9 L1949.5,1203.8 L1951.5,1203.6 L1953.5,1203.4 L1955.5,1203.2 L1957.5,1203.1 L1959.5,1202.9 L1961.5,1202.8 L1963.5,1202.6 L1965.5,1202.4 L1967.5,1202.3 L1969.5,1202.1 L1971.5,1202.0 L1973.5,1201.8 L1975.5,1201.7 L1977.5,1201.6 L1979.5,1201.4 L1981.5,1201.3 L1983.5,1201.2 L1985.5,1201.0 L1987.5,1200.9 L1989.5,1200.8 L1991.5,1200.7 L1993.5,1200.6 L1995.5,1200.5 L1997.5,1200.4 L1999.5,1200.3 L2001.5,1200.2 L2003.5,1200.1 L2005.5,1200.0 L2007.5,1199.9 L2009.5,1199.9 L2011.5,1199.8 L2013.5,1199.7 L2015.5,1199.7 L2017.5,1199.6 L2019.5,1199.6 L2021.5,1199.5 L2023.5,1199.5 L2025.5,1199.5 L2027.5,1199.5 L2029.5,1199.5 L2031.5,1199.5 L2033.5,1199.5 L2035.5,1199.5 L2037.5,1199.5" stroke="#00008b" stroke-dasharray="37.16 16.07"/>
<path d="M245.5,1225.5 L247.5,1226.7 L249.5,1227.9 L251.5,1229.1 L253.5,1230.3 L255.5,1231.5 L257.5,1232.6 L259.5,1233.8 L261.5,1235.0 L263.5,1236.3 L265.5,1237.5 L267.5,1238.8 L269.5,1240.2 L271.5,1241.5 L273.5,1243.0 L275.5,1244.4 L277.5,1245.8 L279.5,1247.2 L281.5,1248.6 L283.5,1249.9 L285.5,1251.1 L287.5,1252.1 L289.5,1253.0 L291.5,1253.8 L293.5,1254.3 L295.5,1254.7 L297.5,1255.0 L299.5,1255.1 L301.5,1255.1 L303.5,1255.1 L305.5,1255.0 L307.5,1254.8 L309.5,1254.7 L311.5,1254.6 L313.5,1254.5 L315.5,1254.4 L317.5,1254.3 L319.5,1254.2 L321.5,1254.1 L323.5,1254.0 L325.5,1254.0 L327.5,1253.9 L329.5,1253.9 L331.5,1253.8 L333.5,1253.8 L335.5,1253.8 L337.5,1253.7 L339.5,1253.7 L341.5,1253.7 L343.5,1253.7 L345.5,1253.7 L347.5,1253.7 L349.5,1253.7 L351.5,1253.7 L353.5,1253.7 L355.5,1253.7 L357.5,1253.8 L359.5,1253.8 L361.5,1253.8 L363.5,1253.8 L365.5,1253.9 L367.5,1253.9 L369.5,1253.9 L371.5,1254.0 L373.5,1254.0 L375.5,1254.1 L377.5,1254.1 L379.5,1254.1 L381.5,1254.2 L383.5,1254.2 L385.5,1254.2 L387.5,1254.2 L389.5,1254.2 L391.5,1254.3 L393.5,1254.3 L395.5,1254.3 L397.5,1254.3 L399.5,1254.2 L401.5,1254.2 L403.5,1254.2 L405.5,1254.2 L407.5,1254.1 L409.5,1254.1 L411.5,1254.0 L413.5,1254.0 L415.5,1253.9 L417.5,1253.9 L419.5,1253.8 L421.5,1253.8 L423.5,1253.7 L425.5,1253.6 L427.5,1253.5 L429.5,1253.5 L431.5,1253.4 L433.5,1253.3 L435.5,1253.2 L437.5,1253.2 L439.5,1253.1 L441.5,1253.0 L443.5,1252.9 L445.5,1252.8 L447.5,1252.8 L449.5,1252.7 L451.5,1252.6 L453.5,1252.5 L455.5,1252.5 L457.5,1252.4 L459.5,1252.3 L461.5,1252.3 L463.5,1252.2 L465.5,1252.1 L467.5,1252.1 L469.5,1252.0 L471.5,1252.0 L473.5,1252.0 L475.5,1251.9 L477.5,1251.9 L479.5,1251.9 L481.5,1251.9 L483.5,1251.9 L485.5,1251.9 L487.5,1251.9 L489.5,1251.9 L491.5,1251.9 L493.5,1251.9 L495.5,1251.9 L497.5,1251.9 L499.5,1251.9 L501.5,1251.9 L503.5,1251.8 L505.5,1251.8 L507.5,1251.7 L509.5,1251.5 L511.5,1251.4 L513.5,1251.2 L515.5,1250.9 L517.5,1250.6 L519.5,1250.3 L521.5,1249.9 L523.5,1249.5 L525.5,1249.0 L527.5,1248.5 L529.5,1247.9 L531.5,1247.3 L533.5,1246.7 L535.5,1246.0 L537.5,1245.3 L539.5,1244.6 L541.5,1243.8 L543.5,1243.1 L545.5,1242.3 L547.5,1241.5 L549.5,1240.7 L551.5,1239.9 L553.5,1239.2 L555.5,1238.4 L557.5,1237.6 L559.5,1236.8 L561.5,1236.1 L563.5,1235.3 L565.5,1234.6 L567.5,1233.9 L569.5,1233.2 L571.5,1232.5 L573.5,1231.9 L575.5,1231.3 L577.5,1230.7 L579.5,1230.1 L581.5,1229.6 L583.5,1229.1 L585.5,1228.6 L587.5,1228.2 L589.5,1227.8 L591.5,1227.4 L593.5,1227.1 L595.5,1226.9 L597.5,1226.7 L599.5,1226.5 L601.5,1226.4 L603.5,1226.3 L605.5,1226.3 L607.5,1226.4 L609.5,1226.5 L611.5,1226.6 L613.5,1226.8 L615.5,1227.0 L617.5,1227.3 L619.5,1227.5 L621.5,1227.8 L623.5,1228.1 L625.5,1228.5 L627.5,1228.8 L629.5,1229.1 L631.5,1229.4 L633.5,1229.6 L635.5,1229.9 L637.5,1230.1 L639.5,1230.3 L641.5,1230.4 L643.5,1230.5 L645.5,1230.6 L647.5,1230.6 L649.5,1230.5 L651.5,1230.4 L653.5,1230.3 L655.5,1230.1 L657.5,1229.9 L659.5,1229.7 L661.5,1229.4 L663.5,1229.1 L665.5,1228.8 L667.5,1228.4 L669.5,1228.0 L671.5,1227.6 L673.5,1227.1 L675.5,1226.6 L677.5,1226.1 L679.5,1225.6 L681.5,1225.0 L683.5,1224.4 L685.5,1223.8 L687.5,1223.2 L689.5,1222.5 L691.5,1221.9 L693.5,1221.2 L695.5,1220.5 L697.5,1219.8 L699.5,1219.0 L701.5,1218.3 L703.5,1217.6 L705.5,1216.9 L707.5,1216.1 L709.5,1215.4 L711.5,1214.7 L713.5,1214.0 L715.5,1213.3 L717.5,1212.6 L719.5,1211.9 L721.5,1211.3 L723.5,1210.7 L725.5,1210.1 L727.5,1209.5 L729.5,1209.0 L731.5,1208.5 L733.5,1208.1 L735.5,1207.7 L737.5,1207.3 L739.5,1207.0 L741.5,1206.7 L743.5,1206.5 L745.5,1206.4 L747.5,1206.3 L749.5,1206.2 L751.5,1206.2 L753.5,1206.2 L755.5,1206.2 L757.5,1206.2 L759.5,1206.2 L761.5,1206.3 L763.5,1206.3 L765.5,1206.2 L767.5,1206.2 L769.5,1206.1 L771.5,1206.1 L773.5,1206.0 L775.5,1205.9 L777.5,1205.8 L779.5,1205.7 L781.5,1205.6 L783.5,1205.5 L785.5,1205.3 L787.5,1205.2 L789.5,1205.0 L791.5,1204.9 L793.5,1204.7 L795.5,1204.6 L797.5,1204.4 L799.5,1204.2 L801.5,1204.1 L803.5,1203.9 L805.5,1203.8 L807.5,1203.6 L809.5,1203.5 L811.5,1203.3 L813.5,1203.2 L815.5,1203.0 L817.5,1202.9 L819.5,1202.8 L821.5,1202.7 L823.5,1202.6 L825.5,1202.5 L827.5,1202.4 L829.5,1202.3 L831.5,1202.2 L833.5,1202.2 L835.5,1202.1 L837.5,1202.0 L839.5,1202.0 L841.5,1201.9 L843.5,1201.9 L845.5,1201.8 L847.5,1201.8 L849.5,1201.8 L851.5,1201.8 L853.5,1201.7 L855.5,1201.7 L857.5,1201.7 L859.5,1201.7 L861.5,1201.7 L863.5,1201.7 L865.5,1201.6 L867.5,1201.6 L869.5,1201.6 L871.5,1201.6 L873.5,1201.6 L875.5,1201.6 L877.5,1201.6 L879.5,1201.7 L881.5,1201.7 L883.5,1201.7 L885.5,1201.7 L887.5,1201.7 L889.5,1201.7 L891.5,1201.7 L893.5,1201.7 L895.5,1201.7 L897.5,1201.7 L899.5,1201.7 L901.5,1201.7 L903.5,1201.7 L905.5,1201.7 L907.5,1201.7 L909.5,1201.7 L911.5,1201.7 L913.5,1201.7 L915.5,1201.7 L917.5,1201.7 L919.5,1201.7 L921.5,1201.6 L923.5,1201.6 L925.5,1201.6 L927.5,1201.5 L929.5,1201.5 L931.5,1201.5 L933.5,1201.4 L935.5,1201.4 L937.5,1201.3 L939.5,1201.3 L941.5,1201.2 L943.5,1201.1 L945.5,1201.0 L947.5,1200.9 L949.5,1200.9 L951.5,1200.8 L953.5,1200.7 L955.5,1200.5 L957.5,1200.4 L959.5,1200.3 L961.5,1200.2 L963.5,1200.0 L965.5,1199.9 L967.5,1199.8 L969.5,1199.6 L971.5,1199.5 L973.5,1199.3 L975.5,1199.2 L977.5,1199.0 L979.5,1198.9 L981.5,1198.8 L983.5,1198.6 L985.5,1198.5 L987.5,1198.4 L989.5,1198.3 L991.5,1198.2 L993.5,1198.1 L995.5,1198.0 L997.5,1197.9 L999.5,1197.9 L1001.5,1197.8 L1003.5,1197.8 L1005.5,1197.8 L1007.5,1197.8 L1009.5,1197.8 L1011.5,1197.9 L1013.5,1197.9 L1015.5,1198.0 L1017.5,1198.1 L1019.5,1198.2 L1021.5,1198.3 L1023.5,1198.4 L1025.5,1198.6 L1027.5,1198.8 L1029.5,1198.9 L1031.5,1199.1 L1033.5,1199.3 L1035.5,1199.5 L1037.5,1199.7 L1039.5,1199.9 L1041.5,1200.1 L1043.5,1200.3 L1045.5,1200.5 L1047.5,1200.7 L1049.5,1200.9 L1051.5,1201.1 L1053.5,1201.3 L1055.5,1201.5 L1057.5,1201.7 L1059.5,1201.9 L1061.5,1202.1 L1063.5,1202.3 L1065.5,1202.5 L1067.5,1202.7 L1069.5,1202.8 L1071.5,1203.0 L1073.5,1203.1 L1075.5,1203.3 L1077.5,1203.4 L1079.5,1203.5 L1081.5,1203.6 L1083.5,1203.8 L1085.5,1203.9 L1087.5,1204.0 L1089.5,1204.1 L1091.5,1204.1 L1093.5,1204.2 L1095.5,1204.3 L1097.5,1204.4 L1099.5,1204.4 L1101.5,1204.5 L1103.5,1204.5 L1105.5,1204.6 L1107.5,1204.6 L1109.5,1204.6 L1111.5,1204.7 L1113.5,1204.7 L1115.5,1204.7 L1117.5,1204.7 L1119.5,1204.7 L1121.5,1204.7 L1123.5,1204.7 L1125.5,1204.7 L1127.5,1204.7 L1129.5,1204.7 L1131.5,1204.7 L1133.5,1204.6 L1135.5,1204.6 L1137.5,1204.6 L1139.5,1204.6 L1141.5,1204.5 L1143.5,1204.5 L1145.5,1204.4 L1147.5,1204.4 L1149.5,1204.3 L1151.5,1204.3 L1153.5,1204.2 L1155.5,1204.1 L1157.5,1204.1 L1159.5,1204.0 L1161.5,1203.9 L1163.5,1203.9 L1165.5,1203.8 L1167.5,1203.7 L1169.5,1203.6 L1171.5,1203.6 L1173.5,1203.5 L1175.5,1203.4 L1177.5,1203.3 L1179.5,1203.2 L1181.5,1203.1 L1183.5,1203.0 L1185.5,1202.9 L1187.5,1202.8 L1189.5,1202.7 L1191.5,1202.7 L1193.5,1202.6 L1195.5,1202.5 L1197.5,1202.4 L1199.5,1202.3 L1201.5,1202.2 L1203.5,1202.1 L1205.5,1202.0 L1207.5,1201.9 L1209.5,1201.9 L1211.5,1201.8 L1213.5,1201.7 L1215.5,1201.7 L1217.5,1201.6 L1219.5,1201.6 L1221.5,1201.5 L1223.5,1201.5 L1225.5,1201.5 L1227.5,1201.5 L1229.5,1201.5 L1231.5,1201.5 L1233.5,1201.5 L1235.5,1201.5 L1237.5,1201.6 L1239.5,1201.6 L1241.5,1201.7 L1243.5,1201.7 L1245.5,1201.8 L1247.5,1201.9 L1249.5,1202.1 L1251.5,1202.2 L1253.5,1202.3 L1255.5,1202.5 L1257.5,1202.7 L1259.5,1202.9 L1261.5,1203.1 L1263.5,1203.4 L1265.5,1203.6 L1267.5,1203.9 L1269.5,1204.2 L1271.5,1204.5 L1273.5,1204.8 L1275.5,1205.2 L1277.5,1205.6 L1279.5,1206.0 L1281.5,1206.4 L1283.5,1206.8 L1285.5,1207.3 L1287.5,1207.7 L1289.5,1208.2 L1291.5,1208.7 L1293.5,1209.2 L1295.5,1209.7 L1297.5,1210.2 L1299.5,1210.7 L1301.5,1211.1 L1303.5,1211.6 L1305.5,1212.1 L1307.5,1212.6 L1309.5,1213.1 L1311.5,1213.5 L1313.5,1214.0 L1315.5,1214.4 L1317.5,1214.8 L1319.5,1215.2 L1321.5,1215.6 L1323.5,1215.9 L1325.5,1216.2 L1327.5,1216.5 L1329.5,1216.8 L1331.5,1217.0 L1333.5,1217.3 L1335.5,1217.4 L1337.5,1217.6 L1339.5,1217.7 L1341.5,1217.8 L1343.5,1217.9 L1345.5,1217.9 L1347.5,1218.0 L1349.5,1218.0 L1351.5,1218.0 L1353.5,1217.9 L1355.5,1217.9 L1357.5,1217.8 L1359.5,1217.7 L1361.5,1217.5 L1363.5,1217.4 L1365.5,1217.2 L1367.5,1217.0 L1369.5,1216.8 L1371.5,1216.6 L1373.5,1216.4 L1375.5,1216.1 L1377.5,1215.9 L1379.5,1215.6 L1381.5,1215.3 L1383.5,1215.0 L1385.5,1214.7 L1387.5,1214.4 L1389.5,1214.0 L1391.5,1213.7 L1393.5,1213.5 L1395.5,1213.2 L1397.5,1213.0 L1399.5,1212.7 L1401.5,1212.6 L1403.5,1212.4 L1405.5,1212.3 L1407.5,1212.2 L1409.5,1212.2 L1411.5,1212.1 L1413.5,1212.2 L1415.5,1212.2 L1417.5,1212.3 L1419.5,1212.3 L1421.5,1212.5 L1423.5,1212.6 L1425.5,1212.8 L1427.5,1213.0 L1429.5,1213.2 L1431.5,1213.5 L1433.5,1213.7 L1435.5,1214.0 L1437.5,1214.4 L1439.5,1214.7 L1441.5,1215.1 L1443.5,1215.5 L1445.5,1215.9 L1447.5,1216.3 L1449.5,1216.7 L1451.5,1217.1 L1453.5,1217.6 L1455.5,1218.0 L1457.5,1218.4 L1459.5,1218.9 L1461.5,1219.3 L1463.5,1219.8 L1465.5,1220.2 L1467.5,1220.6 L1469.5,1221.0 L1471.5,1221.5 L1473.5,1221.8 L1475.5,1222.2 L1477.5,1222.6 L1479.5,1222.9 L1481.5,1223.2 L1483.5,1223.5 L1485.5,1223.8 L1487.5,1224.0 L1489.5,1224.2 L1491.5,1224.4 L1493.5,1224.6 L1495.5,1224.7 L1497.5,1224.8 L1499.5,1224.9 L1501.5,1224.9 L1503.5,1225.0 L1505.5,1225.0 L1507.5,1225.0 L1509.5,1225.0 L1511.5,1225.0 L1513.5,1225.0 L1515.5,1224.9 L1517.5,1224.9 L1519.5,1224.8 L1521.5,1224.8 L1523.5,1224.7 L1525.5,1224.6 L1527.5,1224.5 L1529.5,1224.5 L1531.5,1224.4 L1533.5,1224.3 L1535.5,1224.2 L1537.5,1224.2 L1539.5,1224.1 L1541.5,1224.0 L1543.5,1224.0 L1545.5,1223.9 L1547.5,1223.9 L1549.5,1223.9 L1551.5,1223.9 L1553.5,1223.8 L1555.5,1223.8 L1557.5,1223.8 L1559.5,1223.8 L1561.5,1223.8 L1563.5,1223.8 L1565.5,1223.9 L1567.5,1223.9 L1569.5,1223.9 L1571.5,1223.9 L1573.5,1224.0 L1575.5,1224.0 L1577.5,1224.1 L1579.5,1224.2 L1581.5,1224.2 L1583.5,1224.3 L1585.5,1224.4 L1587.5,1224.5 L1589.5,1224.6 L1591.5,1224.7 L1593.5,1224.8 L1595.5,1224.9 L1597.5,1225.0 L1599.5,1225.1 L1601.5,1225.2 L1603.5,1225.4 L1605.5,1225.5 L1607.5,1225.7 L1609.5,1225.8 L1611.5,1226.0 L1613.5,1226.1 L1615.5,1226.3 L1617.5,1226.5 L1619.5,1226.6 L1621.5,1226.8 L1623.5,1227.0 L1625.5,1227.2 L1627.5,1227.4 L1629.5,1227.6 L1631.5,1227.8 L1633.5,1228.0 L1635.5,1228.2 L1637.5,1228.5 L1639.5,1228.7 L1641.5,1228.9 L1643.5,1229.2 L1645.5,1229.4 L1647.5,1229.7 L1649.5,1229.9 L1651.5,1230.2 L1653.5,1230.4 L1655.5,1230.7 L1657.5,1231.0 L1659.5,1231.3 L1661.5,1231.6 L1663.5,1231.8 L1665.5,1232.1 L1667.5,1232.4 L1669.5,1232.7 L1671.5,1233.0 L1673.5,1233.3 L1675.5,1233.6 L1677.5,1233.9 L1679.5,1234.2 L1681.5,1234.5 L1683.5,1234.8 L1685.5,1235.1 L1687.5,1235.4 L1689.5,1235.6 L1691.5,1235.9 L1693.5,1236.1 L1695.5,1236.4 L1697.5,1236.6 L1699.5,1236.8 L1701.5,1237.1 L1703.5,1237.2 L1705.5,1237.4 L1707.5,1237.6 L1709.5,1237.8 L1711.5,1237.9 L1713.5,1238.0 L1715.5,1238.1 L1717.5,1238.2 L1719.5,1238.3 L1721.5,1238.3 L1723.5,1238.4 L1725.5,1238.4 L1727.5,1238.4 L1729.5,1238.4 L1731.5,1238.4 L1733.5,1238.4 L1735.5,1238.5 L1737.5,1238.5 L1739.5,1238.5 L1741.5,1238.5 L1743.5,1238.5 L1745.5,1238.5 L1747.5,1238.6 L1749.5,1238.6 L1751.5,1238.7 L1753.5,1238.8 L1755.5,1238.9 L1757.5,1239.0 L1759.5,1239.1 L1761.5,1239.2 L1763.5,1239.4 L1765.5,1239.5 L1767.5,1239.7 L1769.5,1239.9 L1771.5,1240.0 L1773.5,1240.2 L1775.5,1240.4 L1777.5,1240.6 L1779.5,1240.8 L1781.5,1241.0 L1783.5,1241.3 L1785.5,1241.5 L1787.5,1241.7 L1789.5,1241.9 L1791.5,1242.1 L1793.5,1242.3 L1795.5,1242.5 L1797.5,1242.7 L1799.5,1242.9 L1801.5,1243.1 L1803.5,1243.3 L1805.5,1243.5 L1807.5,1243.7 L1809.5,1243.9 L1811.5,1244.0 L1813.5,1244.2 L1815.5,1244.3 L1817.5,1244.5 L1819.5,1244.6 L1821.5,1244.8 L1823.5,1244.9 L1825.5,1245.0 L1827.5,1245.1 L1829.5,1245.2 L1831.5,1245.3 L1833.5,1245.4 L1835.5,1245.5 L1837.5,1245.6 L1839.5,1245.7 L1841.5,1245.8 L1843.5,1245.9 L1845.5,1245.9 L1847.5,1246.0 L1849.5,1246.0 L1851.5,1246.1 L1853.5,1246.2 L1855.5,1246.2 L1857.5,1246.2 L1859.5,1246.3 L1861.5,1246.3 L1863.5,1246.3 L1865.5,1246.4 L1867.5,1246.4 L1869.5,1246.4 L1871.5,1246.4 L1873.5,1246.4 L1875.5,1246.4 L1877.5,1246.4 L1879.5,1246.4 L1881.5,1246.4 L1883.5,1246.4 L1885.5,1246.4 L1887.5,1246.4 L1889.5,1246.4 L1891.5,1246.3 L1893.5,1246.3 L1895.5,1246.3 L1897.5,1246.3 L1899.5,1246.2 L1901.5,1246.2 L1903.5,1246.2 L1905.5,1246.1 L1907.5,1246.1 L1909.5,1246.1 L1911.5,1246.0 L1913.5,1246.0 L1915.5,1245.9 L1917.5,1245.9 L1919.5,1245.9 L1921.5,1245.8 L1923.5,1245.8 L1925.5,1245.7 L1927.5,1245.7 L1929.5,1245.6 L1931.5,1245.6 L1933.5,1245.5 L1935.5,1245.4 L1937.5,1245.4 L1939.5,1245.3 L1941.5,1245.3 L1943.5,1245.2 L1945.5,1245.2 L1947.5,1245.1 L1949.5,1245.1 L1951.5,1245.0 L1953.5,1245.0 L1955.5,1244.9 L1957.5,1244.9 L1959.5,1244.8 L1961.5,1244.8 L1963.5,1244.7 L1965.5,1244.6 L1967.5,1244.6 L1969.5,1244.6 L1971.5,1244.5 L1973.5,1244.5 L1975.5,1244.4 L1977.5,1244.4 L1979.5,1244.3 L1981.5,1244.3 L1983.5,1244.3 L1985.5,1244.2 L1987.5,1244.2 L1989.5,1244.2 L1991.5,1244.1 L1993.5,1244.1 L1995.5,1244.1 L1997.5,1244.1 L1999.5,1244.0 L2001.5,1244.0 L2003.5,1244.0 L2005.5,1244.0 L2007.5,1244.0 L2009.5,1244.0 L2011.5,1244.0 L2013.5,1244.0 L2015.5,1244.0 L2017.5,1244.0 L2019.5,1244.0 L2021.5,1244.0 L2023.5,1244.0 L2025.5,1244.1 L2027.5,1244.1 L2029.5,1244.1 L2031.5,1244.2 L2033.5,1244.2 L2035.5,1244.2 L2037.5,1244.3" stroke="#00008b" stroke-dasharray="37.16 16.07"/>
<path d="M245.5,1233.3 L247.5,1234.8 L249.5,1236.3 L251.5,1237.7 L253.5,1239.2 L255.5,1240.6 L257.5,1242.1 L259.5,1243.5 L261.5,1244.9 L263.5,1246.4 L265.5,1247.9 L267.5,1249.3 L269.5,1250.9 L271.5,1252.4 L273.5,1254.0 L275.5,1255.6 L277.5,1257.2 L279.5,1258.7 L281.5,1260.2 L283.5,1261.5 L285.5,1262.7 L287.5,1263.8 L289.5,1264.6 L291.5,1265.1 L293.5,1265.5 L295.5,1265.6 L297.5,1265.6 L299.5,1265.4 L301.5,1265.3 L303.5,1265.1 L305.5,1265.0 L307.5,1264.8 L309.5,1264.7 L311.5,1264.6 L313.5,1264.5 L315.5,1264.4 L317.5,1264.3 L319.5,1264.3 L321.5,1264.2 L323.5,1264.1 L325.5,1264.1 L327.5,1264.0 L329.5,1264.0 L331.5,1264.0 L333.5,1264.0 L335.5,1264.0 L337.5,1263.9 L339.5,1263.9 L341.5,1263.9 L343.5,1264.0 L345.5,1264.0 L347.5,1264.0 L349.5,1264.0 L351.5,1264.0 L353.5,1264.0 L355.5,1264.1 L357.5,1264.1 L359.5,1264.1 L361.5,1264.2 L363.5,1264.2 L365.5,1264.2 L367.5,1264.3 L369.5,1264.3 L371.5,1264.3 L373.5,1264.4 L375.5,1264.4 L377.5,1264.4 L379.5,1264.4 L381.5,1264.5 L383.5,1264.5 L385.5,1264.5 L387.5,1264.5 L389.5,1264.5 L391.5,1264.5 L393.5,1264.5 L395.5,1264.5 L397.5,1264.5 L399.5,1264.5 L401.5,1264.4 L403.5,1264.4 L405.5,1264.4 L407.5,1264.3 L409.5,1264.3 L411.5,1264.2 L413.5,1264.2 L415.5,1264.1 L417.5,1264.1 L419.5,1264.0 L421.5,1264.0 L423.5,1263.9 L425.5,1263.9 L427.5,1263.8 L429.5,1263.7 L431.5,1263.7 L433.5,1263.6 L435.5,1263.5 L437.5,1263.5 L439.5,1263.4 L441.5,1263.3 L443.5,1263.3 L445.5,1263.2 L447.5,1263.2 L449.5,1263.1 L451.5,1263.1 L453.5,1263.0 L455.5,1263.0 L457.5,1262.9 L459.5,1262.9 L461.5,1262.9 L463.5,1262.8 L465.5,1262.8 L467.5,1262.8 L469.5,1262.8 L471.5,1262.8 L473.5,1262.8 L475.5,1262.8 L477.5,1262.8 L479.5,1262.8 L481.5,1262.9 L483.5,1262.9 L485.5,1262.9 L487.5,1263.0 L489.5,1263.1 L491.5,1263.1 L493.5,1263.2 L495.5,1263.2 L497.5,1263.3 L499.5,1263.3 L501.5,1263.3 L503.5,1263.3 L505.5,1263.3 L507.5,1263.2 L509.5,1263.1 L511.5,1263.0 L513.5,1262.8 L515.5,1262.6 L517.5,1262.4 L519.5,1262.1 L521.5,1261.8 L523.5,1261.4 L525.5,1260.9 L527.5,1260.4 L529.5,1259.9 L531.5,1259.3 L533.5,1258.7 L535.5,1258.1 L537.5,1257.4 L539.5,1256.7 L541.5,1256.0 L543.5,1255.3 L545.5,1254.5 L547.5,1253.8 L549.5,1253.0 L551.5,1252.2 L553.5,1251.4 L555.5,1250.5 L557.5,1249.7 L559.5,1248.9 L561.5,1248.1 L563.5,1247.3 L565.5,1246.6 L567.5,1245.8 L569.5,1245.1 L571.5,1244.4 L573.5,1243.7 L575.5,1243.1 L577.5,1242.5 L579.5,1242.0 L581.5,1241.5 L583.5,1241.1 L585.5,1240.8 L587.5,1240.5 L589.5,1240.2 L591.5,1240.1 L593.5,1240.0 L595.5,1239.9 L597.5,1239.9 L599.5,1240.0 L601.5,1240.1 L603.5,1240.2 L605.5,1240.4 L607.5,1240.5 L609.5,1240.7 L611.5,1241.0 L613.5,1241.2 L615.5,1241.5 L617.5,1241.8 L619.5,1242.0 L621.5,1242.3 L623.5,1242.6 L625.5,1243.0 L627.5,1243.3 L629.5,1243.6 L631.5,1243.9 L633.5,1244.2 L635.5,1244.6 L637.5,1244.9 L639.5,1245.2 L641.5,1245.5 L643.5,1245.7 L645.5,1246.0 L647.5,1246.2 L649.5,1246.4 L651.5,1246.5 L653.5,1246.6 L655.5,1246.6 L657.5,1246.6 L659.5,1246.4 L661.5,1246.2 L663.5,1245.9 L665.5,1245.6 L667.5,1245.2 L669.5,1244.7 L671.5,1244.2 L673.5,1243.6 L675.5,1243.0 L677.5,1242.4 L679.5,1241.8 L681.5,1241.1 L683.5,1240.4 L685.5,1239.7 L687.5,1239.0 L689.5,1238.3 L691.5,1237.6 L693.5,1237.0 L695.5,1236.3 L697.5,1235.7 L699.5,1235.0 L701.5,1234.4 L703.5,1233.9 L705.5,1233.3 L707.5,1232.7 L709.5,1232.2 L711.5,1231.7 L713.5,1231.2 L715.5,1230.7 L717.5,1230.3 L719.5,1229.8 L721.5,1229.4 L723.5,1229.0 L725.5,1228.6 L727.5,1228.2 L729.5,1227.8 L731.5,1227.4 L733.5,1227.1 L735.5,1226.7 L737.5,1226.4 L739.5,1226.1 L741.5,1225.8 L743.5,1225.5 L745.5,1225.2 L747.5,1225.0 L749.5,1224.7 L751.5,1224.4 L753.5,1224.2 L755.5,1224.0 L757.5,1223.8 L759.5,1223.5 L761.5,1223.3 L763.5,1223.1 L765.5,1223.0 L767.5,1222.8 L769.5,1222.6 L771.5,1222.4 L773.5,1222.3 L775.5,1222.1 L777.5,1222.0 L779.5,1221.9 L781.5,1221.7 L783.5,1221.6 L785.5,1221.5 L787.5,1221.4 L789.5,1221.3 L791.5,1221.2 L793.5,1221.1 L795.5,1221.0 L797.5,1220.9 L799.5,1220.8 L801.5,1220.8 L803.5,1220.7 L805.5,1220.7 L807.5,1220.6 L809.5,1220.6 L811.5,1220.5 L813.5,1220.5 L815.5,1220.4 L817.5,1220.4 L819.5,1220.4 L821.5,1220.4 L823.5,1220.3 L825.5,1220.3 L827.5,1220.3 L829.5,1220.3 L831.5,1220.3 L833.5,1220.3 L835.5,1220.3 L837.5,1220.3 L839.5,1220.3 L841.5,1220.4 L843.5,1220.4 L845.5,1220.4 L847.5,1220.4 L849.5,1220.4 L851.5,1220.4 L853.5,1220.5 L855.5,1220.5 L857.5,1220.5 L859.5,1220.6 L861.5,1220.6 L863.5,1220.6 L865.5,1220.7 L867.5,1220.7 L869.5,1220.7 L871.5,1220.8 L873.5,1220.8 L875.5,1220.8 L877.5,1220.9 L879.5,1220.9 L881.5,1220.9 L883.5,1221.0 L885.5,1221.0 L887.5,1221.0 L889.5,1221.1 L891.5,1221.1 L893.5,1221.1 L895.5,1221.2 L897.5,1221.2 L899.5,1221.2 L901.5,1221.2 L903.5,1221.2 L905.5,1221.3 L907.5,1221.3 L909.5,1221.3 L911.5,1221.3 L913.5,1221.3 L915.5,1221.3 L917.5,1221.3 L919.5,1221.3 L921.5,1221.3 L923.5,1221.3 L925.5,1221.3 L927.5,1221.2 L929.5,1221.2 L931.5,1221.2 L933.5,1221.1 L935.5,1221.1 L937.5,1221.0 L939.5,1221.0 L941.5,1220.9 L943.5,1220.8 L945.5,1220.7 L947.5,1220.6 L949.5,1220.5 L951.5,1220.4 L953.5,1220.3 L955.5,1220.1 L957.5,1220.0 L959.5,1219.8 L961.5,1219.7 L963.5,1219.5 L965.5,1219.3 L967.5,1219.2 L969.5,1219.0 L971.5,1218.8 L973.5,1218.6 L975.5,1218.4 L977.5,1218.3 L979.5,1218.1 L981.5,1217.9 L983.5,1217.7 L985.5,1217.6 L987.5,1217.4 L989.5,1217.3 L991.5,1217.2 L993.5,1217.0 L995.5,1216.9 L997.5,1216.9 L999.5,1216.8 L1001.5,1216.7 L1003.5,1216.7 L1005.5,1216.7 L1007.5,1216.7 L1009.5,1216.7 L1011.5,1216.8 L1013.5,1216.8 L1015.5,1216.9 L1017.5,1217.1 L1019.5,1217.2 L1021.5,1217.3 L1023.5,1217.5 L1025.5,1217.7 L1027.5,1217.9 L1029.5,1218.1 L1031.5,1218.4 L1033.5,1218.6 L1035.5,1218.8 L1037.5,1219.1 L1039.5,1219.3 L1041.5,1219.6 L1043.5,1219.9 L1045.5,1220.1 L1047.5,1220.4 L1049.5,1220.6 L1051.5,1220.9 L1053.5,1221.2 L1055.5,1221.4 L1057.5,1221.6 L1059.5,1221.9 L1061.5,1222.1 L1063.5,1222.3 L1065.5,1222.5 L1067.5,1222.7 L1069.5,1222.9 L1071.5,1223.0 L1073.5,1223.2 L1075.5,1223.3 L1077.5,1223.4 L1079.5,1223.5 L1081.5,1223.7 L1083.5,1223.8 L1085.5,1223.9 L1087.5,1223.9 L1089.5,1224.0 L1091.5,1224.1 L1093.5,1224.1 L1095.5,1224.2 L1097.5,1224.2 L1099.5,1224.3 L1101.5,1224.3 L1103.5,1224.4 L1105.5,1224.4 L1107.5,1224.4 L1109.5,1224.4 L1111.5,1224.4 L1113.5,1224.5 L1115.5,1224.5 L1117.5,1224.5 L1119.5,1224.5 L1121.5,1224.5 L1123.5,1224.5 L1125.5,1224.5 L1127.5,1224.5 L1129.5,1224.5 L1131.5,1224.5 L1133.5,1224.5 L1135.5,1224.6 L1137.5,1224.6 L1139.5,1224.6 L1141.5,1224.6 L1143.5,1224.6 L1145.5,1224.6 L1147.5,1224.6 L1149.5,1224.6 L1151.5,1224.7 L1153.5,1224.7 L1155.5,1224.7 L1157.5,1224.7 L1159.5,1224.7 L1161.5,1224.7 L1163.5,1224.7 L1165.5,1224.6 L1167.5,1224.6 L1169.5,1224.6 L1171.5,1224.6 L1173.5,1224.6 L1175.5,1224.5 L1177.5,1224.5 L1179.5,1224.4 L1181.5,1224.4 L1183.5,1224.3 L1185.5,1224.2 L1187.5,1224.2 L1189.5,1224.1 L1191.5,1224.0 L1193.5,1223.9 L1195.5,1223.8 L1197.5,1223.7 L1199.5,1223.5 L1201.5,1223.4 L1203.5,1223.3 L1205.5,1223.2 L1207.5,1223.1 L1209.5,1222.9 L1211.5,1222.8 L1213.5,1222.7 L1215.5,1222.6 L1217.5,1222.5 L1219.5,1222.4 L1221.5,1222.3 L1223.5,1222.2 L1225.5,1222.1 L1227.5,1222.0 L1229.5,1221.9 L1231.5,1221.8 L1233.5,1221.7 L1235.5,1221.7 L1237.5,1221.6 L1239.5,1221.6 L1241.5,1221.6 L1243.5,1221.6 L1245.5,1221.6 L1247.5,1221.6 L1249.5,1221.6 L1251.5,1221.7 L1253.5,1221.8 L1255.5,1221.8 L1257.5,1221.9 L1259.5,1222.1 L1261.5,1222.2 L1263.5,1222.4 L1265.5,1222.5 L1267.5,1222.7 L1269.5,1223.0 L1271.5,1223.2 L1273.5,1223.5 L1275.5,1223.8 L1277.5,1224.1 L1279.5,1224.4 L1281.5,1224.8 L1283.5,1225.2 L1285.5,1225.6 L1287.5,1226.0 L1289.5,1226.5 L1291.5,1226.9 L1293.5,1227.4 L1295.5,1227.8 L1297.5,1228.3 L1299.5,1228.8 L1301.5,1229.2 L1303.5,1229.7 L1305.5,1230.2 L1307.5,1230.7 L1309.5,1231.1 L1311.5,1231.6 L1313.5,1232.1 L1315.5,1232.5 L1317.5,1232.9 L1319.5,1233.3 L1321.5,1233.7 L1323.5,1234.1 L1325.5,1234.5 L1327.5,1234.8 L1329.5,1235.1 L1331.5,1235.4 L1333.5,1235.7 L1335.5,1235.9 L1337.5,1236.1 L1339.5,1236.3 L1341.5,1236.5 L1343.5,1236.6 L1345.5,1236.8 L1347.5,1236.9 L1349.5,1236.9 L1351.5,1237.0 L1353.5,1237.0 L1355.5,1237.0 L1357.5,1237.0 L1359.5,1237.0 L1361.5,1237.0 L1363.5,1236.9 L1365.5,1236.8 L1367.5,1236.7 L1369.5,1236.6 L1371.5,1236.4 L1373.5,1236.3 L1375.5,1236.1 L1377.5,1235.9 L1379.5,1235.7 L1381.5,1235.5 L1383.5,1235.2 L1385.5,1235.0 L1387.5,1234.7 L1389.5,1234.4 L1391.5,1234.2 L1393.5,1233.9 L1395.5,1233.7 L1397.5,1233.5 L1399.5,1233.3 L1401.5,1233.1 L1403.5,1233.0 L1405.5,1232.8 L1407.5,1232.7 L1409.5,1232.7 L1411.5,1232.6 L1413.5,1232.6 L1415.5,1232.6 L1417.5,1232.6 L1419.5,1232.7 L1421.5,1232.7 L1423.5,1232.8 L1425.5,1232.9 L1427.5,1233.1 L1429.5,1233.3 L1431.5,1233.4 L1433.5,1233.7 L1435.5,1233.9 L1437.5,1234.2 L1439.5,1234.5 L1441.5,1234.8 L1443.5,1235.1 L1445.5,1235.4 L1447.5,1235.8 L1449.5,1236.2 L1451.5,1236.5 L1453.5,1236.9 L1455.5,1237.3 L1457.5,1237.7 L1459.5,1238.1 L1461.5,1238.5 L1463.5,1238.9 L1465.5,1239.3 L1467.5,1239.7 L1469.5,1240.0 L1471.5,1240.4 L1473.5,1240.8 L1475.5,1241.1 L1477.5,1241.5 L1479.5,1241.8 L1481.5,1242.1 L1483.5,1242.3 L1485.5,1242.6 L1487.5,1242.8 L1489.5,1243.0 L1491.5,1243.2 L1493.5,1243.4 L1495.5,1243.5 L1497.5,1243.6 L1499.5,1243.7 L1501.5,1243.8 L1503.5,1243.9 L1505.5,1243.9 L1507.5,1244.0 L1509.5,1244.0 L1511.5,1244.0 L1513.5,1244.0 L1515.5,1244.0 L1517.5,1244.0 L1519.5,1244.0 L1521.5,1243.9 L1523.5,1243.9 L1525.5,1243.8 L1527.5,1243.8 L1529.5,1243.7 L1531.5,1243.7 L1533.5,1243.6 L1535.5,1243.6 L1537.5,1243.5 L1539.5,1243.5 L1541.5,1243.4 L1543.5,1243.4 L1545.5,1243.3 L1547.5,1243.3 L1549.5,1243.2 L1551.5,1243.2 L1553.5,1243.2 L1555.5,1243.1 L1557.5,1243.1 L1559.5,1243.1 L1561.5,1243.1 L1563.5,1243.1 L1565.5,1243.1 L1567.5,1243.1 L1569.5,1243.1 L1571.5,1243.1 L1573.5,1243.1 L1575.5,1243.1 L1577.5,1243.1 L1579.5,1243.2 L1581.5,1243.2 L1583.5,1243.2 L1585.5,1243.3 L1587.5,1243.3 L1589.5,1243.3 L1591.5,1243.4 L1593.5,1243.5 L1595.5,1243.5 L1597.5,1243.6 L1599.5,1243.7 L1601.5,1243.7 L1603.5,1243.8 L1605.5,1243.9 L1607.5,1244.0 L1609.5,1244.1 L1611.5,1244.2 L1613.5,1244.3 L1615.5,1244.4 L1617.5,1244.5 L1619.5,1244.7 L1621.5,1244.8 L1623.5,1244.9 L1625.5,1245.1 L1627.5,1245.2 L1629.5,1245.4 L1631.5,1245.6 L1633.5,1245.7 L1635.5,1245.9 L1637.5,1246.1 L1639.5,1246.3 L1641.5,1246.5 L1643.5,1246.7 L1645.5,1246.9 L1647.5,1247.1 L1649.5,1247.3 L1651.5,1247.5 L1653.5,1247.8 L1655.5,1248.0 L1657.5,1248.3 L1659.5,1248.5 L1661.5,1248.8 L1663.5,1249.0 L1665.5,1249.3 L1667.5,1249.6 L1669.5,1249.9 L1671.5,1250.2 L1673.5,1250.5 L1675.5,1250.7 L1677.5,1251.0 L1679.5,1251.3 L1681.5,1251.6 L1683.5,1251.9 L1685.5,1252.1 L1687.5,1252.4 L1689.5,1252.7 L1691.5,1252.9 L1693.5,1253.2 L1695.5,1253.4 L1697.5,1253.6 L1699.5,1253.8 L1701.5,1254.0 L1703.5,1254.1 L1705.5,1254.3 L1707.5,1254.4 L1709.5,1254.5 L1711.5,1254.6 L1713.5,1254.7 L1715.5,1254.7 L1717.5,1254.8 L1719.5,1254.8 L1721.5,1254.7 L1723.5,1254.7 L1725.5,1254.7 L1727.5,1254.6 L1729.5,1254.6 L1731.5,1254.5 L1733.5,1254.4 L1735.5,1254.4 L1737.5,1254.3 L1739.5,1254.3 L1741.5,1254.2 L1743.5,1254.2 L1745.5,1254.2 L1747.5,1254.2 L1749.5,1254.2 L1751.5,1254.3 L1753.5,1254.3 L1755.5,1254.4 L1757.5,1254.6 L1759.5,1254.7 L1761.5,1254.9 L1763.5,1255.0 L1765.5,1255.2 L1767.5,1255.4 L1769.5,1255.6 L1771.5,1255.9 L1773.5,1256.1 L1775.5,1256.4 L1777.5,1256.6 L1779.5,1256.9 L1781.5,1257.1 L1783.5,1257.4 L1785.5,1257.7 L1787.5,1257.9 L1789.5,1258.2 L1791.5,1258.4 L1793.5,1258.7 L1795.5,1258.9 L1797.5,1259.2 L1799.5,1259.4 L1801.5,1259.6 L1803.5,1259.8 L1805.5,1259.9 L1807.5,1260.1 L1809.5,1260.2 L1811.5,1260.4 L1813.5,1260.5 L1815.5,1260.6 L1817.5,1260.7 L1819.5,1260.7 L1821.5,1260.8 L1823.5,1260.9 L1825.5,1260.9 L1827.5,1261.0 L1829.5,1261.0 L1831.5,1261.0 L1833.5,1261.0 L1835.5,1261.0 L1837.5,1261.1 L1839.5,1261.1 L1841.5,1261.1 L1843.5,1261.1 L1845.5,1261.1 L1847.5,1261.1 L1849.5,1261.1 L1851.5,1261.1 L1853.5,1261.1 L1855.5,1261.1 L1857.5,1261.1 L1859.5,1261.1 L1861.5,1261.1 L1863.5,1261.2 L1865.5,1261.2 L1867.5,1261.2 L1869.5,1261.3 L1871.5,1261.3 L1873.5,1261.4 L1875.5,1261.5 L1877.5,1261.6 L1879.5,1261.7 L1881.5,1261.8 L1883.5,1261.9 L1885.5,1262.0 L1887.5,1262.1 L1889.5,1262.3 L1891.5,1262.4 L1893.5,1262.5 L1895.5,1262.7 L1897.5,1262.8 L1899.5,1263.0 L1901.5,1263.1 L1903.5,1263.3 L1905.5,1263.4 L1907.5,1263.5 L1909.5,1263.7 L1911.5,1263.8 L1913.5,1263.9 L1915.5,1264.1 L1917.5,1264.2 L1919.5,1264.3 L1921.5,1264.4 L1923.5,1264.5 L1925.5,1264.5 L1927.5,1264.6 L1929.5,1264.7 L1931.5,1264.7 L1933.5,1264.8 L1935.5,1264.8 L1937.5,1264.8 L1939.5,1264.8 L1941.5,1264.8 L1943.5,1264.8 L1945.5,1264.8 L1947.5,1264.8 L1949.5,1264.7 L1951.5,1264.7 L1953.5,1264.7 L1955.5,1264.6 L1957.5,1264.6 L1959.5,1264.5 L1961.5,1264.5 L1963.5,1264.4 L1965.5,1264.4 L1967.5,1264.3 L1969.5,1264.3 L1971.5,1264.2 L1973.5,1264.2 L1975.5,1264.1 L1977.5,1264.1 L1979.5,1264.0 L1981.5,1264.0 L1983.5,1263.9 L1985.5,1263.9 L1987.5,1263.9 L1989.5,1263.8 L1991.5,1263.8 L1993.5,1263.8 L1995.5,1263.8 L1997.5,1263.8 L1999.5,1263.8 L2001.5,1263.8 L2003.5,1263.8 L2005.5,1263.9 L2007.5,1263.9 L2009.5,1264.0 L2011.5,1264.0 L2013.5,1264.1 L2015.5,1264.2 L2017.5,1264.3 L2019.5,1264.4 L2021.5,1264.6 L2023.5,1264.7 L2025.5,1264.9 L2027.5,1265.0 L2029.5,1265.2 L2031.5,1265.5 L2033.5,1265.7 L2035.5,1265.9 L2037.5,1266.2" stroke="#00008b" stroke-dasharray="37.16 16.07"/>
</g></g>
<rect x="245.5" y="33.7" width="1793.5" height="1337.3" fill="none" stroke="#000" stroke-width="7.5"/>
<text class="t" transform="translate(432.0,1446.6) scale(1,1.025)" text-anchor="middle">450</text>
<text class="t" transform="translate(751.9,1446.6) scale(1,1.025)" text-anchor="middle">500</text>
<text class="t" transform="translate(1071.8,1446.6) scale(1,1.025)" text-anchor="middle">550</text>
<text class="t" transform="translate(1391.7,1446.6) scale(1,1.025)" text-anchor="middle">600</text>
<text class="t" transform="translate(1711.6,1446.6) scale(1,1.025)" text-anchor="middle">650</text>
<text class="t" transform="translate(2031.5,1446.6) scale(1,1.025)" text-anchor="middle">700</text>
<text class="t" transform="translate(209.3,1351.5) scale(1,1.025)" text-anchor="end">0.00</text>
<text class="t" transform="translate(209.3,1175.7) scale(1,1.025)" text-anchor="end">0.02</text>
<text class="t" transform="translate(209.3,999.8) scale(1,1.025)" text-anchor="end">0.04</text>
<text class="t" transform="translate(209.3,823.9) scale(1,1.025)" text-anchor="end">0.06</text>
<text class="t" transform="translate(209.3,648.1) scale(1,1.025)" text-anchor="end">0.08</text>
<text class="t" transform="translate(209.3,472.2) scale(1,1.025)" text-anchor="end">0.10</text>
<text class="t" transform="translate(209.3,296.4) scale(1,1.025)" text-anchor="end">0.12</text>
<text class="t" transform="translate(209.3,120.5) scale(1,1.025)" text-anchor="end">0.14</text>
<text class="l" x="1141.5" y="1526.3" text-anchor="middle">Wavelength</text>
<text class="l" transform="translate(69.8,704.9) rotate(-90)" text-anchor="middle">Reflectance</text>
<text class="t" x="1711.6" y="276.5">Domain 1</text>
<text class="t" x="1263.7" y="1041.4">Domain 2</text>
<text class="t" x="1039.8" y="1331.6">Domain 5</text>
</svg></body></html>
